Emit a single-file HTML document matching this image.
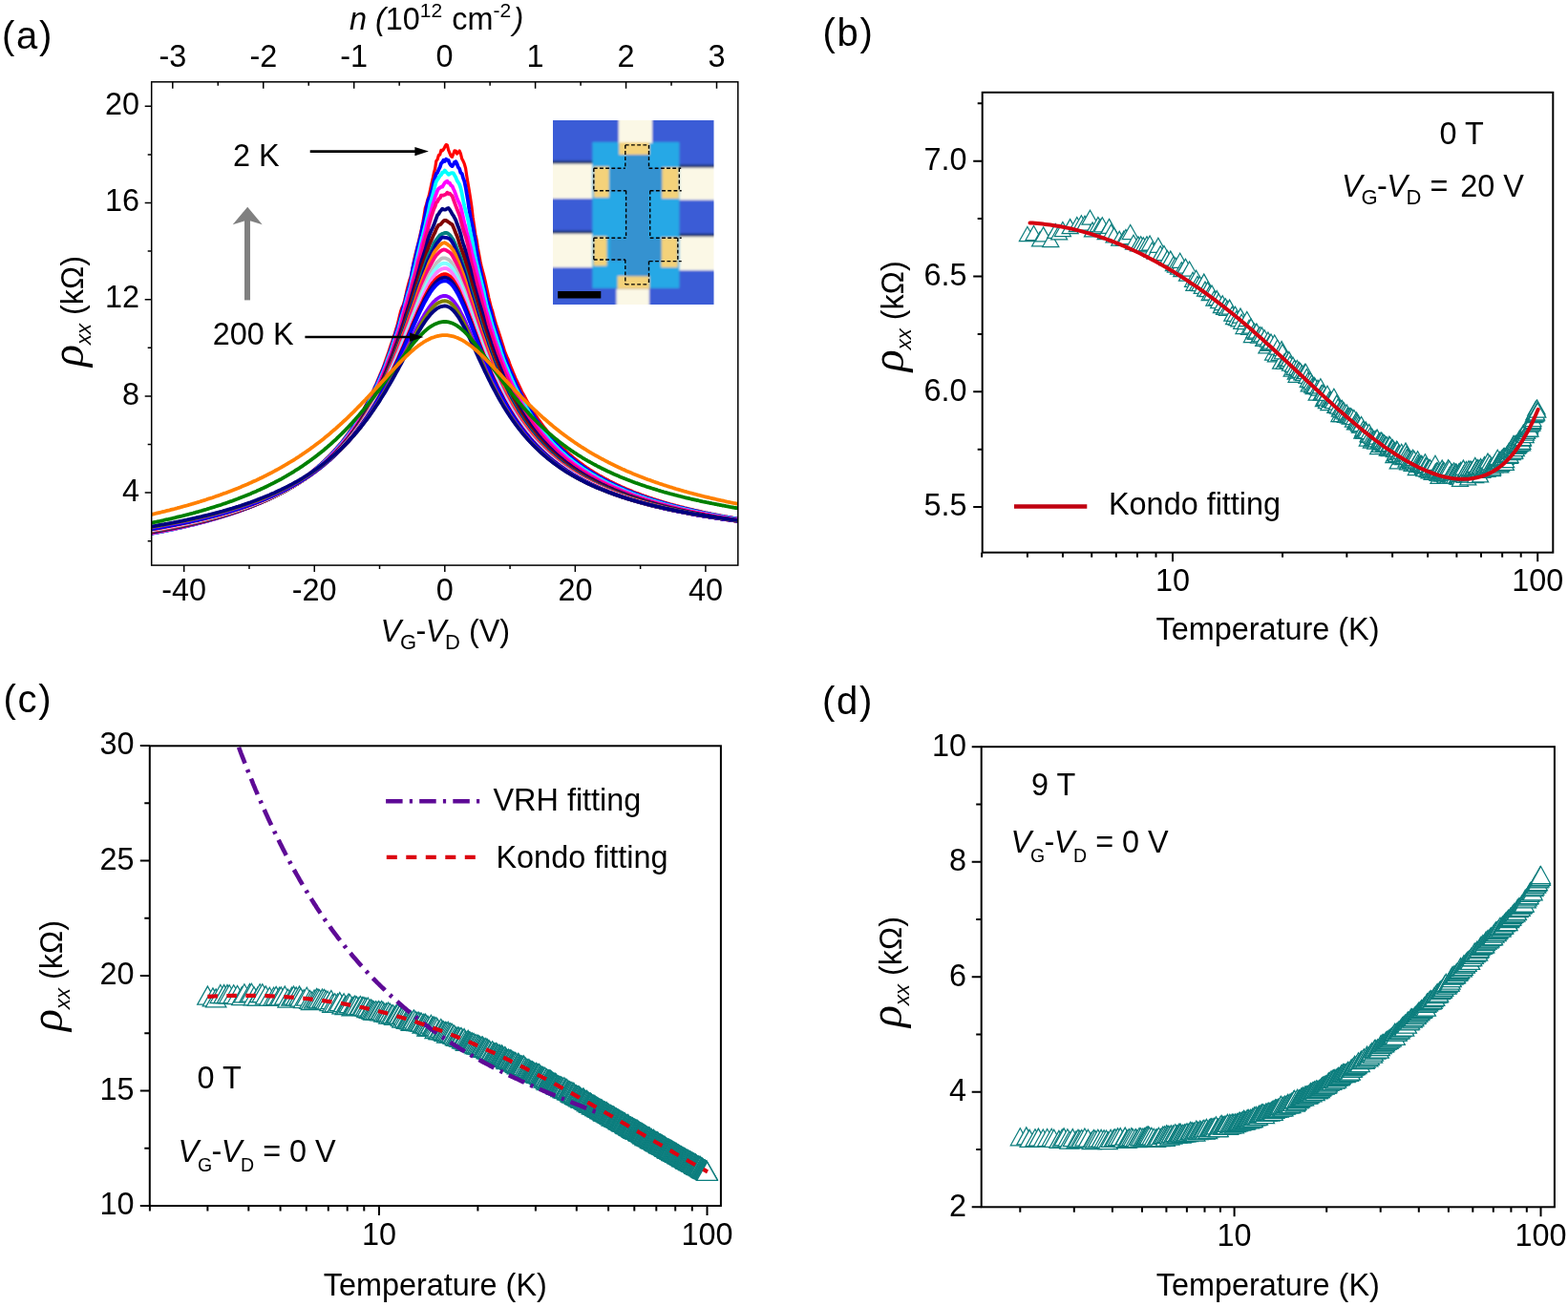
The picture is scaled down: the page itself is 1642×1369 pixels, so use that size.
<!DOCTYPE html>
<html><head><meta charset="utf-8"><title>Figure</title>
<style>html,body{margin:0;padding:0;background:#fff;} svg{display:block;}</style></head>
<body>
<svg width="1642" height="1369" viewBox="0 0 1642 1369" font-family='"Liberation Sans", Arial, sans-serif' fill="#000">
<rect width="1642" height="1369" fill="#fff"/>
<g id="pa">
<clipPath id="ca"><rect x="158.7" y="85.8" width="614.0999999999999" height="506.3"/></clipPath>
<g clip-path="url(#ca)" fill="none" stroke-linejoin="round">
<path d="M158.6,559.0 L159.8,558.8 L161.1,558.5 L162.4,558.3 L163.7,558.1 L165.0,557.8 L166.2,557.6 L167.5,557.3 L168.8,557.1 L170.1,556.8 L171.4,556.6 L172.6,556.3 L173.9,556.0 L175.2,555.8 L176.5,555.5 L177.8,555.2 L179.0,555.0 L180.3,554.7 L181.6,554.4 L182.9,554.2 L184.2,553.9 L185.4,553.6 L186.7,553.3 L188.0,553.0 L189.3,552.7 L190.6,552.4 L191.8,552.1 L193.1,551.9 L194.4,551.6 L195.7,551.3 L197.0,550.9 L198.2,550.6 L199.5,550.3 L200.8,550.0 L202.1,549.7 L203.4,549.4 L204.6,549.1 L205.9,548.7 L207.2,548.4 L208.5,548.1 L209.8,547.7 L211.0,547.4 L212.3,547.1 L213.6,546.7 L214.9,546.4 L216.2,546.0 L217.4,545.7 L218.7,545.3 L220.0,545.0 L221.3,544.6 L222.6,544.2 L223.9,543.9 L225.1,543.5 L226.4,543.1 L227.7,542.7 L229.0,542.3 L230.3,541.9 L231.5,541.5 L232.8,541.1 L234.1,540.7 L235.4,540.3 L236.7,539.9 L237.9,539.5 L239.2,539.1 L240.5,538.7 L241.8,538.2 L243.1,537.8 L244.3,537.3 L245.6,536.9 L246.9,536.5 L248.2,536.0 L249.5,535.5 L250.7,535.1 L252.0,534.6 L253.3,534.1 L254.6,533.7 L255.9,533.2 L257.1,532.7 L258.4,532.2 L259.7,531.7 L261.0,531.2 L262.3,530.7 L263.5,530.1 L264.8,529.6 L266.1,529.1 L267.4,528.5 L268.7,528.0 L269.9,527.4 L271.2,526.9 L272.5,526.3 L273.8,525.7 L275.1,525.2 L276.3,524.6 L277.6,524.0 L278.9,523.4 L280.2,522.8 L281.5,522.1 L282.7,521.5 L284.0,520.9 L285.3,520.2 L286.6,519.6 L287.9,518.9 L289.1,518.3 L290.4,517.6 L291.7,516.9 L293.0,516.2 L294.3,515.5 L295.5,514.8 L296.8,514.1 L298.1,513.3 L299.4,512.6 L300.7,511.8 L301.9,511.1 L303.2,510.3 L304.5,509.5 L305.8,508.7 L307.1,507.9 L308.3,507.1 L309.6,506.2 L310.9,505.4 L312.2,504.5 L313.5,503.7 L314.7,502.8 L316.0,501.9 L317.3,501.0 L318.6,500.0 L319.9,499.1 L321.1,498.1 L322.4,497.2 L323.7,496.2 L325.0,495.2 L326.3,494.2 L327.5,493.1 L328.8,492.1 L330.1,491.0 L331.4,489.9 L332.7,488.8 L333.9,487.7 L335.2,486.6 L336.5,485.4 L337.8,484.2 L339.1,483.0 L340.3,481.8 L341.6,480.5 L342.9,479.3 L344.2,478.0 L345.5,476.7 L346.7,475.3 L348.0,474.0 L349.3,472.6 L350.6,471.2 L351.9,469.8 L353.1,468.3 L354.4,466.8 L355.7,465.3 L357.0,463.8 L358.3,462.2 L359.5,460.6 L360.8,458.9 L362.1,457.2 L363.4,455.6 L364.7,453.8 L365.9,452.0 L367.2,450.2 L368.5,448.4 L369.8,446.5 L371.1,444.6 L372.3,442.6 L373.6,440.6 L374.9,438.6 L376.2,436.5 L377.5,434.3 L378.7,432.1 L380.0,430.0 L381.3,427.8 L382.6,425.3 L383.9,422.9 L385.2,420.4 L386.4,418.0 L387.7,415.4 L389.0,412.9 L390.3,410.2 L391.6,407.4 L392.8,404.6 L394.1,401.8 L395.4,398.7 L396.7,395.5 L398.0,392.4 L399.2,389.5 L400.5,386.8 L401.8,383.4 L403.1,379.6 L404.4,375.9 L405.6,372.4 L406.9,368.8 L408.2,364.8 L409.5,360.8 L410.8,357.3 L412.0,353.1 L413.3,349.9 L414.6,345.1 L415.9,341.3 L417.2,335.9 L418.4,330.9 L419.7,325.7 L421.0,322.1 L422.3,319.4 L423.6,314.9 L424.8,310.0 L426.1,303.8 L427.4,298.7 L428.7,293.9 L430.0,290.2 L431.2,285.3 L432.5,278.5 L433.8,271.3 L435.1,265.8 L436.4,260.9 L437.6,256.4 L438.9,250.8 L440.2,245.2 L441.5,239.5 L442.8,233.0 L444.0,226.2 L445.3,218.1 L446.6,214.0 L447.9,209.0 L449.2,205.1 L450.4,199.6 L451.7,193.3 L453.0,188.0 L454.3,181.5 L455.6,176.7 L456.8,168.7 L458.1,167.0 L459.4,162.5 L460.7,162.0 L462.0,157.3 L463.2,157.9 L464.5,156.4 L465.8,153.9 L467.1,151.6 L468.4,152.1 L469.6,157.1 L470.9,160.3 L472.2,163.4 L473.5,164.4 L474.8,161.2 L476.0,157.9 L477.3,158.0 L478.6,161.0 L479.9,159.9 L481.2,158.0 L482.4,160.9 L483.7,166.3 L485.0,168.6 L486.3,171.7 L487.6,176.3 L488.8,184.4 L490.1,192.3 L491.4,200.0 L492.7,208.2 L494.0,217.1 L495.2,227.7 L496.5,236.3 L497.8,245.3 L499.1,251.1 L500.4,259.8 L501.6,266.2 L502.9,273.4 L504.2,279.5 L505.5,284.1 L506.8,288.9 L508.0,293.9 L509.3,299.9 L510.6,305.8 L511.9,312.1 L513.2,317.3 L514.4,322.3 L515.7,325.8 L517.0,331.0 L518.3,335.6 L519.6,340.0 L520.8,343.5 L522.1,347.5 L523.4,351.5 L524.7,355.4 L526.0,359.6 L527.2,363.5 L528.5,367.9 L529.8,371.0 L531.1,374.2 L532.4,377.0 L533.6,380.6 L534.9,384.0 L536.2,387.2 L537.5,390.4 L538.8,393.4 L540.0,396.4 L541.3,399.0 L542.6,401.7 L543.9,404.4 L545.2,407.2 L546.4,409.9 L547.7,412.3 L549.0,414.6 L550.3,417.0 L551.6,419.4 L552.9,421.8 L554.1,424.0 L555.4,426.1 L556.7,428.2 L558.0,430.3 L559.3,432.3 L560.5,434.3 L561.8,436.3 L563.1,438.1 L564.4,440.0 L565.7,441.8 L566.9,443.5 L568.2,445.3 L569.5,446.9 L570.8,448.6 L572.1,450.2 L573.3,451.8 L574.6,453.4 L575.9,454.9 L577.2,456.4 L578.5,457.9 L579.7,459.3 L581.0,460.7 L582.3,462.1 L583.6,463.4 L584.9,464.8 L586.1,466.1 L587.4,467.4 L588.7,468.6 L590.0,469.8 L591.3,471.0 L592.5,472.2 L593.8,473.4 L595.1,474.5 L596.4,475.6 L597.7,476.7 L598.9,477.8 L600.2,478.9 L601.5,479.9 L602.8,481.0 L604.1,482.0 L605.3,483.0 L606.6,483.9 L607.9,484.9 L609.2,485.8 L610.5,486.8 L611.7,487.7 L613.0,488.6 L614.3,489.5 L615.6,490.3 L616.9,491.2 L618.1,492.0 L619.4,492.8 L620.7,493.7 L622.0,494.5 L623.3,495.3 L624.5,496.0 L625.8,496.8 L627.1,497.6 L628.4,498.3 L629.7,499.0 L630.9,499.7 L632.2,500.5 L633.5,501.2 L634.8,501.8 L636.1,502.5 L637.3,503.2 L638.6,503.9 L639.9,504.5 L641.2,505.2 L642.5,505.8 L643.7,506.4 L645.0,507.0 L646.3,507.6 L647.6,508.2 L648.9,508.8 L650.1,509.4 L651.4,510.0 L652.7,510.6 L654.0,511.1 L655.3,511.7 L656.5,512.2 L657.8,512.8 L659.1,513.3 L660.4,513.8 L661.7,514.3 L662.9,514.9 L664.2,515.4 L665.5,515.9 L666.8,516.4 L668.1,516.8 L669.3,517.3 L670.6,517.8 L671.9,518.3 L673.2,518.7 L674.5,519.2 L675.7,519.6 L677.0,520.1 L678.3,520.5 L679.6,521.0 L680.9,521.4 L682.1,521.8 L683.4,522.3 L684.7,522.7 L686.0,523.1 L687.3,523.5 L688.5,523.9 L689.8,524.3 L691.1,524.7 L692.4,525.1 L693.7,525.5 L694.9,525.9 L696.2,526.2 L697.5,526.6 L698.8,527.0 L700.1,527.3 L701.3,527.7 L702.6,528.1 L703.9,528.4 L705.2,528.8 L706.5,529.1 L707.7,529.5 L709.0,529.8 L710.3,530.1 L711.6,530.5 L712.9,530.8 L714.2,531.1 L715.4,531.4 L716.7,531.8 L718.0,532.1 L719.3,532.4 L720.6,532.7 L721.8,533.0 L723.1,533.3 L724.4,533.6 L725.7,533.9 L727.0,534.2 L728.2,534.5 L729.5,534.8 L730.8,535.1 L732.1,535.4 L733.4,535.7 L734.6,535.9 L735.9,536.2 L737.2,536.5 L738.5,536.8 L739.8,537.0 L741.0,537.3 L742.3,537.6 L743.6,537.8 L744.9,538.1 L746.2,538.3 L747.4,538.6 L748.7,538.8 L750.0,539.1 L751.3,539.3 L752.6,539.6 L753.8,539.8 L755.1,540.1 L756.4,540.3 L757.7,540.5 L759.0,540.8 L760.2,541.0 L761.5,541.2 L762.8,541.5 L764.1,541.7 L765.4,541.9 L766.6,542.1 L767.9,542.4 L769.2,542.6 L770.5,542.8 L771.8,543.0 L773.0,543.2" stroke="#ff0000" stroke-width="3.2"/>
<path d="M158.6,558.8 L159.8,558.6 L161.1,558.3 L162.4,558.1 L163.7,557.8 L165.0,557.6 L166.2,557.4 L167.5,557.1 L168.8,556.9 L170.1,556.6 L171.4,556.4 L172.6,556.1 L173.9,555.8 L175.2,555.6 L176.5,555.3 L177.8,555.1 L179.0,554.8 L180.3,554.5 L181.6,554.3 L182.9,554.0 L184.2,553.7 L185.4,553.4 L186.7,553.2 L188.0,552.9 L189.3,552.6 L190.6,552.3 L191.8,552.0 L193.1,551.7 L194.4,551.4 L195.7,551.1 L197.0,550.8 L198.2,550.5 L199.5,550.2 L200.8,549.9 L202.1,549.6 L203.4,549.3 L204.6,549.0 L205.9,548.6 L207.2,548.3 L208.5,548.0 L209.8,547.7 L211.0,547.3 L212.3,547.0 L213.6,546.7 L214.9,546.3 L216.2,546.0 L217.4,545.6 L218.7,545.3 L220.0,544.9 L221.3,544.5 L222.6,544.2 L223.9,543.8 L225.1,543.4 L226.4,543.1 L227.7,542.7 L229.0,542.3 L230.3,541.9 L231.5,541.5 L232.8,541.1 L234.1,540.7 L235.4,540.3 L236.7,539.9 L237.9,539.5 L239.2,539.1 L240.5,538.7 L241.8,538.3 L243.1,537.8 L244.3,537.4 L245.6,537.0 L246.9,536.5 L248.2,536.1 L249.5,535.6 L250.7,535.1 L252.0,534.7 L253.3,534.2 L254.6,533.7 L255.9,533.3 L257.1,532.8 L258.4,532.3 L259.7,531.8 L261.0,531.3 L262.3,530.8 L263.5,530.3 L264.8,529.7 L266.1,529.2 L267.4,528.7 L268.7,528.1 L269.9,527.6 L271.2,527.0 L272.5,526.5 L273.8,525.9 L275.1,525.3 L276.3,524.8 L277.6,524.2 L278.9,523.6 L280.2,523.0 L281.5,522.4 L282.7,521.8 L284.0,521.1 L285.3,520.5 L286.6,519.8 L287.9,519.2 L289.1,518.5 L290.4,517.9 L291.7,517.2 L293.0,516.5 L294.3,515.8 L295.5,515.1 L296.8,514.4 L298.1,513.7 L299.4,512.9 L300.7,512.2 L301.9,511.4 L303.2,510.7 L304.5,509.9 L305.8,509.1 L307.1,508.3 L308.3,507.5 L309.6,506.7 L310.9,505.8 L312.2,505.0 L313.5,504.1 L314.7,503.2 L316.0,502.3 L317.3,501.4 L318.6,500.5 L319.9,499.6 L321.1,498.7 L322.4,497.7 L323.7,496.7 L325.0,495.7 L326.3,494.7 L327.5,493.7 L328.8,492.7 L330.1,491.6 L331.4,490.5 L332.7,489.5 L333.9,488.3 L335.2,487.2 L336.5,486.1 L337.8,484.9 L339.1,483.7 L340.3,482.5 L341.6,481.3 L342.9,480.0 L344.2,478.8 L345.5,477.5 L346.7,476.2 L348.0,474.8 L349.3,473.4 L350.6,472.1 L351.9,470.6 L353.1,469.2 L354.4,467.7 L355.7,466.2 L357.0,464.7 L358.3,463.1 L359.5,461.6 L360.8,460.0 L362.1,458.3 L363.4,456.6 L364.7,454.9 L365.9,453.2 L367.2,451.4 L368.5,449.5 L369.8,447.7 L371.1,445.8 L372.3,443.9 L373.6,441.8 L374.9,439.9 L376.2,437.8 L377.5,435.8 L378.7,433.6 L380.0,431.3 L381.3,429.1 L382.6,426.8 L383.9,424.5 L385.2,422.1 L386.4,419.6 L387.7,417.1 L389.0,414.6 L390.3,411.9 L391.6,408.9 L392.8,405.9 L394.1,403.2 L395.4,400.5 L396.7,397.6 L398.0,394.6 L399.2,391.7 L400.5,388.8 L401.8,385.5 L403.1,382.2 L404.4,379.2 L405.6,376.2 L406.9,372.3 L408.2,368.5 L409.5,364.5 L410.8,360.8 L412.0,356.5 L413.3,352.6 L414.6,348.4 L415.9,344.8 L417.2,340.6 L418.4,336.9 L419.7,331.6 L421.0,326.9 L422.3,322.2 L423.6,318.2 L424.8,313.5 L426.1,307.8 L427.4,303.6 L428.7,299.0 L430.0,294.6 L431.2,286.6 L432.5,279.9 L433.8,274.2 L435.1,270.0 L436.4,263.6 L437.6,258.1 L438.9,253.4 L440.2,248.4 L441.5,242.2 L442.8,235.6 L444.0,231.6 L445.3,224.7 L446.6,218.1 L447.9,211.6 L449.2,207.6 L450.4,206.3 L451.7,201.2 L453.0,197.4 L454.3,190.3 L455.6,185.9 L456.8,182.1 L458.1,180.7 L459.4,177.7 L460.7,175.2 L462.0,171.1 L463.2,170.0 L464.5,167.8 L465.8,168.9 L467.1,166.7 L468.4,167.8 L469.6,167.8 L470.9,171.3 L472.2,173.2 L473.5,174.1 L474.8,172.3 L476.0,169.9 L477.3,169.3 L478.6,171.6 L479.9,175.3 L481.2,176.7 L482.4,181.0 L483.7,181.8 L485.0,186.3 L486.3,189.9 L487.6,196.0 L488.8,203.0 L490.1,210.6 L491.4,219.7 L492.7,227.3 L494.0,233.3 L495.2,238.4 L496.5,245.2 L497.8,253.5 L499.1,262.5 L500.4,269.1 L501.6,275.9 L502.9,281.5 L504.2,288.4 L505.5,293.9 L506.8,299.5 L508.0,304.6 L509.3,310.4 L510.6,315.3 L511.9,319.1 L513.2,323.5 L514.4,328.1 L515.7,333.4 L517.0,337.6 L518.3,342.2 L519.6,346.7 L520.8,350.7 L522.1,354.4 L523.4,358.2 L524.7,361.9 L526.0,365.9 L527.2,369.5 L528.5,373.5 L529.8,376.5 L531.1,380.2 L532.4,383.5 L533.6,387.0 L534.9,389.7 L536.2,392.5 L537.5,395.2 L538.8,398.4 L540.0,401.2 L541.3,404.1 L542.6,406.6 L543.9,409.3 L545.2,411.8 L546.4,414.4 L547.7,416.9 L549.0,419.2 L550.3,421.4 L551.6,423.6 L552.9,425.8 L554.1,427.8 L555.4,429.9 L556.7,432.0 L558.0,434.1 L559.3,436.1 L560.5,438.0 L561.8,439.8 L563.1,441.6 L564.4,443.4 L565.7,445.2 L566.9,446.9 L568.2,448.5 L569.5,450.2 L570.8,451.8 L572.1,453.3 L573.3,454.9 L574.6,456.4 L575.9,457.9 L577.2,459.3 L578.5,460.7 L579.7,462.1 L581.0,463.5 L582.3,464.8 L583.6,466.1 L584.9,467.4 L586.1,468.7 L587.4,469.9 L588.7,471.1 L590.0,472.3 L591.3,473.5 L592.5,474.6 L593.8,475.8 L595.1,476.9 L596.4,478.0 L597.7,479.0 L598.9,480.1 L600.2,481.1 L601.5,482.1 L602.8,483.1 L604.1,484.1 L605.3,485.1 L606.6,486.0 L607.9,486.9 L609.2,487.9 L610.5,488.8 L611.7,489.6 L613.0,490.5 L614.3,491.4 L615.6,492.2 L616.9,493.0 L618.1,493.9 L619.4,494.7 L620.7,495.5 L622.0,496.2 L623.3,497.0 L624.5,497.8 L625.8,498.5 L627.1,499.2 L628.4,500.0 L629.7,500.7 L630.9,501.4 L632.2,502.1 L633.5,502.7 L634.8,503.4 L636.1,504.1 L637.3,504.7 L638.6,505.4 L639.9,506.0 L641.2,506.6 L642.5,507.2 L643.7,507.8 L645.0,508.4 L646.3,509.0 L647.6,509.6 L648.9,510.2 L650.1,510.8 L651.4,511.3 L652.7,511.9 L654.0,512.4 L655.3,513.0 L656.5,513.5 L657.8,514.0 L659.1,514.5 L660.4,515.0 L661.7,515.6 L662.9,516.1 L664.2,516.5 L665.5,517.0 L666.8,517.5 L668.1,518.0 L669.3,518.5 L670.6,518.9 L671.9,519.4 L673.2,519.8 L674.5,520.3 L675.7,520.7 L677.0,521.2 L678.3,521.6 L679.6,522.0 L680.9,522.4 L682.1,522.8 L683.4,523.3 L684.7,523.7 L686.0,524.1 L687.3,524.5 L688.5,524.9 L689.8,525.2 L691.1,525.6 L692.4,526.0 L693.7,526.4 L694.9,526.8 L696.2,527.1 L697.5,527.5 L698.8,527.9 L700.1,528.2 L701.3,528.6 L702.6,528.9 L703.9,529.3 L705.2,529.6 L706.5,529.9 L707.7,530.3 L709.0,530.6 L710.3,530.9 L711.6,531.2 L712.9,531.6 L714.2,531.9 L715.4,532.2 L716.7,532.5 L718.0,532.8 L719.3,533.1 L720.6,533.4 L721.8,533.7 L723.1,534.0 L724.4,534.3 L725.7,534.6 L727.0,534.9 L728.2,535.2 L729.5,535.5 L730.8,535.7 L732.1,536.0 L733.4,536.3 L734.6,536.6 L735.9,536.8 L737.2,537.1 L738.5,537.4 L739.8,537.6 L741.0,537.9 L742.3,538.1 L743.6,538.4 L744.9,538.7 L746.2,538.9 L747.4,539.2 L748.7,539.4 L750.0,539.6 L751.3,539.9 L752.6,540.1 L753.8,540.4 L755.1,540.6 L756.4,540.8 L757.7,541.1 L759.0,541.3 L760.2,541.5 L761.5,541.7 L762.8,542.0 L764.1,542.2 L765.4,542.4 L766.6,542.6 L767.9,542.8 L769.2,543.0 L770.5,543.3 L771.8,543.5 L773.0,543.7" stroke="#0000ff" stroke-width="3.8"/>
<path d="M158.6,558.5 L159.8,558.3 L161.1,558.1 L162.4,557.8 L163.7,557.6 L165.0,557.4 L166.2,557.1 L167.5,556.9 L168.8,556.6 L170.1,556.4 L171.4,556.1 L172.6,555.9 L173.9,555.6 L175.2,555.4 L176.5,555.1 L177.8,554.9 L179.0,554.6 L180.3,554.3 L181.6,554.1 L182.9,553.8 L184.2,553.5 L185.4,553.2 L186.7,553.0 L188.0,552.7 L189.3,552.4 L190.6,552.1 L191.8,551.8 L193.1,551.5 L194.4,551.3 L195.7,551.0 L197.0,550.7 L198.2,550.4 L199.5,550.1 L200.8,549.8 L202.1,549.5 L203.4,549.1 L204.6,548.8 L205.9,548.5 L207.2,548.2 L208.5,547.9 L209.8,547.5 L211.0,547.2 L212.3,546.9 L213.6,546.5 L214.9,546.2 L216.2,545.9 L217.4,545.5 L218.7,545.2 L220.0,544.8 L221.3,544.5 L222.6,544.1 L223.9,543.7 L225.1,543.4 L226.4,543.0 L227.7,542.6 L229.0,542.2 L230.3,541.9 L231.5,541.5 L232.8,541.1 L234.1,540.7 L235.4,540.3 L236.7,539.9 L237.9,539.5 L239.2,539.1 L240.5,538.7 L241.8,538.2 L243.1,537.8 L244.3,537.4 L245.6,537.0 L246.9,536.5 L248.2,536.1 L249.5,535.6 L250.7,535.2 L252.0,534.7 L253.3,534.3 L254.6,533.8 L255.9,533.3 L257.1,532.8 L258.4,532.3 L259.7,531.9 L261.0,531.4 L262.3,530.9 L263.5,530.3 L264.8,529.8 L266.1,529.3 L267.4,528.8 L268.7,528.3 L269.9,527.7 L271.2,527.2 L272.5,526.6 L273.8,526.1 L275.1,525.5 L276.3,524.9 L277.6,524.3 L278.9,523.7 L280.2,523.2 L281.5,522.6 L282.7,521.9 L284.0,521.3 L285.3,520.7 L286.6,520.1 L287.9,519.4 L289.1,518.8 L290.4,518.1 L291.7,517.4 L293.0,516.8 L294.3,516.1 L295.5,515.4 L296.8,514.7 L298.1,513.9 L299.4,513.2 L300.7,512.5 L301.9,511.7 L303.2,511.0 L304.5,510.2 L305.8,509.4 L307.1,508.6 L308.3,507.8 L309.6,507.0 L310.9,506.2 L312.2,505.4 L313.5,504.5 L314.7,503.6 L316.0,502.8 L317.3,501.9 L318.6,501.0 L319.9,500.1 L321.1,499.1 L322.4,498.2 L323.7,497.2 L325.0,496.2 L326.3,495.3 L327.5,494.2 L328.8,493.2 L330.1,492.2 L331.4,491.1 L332.7,490.0 L333.9,488.9 L335.2,487.8 L336.5,486.7 L337.8,485.6 L339.1,484.4 L340.3,483.2 L341.6,482.0 L342.9,480.7 L344.2,479.5 L345.5,478.2 L346.7,476.9 L348.0,475.6 L349.3,474.3 L350.6,472.9 L351.9,471.5 L353.1,470.1 L354.4,468.6 L355.7,467.1 L357.0,465.6 L358.3,464.1 L359.5,462.5 L360.8,460.9 L362.1,459.3 L363.4,457.7 L364.7,455.9 L365.9,454.2 L367.2,452.5 L368.5,450.7 L369.8,448.9 L371.1,447.0 L372.3,445.1 L373.6,443.1 L374.9,441.2 L376.2,439.2 L377.5,437.2 L378.7,435.1 L380.0,432.9 L381.3,430.6 L382.6,428.2 L383.9,426.0 L385.2,423.7 L386.4,421.2 L387.7,418.7 L389.0,416.1 L390.3,413.5 L391.6,410.7 L392.8,407.9 L394.1,405.2 L395.4,402.6 L396.7,399.7 L398.0,396.9 L399.2,394.1 L400.5,391.1 L401.8,388.0 L403.1,384.6 L404.4,381.3 L405.6,377.3 L406.9,373.9 L408.2,370.4 L409.5,367.4 L410.8,363.4 L412.0,359.3 L413.3,355.5 L414.6,351.9 L415.9,348.7 L417.2,344.8 L418.4,340.1 L419.7,335.2 L421.0,330.8 L422.3,326.7 L423.6,322.2 L424.8,316.9 L426.1,312.2 L427.4,307.5 L428.7,303.8 L430.0,299.2 L431.2,293.2 L432.5,288.3 L433.8,282.7 L435.1,278.3 L436.4,271.9 L437.6,267.0 L438.9,261.8 L440.2,256.3 L441.5,250.4 L442.8,246.5 L444.0,241.4 L445.3,236.8 L446.6,230.6 L447.9,225.3 L449.2,219.1 L450.4,213.1 L451.7,209.1 L453.0,204.4 L454.3,199.9 L455.6,194.4 L456.8,190.3 L458.1,188.1 L459.4,186.3 L460.7,184.2 L462.0,183.0 L463.2,180.7 L464.5,180.5 L465.8,178.5 L467.1,180.2 L468.4,181.4 L469.6,182.9 L470.9,182.3 L472.2,181.4 L473.5,181.1 L474.8,181.3 L476.0,183.5 L477.3,185.7 L478.6,189.1 L479.9,191.1 L481.2,193.3 L482.4,196.8 L483.7,202.7 L485.0,209.5 L486.3,215.6 L487.6,220.8 L488.8,225.1 L490.1,230.1 L491.4,236.8 L492.7,243.8 L494.0,249.7 L495.2,255.5 L496.5,262.8 L497.8,270.0 L499.1,275.6 L500.4,280.7 L501.6,285.6 L502.9,290.6 L504.2,295.8 L505.5,301.1 L506.8,306.5 L508.0,312.8 L509.3,318.4 L510.6,323.3 L511.9,327.5 L513.2,331.7 L514.4,336.4 L515.7,341.0 L517.0,345.1 L518.3,349.0 L519.6,352.7 L520.8,356.9 L522.1,360.7 L523.4,364.4 L524.7,368.8 L526.0,372.7 L527.2,376.3 L528.5,379.4 L529.8,382.6 L531.1,385.5 L532.4,388.6 L533.6,391.9 L534.9,394.7 L536.2,397.7 L537.5,400.5 L538.8,403.5 L540.0,406.1 L541.3,408.7 L542.6,411.2 L543.9,413.8 L545.2,416.2 L546.4,418.6 L547.7,420.9 L549.0,423.2 L550.3,425.4 L551.6,427.6 L552.9,429.6 L554.1,431.7 L555.4,433.7 L556.7,435.7 L558.0,437.7 L559.3,439.6 L560.5,441.4 L561.8,443.2 L563.1,445.0 L564.4,446.7 L565.7,448.4 L566.9,450.1 L568.2,451.7 L569.5,453.3 L570.8,454.8 L572.1,456.3 L573.3,457.8 L574.6,459.3 L575.9,460.7 L577.2,462.1 L578.5,463.5 L579.7,464.9 L581.0,466.2 L582.3,467.5 L583.6,468.7 L584.9,470.0 L586.1,471.2 L587.4,472.4 L588.7,473.6 L590.0,474.7 L591.3,475.9 L592.5,477.0 L593.8,478.1 L595.1,479.2 L596.4,480.2 L597.7,481.2 L598.9,482.3 L600.2,483.3 L601.5,484.2 L602.8,485.2 L604.1,486.2 L605.3,487.1 L606.6,488.0 L607.9,488.9 L609.2,489.8 L610.5,490.7 L611.7,491.5 L613.0,492.4 L614.3,493.2 L615.6,494.0 L616.9,494.8 L618.1,495.6 L619.4,496.4 L620.7,497.2 L622.0,497.9 L623.3,498.7 L624.5,499.4 L625.8,500.1 L627.1,500.9 L628.4,501.6 L629.7,502.2 L630.9,502.9 L632.2,503.6 L633.5,504.3 L634.8,504.9 L636.1,505.6 L637.3,506.2 L638.6,506.8 L639.9,507.4 L641.2,508.0 L642.5,508.6 L643.7,509.2 L645.0,509.8 L646.3,510.4 L647.6,510.9 L648.9,511.5 L650.1,512.1 L651.4,512.6 L652.7,513.1 L654.0,513.7 L655.3,514.2 L656.5,514.7 L657.8,515.2 L659.1,515.7 L660.4,516.2 L661.7,516.7 L662.9,517.2 L664.2,517.7 L665.5,518.2 L666.8,518.6 L668.1,519.1 L669.3,519.5 L670.6,520.0 L671.9,520.4 L673.2,520.9 L674.5,521.3 L675.7,521.7 L677.0,522.2 L678.3,522.6 L679.6,523.0 L680.9,523.4 L682.1,523.8 L683.4,524.2 L684.7,524.6 L686.0,525.0 L687.3,525.4 L688.5,525.8 L689.8,526.1 L691.1,526.5 L692.4,526.9 L693.7,527.3 L694.9,527.6 L696.2,528.0 L697.5,528.3 L698.8,528.7 L700.1,529.0 L701.3,529.4 L702.6,529.7 L703.9,530.0 L705.2,530.4 L706.5,530.7 L707.7,531.0 L709.0,531.4 L710.3,531.7 L711.6,532.0 L712.9,532.3 L714.2,532.6 L715.4,532.9 L716.7,533.2 L718.0,533.5 L719.3,533.8 L720.6,534.1 L721.8,534.4 L723.1,534.7 L724.4,535.0 L725.7,535.3 L727.0,535.5 L728.2,535.8 L729.5,536.1 L730.8,536.4 L732.1,536.6 L733.4,536.9 L734.6,537.2 L735.9,537.4 L737.2,537.7 L738.5,537.9 L739.8,538.2 L741.0,538.5 L742.3,538.7 L743.6,539.0 L744.9,539.2 L746.2,539.4 L747.4,539.7 L748.7,539.9 L750.0,540.2 L751.3,540.4 L752.6,540.6 L753.8,540.9 L755.1,541.1 L756.4,541.3 L757.7,541.5 L759.0,541.8 L760.2,542.0 L761.5,542.2 L762.8,542.4 L764.1,542.6 L765.4,542.9 L766.6,543.1 L767.9,543.3 L769.2,543.5 L770.5,543.7 L771.8,543.9 L773.0,544.1" stroke="#00ffff" stroke-width="3.8"/>
<path d="M158.6,558.3 L159.8,558.0 L161.1,557.8 L162.4,557.6 L163.7,557.3 L165.0,557.1 L166.2,556.9 L167.5,556.6 L168.8,556.4 L170.1,556.1 L171.4,555.9 L172.6,555.6 L173.9,555.4 L175.2,555.1 L176.5,554.9 L177.8,554.6 L179.0,554.4 L180.3,554.1 L181.6,553.8 L182.9,553.6 L184.2,553.3 L185.4,553.0 L186.7,552.8 L188.0,552.5 L189.3,552.2 L190.6,551.9 L191.8,551.6 L193.1,551.4 L194.4,551.1 L195.7,550.8 L197.0,550.5 L198.2,550.2 L199.5,549.9 L200.8,549.6 L202.1,549.3 L203.4,549.0 L204.6,548.7 L205.9,548.3 L207.2,548.0 L208.5,547.7 L209.8,547.4 L211.0,547.1 L212.3,546.7 L213.6,546.4 L214.9,546.1 L216.2,545.7 L217.4,545.4 L218.7,545.0 L220.0,544.7 L221.3,544.3 L222.6,544.0 L223.9,543.6 L225.1,543.3 L226.4,542.9 L227.7,542.5 L229.0,542.2 L230.3,541.8 L231.5,541.4 L232.8,541.0 L234.1,540.6 L235.4,540.2 L236.7,539.8 L237.9,539.4 L239.2,539.0 L240.5,538.6 L241.8,538.2 L243.1,537.8 L244.3,537.4 L245.6,536.9 L246.9,536.5 L248.2,536.1 L249.5,535.6 L250.7,535.2 L252.0,534.7 L253.3,534.2 L254.6,533.8 L255.9,533.3 L257.1,532.8 L258.4,532.4 L259.7,531.9 L261.0,531.4 L262.3,530.9 L263.5,530.4 L264.8,529.9 L266.1,529.4 L267.4,528.8 L268.7,528.3 L269.9,527.8 L271.2,527.2 L272.5,526.7 L273.8,526.1 L275.1,525.6 L276.3,525.0 L277.6,524.4 L278.9,523.9 L280.2,523.3 L281.5,522.7 L282.7,522.1 L284.0,521.5 L285.3,520.8 L286.6,520.2 L287.9,519.6 L289.1,518.9 L290.4,518.3 L291.7,517.6 L293.0,516.9 L294.3,516.3 L295.5,515.6 L296.8,514.9 L298.1,514.2 L299.4,513.5 L300.7,512.7 L301.9,512.0 L303.2,511.2 L304.5,510.5 L305.8,509.7 L307.1,508.9 L308.3,508.1 L309.6,507.3 L310.9,506.5 L312.2,505.7 L313.5,504.8 L314.7,504.0 L316.0,503.1 L317.3,502.2 L318.6,501.3 L319.9,500.4 L321.1,499.5 L322.4,498.6 L323.7,497.6 L325.0,496.7 L326.3,495.7 L327.5,494.7 L328.8,493.7 L330.1,492.7 L331.4,491.6 L332.7,490.5 L333.9,489.5 L335.2,488.4 L336.5,487.2 L337.8,486.1 L339.1,485.0 L340.3,483.8 L341.6,482.6 L342.9,481.4 L344.2,480.1 L345.5,478.9 L346.7,477.6 L348.0,476.3 L349.3,474.9 L350.6,473.6 L351.9,472.2 L353.1,470.8 L354.4,469.4 L355.7,467.9 L357.0,466.4 L358.3,464.9 L359.5,463.4 L360.8,461.8 L362.1,460.2 L363.4,458.6 L364.7,456.9 L365.9,455.2 L367.2,453.5 L368.5,451.7 L369.8,449.9 L371.1,448.1 L372.3,446.2 L373.6,444.3 L374.9,442.3 L376.2,440.3 L377.5,438.2 L378.7,436.2 L380.0,434.1 L381.3,432.0 L382.6,429.8 L383.9,427.5 L385.2,425.2 L386.4,422.8 L387.7,420.4 L389.0,417.8 L390.3,415.3 L391.6,412.7 L392.8,410.0 L394.1,407.2 L395.4,404.4 L396.7,401.6 L398.0,398.9 L399.2,396.1 L400.5,392.9 L401.8,389.7 L403.1,386.6 L404.4,383.4 L405.6,380.0 L406.9,376.6 L408.2,373.1 L409.5,369.9 L410.8,366.4 L412.0,362.9 L413.3,358.4 L414.6,354.4 L415.9,350.5 L417.2,347.2 L418.4,343.0 L419.7,338.5 L421.0,334.0 L422.3,328.8 L423.6,324.5 L424.8,319.5 L426.1,315.5 L427.4,310.7 L428.7,307.2 L430.0,302.5 L431.2,298.0 L432.5,292.5 L433.8,288.6 L435.1,283.2 L436.4,278.2 L437.6,272.2 L438.9,267.8 L440.2,262.6 L441.5,257.1 L442.8,252.7 L444.0,248.2 L445.3,243.3 L446.6,237.6 L447.9,232.4 L449.2,228.4 L450.4,224.7 L451.7,220.2 L453.0,214.8 L454.3,211.1 L455.6,206.2 L456.8,203.1 L458.1,199.5 L459.4,197.4 L460.7,196.8 L462.0,195.7 L463.2,195.7 L464.5,193.5 L465.8,191.5 L467.1,190.3 L468.4,189.8 L469.6,191.6 L470.9,191.7 L472.2,194.2 L473.5,194.9 L474.8,197.8 L476.0,200.3 L477.3,203.9 L478.6,207.8 L479.9,210.7 L481.2,213.4 L482.4,216.6 L483.7,222.0 L485.0,227.7 L486.3,233.7 L487.6,237.9 L488.8,243.9 L490.1,247.9 L491.4,253.8 L492.7,258.5 L494.0,264.5 L495.2,269.1 L496.5,273.9 L497.8,279.0 L499.1,284.8 L500.4,289.7 L501.6,294.9 L502.9,300.2 L504.2,305.2 L505.5,310.7 L506.8,315.5 L508.0,321.2 L509.3,326.1 L510.6,330.4 L511.9,335.0 L513.2,339.1 L514.4,343.6 L515.7,347.3 L517.0,352.2 L518.3,356.3 L519.6,360.1 L520.8,363.5 L522.1,367.2 L523.4,371.4 L524.7,374.6 L526.0,378.2 L527.2,381.0 L528.5,384.6 L529.8,387.6 L531.1,390.9 L532.4,393.6 L533.6,396.7 L534.9,399.6 L536.2,402.3 L537.5,405.1 L538.8,407.7 L540.0,410.5 L541.3,413.1 L542.6,415.4 L543.9,417.7 L545.2,420.1 L546.4,422.6 L547.7,424.8 L549.0,427.0 L550.3,429.0 L551.6,431.1 L552.9,433.2 L554.1,435.3 L555.4,437.3 L556.7,439.2 L558.0,441.1 L559.3,442.9 L560.5,444.6 L561.8,446.4 L563.1,448.1 L564.4,449.8 L565.7,451.4 L566.9,453.0 L568.2,454.6 L569.5,456.1 L570.8,457.6 L572.1,459.1 L573.3,460.5 L574.6,462.0 L575.9,463.3 L577.2,464.7 L578.5,466.0 L579.7,467.4 L581.0,468.6 L582.3,469.9 L583.6,471.1 L584.9,472.3 L586.1,473.5 L587.4,474.7 L588.7,475.8 L590.0,476.9 L591.3,478.0 L592.5,479.1 L593.8,480.2 L595.1,481.2 L596.4,482.3 L597.7,483.3 L598.9,484.3 L600.2,485.2 L601.5,486.2 L602.8,487.1 L604.1,488.0 L605.3,488.9 L606.6,489.8 L607.9,490.7 L609.2,491.6 L610.5,492.4 L611.7,493.3 L613.0,494.1 L614.3,494.9 L615.6,495.7 L616.9,496.5 L618.1,497.2 L619.4,498.0 L620.7,498.8 L622.0,499.5 L623.3,500.2 L624.5,500.9 L625.8,501.6 L627.1,502.3 L628.4,503.0 L629.7,503.7 L630.9,504.3 L632.2,505.0 L633.5,505.6 L634.8,506.3 L636.1,506.9 L637.3,507.5 L638.6,508.1 L639.9,508.7 L641.2,509.3 L642.5,509.9 L643.7,510.5 L645.0,511.0 L646.3,511.6 L647.6,512.1 L648.9,512.7 L650.1,513.2 L651.4,513.8 L652.7,514.3 L654.0,514.8 L655.3,515.3 L656.5,515.8 L657.8,516.3 L659.1,516.8 L660.4,517.3 L661.7,517.8 L662.9,518.2 L664.2,518.7 L665.5,519.2 L666.8,519.6 L668.1,520.1 L669.3,520.5 L670.6,521.0 L671.9,521.4 L673.2,521.8 L674.5,522.2 L675.7,522.7 L677.0,523.1 L678.3,523.5 L679.6,523.9 L680.9,524.3 L682.1,524.7 L683.4,525.1 L684.7,525.5 L686.0,525.8 L687.3,526.2 L688.5,526.6 L689.8,527.0 L691.1,527.3 L692.4,527.7 L693.7,528.0 L694.9,528.4 L696.2,528.7 L697.5,529.1 L698.8,529.4 L700.1,529.8 L701.3,530.1 L702.6,530.4 L703.9,530.8 L705.2,531.1 L706.5,531.4 L707.7,531.7 L709.0,532.0 L710.3,532.3 L711.6,532.7 L712.9,533.0 L714.2,533.3 L715.4,533.6 L716.7,533.9 L718.0,534.1 L719.3,534.4 L720.6,534.7 L721.8,535.0 L723.1,535.3 L724.4,535.6 L725.7,535.8 L727.0,536.1 L728.2,536.4 L729.5,536.7 L730.8,536.9 L732.1,537.2 L733.4,537.4 L734.6,537.7 L735.9,538.0 L737.2,538.2 L738.5,538.5 L739.8,538.7 L741.0,539.0 L742.3,539.2 L743.6,539.4 L744.9,539.7 L746.2,539.9 L747.4,540.2 L748.7,540.4 L750.0,540.6 L751.3,540.9 L752.6,541.1 L753.8,541.3 L755.1,541.5 L756.4,541.8 L757.7,542.0 L759.0,542.2 L760.2,542.4 L761.5,542.6 L762.8,542.8 L764.1,543.0 L765.4,543.3 L766.6,543.5 L767.9,543.7 L769.2,543.9 L770.5,544.1 L771.8,544.3 L773.0,544.5" stroke="#ff00ff" stroke-width="3.8"/>
<path d="M158.6,558.0 L159.8,557.7 L161.1,557.5 L162.4,557.3 L163.7,557.1 L165.0,556.8 L166.2,556.6 L167.5,556.3 L168.8,556.1 L170.1,555.9 L171.4,555.6 L172.6,555.4 L173.9,555.1 L175.2,554.9 L176.5,554.6 L177.8,554.4 L179.0,554.1 L180.3,553.8 L181.6,553.6 L182.9,553.3 L184.2,553.1 L185.4,552.8 L186.7,552.5 L188.0,552.2 L189.3,552.0 L190.6,551.7 L191.8,551.4 L193.1,551.1 L194.4,550.8 L195.7,550.6 L197.0,550.3 L198.2,550.0 L199.5,549.7 L200.8,549.4 L202.1,549.1 L203.4,548.8 L204.6,548.5 L205.9,548.2 L207.2,547.8 L208.5,547.5 L209.8,547.2 L211.0,546.9 L212.3,546.6 L213.6,546.2 L214.9,545.9 L216.2,545.6 L217.4,545.2 L218.7,544.9 L220.0,544.5 L221.3,544.2 L222.6,543.8 L223.9,543.5 L225.1,543.1 L226.4,542.8 L227.7,542.4 L229.0,542.0 L230.3,541.7 L231.5,541.3 L232.8,540.9 L234.1,540.5 L235.4,540.1 L236.7,539.7 L237.9,539.3 L239.2,538.9 L240.5,538.5 L241.8,538.1 L243.1,537.7 L244.3,537.3 L245.6,536.8 L246.9,536.4 L248.2,536.0 L249.5,535.5 L250.7,535.1 L252.0,534.7 L253.3,534.2 L254.6,533.7 L255.9,533.3 L257.1,532.8 L258.4,532.3 L259.7,531.9 L261.0,531.4 L262.3,530.9 L263.5,530.4 L264.8,529.9 L266.1,529.4 L267.4,528.9 L268.7,528.3 L269.9,527.8 L271.2,527.3 L272.5,526.7 L273.8,526.2 L275.1,525.6 L276.3,525.1 L277.6,524.5 L278.9,523.9 L280.2,523.3 L281.5,522.7 L282.7,522.2 L284.0,521.5 L285.3,520.9 L286.6,520.3 L287.9,519.7 L289.1,519.0 L290.4,518.4 L291.7,517.7 L293.0,517.1 L294.3,516.4 L295.5,515.7 L296.8,515.0 L298.1,514.3 L299.4,513.6 L300.7,512.9 L301.9,512.2 L303.2,511.4 L304.5,510.7 L305.8,509.9 L307.1,509.1 L308.3,508.4 L309.6,507.6 L310.9,506.8 L312.2,505.9 L313.5,505.1 L314.7,504.3 L316.0,503.4 L317.3,502.5 L318.6,501.7 L319.9,500.8 L321.1,499.8 L322.4,498.9 L323.7,498.0 L325.0,497.0 L326.3,496.1 L327.5,495.1 L328.8,494.1 L330.1,493.1 L331.4,492.0 L332.7,491.0 L333.9,489.9 L335.2,488.8 L336.5,487.7 L337.8,486.6 L339.1,485.5 L340.3,484.3 L341.6,483.1 L342.9,481.9 L344.2,480.7 L345.5,479.4 L346.7,478.2 L348.0,476.9 L349.3,475.6 L350.6,474.2 L351.9,472.9 L353.1,471.5 L354.4,470.1 L355.7,468.6 L357.0,467.2 L358.3,465.7 L359.5,464.2 L360.8,462.6 L362.1,461.0 L363.4,459.4 L364.7,457.8 L365.9,456.1 L367.2,454.4 L368.5,452.6 L369.8,450.9 L371.1,449.0 L372.3,447.2 L373.6,445.3 L374.9,443.4 L376.2,441.5 L377.5,439.4 L378.7,437.3 L380.0,435.2 L381.3,433.1 L382.6,430.9 L383.9,428.6 L385.2,426.3 L386.4,424.0 L387.7,421.7 L389.0,419.3 L390.3,416.8 L391.6,414.3 L392.8,411.6 L394.1,409.1 L395.4,406.2 L396.7,403.5 L398.0,400.5 L399.2,397.8 L400.5,395.0 L401.8,391.9 L403.1,388.6 L404.4,385.4 L405.6,382.0 L406.9,378.9 L408.2,375.5 L409.5,372.5 L410.8,368.8 L412.0,365.2 L413.3,361.3 L414.6,357.4 L415.9,353.5 L417.2,350.1 L418.4,346.4 L419.7,343.0 L421.0,337.8 L422.3,332.9 L423.6,328.3 L424.8,324.2 L426.1,320.7 L427.4,315.9 L428.7,311.1 L430.0,305.9 L431.2,301.7 L432.5,296.6 L433.8,292.8 L435.1,287.4 L436.4,282.8 L437.6,277.2 L438.9,272.9 L440.2,269.0 L441.5,264.8 L442.8,259.6 L444.0,253.9 L445.3,249.8 L446.6,244.9 L447.9,240.8 L449.2,235.4 L450.4,231.2 L451.7,226.7 L453.0,222.9 L454.3,219.0 L455.6,216.3 L456.8,212.4 L458.1,211.3 L459.4,208.4 L460.7,207.5 L462.0,204.6 L463.2,204.6 L464.5,204.6 L465.8,203.9 L467.1,203.4 L468.4,201.8 L469.6,203.0 L470.9,202.6 L472.2,204.1 L473.5,205.2 L474.8,208.8 L476.0,212.2 L477.3,215.7 L478.6,219.0 L479.9,222.2 L481.2,225.6 L482.4,230.3 L483.7,234.9 L485.0,239.9 L486.3,243.8 L487.6,247.6 L488.8,251.9 L490.1,257.2 L491.4,264.2 L492.7,270.4 L494.0,276.2 L495.2,280.3 L496.5,285.1 L497.8,289.5 L499.1,295.2 L500.4,299.9 L501.6,304.4 L502.9,309.4 L504.2,314.4 L505.5,319.9 L506.8,324.1 L508.0,328.9 L509.3,333.4 L510.6,338.5 L511.9,342.8 L513.2,346.6 L514.4,349.8 L515.7,353.7 L517.0,357.6 L518.3,361.9 L519.6,365.7 L520.8,369.6 L522.1,373.2 L523.4,376.6 L524.7,379.7 L526.0,383.2 L527.2,386.3 L528.5,389.7 L529.8,392.6 L531.1,395.6 L532.4,398.5 L533.6,401.3 L534.9,404.0 L536.2,406.7 L537.5,409.6 L538.8,412.1 L540.0,414.5 L541.3,416.8 L542.6,419.2 L543.9,421.7 L545.2,424.1 L546.4,426.4 L547.7,428.5 L549.0,430.6 L550.3,432.7 L551.6,434.7 L552.9,436.8 L554.1,438.7 L555.4,440.6 L556.7,442.4 L558.0,444.2 L559.3,445.9 L560.5,447.7 L561.8,449.4 L563.1,451.1 L564.4,452.7 L565.7,454.2 L566.9,455.8 L568.2,457.3 L569.5,458.8 L570.8,460.3 L572.1,461.7 L573.3,463.1 L574.6,464.5 L575.9,465.8 L577.2,467.1 L578.5,468.4 L579.7,469.7 L581.0,471.0 L582.3,472.2 L583.6,473.4 L584.9,474.5 L586.1,475.7 L587.4,476.8 L588.7,477.9 L590.0,479.0 L591.3,480.1 L592.5,481.1 L593.8,482.2 L595.1,483.2 L596.4,484.2 L597.7,485.2 L598.9,486.1 L600.2,487.1 L601.5,488.0 L602.8,488.9 L604.1,489.8 L605.3,490.7 L606.6,491.6 L607.9,492.4 L609.2,493.3 L610.5,494.1 L611.7,494.9 L613.0,495.7 L614.3,496.5 L615.6,497.3 L616.9,498.0 L618.1,498.8 L619.4,499.5 L620.7,500.2 L622.0,500.9 L623.3,501.7 L624.5,502.3 L625.8,503.0 L627.1,503.7 L628.4,504.4 L629.7,505.0 L630.9,505.7 L632.2,506.3 L633.5,506.9 L634.8,507.5 L636.1,508.2 L637.3,508.8 L638.6,509.4 L639.9,509.9 L641.2,510.5 L642.5,511.1 L643.7,511.6 L645.0,512.2 L646.3,512.7 L647.6,513.3 L648.9,513.8 L650.1,514.3 L651.4,514.8 L652.7,515.4 L654.0,515.9 L655.3,516.4 L656.5,516.8 L657.8,517.3 L659.1,517.8 L660.4,518.3 L661.7,518.7 L662.9,519.2 L664.2,519.7 L665.5,520.1 L666.8,520.6 L668.1,521.0 L669.3,521.4 L670.6,521.9 L671.9,522.3 L673.2,522.7 L674.5,523.1 L675.7,523.5 L677.0,523.9 L678.3,524.3 L679.6,524.7 L680.9,525.1 L682.1,525.5 L683.4,525.9 L684.7,526.2 L686.0,526.6 L687.3,527.0 L688.5,527.3 L689.8,527.7 L691.1,528.1 L692.4,528.4 L693.7,528.8 L694.9,529.1 L696.2,529.4 L697.5,529.8 L698.8,530.1 L700.1,530.4 L701.3,530.8 L702.6,531.1 L703.9,531.4 L705.2,531.7 L706.5,532.0 L707.7,532.4 L709.0,532.7 L710.3,533.0 L711.6,533.3 L712.9,533.6 L714.2,533.9 L715.4,534.2 L716.7,534.4 L718.0,534.7 L719.3,535.0 L720.6,535.3 L721.8,535.6 L723.1,535.8 L724.4,536.1 L725.7,536.4 L727.0,536.6 L728.2,536.9 L729.5,537.2 L730.8,537.4 L732.1,537.7 L733.4,537.9 L734.6,538.2 L735.9,538.4 L737.2,538.7 L738.5,538.9 L739.8,539.2 L741.0,539.4 L742.3,539.7 L743.6,539.9 L744.9,540.1 L746.2,540.4 L747.4,540.6 L748.7,540.8 L750.0,541.0 L751.3,541.3 L752.6,541.5 L753.8,541.7 L755.1,541.9 L756.4,542.1 L757.7,542.4 L759.0,542.6 L760.2,542.8 L761.5,543.0 L762.8,543.2 L764.1,543.4 L765.4,543.6 L766.6,543.8 L767.9,544.0 L769.2,544.2 L770.5,544.4 L771.8,544.6 L773.0,544.8" stroke="#ff0080" stroke-width="3.8"/>
<path d="M158.6,557.5 L159.8,557.2 L161.1,557.0 L162.4,556.8 L163.7,556.6 L165.0,556.3 L166.2,556.1 L167.5,555.9 L168.8,555.6 L170.1,555.4 L171.4,555.1 L172.6,554.9 L173.9,554.7 L175.2,554.4 L176.5,554.2 L177.8,553.9 L179.0,553.7 L180.3,553.4 L181.6,553.1 L182.9,552.9 L184.2,552.6 L185.4,552.4 L186.7,552.1 L188.0,551.8 L189.3,551.6 L190.6,551.3 L191.8,551.0 L193.1,550.7 L194.4,550.4 L195.7,550.2 L197.0,549.9 L198.2,549.6 L199.5,549.3 L200.8,549.0 L202.1,548.7 L203.4,548.4 L204.6,548.1 L205.9,547.8 L207.2,547.5 L208.5,547.2 L209.8,546.9 L211.0,546.5 L212.3,546.2 L213.6,545.9 L214.9,545.6 L216.2,545.2 L217.4,544.9 L218.7,544.6 L220.0,544.2 L221.3,543.9 L222.6,543.5 L223.9,543.2 L225.1,542.8 L226.4,542.5 L227.7,542.1 L229.0,541.7 L230.3,541.4 L231.5,541.0 L232.8,540.6 L234.1,540.3 L235.4,539.9 L236.7,539.5 L237.9,539.1 L239.2,538.7 L240.5,538.3 L241.8,537.9 L243.1,537.5 L244.3,537.1 L245.6,536.6 L246.9,536.2 L248.2,535.8 L249.5,535.4 L250.7,534.9 L252.0,534.5 L253.3,534.0 L254.6,533.6 L255.9,533.1 L257.1,532.7 L258.4,532.2 L259.7,531.7 L261.0,531.2 L262.3,530.8 L263.5,530.3 L264.8,529.8 L266.1,529.3 L267.4,528.8 L268.7,528.2 L269.9,527.7 L271.2,527.2 L272.5,526.7 L273.8,526.1 L275.1,525.6 L276.3,525.0 L277.6,524.5 L278.9,523.9 L280.2,523.3 L281.5,522.8 L282.7,522.2 L284.0,521.6 L285.3,521.0 L286.6,520.4 L287.9,519.7 L289.1,519.1 L290.4,518.5 L291.7,517.8 L293.0,517.2 L294.3,516.5 L295.5,515.8 L296.8,515.2 L298.1,514.5 L299.4,513.8 L300.7,513.1 L301.9,512.3 L303.2,511.6 L304.5,510.9 L305.8,510.1 L307.1,509.4 L308.3,508.6 L309.6,507.8 L310.9,507.0 L312.2,506.2 L313.5,505.4 L314.7,504.6 L316.0,503.7 L317.3,502.9 L318.6,502.0 L319.9,501.1 L321.1,500.2 L322.4,499.3 L323.7,498.4 L325.0,497.4 L326.3,496.5 L327.5,495.5 L328.8,494.5 L330.1,493.5 L331.4,492.5 L332.7,491.5 L333.9,490.4 L335.2,489.4 L336.5,488.3 L337.8,487.2 L339.1,486.1 L340.3,484.9 L341.6,483.8 L342.9,482.6 L344.2,481.4 L345.5,480.2 L346.7,478.9 L348.0,477.6 L349.3,476.4 L350.6,475.0 L351.9,473.7 L353.1,472.4 L354.4,471.0 L355.7,469.6 L357.0,468.1 L358.3,466.7 L359.5,465.2 L360.8,463.6 L362.1,462.1 L363.4,460.5 L364.7,458.9 L365.9,457.3 L367.2,455.6 L368.5,453.9 L369.8,452.1 L371.1,450.4 L372.3,448.6 L373.6,446.7 L374.9,444.8 L376.2,442.9 L377.5,441.0 L378.7,439.0 L380.0,436.9 L381.3,434.8 L382.6,432.6 L383.9,430.4 L385.2,428.2 L386.4,426.0 L387.7,423.7 L389.0,421.4 L390.3,418.9 L391.6,416.4 L392.8,414.0 L394.1,411.4 L395.4,408.8 L396.7,406.1 L398.0,403.4 L399.2,400.6 L400.5,397.8 L401.8,395.0 L403.1,391.8 L404.4,388.8 L405.6,385.5 L406.9,382.5 L408.2,379.0 L409.5,375.8 L410.8,372.5 L412.0,369.2 L413.3,365.4 L414.6,361.8 L415.9,358.4 L417.2,354.6 L418.4,350.5 L419.7,346.3 L421.0,342.7 L422.3,338.8 L423.6,334.8 L424.8,330.4 L426.1,326.6 L427.4,322.3 L428.7,318.3 L430.0,313.9 L431.2,309.6 L432.5,305.1 L433.8,300.5 L435.1,295.9 L436.4,292.0 L437.6,287.4 L438.9,282.9 L440.2,277.9 L441.5,273.0 L442.8,269.3 L444.0,265.7 L445.3,261.9 L446.6,257.1 L447.9,251.6 L449.2,247.5 L450.4,244.3 L451.7,241.4 L453.0,238.7 L454.3,235.8 L455.6,232.1 L456.8,228.8 L458.1,225.4 L459.4,224.2 L460.7,221.7 L462.0,220.3 L463.2,218.8 L464.5,219.3 L465.8,219.6 L467.1,219.3 L468.4,218.3 L469.6,218.0 L470.9,219.6 L472.2,221.7 L473.5,224.1 L474.8,225.8 L476.0,228.1 L477.3,230.5 L478.6,234.3 L479.9,237.7 L481.2,241.4 L482.4,245.3 L483.7,250.5 L485.0,254.8 L486.3,258.7 L487.6,263.1 L488.8,268.1 L490.1,273.4 L491.4,277.7 L492.7,282.3 L494.0,288.1 L495.2,293.1 L496.5,298.5 L497.8,303.1 L499.1,307.9 L500.4,312.3 L501.6,316.6 L502.9,320.5 L504.2,324.8 L505.5,329.4 L506.8,334.7 L508.0,339.4 L509.3,344.0 L510.6,348.0 L511.9,352.1 L513.2,356.0 L514.4,359.8 L515.7,363.6 L517.0,367.4 L518.3,371.1 L519.6,374.4 L520.8,377.7 L522.1,380.8 L523.4,384.0 L524.7,387.3 L526.0,390.4 L527.2,393.7 L528.5,396.5 L529.8,399.4 L531.1,402.1 L532.4,405.1 L533.6,407.9 L534.9,410.6 L536.2,413.1 L537.5,415.6 L538.8,418.0 L540.0,420.4 L541.3,422.7 L542.6,425.0 L543.9,427.2 L545.2,429.4 L546.4,431.5 L547.7,433.6 L549.0,435.6 L550.3,437.5 L551.6,439.5 L552.9,441.3 L554.1,443.2 L555.4,445.0 L556.7,446.8 L558.0,448.6 L559.3,450.3 L560.5,451.9 L561.8,453.5 L563.1,455.1 L564.4,456.7 L565.7,458.2 L566.9,459.7 L568.2,461.1 L569.5,462.5 L570.8,463.9 L572.1,465.3 L573.3,466.6 L574.6,468.0 L575.9,469.2 L577.2,470.5 L578.5,471.7 L579.7,473.0 L581.0,474.1 L582.3,475.3 L583.6,476.5 L584.9,477.6 L586.1,478.7 L587.4,479.8 L588.7,480.8 L590.0,481.9 L591.3,482.9 L592.5,483.9 L593.8,484.9 L595.1,485.9 L596.4,486.8 L597.7,487.8 L598.9,488.7 L600.2,489.6 L601.5,490.5 L602.8,491.4 L604.1,492.2 L605.3,493.1 L606.6,493.9 L607.9,494.7 L609.2,495.5 L610.5,496.3 L611.7,497.1 L613.0,497.9 L614.3,498.6 L615.6,499.4 L616.9,500.1 L618.1,500.8 L619.4,501.5 L620.7,502.2 L622.0,502.9 L623.3,503.6 L624.5,504.3 L625.8,504.9 L627.1,505.6 L628.4,506.2 L629.7,506.9 L630.9,507.5 L632.2,508.1 L633.5,508.7 L634.8,509.3 L636.1,509.9 L637.3,510.4 L638.6,511.0 L639.9,511.6 L641.2,512.1 L642.5,512.7 L643.7,513.2 L645.0,513.8 L646.3,514.3 L647.6,514.8 L648.9,515.3 L650.1,515.8 L651.4,516.3 L652.7,516.8 L654.0,517.3 L655.3,517.8 L656.5,518.2 L657.8,518.7 L659.1,519.2 L660.4,519.6 L661.7,520.1 L662.9,520.5 L664.2,521.0 L665.5,521.4 L666.8,521.8 L668.1,522.2 L669.3,522.7 L670.6,523.1 L671.9,523.5 L673.2,523.9 L674.5,524.3 L675.7,524.7 L677.0,525.1 L678.3,525.4 L679.6,525.8 L680.9,526.2 L682.1,526.6 L683.4,526.9 L684.7,527.3 L686.0,527.7 L687.3,528.0 L688.5,528.4 L689.8,528.7 L691.1,529.1 L692.4,529.4 L693.7,529.7 L694.9,530.1 L696.2,530.4 L697.5,530.7 L698.8,531.0 L700.1,531.4 L701.3,531.7 L702.6,532.0 L703.9,532.3 L705.2,532.6 L706.5,532.9 L707.7,533.2 L709.0,533.5 L710.3,533.8 L711.6,534.1 L712.9,534.4 L714.2,534.6 L715.4,534.9 L716.7,535.2 L718.0,535.5 L719.3,535.8 L720.6,536.0 L721.8,536.3 L723.1,536.6 L724.4,536.8 L725.7,537.1 L727.0,537.3 L728.2,537.6 L729.5,537.8 L730.8,538.1 L732.1,538.3 L733.4,538.6 L734.6,538.8 L735.9,539.1 L737.2,539.3 L738.5,539.6 L739.8,539.8 L741.0,540.0 L742.3,540.2 L743.6,540.5 L744.9,540.7 L746.2,540.9 L747.4,541.2 L748.7,541.4 L750.0,541.6 L751.3,541.8 L752.6,542.0 L753.8,542.2 L755.1,542.4 L756.4,542.7 L757.7,542.9 L759.0,543.1 L760.2,543.3 L761.5,543.5 L762.8,543.7 L764.1,543.9 L765.4,544.1 L766.6,544.3 L767.9,544.5 L769.2,544.6 L770.5,544.8 L771.8,545.0 L773.0,545.2" stroke="#000080" stroke-width="3.8"/>
<path d="M158.6,557.1 L159.8,556.8 L161.1,556.6 L162.4,556.4 L163.7,556.2 L165.0,555.9 L166.2,555.7 L167.5,555.5 L168.8,555.2 L170.1,555.0 L171.4,554.8 L172.6,554.5 L173.9,554.3 L175.2,554.0 L176.5,553.8 L177.8,553.5 L179.0,553.3 L180.3,553.0 L181.6,552.8 L182.9,552.5 L184.2,552.3 L185.4,552.0 L186.7,551.7 L188.0,551.5 L189.3,551.2 L190.6,550.9 L191.8,550.6 L193.1,550.4 L194.4,550.1 L195.7,549.8 L197.0,549.5 L198.2,549.2 L199.5,549.0 L200.8,548.7 L202.1,548.4 L203.4,548.1 L204.6,547.8 L205.9,547.5 L207.2,547.2 L208.5,546.8 L209.8,546.5 L211.0,546.2 L212.3,545.9 L213.6,545.6 L214.9,545.3 L216.2,544.9 L217.4,544.6 L218.7,544.3 L220.0,543.9 L221.3,543.6 L222.6,543.2 L223.9,542.9 L225.1,542.6 L226.4,542.2 L227.7,541.8 L229.0,541.5 L230.3,541.1 L231.5,540.7 L232.8,540.4 L234.1,540.0 L235.4,539.6 L236.7,539.2 L237.9,538.8 L239.2,538.5 L240.5,538.1 L241.8,537.7 L243.1,537.2 L244.3,536.8 L245.6,536.4 L246.9,536.0 L248.2,535.6 L249.5,535.2 L250.7,534.7 L252.0,534.3 L253.3,533.8 L254.6,533.4 L255.9,532.9 L257.1,532.5 L258.4,532.0 L259.7,531.5 L261.0,531.1 L262.3,530.6 L263.5,530.1 L264.8,529.6 L266.1,529.1 L267.4,528.6 L268.7,528.1 L269.9,527.6 L271.2,527.1 L272.5,526.5 L273.8,526.0 L275.1,525.5 L276.3,524.9 L277.6,524.4 L278.9,523.8 L280.2,523.2 L281.5,522.7 L282.7,522.1 L284.0,521.5 L285.3,520.9 L286.6,520.3 L287.9,519.7 L289.1,519.1 L290.4,518.4 L291.7,517.8 L293.0,517.1 L294.3,516.5 L295.5,515.8 L296.8,515.2 L298.1,514.5 L299.4,513.8 L300.7,513.1 L301.9,512.4 L303.2,511.6 L304.5,510.9 L305.8,510.2 L307.1,509.4 L308.3,508.7 L309.6,507.9 L310.9,507.1 L312.2,506.3 L313.5,505.5 L314.7,504.7 L316.0,503.8 L317.3,503.0 L318.6,502.1 L319.9,501.3 L321.1,500.4 L322.4,499.5 L323.7,498.6 L325.0,497.6 L326.3,496.7 L327.5,495.7 L328.8,494.8 L330.1,493.8 L331.4,492.8 L332.7,491.8 L333.9,490.7 L335.2,489.7 L336.5,488.6 L337.8,487.5 L339.1,486.4 L340.3,485.3 L341.6,484.1 L342.9,483.0 L344.2,481.8 L345.5,480.6 L346.7,479.3 L348.0,478.1 L349.3,476.8 L350.6,475.5 L351.9,474.2 L353.1,472.9 L354.4,471.5 L355.7,470.1 L357.0,468.7 L358.3,467.3 L359.5,465.8 L360.8,464.3 L362.1,462.8 L363.4,461.2 L364.7,459.6 L365.9,458.0 L367.2,456.4 L368.5,454.7 L369.8,453.0 L371.1,451.2 L372.3,449.5 L373.6,447.6 L374.9,445.8 L376.2,443.9 L377.5,442.0 L378.7,440.0 L380.0,438.0 L381.3,436.0 L382.6,433.9 L383.9,431.7 L385.2,429.5 L386.4,427.3 L387.7,425.1 L389.0,422.7 L390.3,420.3 L391.6,417.9 L392.8,415.5 L394.1,413.0 L395.4,410.4 L396.7,407.7 L398.0,405.1 L399.2,402.4 L400.5,399.7 L401.8,396.8 L403.1,393.9 L404.4,391.0 L405.6,388.0 L406.9,384.8 L408.2,381.5 L409.5,378.3 L410.8,374.8 L412.0,371.6 L413.3,367.8 L414.6,364.4 L415.9,360.8 L417.2,357.6 L418.4,354.5 L419.7,350.9 L421.0,347.0 L422.3,342.4 L423.6,338.7 L424.8,334.5 L426.1,330.9 L427.4,326.4 L428.7,323.2 L430.0,319.0 L431.2,315.1 L432.5,310.2 L433.8,306.0 L435.1,302.0 L436.4,297.7 L437.6,293.3 L438.9,288.7 L440.2,284.5 L441.5,280.2 L442.8,276.3 L444.0,273.0 L445.3,269.9 L446.6,265.7 L447.9,261.3 L449.2,257.3 L450.4,254.5 L451.7,251.4 L453.0,248.4 L454.3,245.5 L455.6,243.2 L456.8,240.0 L458.1,237.6 L459.4,235.7 L460.7,235.4 L462.0,234.4 L463.2,232.9 L464.5,231.4 L465.8,230.8 L467.1,231.0 L468.4,231.7 L469.6,232.7 L470.9,233.4 L472.2,234.6 L473.5,235.1 L474.8,238.1 L476.0,240.8 L477.3,244.2 L478.6,247.1 L479.9,251.0 L481.2,255.2 L482.4,258.9 L483.7,262.3 L485.0,266.2 L486.3,270.2 L487.6,274.4 L488.8,278.8 L490.1,283.6 L491.4,288.6 L492.7,293.1 L494.0,297.6 L495.2,302.1 L496.5,306.8 L497.8,311.7 L499.1,316.6 L500.4,321.4 L501.6,325.6 L502.9,329.6 L504.2,333.4 L505.5,337.8 L506.8,342.0 L508.0,346.1 L509.3,350.0 L510.6,354.2 L511.9,358.3 L513.2,362.3 L514.4,366.0 L515.7,369.5 L517.0,373.0 L518.3,376.4 L519.6,379.6 L520.8,383.1 L522.1,386.3 L523.4,389.6 L524.7,392.8 L526.0,395.7 L527.2,398.6 L528.5,401.3 L529.8,404.1 L531.1,406.8 L532.4,409.6 L533.6,412.3 L534.9,414.8 L536.2,417.3 L537.5,419.7 L538.8,422.0 L540.0,424.2 L541.3,426.5 L542.6,428.7 L543.9,430.9 L545.2,433.0 L546.4,435.0 L547.7,437.0 L549.0,439.0 L550.3,440.9 L551.6,442.7 L552.9,444.6 L554.1,446.4 L555.4,448.1 L556.7,449.9 L558.0,451.5 L559.3,453.1 L560.5,454.7 L561.8,456.3 L563.1,457.8 L564.4,459.3 L565.7,460.8 L566.9,462.2 L568.2,463.6 L569.5,465.0 L570.8,466.4 L572.1,467.7 L573.3,469.0 L574.6,470.3 L575.9,471.5 L577.2,472.8 L578.5,474.0 L579.7,475.1 L581.0,476.3 L582.3,477.4 L583.6,478.5 L584.9,479.6 L586.1,480.7 L587.4,481.7 L588.7,482.8 L590.0,483.8 L591.3,484.8 L592.5,485.8 L593.8,486.7 L595.1,487.7 L596.4,488.6 L597.7,489.5 L598.9,490.4 L600.2,491.3 L601.5,492.2 L602.8,493.0 L604.1,493.8 L605.3,494.7 L606.6,495.5 L607.9,496.3 L609.2,497.1 L610.5,497.8 L611.7,498.6 L613.0,499.3 L614.3,500.1 L615.6,500.8 L616.9,501.5 L618.1,502.2 L619.4,502.9 L620.7,503.6 L622.0,504.2 L623.3,504.9 L624.5,505.6 L625.8,506.2 L627.1,506.8 L628.4,507.5 L629.7,508.1 L630.9,508.7 L632.2,509.3 L633.5,509.9 L634.8,510.4 L636.1,511.0 L637.3,511.6 L638.6,512.1 L639.9,512.7 L641.2,513.2 L642.5,513.7 L643.7,514.3 L645.0,514.8 L646.3,515.3 L647.6,515.8 L648.9,516.3 L650.1,516.8 L651.4,517.3 L652.7,517.8 L654.0,518.2 L655.3,518.7 L656.5,519.1 L657.8,519.6 L659.1,520.1 L660.4,520.5 L661.7,520.9 L662.9,521.4 L664.2,521.8 L665.5,522.2 L666.8,522.6 L668.1,523.0 L669.3,523.5 L670.6,523.9 L671.9,524.3 L673.2,524.6 L674.5,525.0 L675.7,525.4 L677.0,525.8 L678.3,526.2 L679.6,526.5 L680.9,526.9 L682.1,527.3 L683.4,527.6 L684.7,528.0 L686.0,528.3 L687.3,528.7 L688.5,529.0 L689.8,529.4 L691.1,529.7 L692.4,530.0 L693.7,530.4 L694.9,530.7 L696.2,531.0 L697.5,531.3 L698.8,531.6 L700.1,531.9 L701.3,532.2 L702.6,532.5 L703.9,532.8 L705.2,533.1 L706.5,533.4 L707.7,533.7 L709.0,534.0 L710.3,534.3 L711.6,534.6 L712.9,534.9 L714.2,535.1 L715.4,535.4 L716.7,535.7 L718.0,536.0 L719.3,536.2 L720.6,536.5 L721.8,536.8 L723.1,537.0 L724.4,537.3 L725.7,537.5 L727.0,537.8 L728.2,538.0 L729.5,538.3 L730.8,538.5 L732.1,538.8 L733.4,539.0 L734.6,539.2 L735.9,539.5 L737.2,539.7 L738.5,539.9 L739.8,540.2 L741.0,540.4 L742.3,540.6 L743.6,540.8 L744.9,541.1 L746.2,541.3 L747.4,541.5 L748.7,541.7 L750.0,541.9 L751.3,542.1 L752.6,542.3 L753.8,542.6 L755.1,542.8 L756.4,543.0 L757.7,543.2 L759.0,543.4 L760.2,543.6 L761.5,543.8 L762.8,544.0 L764.1,544.2 L765.4,544.3 L766.6,544.5 L767.9,544.7 L769.2,544.9 L770.5,545.1 L771.8,545.3 L773.0,545.5" stroke="#800000" stroke-width="3.8"/>
<path d="M158.6,556.6 L159.8,556.4 L161.1,556.2 L162.4,555.9 L163.7,555.7 L165.0,555.5 L166.2,555.2 L167.5,555.0 L168.8,554.8 L170.1,554.5 L171.4,554.3 L172.6,554.1 L173.9,553.8 L175.2,553.6 L176.5,553.3 L177.8,553.1 L179.0,552.9 L180.3,552.6 L181.6,552.3 L182.9,552.1 L184.2,551.8 L185.4,551.6 L186.7,551.3 L188.0,551.0 L189.3,550.8 L190.6,550.5 L191.8,550.2 L193.1,550.0 L194.4,549.7 L195.7,549.4 L197.0,549.1 L198.2,548.8 L199.5,548.6 L200.8,548.3 L202.1,548.0 L203.4,547.7 L204.6,547.4 L205.9,547.1 L207.2,546.8 L208.5,546.5 L209.8,546.2 L211.0,545.8 L212.3,545.5 L213.6,545.2 L214.9,544.9 L216.2,544.6 L217.4,544.2 L218.7,543.9 L220.0,543.6 L221.3,543.2 L222.6,542.9 L223.9,542.6 L225.1,542.2 L226.4,541.9 L227.7,541.5 L229.0,541.1 L230.3,540.8 L231.5,540.4 L232.8,540.0 L234.1,539.7 L235.4,539.3 L236.7,538.9 L237.9,538.5 L239.2,538.1 L240.5,537.7 L241.8,537.4 L243.1,537.0 L244.3,536.5 L245.6,536.1 L246.9,535.7 L248.2,535.3 L249.5,534.9 L250.7,534.4 L252.0,534.0 L253.3,533.6 L254.6,533.1 L255.9,532.7 L257.1,532.2 L258.4,531.8 L259.7,531.3 L261.0,530.8 L262.3,530.4 L263.5,529.9 L264.8,529.4 L266.1,528.9 L267.4,528.4 L268.7,527.9 L269.9,527.4 L271.2,526.9 L272.5,526.3 L273.8,525.8 L275.1,525.3 L276.3,524.7 L277.6,524.2 L278.9,523.6 L280.2,523.1 L281.5,522.5 L282.7,521.9 L284.0,521.3 L285.3,520.8 L286.6,520.2 L287.9,519.5 L289.1,518.9 L290.4,518.3 L291.7,517.7 L293.0,517.0 L294.3,516.4 L295.5,515.7 L296.8,515.1 L298.1,514.4 L299.4,513.7 L300.7,513.0 L301.9,512.3 L303.2,511.6 L304.5,510.9 L305.8,510.1 L307.1,509.4 L308.3,508.6 L309.6,507.9 L310.9,507.1 L312.2,506.3 L313.5,505.5 L314.7,504.7 L316.0,503.9 L317.3,503.0 L318.6,502.2 L319.9,501.3 L321.1,500.4 L322.4,499.5 L323.7,498.6 L325.0,497.7 L326.3,496.8 L327.5,495.9 L328.8,494.9 L330.1,493.9 L331.4,492.9 L332.7,491.9 L333.9,490.9 L335.2,489.9 L336.5,488.8 L337.8,487.7 L339.1,486.6 L340.3,485.5 L341.6,484.4 L342.9,483.2 L344.2,482.1 L345.5,480.9 L346.7,479.7 L348.0,478.4 L349.3,477.2 L350.6,475.9 L351.9,474.6 L353.1,473.3 L354.4,471.9 L355.7,470.6 L357.0,469.2 L358.3,467.8 L359.5,466.3 L360.8,464.8 L362.1,463.3 L363.4,461.8 L364.7,460.2 L365.9,458.7 L367.2,457.0 L368.5,455.4 L369.8,453.7 L371.1,452.0 L372.3,450.2 L373.6,448.5 L374.9,446.7 L376.2,444.8 L377.5,442.9 L378.7,441.0 L380.0,439.0 L381.3,437.0 L382.6,434.9 L383.9,432.9 L385.2,430.8 L386.4,428.6 L387.7,426.4 L389.0,424.1 L390.3,421.8 L391.6,419.4 L392.8,417.0 L394.1,414.6 L395.4,412.0 L396.7,409.5 L398.0,406.9 L399.2,404.3 L400.5,401.6 L401.8,398.8 L403.1,396.0 L404.4,393.0 L405.6,390.0 L406.9,386.9 L408.2,383.9 L409.5,380.9 L410.8,377.9 L412.0,374.7 L413.3,371.3 L414.6,367.8 L415.9,364.2 L417.2,360.8 L418.4,357.4 L419.7,353.9 L421.0,350.3 L422.3,346.6 L423.6,342.8 L424.8,338.9 L426.1,335.2 L427.4,331.5 L428.7,327.7 L430.0,324.0 L431.2,319.8 L432.5,316.2 L433.8,312.1 L435.1,307.9 L436.4,303.6 L437.6,299.8 L438.9,296.4 L440.2,292.2 L441.5,288.1 L442.8,284.2 L444.0,280.8 L445.3,277.2 L446.6,273.1 L447.9,269.7 L449.2,266.5 L450.4,264.2 L451.7,261.2 L453.0,258.2 L454.3,255.3 L455.6,253.0 L456.8,251.3 L458.1,249.5 L459.4,248.0 L460.7,246.3 L462.0,245.7 L463.2,244.9 L464.5,244.5 L465.8,243.8 L467.1,244.0 L468.4,244.2 L469.6,244.9 L470.9,245.9 L472.2,247.6 L473.5,249.7 L474.8,251.3 L476.0,254.2 L477.3,256.8 L478.6,260.5 L479.9,263.1 L481.2,266.3 L482.4,269.7 L483.7,273.3 L485.0,277.7 L486.3,281.1 L487.6,285.1 L488.8,289.0 L490.1,294.0 L491.4,298.8 L492.7,303.2 L494.0,307.3 L495.2,311.6 L496.5,316.1 L497.8,320.6 L499.1,324.8 L500.4,329.1 L501.6,333.0 L502.9,337.5 L504.2,341.5 L505.5,345.7 L506.8,349.5 L508.0,353.3 L509.3,357.0 L510.6,360.8 L511.9,364.6 L513.2,368.6 L514.4,372.1 L515.7,375.6 L517.0,378.8 L518.3,382.2 L519.6,385.5 L520.8,388.7 L522.1,391.7 L523.4,394.6 L524.7,397.5 L526.0,400.5 L527.2,403.3 L528.5,406.1 L529.8,408.6 L531.1,411.3 L532.4,413.9 L533.6,416.4 L534.9,418.8 L536.2,421.2 L537.5,423.5 L538.8,425.8 L540.0,428.0 L541.3,430.2 L542.6,432.3 L543.9,434.4 L545.2,436.4 L546.4,438.3 L547.7,440.2 L549.0,442.1 L550.3,444.0 L551.6,445.8 L552.9,447.6 L554.1,449.3 L555.4,451.0 L556.7,452.7 L558.0,454.3 L559.3,455.9 L560.5,457.4 L561.8,458.9 L563.1,460.4 L564.4,461.9 L565.7,463.3 L566.9,464.7 L568.2,466.0 L569.5,467.4 L570.8,468.7 L572.1,470.0 L573.3,471.2 L574.6,472.5 L575.9,473.7 L577.2,474.9 L578.5,476.0 L579.7,477.2 L581.0,478.3 L582.3,479.4 L583.6,480.5 L584.9,481.5 L586.1,482.6 L587.4,483.6 L588.7,484.6 L590.0,485.6 L591.3,486.5 L592.5,487.5 L593.8,488.4 L595.1,489.3 L596.4,490.2 L597.7,491.1 L598.9,492.0 L600.2,492.8 L601.5,493.7 L602.8,494.5 L604.1,495.3 L605.3,496.1 L606.6,496.9 L607.9,497.7 L609.2,498.5 L610.5,499.2 L611.7,499.9 L613.0,500.7 L614.3,501.4 L615.6,502.1 L616.9,502.8 L618.1,503.5 L619.4,504.1 L620.7,504.8 L622.0,505.5 L623.3,506.1 L624.5,506.7 L625.8,507.4 L627.1,508.0 L628.4,508.6 L629.7,509.2 L630.9,509.8 L632.2,510.3 L633.5,510.9 L634.8,511.5 L636.1,512.0 L637.3,512.6 L638.6,513.1 L639.9,513.7 L641.2,514.2 L642.5,514.7 L643.7,515.2 L645.0,515.7 L646.3,516.2 L647.6,516.7 L648.9,517.2 L650.1,517.7 L651.4,518.1 L652.7,518.6 L654.0,519.1 L655.3,519.5 L656.5,520.0 L657.8,520.4 L659.1,520.9 L660.4,521.3 L661.7,521.7 L662.9,522.1 L664.2,522.6 L665.5,523.0 L666.8,523.4 L668.1,523.8 L669.3,524.2 L670.6,524.6 L671.9,525.0 L673.2,525.3 L674.5,525.7 L675.7,526.1 L677.0,526.5 L678.3,526.8 L679.6,527.2 L680.9,527.5 L682.1,527.9 L683.4,528.2 L684.7,528.6 L686.0,528.9 L687.3,529.3 L688.5,529.6 L689.8,529.9 L691.1,530.3 L692.4,530.6 L693.7,530.9 L694.9,531.2 L696.2,531.5 L697.5,531.8 L698.8,532.1 L700.1,532.5 L701.3,532.8 L702.6,533.0 L703.9,533.3 L705.2,533.6 L706.5,533.9 L707.7,534.2 L709.0,534.5 L710.3,534.8 L711.6,535.0 L712.9,535.3 L714.2,535.6 L715.4,535.9 L716.7,536.1 L718.0,536.4 L719.3,536.6 L720.6,536.9 L721.8,537.2 L723.1,537.4 L724.4,537.7 L725.7,537.9 L727.0,538.2 L728.2,538.4 L729.5,538.6 L730.8,538.9 L732.1,539.1 L733.4,539.3 L734.6,539.6 L735.9,539.8 L737.2,540.0 L738.5,540.3 L739.8,540.5 L741.0,540.7 L742.3,540.9 L743.6,541.1 L744.9,541.4 L746.2,541.6 L747.4,541.8 L748.7,542.0 L750.0,542.2 L751.3,542.4 L752.6,542.6 L753.8,542.8 L755.1,543.0 L756.4,543.2 L757.7,543.4 L759.0,543.6 L760.2,543.8 L761.5,544.0 L762.8,544.2 L764.1,544.4 L765.4,544.6 L766.6,544.8 L767.9,544.9 L769.2,545.1 L770.5,545.3 L771.8,545.5 L773.0,545.7" stroke="#008080" stroke-width="3.8"/>
<path d="M158.6,556.4 L159.8,556.2 L161.1,555.9 L162.4,555.7 L163.7,555.5 L165.0,555.3 L166.2,555.0 L167.5,554.8 L168.8,554.6 L170.1,554.3 L171.4,554.1 L172.6,553.9 L173.9,553.6 L175.2,553.4 L176.5,553.1 L177.8,552.9 L179.0,552.6 L180.3,552.4 L181.6,552.1 L182.9,551.9 L184.2,551.6 L185.4,551.4 L186.7,551.1 L188.0,550.8 L189.3,550.6 L190.6,550.3 L191.8,550.0 L193.1,549.8 L194.4,549.5 L195.7,549.2 L197.0,548.9 L198.2,548.6 L199.5,548.4 L200.8,548.1 L202.1,547.8 L203.4,547.5 L204.6,547.2 L205.9,546.9 L207.2,546.6 L208.5,546.3 L209.8,546.0 L211.0,545.7 L212.3,545.3 L213.6,545.0 L214.9,544.7 L216.2,544.4 L217.4,544.1 L218.7,543.7 L220.0,543.4 L221.3,543.1 L222.6,542.7 L223.9,542.4 L225.1,542.0 L226.4,541.7 L227.7,541.3 L229.0,541.0 L230.3,540.6 L231.5,540.2 L232.8,539.9 L234.1,539.5 L235.4,539.1 L236.7,538.8 L237.9,538.4 L239.2,538.0 L240.5,537.6 L241.8,537.2 L243.1,536.8 L244.3,536.4 L245.6,536.0 L246.9,535.6 L248.2,535.1 L249.5,534.7 L250.7,534.3 L252.0,533.9 L253.3,533.4 L254.6,533.0 L255.9,532.5 L257.1,532.1 L258.4,531.6 L259.7,531.2 L261.0,530.7 L262.3,530.2 L263.5,529.7 L264.8,529.3 L266.1,528.8 L267.4,528.3 L268.7,527.8 L269.9,527.3 L271.2,526.8 L272.5,526.2 L273.8,525.7 L275.1,525.2 L276.3,524.6 L277.6,524.1 L278.9,523.5 L280.2,523.0 L281.5,522.4 L282.7,521.8 L284.0,521.2 L285.3,520.7 L286.6,520.1 L287.9,519.5 L289.1,518.8 L290.4,518.2 L291.7,517.6 L293.0,517.0 L294.3,516.3 L295.5,515.7 L296.8,515.0 L298.1,514.3 L299.4,513.6 L300.7,512.9 L301.9,512.2 L303.2,511.5 L304.5,510.8 L305.8,510.1 L307.1,509.3 L308.3,508.6 L309.6,507.8 L310.9,507.0 L312.2,506.3 L313.5,505.5 L314.7,504.7 L316.0,503.8 L317.3,503.0 L318.6,502.2 L319.9,501.3 L321.1,500.4 L322.4,499.5 L323.7,498.6 L325.0,497.7 L326.3,496.8 L327.5,495.9 L328.8,494.9 L330.1,493.9 L331.4,493.0 L332.7,492.0 L333.9,490.9 L335.2,489.9 L336.5,488.8 L337.8,487.8 L339.1,486.7 L340.3,485.6 L341.6,484.5 L342.9,483.3 L344.2,482.2 L345.5,481.0 L346.7,479.8 L348.0,478.5 L349.3,477.3 L350.6,476.0 L351.9,474.7 L353.1,473.4 L354.4,472.1 L355.7,470.7 L357.0,469.3 L358.3,467.9 L359.5,466.5 L360.8,465.0 L362.1,463.5 L363.4,462.0 L364.7,460.5 L365.9,458.9 L367.2,457.3 L368.5,455.7 L369.8,454.0 L371.1,452.3 L372.3,450.6 L373.6,448.8 L374.9,447.0 L376.2,445.2 L377.5,443.3 L378.7,441.4 L380.0,439.5 L381.3,437.4 L382.6,435.4 L383.9,433.3 L385.2,431.2 L386.4,429.0 L387.7,426.8 L389.0,424.6 L390.3,422.4 L391.6,420.1 L392.8,417.7 L394.1,415.2 L395.4,412.7 L396.7,410.2 L398.0,407.6 L399.2,405.0 L400.5,402.3 L401.8,399.6 L403.1,396.8 L404.4,394.0 L405.6,391.1 L406.9,388.1 L408.2,385.1 L409.5,382.0 L410.8,378.8 L412.0,375.7 L413.3,372.4 L414.6,369.3 L415.9,366.0 L417.2,362.5 L418.4,358.9 L419.7,355.2 L421.0,351.6 L422.3,348.1 L423.6,344.6 L424.8,340.8 L426.1,337.2 L427.4,333.5 L428.7,329.8 L430.0,325.9 L431.2,321.9 L432.5,318.0 L433.8,314.6 L435.1,310.6 L436.4,306.5 L437.6,302.1 L438.9,298.5 L440.2,295.3 L441.5,291.8 L442.8,288.3 L444.0,284.4 L445.3,281.1 L446.6,277.3 L447.9,273.9 L449.2,271.1 L450.4,268.3 L451.7,265.9 L453.0,263.1 L454.3,260.9 L455.6,258.5 L456.8,255.9 L458.1,254.3 L459.4,252.5 L460.7,250.9 L462.0,249.4 L463.2,248.7 L464.5,248.7 L465.8,248.9 L467.1,248.9 L468.4,249.2 L469.6,249.6 L470.9,250.2 L472.2,251.6 L473.5,253.5 L474.8,255.8 L476.0,258.7 L477.3,261.8 L478.6,265.1 L479.9,268.1 L481.2,271.1 L482.4,274.6 L483.7,277.8 L485.0,281.5 L486.3,285.3 L487.6,289.8 L488.8,294.1 L490.1,298.3 L491.4,302.7 L492.7,307.0 L494.0,311.4 L495.2,315.4 L496.5,319.5 L497.8,323.7 L499.1,328.1 L500.4,332.5 L501.6,336.9 L502.9,340.8 L504.2,344.9 L505.5,348.7 L506.8,352.6 L508.0,356.2 L509.3,360.1 L510.6,364.0 L511.9,367.5 L513.2,371.1 L514.4,374.3 L515.7,377.8 L517.0,381.1 L518.3,384.3 L519.6,387.5 L520.8,390.6 L522.1,393.8 L523.4,396.8 L524.7,399.8 L526.0,402.5 L527.2,405.3 L528.5,408.0 L529.8,410.6 L531.1,413.2 L532.4,415.7 L533.6,418.3 L534.9,420.6 L536.2,422.9 L537.5,425.2 L538.8,427.4 L540.0,429.6 L541.3,431.7 L542.6,433.8 L543.9,435.8 L545.2,437.9 L546.4,439.8 L547.7,441.7 L549.0,443.5 L550.3,445.3 L551.6,447.1 L552.9,448.9 L554.1,450.6 L555.4,452.3 L556.7,453.9 L558.0,455.5 L559.3,457.0 L560.5,458.5 L561.8,460.0 L563.1,461.5 L564.4,462.9 L565.7,464.3 L566.9,465.7 L568.2,467.0 L569.5,468.4 L570.8,469.6 L572.1,470.9 L573.3,472.2 L574.6,473.4 L575.9,474.6 L577.2,475.7 L578.5,476.9 L579.7,478.0 L581.0,479.1 L582.3,480.2 L583.6,481.3 L584.9,482.3 L586.1,483.3 L587.4,484.3 L588.7,485.3 L590.0,486.3 L591.3,487.3 L592.5,488.2 L593.8,489.1 L595.1,490.0 L596.4,490.9 L597.7,491.8 L598.9,492.7 L600.2,493.5 L601.5,494.3 L602.8,495.1 L604.1,496.0 L605.3,496.7 L606.6,497.5 L607.9,498.3 L609.2,499.0 L610.5,499.8 L611.7,500.5 L613.0,501.2 L614.3,501.9 L615.6,502.6 L616.9,503.3 L618.1,504.0 L619.4,504.7 L620.7,505.3 L622.0,506.0 L623.3,506.6 L624.5,507.2 L625.8,507.8 L627.1,508.4 L628.4,509.0 L629.7,509.6 L630.9,510.2 L632.2,510.8 L633.5,511.4 L634.8,511.9 L636.1,512.5 L637.3,513.0 L638.6,513.5 L639.9,514.1 L641.2,514.6 L642.5,515.1 L643.7,515.6 L645.0,516.1 L646.3,516.6 L647.6,517.1 L648.9,517.6 L650.1,518.0 L651.4,518.5 L652.7,519.0 L654.0,519.4 L655.3,519.9 L656.5,520.3 L657.8,520.8 L659.1,521.2 L660.4,521.6 L661.7,522.0 L662.9,522.5 L664.2,522.9 L665.5,523.3 L666.8,523.7 L668.1,524.1 L669.3,524.5 L670.6,524.9 L671.9,525.2 L673.2,525.6 L674.5,526.0 L675.7,526.4 L677.0,526.7 L678.3,527.1 L679.6,527.4 L680.9,527.8 L682.1,528.1 L683.4,528.5 L684.7,528.8 L686.0,529.2 L687.3,529.5 L688.5,529.8 L689.8,530.2 L691.1,530.5 L692.4,530.8 L693.7,531.1 L694.9,531.4 L696.2,531.7 L697.5,532.1 L698.8,532.4 L700.1,532.7 L701.3,533.0 L702.6,533.2 L703.9,533.5 L705.2,533.8 L706.5,534.1 L707.7,534.4 L709.0,534.7 L710.3,534.9 L711.6,535.2 L712.9,535.5 L714.2,535.8 L715.4,536.0 L716.7,536.3 L718.0,536.5 L719.3,536.8 L720.6,537.1 L721.8,537.3 L723.1,537.6 L724.4,537.8 L725.7,538.1 L727.0,538.3 L728.2,538.5 L729.5,538.8 L730.8,539.0 L732.1,539.3 L733.4,539.5 L734.6,539.7 L735.9,539.9 L737.2,540.2 L738.5,540.4 L739.8,540.6 L741.0,540.8 L742.3,541.0 L743.6,541.3 L744.9,541.5 L746.2,541.7 L747.4,541.9 L748.7,542.1 L750.0,542.3 L751.3,542.5 L752.6,542.7 L753.8,542.9 L755.1,543.1 L756.4,543.3 L757.7,543.5 L759.0,543.7 L760.2,543.9 L761.5,544.1 L762.8,544.3 L764.1,544.5 L765.4,544.7 L766.6,544.8 L767.9,545.0 L769.2,545.2 L770.5,545.4 L771.8,545.6 L773.0,545.7" stroke="#0000a0" stroke-width="3.8"/>
<path d="M158.6,556.1 L159.8,555.9 L161.1,555.7 L162.4,555.4 L163.7,555.2 L165.0,555.0 L166.2,554.8 L167.5,554.5 L168.8,554.3 L170.1,554.1 L171.4,553.8 L172.6,553.6 L173.9,553.4 L175.2,553.1 L176.5,552.9 L177.8,552.6 L179.0,552.4 L180.3,552.1 L181.6,551.9 L182.9,551.6 L184.2,551.4 L185.4,551.1 L186.7,550.9 L188.0,550.6 L189.3,550.3 L190.6,550.1 L191.8,549.8 L193.1,549.5 L194.4,549.2 L195.7,549.0 L197.0,548.7 L198.2,548.4 L199.5,548.1 L200.8,547.8 L202.1,547.5 L203.4,547.2 L204.6,546.9 L205.9,546.7 L207.2,546.3 L208.5,546.0 L209.8,545.7 L211.0,545.4 L212.3,545.1 L213.6,544.8 L214.9,544.5 L216.2,544.2 L217.4,543.8 L218.7,543.5 L220.0,543.2 L221.3,542.8 L222.6,542.5 L223.9,542.2 L225.1,541.8 L226.4,541.5 L227.7,541.1 L229.0,540.8 L230.3,540.4 L231.5,540.0 L232.8,539.7 L234.1,539.3 L235.4,538.9 L236.7,538.5 L237.9,538.2 L239.2,537.8 L240.5,537.4 L241.8,537.0 L243.1,536.6 L244.3,536.2 L245.6,535.8 L246.9,535.4 L248.2,535.0 L249.5,534.5 L250.7,534.1 L252.0,533.7 L253.3,533.2 L254.6,532.8 L255.9,532.4 L257.1,531.9 L258.4,531.4 L259.7,531.0 L261.0,530.5 L262.3,530.1 L263.5,529.6 L264.8,529.1 L266.1,528.6 L267.4,528.1 L268.7,527.6 L269.9,527.1 L271.2,526.6 L272.5,526.1 L273.8,525.5 L275.1,525.0 L276.3,524.5 L277.6,523.9 L278.9,523.4 L280.2,522.8 L281.5,522.3 L282.7,521.7 L284.0,521.1 L285.3,520.5 L286.6,519.9 L287.9,519.3 L289.1,518.7 L290.4,518.1 L291.7,517.5 L293.0,516.8 L294.3,516.2 L295.5,515.5 L296.8,514.9 L298.1,514.2 L299.4,513.5 L300.7,512.8 L301.9,512.1 L303.2,511.4 L304.5,510.7 L305.8,510.0 L307.1,509.3 L308.3,508.5 L309.6,507.8 L310.9,507.0 L312.2,506.2 L313.5,505.4 L314.7,504.6 L316.0,503.8 L317.3,503.0 L318.6,502.1 L319.9,501.3 L321.1,500.4 L322.4,499.5 L323.7,498.6 L325.0,497.7 L326.3,496.8 L327.5,495.9 L328.8,494.9 L330.1,493.9 L331.4,493.0 L332.7,492.0 L333.9,491.0 L335.2,489.9 L336.5,488.9 L337.8,487.8 L339.1,486.7 L340.3,485.6 L341.6,484.5 L342.9,483.4 L344.2,482.2 L345.5,481.1 L346.7,479.9 L348.0,478.6 L349.3,477.4 L350.6,476.2 L351.9,474.9 L353.1,473.6 L354.4,472.2 L355.7,470.9 L357.0,469.5 L358.3,468.1 L359.5,466.7 L360.8,465.2 L362.1,463.8 L363.4,462.3 L364.7,460.7 L365.9,459.2 L367.2,457.6 L368.5,455.9 L369.8,454.3 L371.1,452.6 L372.3,450.9 L373.6,449.1 L374.9,447.3 L376.2,445.5 L377.5,443.7 L378.7,441.8 L380.0,439.9 L381.3,437.9 L382.6,435.9 L383.9,433.8 L385.2,431.8 L386.4,429.7 L387.7,427.5 L389.0,425.3 L390.3,422.9 L391.6,420.6 L392.8,418.3 L394.1,415.9 L395.4,413.5 L396.7,411.1 L398.0,408.5 L399.2,405.9 L400.5,403.2 L401.8,400.5 L403.1,397.7 L404.4,395.1 L405.6,392.2 L406.9,389.3 L408.2,386.3 L409.5,383.4 L410.8,380.3 L412.0,377.1 L413.3,373.9 L414.6,370.7 L415.9,367.5 L417.2,364.0 L418.4,360.7 L419.7,357.1 L421.0,353.7 L422.3,350.3 L423.6,346.9 L424.8,343.6 L426.1,340.0 L427.4,336.2 L428.7,332.2 L430.0,328.5 L431.2,324.9 L432.5,321.4 L433.8,317.6 L435.1,313.9 L436.4,309.8 L437.6,306.2 L438.9,302.5 L440.2,298.7 L441.5,295.1 L442.8,291.6 L444.0,288.7 L445.3,285.6 L446.6,282.5 L447.9,279.1 L449.2,275.7 L450.4,273.1 L451.7,270.5 L453.0,267.8 L454.3,265.1 L455.6,262.9 L456.8,261.5 L458.1,259.9 L459.4,258.3 L460.7,256.6 L462.0,255.8 L463.2,254.8 L464.5,254.5 L465.8,254.2 L467.1,255.1 L468.4,255.7 L469.6,256.8 L470.9,257.5 L472.2,258.8 L473.5,260.6 L474.8,262.3 L476.0,265.0 L477.3,267.5 L478.6,270.7 L479.9,273.8 L481.2,276.9 L482.4,280.3 L483.7,283.7 L485.0,287.2 L486.3,291.2 L487.6,295.0 L488.8,299.5 L490.1,303.9 L491.4,308.2 L492.7,312.2 L494.0,316.2 L495.2,320.1 L496.5,324.6 L497.8,328.8 L499.1,333.2 L500.4,336.8 L501.6,340.7 L502.9,344.6 L504.2,348.7 L505.5,352.4 L506.8,356.2 L508.0,359.8 L509.3,363.8 L510.6,367.2 L511.9,370.7 L513.2,374.0 L514.4,377.4 L515.7,380.7 L517.0,384.0 L518.3,387.2 L519.6,390.3 L520.8,393.3 L522.1,396.3 L523.4,399.3 L524.7,402.1 L526.0,404.8 L527.2,407.5 L528.5,410.1 L529.8,412.8 L531.1,415.3 L532.4,417.8 L533.6,420.1 L534.9,422.5 L536.2,424.8 L537.5,427.0 L538.8,429.2 L540.0,431.4 L541.3,433.5 L542.6,435.5 L543.9,437.5 L545.2,439.5 L546.4,441.4 L547.7,443.2 L549.0,445.1 L550.3,446.8 L551.6,448.6 L552.9,450.3 L554.1,452.0 L555.4,453.6 L556.7,455.2 L558.0,456.8 L559.3,458.3 L560.5,459.8 L561.8,461.2 L563.1,462.7 L564.4,464.1 L565.7,465.5 L566.9,466.8 L568.2,468.1 L569.5,469.4 L570.8,470.7 L572.1,472.0 L573.3,473.2 L574.6,474.4 L575.9,475.6 L577.2,476.7 L578.5,477.8 L579.7,479.0 L581.0,480.0 L582.3,481.1 L583.6,482.2 L584.9,483.2 L586.1,484.2 L587.4,485.2 L588.7,486.2 L590.0,487.1 L591.3,488.1 L592.5,489.0 L593.8,489.9 L595.1,490.8 L596.4,491.7 L597.7,492.5 L598.9,493.4 L600.2,494.2 L601.5,495.0 L602.8,495.8 L604.1,496.6 L605.3,497.4 L606.6,498.2 L607.9,498.9 L609.2,499.7 L610.5,500.4 L611.7,501.1 L613.0,501.8 L614.3,502.5 L615.6,503.2 L616.9,503.9 L618.1,504.6 L619.4,505.2 L620.7,505.9 L622.0,506.5 L623.3,507.1 L624.5,507.7 L625.8,508.4 L627.1,509.0 L628.4,509.5 L629.7,510.1 L630.9,510.7 L632.2,511.3 L633.5,511.8 L634.8,512.4 L636.1,512.9 L637.3,513.5 L638.6,514.0 L639.9,514.5 L641.2,515.0 L642.5,515.5 L643.7,516.0 L645.0,516.5 L646.3,517.0 L647.6,517.5 L648.9,518.0 L650.1,518.4 L651.4,518.9 L652.7,519.3 L654.0,519.8 L655.3,520.2 L656.5,520.7 L657.8,521.1 L659.1,521.5 L660.4,522.0 L661.7,522.4 L662.9,522.8 L664.2,523.2 L665.5,523.6 L666.8,524.0 L668.1,524.4 L669.3,524.8 L670.6,525.2 L671.9,525.5 L673.2,525.9 L674.5,526.3 L675.7,526.7 L677.0,527.0 L678.3,527.4 L679.6,527.7 L680.9,528.1 L682.1,528.4 L683.4,528.8 L684.7,529.1 L686.0,529.4 L687.3,529.8 L688.5,530.1 L689.8,530.4 L691.1,530.7 L692.4,531.0 L693.7,531.4 L694.9,531.7 L696.2,532.0 L697.5,532.3 L698.8,532.6 L700.1,532.9 L701.3,533.2 L702.6,533.5 L703.9,533.7 L705.2,534.0 L706.5,534.3 L707.7,534.6 L709.0,534.9 L710.3,535.1 L711.6,535.4 L712.9,535.7 L714.2,535.9 L715.4,536.2 L716.7,536.5 L718.0,536.7 L719.3,537.0 L720.6,537.2 L721.8,537.5 L723.1,537.7 L724.4,538.0 L725.7,538.2 L727.0,538.5 L728.2,538.7 L729.5,538.9 L730.8,539.2 L732.1,539.4 L733.4,539.6 L734.6,539.8 L735.9,540.1 L737.2,540.3 L738.5,540.5 L739.8,540.7 L741.0,541.0 L742.3,541.2 L743.6,541.4 L744.9,541.6 L746.2,541.8 L747.4,542.0 L748.7,542.2 L750.0,542.4 L751.3,542.6 L752.6,542.8 L753.8,543.0 L755.1,543.2 L756.4,543.4 L757.7,543.6 L759.0,543.8 L760.2,544.0 L761.5,544.2 L762.8,544.4 L764.1,544.6 L765.4,544.7 L766.6,544.9 L767.9,545.1 L769.2,545.3 L770.5,545.5 L771.8,545.6 L773.0,545.8" stroke="#ff8000" stroke-width="3.8"/>
<path d="M158.6,555.8 L159.8,555.5 L161.1,555.3 L162.4,555.1 L163.7,554.9 L165.0,554.7 L166.2,554.4 L167.5,554.2 L168.8,554.0 L170.1,553.7 L171.4,553.5 L172.6,553.3 L173.9,553.0 L175.2,552.8 L176.5,552.5 L177.8,552.3 L179.0,552.1 L180.3,551.8 L181.6,551.6 L182.9,551.3 L184.2,551.0 L185.4,550.8 L186.7,550.5 L188.0,550.3 L189.3,550.0 L190.6,549.7 L191.8,549.5 L193.1,549.2 L194.4,548.9 L195.7,548.6 L197.0,548.4 L198.2,548.1 L199.5,547.8 L200.8,547.5 L202.1,547.2 L203.4,546.9 L204.6,546.6 L205.9,546.3 L207.2,546.0 L208.5,545.7 L209.8,545.4 L211.0,545.1 L212.3,544.8 L213.6,544.5 L214.9,544.2 L216.2,543.9 L217.4,543.5 L218.7,543.2 L220.0,542.9 L221.3,542.5 L222.6,542.2 L223.9,541.9 L225.1,541.5 L226.4,541.2 L227.7,540.8 L229.0,540.5 L230.3,540.1 L231.5,539.8 L232.8,539.4 L234.1,539.0 L235.4,538.6 L236.7,538.3 L237.9,537.9 L239.2,537.5 L240.5,537.1 L241.8,536.7 L243.1,536.3 L244.3,535.9 L245.6,535.5 L246.9,535.1 L248.2,534.7 L249.5,534.3 L250.7,533.9 L252.0,533.4 L253.3,533.0 L254.6,532.6 L255.9,532.1 L257.1,531.7 L258.4,531.2 L259.7,530.7 L261.0,530.3 L262.3,529.8 L263.5,529.3 L264.8,528.9 L266.1,528.4 L267.4,527.9 L268.7,527.4 L269.9,526.9 L271.2,526.4 L272.5,525.9 L273.8,525.3 L275.1,524.8 L276.3,524.3 L277.6,523.7 L278.9,523.2 L280.2,522.6 L281.5,522.1 L282.7,521.5 L284.0,520.9 L285.3,520.3 L286.6,519.7 L287.9,519.1 L289.1,518.5 L290.4,517.9 L291.7,517.3 L293.0,516.7 L294.3,516.0 L295.5,515.4 L296.8,514.7 L298.1,514.1 L299.4,513.4 L300.7,512.7 L301.9,512.0 L303.2,511.3 L304.5,510.6 L305.8,509.9 L307.1,509.1 L308.3,508.4 L309.6,507.6 L310.9,506.9 L312.2,506.1 L313.5,505.3 L314.7,504.5 L316.0,503.7 L317.3,502.9 L318.6,502.0 L319.9,501.2 L321.1,500.3 L322.4,499.4 L323.7,498.6 L325.0,497.7 L326.3,496.7 L327.5,495.8 L328.8,494.9 L330.1,493.9 L331.4,492.9 L332.7,491.9 L333.9,490.9 L335.2,489.9 L336.5,488.9 L337.8,487.8 L339.1,486.8 L340.3,485.7 L341.6,484.6 L342.9,483.4 L344.2,482.3 L345.5,481.1 L346.7,479.9 L348.0,478.7 L349.3,477.5 L350.6,476.3 L351.9,475.0 L353.1,473.7 L354.4,472.4 L355.7,471.0 L357.0,469.7 L358.3,468.3 L359.5,466.9 L360.8,465.4 L362.1,464.0 L363.4,462.5 L364.7,461.0 L365.9,459.4 L367.2,457.8 L368.5,456.2 L369.8,454.6 L371.1,452.9 L372.3,451.2 L373.6,449.5 L374.9,447.7 L376.2,445.9 L377.5,444.1 L378.7,442.2 L380.0,440.3 L381.3,438.4 L382.6,436.4 L383.9,434.4 L385.2,432.4 L386.4,430.3 L387.7,428.1 L389.0,425.9 L390.3,423.7 L391.6,421.4 L392.8,419.1 L394.1,416.7 L395.4,414.4 L396.7,412.0 L398.0,409.5 L399.2,406.9 L400.5,404.3 L401.8,401.6 L403.1,398.9 L404.4,396.2 L405.6,393.5 L406.9,390.6 L408.2,387.7 L409.5,384.8 L410.8,381.7 L412.0,378.7 L413.3,375.6 L414.6,372.5 L415.9,369.4 L417.2,366.2 L418.4,363.0 L419.7,359.6 L421.0,356.2 L422.3,352.8 L423.6,349.4 L424.8,345.8 L426.1,342.3 L427.4,338.8 L428.7,335.3 L430.0,331.9 L431.2,328.0 L432.5,324.4 L433.8,320.8 L435.1,317.4 L436.4,313.8 L437.6,310.2 L438.9,306.6 L440.2,303.1 L441.5,299.5 L442.8,296.3 L444.0,293.2 L445.3,289.9 L446.6,286.9 L447.9,283.7 L449.2,281.2 L450.4,278.5 L451.7,276.1 L453.0,273.7 L454.3,271.3 L455.6,269.3 L456.8,267.5 L458.1,266.2 L459.4,264.8 L460.7,263.5 L462.0,262.6 L463.2,261.9 L464.5,261.4 L465.8,261.6 L467.1,262.0 L468.4,262.9 L469.6,263.5 L470.9,264.3 L472.2,265.5 L473.5,267.4 L474.8,269.7 L476.0,272.0 L477.3,274.4 L478.6,277.2 L479.9,280.3 L481.2,283.7 L482.4,286.9 L483.7,290.3 L485.0,293.6 L486.3,297.6 L487.6,301.6 L488.8,305.6 L490.1,309.4 L491.4,313.3 L492.7,317.2 L494.0,321.0 L495.2,324.9 L496.5,329.0 L497.8,333.3 L499.1,337.2 L500.4,341.1 L501.6,344.8 L502.9,348.7 L504.2,352.5 L505.5,356.4 L506.8,360.2 L508.0,363.8 L509.3,367.4 L510.6,371.0 L511.9,374.3 L513.2,377.6 L514.4,380.9 L515.7,384.2 L517.0,387.4 L518.3,390.4 L519.6,393.5 L520.8,396.4 L522.1,399.3 L523.4,402.1 L524.7,404.8 L526.0,407.5 L527.2,410.1 L528.5,412.7 L529.8,415.3 L531.1,417.7 L532.4,420.1 L533.6,422.4 L534.9,424.7 L536.2,426.9 L537.5,429.1 L538.8,431.2 L540.0,433.4 L541.3,435.4 L542.6,437.4 L543.9,439.4 L545.2,441.3 L546.4,443.1 L547.7,445.0 L549.0,446.8 L550.3,448.5 L551.6,450.2 L552.9,451.9 L554.1,453.5 L555.4,455.1 L556.7,456.7 L558.0,458.2 L559.3,459.7 L560.5,461.2 L561.8,462.6 L563.1,464.0 L564.4,465.4 L565.7,466.8 L566.9,468.1 L568.2,469.4 L569.5,470.7 L570.8,471.9 L572.1,473.1 L573.3,474.3 L574.6,475.5 L575.9,476.7 L577.2,477.8 L578.5,478.9 L579.7,480.0 L581.0,481.1 L582.3,482.1 L583.6,483.2 L584.9,484.2 L586.1,485.2 L587.4,486.1 L588.7,487.1 L590.0,488.0 L591.3,489.0 L592.5,489.9 L593.8,490.8 L595.1,491.7 L596.4,492.5 L597.7,493.4 L598.9,494.2 L600.2,495.0 L601.5,495.8 L602.8,496.6 L604.1,497.4 L605.3,498.2 L606.6,498.9 L607.9,499.7 L609.2,500.4 L610.5,501.1 L611.7,501.8 L613.0,502.5 L614.3,503.2 L615.6,503.9 L616.9,504.5 L618.1,505.2 L619.4,505.8 L620.7,506.5 L622.0,507.1 L623.3,507.7 L624.5,508.3 L625.8,508.9 L627.1,509.5 L628.4,510.1 L629.7,510.7 L630.9,511.2 L632.2,511.8 L633.5,512.4 L634.8,512.9 L636.1,513.4 L637.3,514.0 L638.6,514.5 L639.9,515.0 L641.2,515.5 L642.5,516.0 L643.7,516.5 L645.0,517.0 L646.3,517.5 L647.6,517.9 L648.9,518.4 L650.1,518.9 L651.4,519.3 L652.7,519.8 L654.0,520.2 L655.3,520.6 L656.5,521.1 L657.8,521.5 L659.1,521.9 L660.4,522.3 L661.7,522.8 L662.9,523.2 L664.2,523.6 L665.5,524.0 L666.8,524.3 L668.1,524.7 L669.3,525.1 L670.6,525.5 L671.9,525.9 L673.2,526.2 L674.5,526.6 L675.7,527.0 L677.0,527.3 L678.3,527.7 L679.6,528.0 L680.9,528.4 L682.1,528.7 L683.4,529.0 L684.7,529.4 L686.0,529.7 L687.3,530.0 L688.5,530.4 L689.8,530.7 L691.1,531.0 L692.4,531.3 L693.7,531.6 L694.9,531.9 L696.2,532.2 L697.5,532.5 L698.8,532.8 L700.1,533.1 L701.3,533.4 L702.6,533.7 L703.9,534.0 L705.2,534.2 L706.5,534.5 L707.7,534.8 L709.0,535.1 L710.3,535.3 L711.6,535.6 L712.9,535.9 L714.2,536.1 L715.4,536.4 L716.7,536.6 L718.0,536.9 L719.3,537.2 L720.6,537.4 L721.8,537.6 L723.1,537.9 L724.4,538.1 L725.7,538.4 L727.0,538.6 L728.2,538.8 L729.5,539.1 L730.8,539.3 L732.1,539.5 L733.4,539.8 L734.6,540.0 L735.9,540.2 L737.2,540.4 L738.5,540.7 L739.8,540.9 L741.0,541.1 L742.3,541.3 L743.6,541.5 L744.9,541.7 L746.2,541.9 L747.4,542.1 L748.7,542.3 L750.0,542.5 L751.3,542.7 L752.6,542.9 L753.8,543.1 L755.1,543.3 L756.4,543.5 L757.7,543.7 L759.0,543.9 L760.2,544.1 L761.5,544.3 L762.8,544.4 L764.1,544.6 L765.4,544.8 L766.6,545.0 L767.9,545.2 L769.2,545.4 L770.5,545.5 L771.8,545.7 L773.0,545.9" stroke="#ff0080" stroke-width="3.8"/>
<path d="M158.6,555.3 L159.8,555.1 L161.1,554.9 L162.4,554.7 L163.7,554.5 L165.0,554.2 L166.2,554.0 L167.5,553.8 L168.8,553.6 L170.1,553.3 L171.4,553.1 L172.6,552.9 L173.9,552.6 L175.2,552.4 L176.5,552.1 L177.8,551.9 L179.0,551.6 L180.3,551.4 L181.6,551.1 L182.9,550.9 L184.2,550.6 L185.4,550.4 L186.7,550.1 L188.0,549.9 L189.3,549.6 L190.6,549.3 L191.8,549.1 L193.1,548.8 L194.4,548.5 L195.7,548.3 L197.0,548.0 L198.2,547.7 L199.5,547.4 L200.8,547.1 L202.1,546.8 L203.4,546.6 L204.6,546.3 L205.9,546.0 L207.2,545.7 L208.5,545.4 L209.8,545.1 L211.0,544.8 L212.3,544.4 L213.6,544.1 L214.9,543.8 L216.2,543.5 L217.4,543.2 L218.7,542.9 L220.0,542.5 L221.3,542.2 L222.6,541.9 L223.9,541.5 L225.1,541.2 L226.4,540.8 L227.7,540.5 L229.0,540.1 L230.3,539.8 L231.5,539.4 L232.8,539.1 L234.1,538.7 L235.4,538.3 L236.7,537.9 L237.9,537.6 L239.2,537.2 L240.5,536.8 L241.8,536.4 L243.1,536.0 L244.3,535.6 L245.6,535.2 L246.9,534.8 L248.2,534.4 L249.5,534.0 L250.7,533.6 L252.0,533.1 L253.3,532.7 L254.6,532.3 L255.9,531.8 L257.1,531.4 L258.4,530.9 L259.7,530.5 L261.0,530.0 L262.3,529.5 L263.5,529.1 L264.8,528.6 L266.1,528.1 L267.4,527.6 L268.7,527.1 L269.9,526.6 L271.2,526.1 L272.5,525.6 L273.8,525.1 L275.1,524.6 L276.3,524.0 L277.6,523.5 L278.9,523.0 L280.2,522.4 L281.5,521.8 L282.7,521.3 L284.0,520.7 L285.3,520.1 L286.6,519.5 L287.9,518.9 L289.1,518.3 L290.4,517.7 L291.7,517.1 L293.0,516.5 L294.3,515.9 L295.5,515.2 L296.8,514.6 L298.1,513.9 L299.4,513.2 L300.7,512.6 L301.9,511.9 L303.2,511.2 L304.5,510.5 L305.8,509.7 L307.1,509.0 L308.3,508.3 L309.6,507.5 L310.9,506.8 L312.2,506.0 L313.5,505.2 L314.7,504.4 L316.0,503.6 L317.3,502.8 L318.6,502.0 L319.9,501.1 L321.1,500.3 L322.4,499.4 L323.7,498.5 L325.0,497.7 L326.3,496.8 L327.5,495.8 L328.8,494.9 L330.1,494.0 L331.4,493.0 L332.7,492.0 L333.9,491.0 L335.2,490.0 L336.5,489.0 L337.8,487.9 L339.1,486.9 L340.3,485.8 L341.6,484.7 L342.9,483.6 L344.2,482.5 L345.5,481.3 L346.7,480.1 L348.0,478.9 L349.3,477.7 L350.6,476.5 L351.9,475.3 L353.1,474.0 L354.4,472.7 L355.7,471.4 L357.0,470.0 L358.3,468.6 L359.5,467.3 L360.8,465.8 L362.1,464.4 L363.4,462.9 L364.7,461.4 L365.9,459.9 L367.2,458.4 L368.5,456.8 L369.8,455.2 L371.1,453.5 L372.3,451.9 L373.6,450.2 L374.9,448.4 L376.2,446.7 L377.5,444.9 L378.7,443.0 L380.0,441.2 L381.3,439.3 L382.6,437.3 L383.9,435.4 L385.2,433.4 L386.4,431.3 L387.7,429.2 L389.0,427.1 L390.3,424.9 L391.6,422.7 L392.8,420.4 L394.1,418.1 L395.4,415.8 L396.7,413.4 L398.0,410.9 L399.2,408.5 L400.5,406.0 L401.8,403.4 L403.1,400.7 L404.4,398.0 L405.6,395.4 L406.9,392.6 L408.2,389.8 L409.5,386.9 L410.8,384.1 L412.0,381.3 L413.3,378.3 L414.6,375.2 L415.9,372.1 L417.2,369.0 L418.4,365.9 L419.7,362.6 L421.0,359.3 L422.3,356.1 L423.6,352.8 L424.8,349.5 L426.1,346.1 L427.4,342.8 L428.7,339.3 L430.0,335.7 L431.2,332.3 L432.5,329.2 L433.8,325.9 L435.1,322.5 L436.4,319.0 L437.6,315.6 L438.9,312.1 L440.2,308.8 L441.5,305.7 L442.8,302.8 L444.0,299.8 L445.3,296.8 L446.6,294.0 L447.9,291.1 L449.2,288.4 L450.4,286.0 L451.7,283.8 L453.0,281.6 L454.3,279.5 L455.6,277.5 L456.8,275.8 L458.1,274.4 L459.4,273.3 L460.7,272.1 L462.0,271.0 L463.2,270.5 L464.5,270.3 L465.8,270.4 L467.1,270.7 L468.4,271.2 L469.6,271.9 L470.9,272.8 L472.2,274.2 L473.5,275.9 L474.8,277.9 L476.0,280.0 L477.3,282.4 L478.6,285.0 L479.9,287.8 L481.2,291.1 L482.4,294.3 L483.7,297.6 L485.0,300.7 L486.3,304.1 L487.6,307.9 L488.8,311.9 L490.1,315.6 L491.4,319.4 L492.7,323.2 L494.0,327.0 L495.2,330.9 L496.5,334.6 L497.8,338.6 L499.1,342.4 L500.4,346.3 L501.6,349.8 L502.9,353.5 L504.2,357.2 L505.5,360.8 L506.8,364.3 L508.0,367.7 L509.3,371.1 L510.6,374.6 L511.9,377.9 L513.2,381.2 L514.4,384.4 L515.7,387.5 L517.0,390.6 L518.3,393.5 L519.6,396.5 L520.8,399.4 L522.1,402.2 L523.4,404.9 L524.7,407.6 L526.0,410.2 L527.2,412.8 L528.5,415.3 L529.8,417.7 L531.1,420.1 L532.4,422.5 L533.6,424.7 L534.9,426.9 L536.2,429.1 L537.5,431.3 L538.8,433.4 L540.0,435.4 L541.3,437.4 L542.6,439.3 L543.9,441.3 L545.2,443.1 L546.4,444.9 L547.7,446.7 L549.0,448.5 L550.3,450.2 L551.6,451.9 L552.9,453.5 L554.1,455.1 L555.4,456.7 L556.7,458.2 L558.0,459.7 L559.3,461.2 L560.5,462.6 L561.8,464.0 L563.1,465.4 L564.4,466.8 L565.7,468.1 L566.9,469.4 L568.2,470.7 L569.5,471.9 L570.8,473.1 L572.1,474.3 L573.3,475.5 L574.6,476.7 L575.9,477.8 L577.2,478.9 L578.5,480.0 L579.7,481.1 L581.0,482.1 L582.3,483.1 L583.6,484.2 L584.9,485.2 L586.1,486.1 L587.4,487.1 L588.7,488.0 L590.0,489.0 L591.3,489.9 L592.5,490.8 L593.8,491.6 L595.1,492.5 L596.4,493.3 L597.7,494.2 L598.9,495.0 L600.2,495.8 L601.5,496.6 L602.8,497.4 L604.1,498.1 L605.3,498.9 L606.6,499.6 L607.9,500.4 L609.2,501.1 L610.5,501.8 L611.7,502.5 L613.0,503.2 L614.3,503.9 L615.6,504.5 L616.9,505.2 L618.1,505.8 L619.4,506.5 L620.7,507.1 L622.0,507.7 L623.3,508.3 L624.5,508.9 L625.8,509.5 L627.1,510.1 L628.4,510.6 L629.7,511.2 L630.9,511.8 L632.2,512.3 L633.5,512.9 L634.8,513.4 L636.1,513.9 L637.3,514.4 L638.6,515.0 L639.9,515.5 L641.2,516.0 L642.5,516.4 L643.7,516.9 L645.0,517.4 L646.3,517.9 L647.6,518.3 L648.9,518.8 L650.1,519.3 L651.4,519.7 L652.7,520.2 L654.0,520.6 L655.3,521.0 L656.5,521.4 L657.8,521.9 L659.1,522.3 L660.4,522.7 L661.7,523.1 L662.9,523.5 L664.2,523.9 L665.5,524.3 L666.8,524.7 L668.1,525.1 L669.3,525.4 L670.6,525.8 L671.9,526.2 L673.2,526.5 L674.5,526.9 L675.7,527.3 L677.0,527.6 L678.3,528.0 L679.6,528.3 L680.9,528.6 L682.1,529.0 L683.4,529.3 L684.7,529.6 L686.0,530.0 L687.3,530.3 L688.5,530.6 L689.8,530.9 L691.1,531.2 L692.4,531.5 L693.7,531.8 L694.9,532.1 L696.2,532.4 L697.5,532.7 L698.8,533.0 L700.1,533.3 L701.3,533.6 L702.6,533.9 L703.9,534.2 L705.2,534.4 L706.5,534.7 L707.7,535.0 L709.0,535.2 L710.3,535.5 L711.6,535.8 L712.9,536.0 L714.2,536.3 L715.4,536.5 L716.7,536.8 L718.0,537.0 L719.3,537.3 L720.6,537.5 L721.8,537.8 L723.1,538.0 L724.4,538.3 L725.7,538.5 L727.0,538.7 L728.2,539.0 L729.5,539.2 L730.8,539.4 L732.1,539.6 L733.4,539.9 L734.6,540.1 L735.9,540.3 L737.2,540.5 L738.5,540.7 L739.8,541.0 L741.0,541.2 L742.3,541.4 L743.6,541.6 L744.9,541.8 L746.2,542.0 L747.4,542.2 L748.7,542.4 L750.0,542.6 L751.3,542.8 L752.6,543.0 L753.8,543.2 L755.1,543.4 L756.4,543.6 L757.7,543.8 L759.0,543.9 L760.2,544.1 L761.5,544.3 L762.8,544.5 L764.1,544.7 L765.4,544.9 L766.6,545.0 L767.9,545.2 L769.2,545.4 L770.5,545.6 L771.8,545.7 L773.0,545.9" stroke="#c0c0c0" stroke-width="3.8"/>
<path d="M158.6,555.1 L159.8,554.8 L161.1,554.6 L162.4,554.4 L163.7,554.2 L165.0,554.0 L166.2,553.7 L167.5,553.5 L168.8,553.3 L170.1,553.0 L171.4,552.8 L172.6,552.6 L173.9,552.3 L175.2,552.1 L176.5,551.9 L177.8,551.6 L179.0,551.4 L180.3,551.1 L181.6,550.9 L182.9,550.6 L184.2,550.4 L185.4,550.1 L186.7,549.9 L188.0,549.6 L189.3,549.3 L190.6,549.1 L191.8,548.8 L193.1,548.5 L194.4,548.3 L195.7,548.0 L197.0,547.7 L198.2,547.4 L199.5,547.2 L200.8,546.9 L202.1,546.6 L203.4,546.3 L204.6,546.0 L205.9,545.7 L207.2,545.4 L208.5,545.1 L209.8,544.8 L211.0,544.5 L212.3,544.2 L213.6,543.9 L214.9,543.6 L216.2,543.3 L217.4,542.9 L218.7,542.6 L220.0,542.3 L221.3,542.0 L222.6,541.6 L223.9,541.3 L225.1,540.9 L226.4,540.6 L227.7,540.3 L229.0,539.9 L230.3,539.5 L231.5,539.2 L232.8,538.8 L234.1,538.5 L235.4,538.1 L236.7,537.7 L237.9,537.3 L239.2,537.0 L240.5,536.6 L241.8,536.2 L243.1,535.8 L244.3,535.4 L245.6,535.0 L246.9,534.6 L248.2,534.2 L249.5,533.8 L250.7,533.3 L252.0,532.9 L253.3,532.5 L254.6,532.1 L255.9,531.6 L257.1,531.2 L258.4,530.7 L259.7,530.3 L261.0,529.8 L262.3,529.4 L263.5,528.9 L264.8,528.4 L266.1,527.9 L267.4,527.4 L268.7,526.9 L269.9,526.4 L271.2,525.9 L272.5,525.4 L273.8,524.9 L275.1,524.4 L276.3,523.9 L277.6,523.3 L278.9,522.8 L280.2,522.2 L281.5,521.7 L282.7,521.1 L284.0,520.6 L285.3,520.0 L286.6,519.4 L287.9,518.8 L289.1,518.2 L290.4,517.6 L291.7,517.0 L293.0,516.4 L294.3,515.7 L295.5,515.1 L296.8,514.4 L298.1,513.8 L299.4,513.1 L300.7,512.4 L301.9,511.8 L303.2,511.1 L304.5,510.4 L305.8,509.7 L307.1,508.9 L308.3,508.2 L309.6,507.5 L310.9,506.7 L312.2,505.9 L313.5,505.2 L314.7,504.4 L316.0,503.6 L317.3,502.8 L318.6,501.9 L319.9,501.1 L321.1,500.3 L322.4,499.4 L323.7,498.5 L325.0,497.6 L326.3,496.7 L327.5,495.8 L328.8,494.9 L330.1,494.0 L331.4,493.0 L332.7,492.0 L333.9,491.0 L335.2,490.0 L336.5,489.0 L337.8,488.0 L339.1,486.9 L340.3,485.9 L341.6,484.8 L342.9,483.7 L344.2,482.6 L345.5,481.4 L346.7,480.3 L348.0,479.1 L349.3,477.9 L350.6,476.7 L351.9,475.4 L353.1,474.1 L354.4,472.9 L355.7,471.6 L357.0,470.2 L358.3,468.9 L359.5,467.5 L360.8,466.1 L362.1,464.7 L363.4,463.2 L364.7,461.7 L365.9,460.2 L367.2,458.7 L368.5,457.1 L369.8,455.5 L371.1,453.9 L372.3,452.3 L373.6,450.6 L374.9,448.9 L376.2,447.1 L377.5,445.4 L378.7,443.5 L380.0,441.7 L381.3,439.8 L382.6,437.9 L383.9,436.0 L385.2,434.0 L386.4,432.0 L387.7,429.9 L389.0,427.8 L390.3,425.6 L391.6,423.5 L392.8,421.3 L394.1,419.0 L395.4,416.7 L396.7,414.3 L398.0,412.0 L399.2,409.6 L400.5,407.1 L401.8,404.6 L403.1,402.0 L404.4,399.4 L405.6,396.7 L406.9,394.0 L408.2,391.3 L409.5,388.5 L410.8,385.7 L412.0,382.8 L413.3,379.8 L414.6,376.8 L415.9,373.8 L417.2,370.9 L418.4,367.9 L419.7,364.8 L421.0,361.5 L422.3,358.4 L423.6,355.1 L424.8,351.8 L426.1,348.5 L427.4,345.3 L428.7,342.1 L430.0,338.8 L431.2,335.5 L432.5,332.2 L433.8,328.9 L435.1,325.7 L436.4,322.4 L437.6,319.2 L438.9,315.9 L440.2,312.8 L441.5,309.6 L442.8,306.6 L444.0,303.6 L445.3,300.9 L446.6,298.1 L447.9,295.4 L449.2,293.0 L450.4,290.7 L451.7,288.3 L453.0,286.2 L454.3,284.3 L455.6,282.7 L456.8,281.0 L458.1,279.7 L459.4,278.5 L460.7,277.5 L462.0,276.6 L463.2,276.1 L464.5,275.7 L465.8,275.8 L467.1,275.8 L468.4,276.4 L469.6,276.9 L470.9,278.0 L472.2,279.2 L473.5,280.9 L474.8,282.7 L476.0,284.9 L477.3,287.0 L478.6,289.7 L479.9,292.4 L481.2,295.4 L482.4,298.4 L483.7,301.8 L485.0,305.1 L486.3,308.7 L487.6,312.2 L488.8,315.8 L490.1,319.5 L491.4,322.9 L492.7,326.7 L494.0,330.3 L495.2,334.2 L496.5,337.9 L497.8,341.6 L499.1,345.4 L500.4,349.1 L501.6,352.6 L502.9,356.2 L504.2,359.7 L505.5,363.2 L506.8,366.7 L508.0,370.3 L509.3,373.6 L510.6,376.9 L511.9,380.1 L513.2,383.3 L514.4,386.4 L515.7,389.4 L517.0,392.4 L518.3,395.4 L519.6,398.3 L520.8,401.1 L522.1,403.9 L523.4,406.5 L524.7,409.2 L526.0,411.8 L527.2,414.3 L528.5,416.7 L529.8,419.1 L531.1,421.5 L532.4,423.8 L533.6,426.0 L534.9,428.2 L536.2,430.4 L537.5,432.5 L538.8,434.5 L540.0,436.6 L541.3,438.5 L542.6,440.5 L543.9,442.3 L545.2,444.2 L546.4,446.0 L547.7,447.7 L549.0,449.5 L550.3,451.1 L551.6,452.8 L552.9,454.4 L554.1,456.0 L555.4,457.5 L556.7,459.0 L558.0,460.5 L559.3,462.0 L560.5,463.4 L561.8,464.8 L563.1,466.2 L564.4,467.5 L565.7,468.8 L566.9,470.1 L568.2,471.4 L569.5,472.6 L570.8,473.8 L572.1,475.0 L573.3,476.1 L574.6,477.3 L575.9,478.4 L577.2,479.5 L578.5,480.6 L579.7,481.6 L581.0,482.7 L582.3,483.7 L583.6,484.7 L584.9,485.7 L586.1,486.7 L587.4,487.6 L588.7,488.5 L590.0,489.5 L591.3,490.4 L592.5,491.2 L593.8,492.1 L595.1,493.0 L596.4,493.8 L597.7,494.6 L598.9,495.4 L600.2,496.2 L601.5,497.0 L602.8,497.8 L604.1,498.5 L605.3,499.3 L606.6,500.0 L607.9,500.8 L609.2,501.5 L610.5,502.2 L611.7,502.9 L613.0,503.5 L614.3,504.2 L615.6,504.9 L616.9,505.5 L618.1,506.2 L619.4,506.8 L620.7,507.4 L622.0,508.0 L623.3,508.6 L624.5,509.2 L625.8,509.8 L627.1,510.4 L628.4,510.9 L629.7,511.5 L630.9,512.0 L632.2,512.6 L633.5,513.1 L634.8,513.7 L636.1,514.2 L637.3,514.7 L638.6,515.2 L639.9,515.7 L641.2,516.2 L642.5,516.7 L643.7,517.2 L645.0,517.6 L646.3,518.1 L647.6,518.6 L648.9,519.0 L650.1,519.5 L651.4,519.9 L652.7,520.4 L654.0,520.8 L655.3,521.2 L656.5,521.6 L657.8,522.1 L659.1,522.5 L660.4,522.9 L661.7,523.3 L662.9,523.7 L664.2,524.1 L665.5,524.5 L666.8,524.8 L668.1,525.2 L669.3,525.6 L670.6,526.0 L671.9,526.3 L673.2,526.7 L674.5,527.0 L675.7,527.4 L677.0,527.7 L678.3,528.1 L679.6,528.4 L680.9,528.8 L682.1,529.1 L683.4,529.4 L684.7,529.8 L686.0,530.1 L687.3,530.4 L688.5,530.7 L689.8,531.0 L691.1,531.3 L692.4,531.6 L693.7,531.9 L694.9,532.2 L696.2,532.5 L697.5,532.8 L698.8,533.1 L700.1,533.4 L701.3,533.7 L702.6,534.0 L703.9,534.2 L705.2,534.5 L706.5,534.8 L707.7,535.1 L709.0,535.3 L710.3,535.6 L711.6,535.8 L712.9,536.1 L714.2,536.4 L715.4,536.6 L716.7,536.9 L718.0,537.1 L719.3,537.4 L720.6,537.6 L721.8,537.8 L723.1,538.1 L724.4,538.3 L725.7,538.5 L727.0,538.8 L728.2,539.0 L729.5,539.2 L730.8,539.5 L732.1,539.7 L733.4,539.9 L734.6,540.1 L735.9,540.3 L737.2,540.6 L738.5,540.8 L739.8,541.0 L741.0,541.2 L742.3,541.4 L743.6,541.6 L744.9,541.8 L746.2,542.0 L747.4,542.2 L748.7,542.4 L750.0,542.6 L751.3,542.8 L752.6,543.0 L753.8,543.2 L755.1,543.4 L756.4,543.6 L757.7,543.8 L759.0,543.9 L760.2,544.1 L761.5,544.3 L762.8,544.5 L764.1,544.7 L765.4,544.9 L766.6,545.0 L767.9,545.2 L769.2,545.4 L770.5,545.5 L771.8,545.7 L773.0,545.9" stroke="#80ffff" stroke-width="3.8"/>
<path d="M158.6,554.7 L159.8,554.5 L161.1,554.3 L162.4,554.1 L163.7,553.9 L165.0,553.7 L166.2,553.4 L167.5,553.2 L168.8,553.0 L170.1,552.7 L171.4,552.5 L172.6,552.3 L173.9,552.0 L175.2,551.8 L176.5,551.6 L177.8,551.3 L179.0,551.1 L180.3,550.8 L181.6,550.6 L182.9,550.3 L184.2,550.1 L185.4,549.8 L186.7,549.6 L188.0,549.3 L189.3,549.1 L190.6,548.8 L191.8,548.5 L193.1,548.3 L194.4,548.0 L195.7,547.7 L197.0,547.4 L198.2,547.2 L199.5,546.9 L200.8,546.6 L202.1,546.3 L203.4,546.0 L204.6,545.7 L205.9,545.4 L207.2,545.1 L208.5,544.8 L209.8,544.5 L211.0,544.2 L212.3,543.9 L213.6,543.6 L214.9,543.3 L216.2,543.0 L217.4,542.7 L218.7,542.3 L220.0,542.0 L221.3,541.7 L222.6,541.4 L223.9,541.0 L225.1,540.7 L226.4,540.3 L227.7,540.0 L229.0,539.6 L230.3,539.3 L231.5,538.9 L232.8,538.6 L234.1,538.2 L235.4,537.8 L236.7,537.5 L237.9,537.1 L239.2,536.7 L240.5,536.3 L241.8,535.9 L243.1,535.6 L244.3,535.2 L245.6,534.8 L246.9,534.3 L248.2,533.9 L249.5,533.5 L250.7,533.1 L252.0,532.7 L253.3,532.3 L254.6,531.8 L255.9,531.4 L257.1,530.9 L258.4,530.5 L259.7,530.1 L261.0,529.6 L262.3,529.1 L263.5,528.7 L264.8,528.2 L266.1,527.7 L267.4,527.2 L268.7,526.7 L269.9,526.2 L271.2,525.7 L272.5,525.2 L273.8,524.7 L275.1,524.2 L276.3,523.7 L277.6,523.1 L278.9,522.6 L280.2,522.1 L281.5,521.5 L282.7,520.9 L284.0,520.4 L285.3,519.8 L286.6,519.2 L287.9,518.6 L289.1,518.0 L290.4,517.4 L291.7,516.8 L293.0,516.2 L294.3,515.6 L295.5,514.9 L296.8,514.3 L298.1,513.6 L299.4,513.0 L300.7,512.3 L301.9,511.6 L303.2,510.9 L304.5,510.2 L305.8,509.5 L307.1,508.8 L308.3,508.1 L309.6,507.3 L310.9,506.6 L312.2,505.8 L313.5,505.1 L314.7,504.3 L316.0,503.5 L317.3,502.7 L318.6,501.9 L319.9,501.0 L321.1,500.2 L322.4,499.3 L323.7,498.5 L325.0,497.6 L326.3,496.7 L327.5,495.8 L328.8,494.9 L330.1,493.9 L331.4,493.0 L332.7,492.0 L333.9,491.0 L335.2,490.0 L336.5,489.0 L337.8,488.0 L339.1,487.0 L340.3,485.9 L341.6,484.8 L342.9,483.7 L344.2,482.6 L345.5,481.5 L346.7,480.3 L348.0,479.2 L349.3,478.0 L350.6,476.8 L351.9,475.5 L353.1,474.3 L354.4,473.0 L355.7,471.7 L357.0,470.4 L358.3,469.1 L359.5,467.7 L360.8,466.3 L362.1,464.9 L363.4,463.4 L364.7,462.0 L365.9,460.5 L367.2,459.0 L368.5,457.4 L369.8,455.9 L371.1,454.3 L372.3,452.6 L373.6,451.0 L374.9,449.3 L376.2,447.6 L377.5,445.8 L378.7,444.0 L380.0,442.2 L381.3,440.4 L382.6,438.5 L383.9,436.5 L385.2,434.6 L386.4,432.6 L387.7,430.5 L389.0,428.5 L390.3,426.4 L391.6,424.2 L392.8,422.1 L394.1,419.8 L395.4,417.6 L396.7,415.3 L398.0,412.9 L399.2,410.5 L400.5,408.1 L401.8,405.6 L403.1,403.1 L404.4,400.5 L405.6,397.9 L406.9,395.3 L408.2,392.6 L409.5,389.9 L410.8,387.2 L412.0,384.3 L413.3,381.5 L414.6,378.6 L415.9,375.7 L417.2,372.7 L418.4,369.7 L419.7,366.6 L421.0,363.6 L422.3,360.5 L423.6,357.4 L424.8,354.3 L426.1,351.1 L427.4,347.9 L428.7,344.8 L430.0,341.6 L431.2,338.4 L432.5,335.2 L433.8,332.0 L435.1,328.8 L436.4,325.7 L437.6,322.6 L438.9,319.6 L440.2,316.4 L441.5,313.4 L442.8,310.6 L444.0,307.7 L445.3,305.1 L446.6,302.4 L447.9,299.9 L449.2,297.5 L450.4,295.1 L451.7,293.0 L453.0,291.0 L454.3,289.3 L455.6,287.6 L456.8,286.1 L458.1,284.7 L459.4,283.6 L460.7,282.8 L462.0,282.1 L463.2,281.6 L464.5,281.2 L465.8,281.1 L467.1,281.1 L468.4,281.6 L469.6,282.2 L470.9,283.2 L472.2,284.5 L473.5,286.1 L474.8,287.9 L476.0,289.9 L477.3,292.4 L478.6,294.7 L479.9,297.3 L481.2,300.0 L482.4,303.0 L483.7,306.1 L485.0,309.4 L486.3,312.8 L487.6,316.1 L488.8,319.6 L490.1,323.0 L491.4,326.6 L492.7,330.2 L494.0,334.0 L495.2,337.5 L496.5,341.2 L497.8,344.7 L499.1,348.3 L500.4,351.8 L501.6,355.4 L502.9,359.1 L504.2,362.5 L505.5,366.0 L506.8,369.3 L508.0,372.7 L509.3,375.9 L510.6,379.1 L511.9,382.3 L513.2,385.4 L514.4,388.5 L515.7,391.5 L517.0,394.4 L518.3,397.2 L519.6,400.0 L520.8,402.8 L522.1,405.5 L523.4,408.1 L524.7,410.7 L526.0,413.3 L527.2,415.8 L528.5,418.2 L529.8,420.5 L531.1,422.8 L532.4,425.1 L533.6,427.3 L534.9,429.5 L536.2,431.6 L537.5,433.7 L538.8,435.7 L540.0,437.7 L541.3,439.6 L542.6,441.5 L543.9,443.4 L545.2,445.2 L546.4,447.0 L547.7,448.7 L549.0,450.4 L550.3,452.1 L551.6,453.7 L552.9,455.3 L554.1,456.8 L555.4,458.4 L556.7,459.9 L558.0,461.3 L559.3,462.8 L560.5,464.2 L561.8,465.5 L563.1,466.9 L564.4,468.2 L565.7,469.5 L566.9,470.8 L568.2,472.0 L569.5,473.2 L570.8,474.4 L572.1,475.6 L573.3,476.8 L574.6,477.9 L575.9,479.0 L577.2,480.1 L578.5,481.1 L579.7,482.2 L581.0,483.2 L582.3,484.2 L583.6,485.2 L584.9,486.2 L586.1,487.2 L587.4,488.1 L588.7,489.0 L590.0,489.9 L591.3,490.8 L592.5,491.7 L593.8,492.5 L595.1,493.4 L596.4,494.2 L597.7,495.0 L598.9,495.8 L600.2,496.6 L601.5,497.4 L602.8,498.2 L604.1,498.9 L605.3,499.7 L606.6,500.4 L607.9,501.1 L609.2,501.8 L610.5,502.5 L611.7,503.2 L613.0,503.9 L614.3,504.5 L615.6,505.2 L616.9,505.8 L618.1,506.5 L619.4,507.1 L620.7,507.7 L622.0,508.3 L623.3,508.9 L624.5,509.5 L625.8,510.1 L627.1,510.6 L628.4,511.2 L629.7,511.8 L630.9,512.3 L632.2,512.8 L633.5,513.4 L634.8,513.9 L636.1,514.4 L637.3,514.9 L638.6,515.4 L639.9,515.9 L641.2,516.4 L642.5,516.9 L643.7,517.4 L645.0,517.8 L646.3,518.3 L647.6,518.8 L648.9,519.2 L650.1,519.7 L651.4,520.1 L652.7,520.5 L654.0,521.0 L655.3,521.4 L656.5,521.8 L657.8,522.2 L659.1,522.6 L660.4,523.0 L661.7,523.4 L662.9,523.8 L664.2,524.2 L665.5,524.6 L666.8,525.0 L668.1,525.4 L669.3,525.7 L670.6,526.1 L671.9,526.5 L673.2,526.8 L674.5,527.2 L675.7,527.5 L677.0,527.9 L678.3,528.2 L679.6,528.5 L680.9,528.9 L682.1,529.2 L683.4,529.5 L684.7,529.9 L686.0,530.2 L687.3,530.5 L688.5,530.8 L689.8,531.1 L691.1,531.4 L692.4,531.7 L693.7,532.0 L694.9,532.3 L696.2,532.6 L697.5,532.9 L698.8,533.2 L700.1,533.5 L701.3,533.8 L702.6,534.0 L703.9,534.3 L705.2,534.6 L706.5,534.8 L707.7,535.1 L709.0,535.4 L710.3,535.6 L711.6,535.9 L712.9,536.2 L714.2,536.4 L715.4,536.7 L716.7,536.9 L718.0,537.2 L719.3,537.4 L720.6,537.6 L721.8,537.9 L723.1,538.1 L724.4,538.4 L725.7,538.6 L727.0,538.8 L728.2,539.0 L729.5,539.3 L730.8,539.5 L732.1,539.7 L733.4,539.9 L734.6,540.2 L735.9,540.4 L737.2,540.6 L738.5,540.8 L739.8,541.0 L741.0,541.2 L742.3,541.4 L743.6,541.6 L744.9,541.8 L746.2,542.0 L747.4,542.2 L748.7,542.4 L750.0,542.6 L751.3,542.8 L752.6,543.0 L753.8,543.2 L755.1,543.4 L756.4,543.6 L757.7,543.8 L759.0,543.9 L760.2,544.1 L761.5,544.3 L762.8,544.5 L764.1,544.7 L765.4,544.8 L766.6,545.0 L767.9,545.2 L769.2,545.4 L770.5,545.5 L771.8,545.7 L773.0,545.9" stroke="#ff80ff" stroke-width="3.8"/>
<path d="M158.6,554.4 L159.8,554.2 L161.1,553.9 L162.4,553.7 L163.7,553.5 L165.0,553.3 L166.2,553.1 L167.5,552.8 L168.8,552.6 L170.1,552.4 L171.4,552.1 L172.6,551.9 L173.9,551.7 L175.2,551.4 L176.5,551.2 L177.8,551.0 L179.0,550.7 L180.3,550.5 L181.6,550.2 L182.9,550.0 L184.2,549.7 L185.4,549.5 L186.7,549.2 L188.0,549.0 L189.3,548.7 L190.6,548.4 L191.8,548.2 L193.1,547.9 L194.4,547.6 L195.7,547.4 L197.0,547.1 L198.2,546.8 L199.5,546.5 L200.8,546.2 L202.1,546.0 L203.4,545.7 L204.6,545.4 L205.9,545.1 L207.2,544.8 L208.5,544.5 L209.8,544.2 L211.0,543.9 L212.3,543.6 L213.6,543.3 L214.9,543.0 L216.2,542.6 L217.4,542.3 L218.7,542.0 L220.0,541.7 L221.3,541.3 L222.6,541.0 L223.9,540.7 L225.1,540.3 L226.4,540.0 L227.7,539.7 L229.0,539.3 L230.3,539.0 L231.5,538.6 L232.8,538.2 L234.1,537.9 L235.4,537.5 L236.7,537.1 L237.9,536.8 L239.2,536.4 L240.5,536.0 L241.8,535.6 L243.1,535.2 L244.3,534.8 L245.6,534.4 L246.9,534.0 L248.2,533.6 L249.5,533.2 L250.7,532.8 L252.0,532.4 L253.3,532.0 L254.6,531.5 L255.9,531.1 L257.1,530.6 L258.4,530.2 L259.7,529.8 L261.0,529.3 L262.3,528.8 L263.5,528.4 L264.8,527.9 L266.1,527.4 L267.4,526.9 L268.7,526.5 L269.9,526.0 L271.2,525.5 L272.5,525.0 L273.8,524.4 L275.1,523.9 L276.3,523.4 L277.6,522.9 L278.9,522.3 L280.2,521.8 L281.5,521.2 L282.7,520.7 L284.0,520.1 L285.3,519.6 L286.6,519.0 L287.9,518.4 L289.1,517.8 L290.4,517.2 L291.7,516.6 L293.0,516.0 L294.3,515.3 L295.5,514.7 L296.8,514.1 L298.1,513.4 L299.4,512.8 L300.7,512.1 L301.9,511.4 L303.2,510.7 L304.5,510.0 L305.8,509.3 L307.1,508.6 L308.3,507.9 L309.6,507.2 L310.9,506.4 L312.2,505.7 L313.5,504.9 L314.7,504.1 L316.0,503.3 L317.3,502.5 L318.6,501.7 L319.9,500.9 L321.1,500.1 L322.4,499.2 L323.7,498.4 L325.0,497.5 L326.3,496.6 L327.5,495.7 L328.8,494.8 L330.1,493.9 L331.4,492.9 L332.7,492.0 L333.9,491.0 L335.2,490.0 L336.5,489.0 L337.8,488.0 L339.1,486.9 L340.3,485.9 L341.6,484.8 L342.9,483.7 L344.2,482.6 L345.5,481.5 L346.7,480.4 L348.0,479.2 L349.3,478.0 L350.6,476.8 L351.9,475.6 L353.1,474.4 L354.4,473.1 L355.7,471.8 L357.0,470.5 L358.3,469.2 L359.5,467.9 L360.8,466.5 L362.1,465.1 L363.4,463.7 L364.7,462.2 L365.9,460.8 L367.2,459.3 L368.5,457.7 L369.8,456.2 L371.1,454.6 L372.3,453.0 L373.6,451.4 L374.9,449.7 L376.2,448.0 L377.5,446.3 L378.7,444.5 L380.0,442.7 L381.3,440.9 L382.6,439.1 L383.9,437.2 L385.2,435.2 L386.4,433.3 L387.7,431.3 L389.0,429.3 L390.3,427.2 L391.6,425.1 L392.8,422.9 L394.1,420.8 L395.4,418.5 L396.7,416.3 L398.0,414.0 L399.2,411.6 L400.5,409.3 L401.8,406.9 L403.1,404.4 L404.4,401.9 L405.6,399.4 L406.9,396.8 L408.2,394.2 L409.5,391.5 L410.8,388.8 L412.0,386.1 L413.3,383.3 L414.6,380.5 L415.9,377.7 L417.2,374.8 L418.4,371.9 L419.7,369.0 L421.0,366.0 L422.3,363.1 L423.6,360.0 L424.8,356.9 L426.1,353.9 L427.4,350.9 L428.7,347.8 L430.0,344.7 L431.2,341.6 L432.5,338.6 L433.8,335.6 L435.1,332.6 L436.4,329.5 L437.6,326.5 L438.9,323.6 L440.2,320.8 L441.5,318.0 L442.8,315.2 L444.0,312.4 L445.3,309.9 L446.6,307.4 L447.9,305.0 L449.2,302.7 L450.4,300.3 L451.7,298.4 L453.0,296.4 L454.3,294.9 L455.6,293.3 L456.8,292.0 L458.1,290.7 L459.4,289.7 L460.7,288.8 L462.0,288.1 L463.2,287.6 L464.5,287.2 L465.8,287.1 L467.1,287.2 L468.4,287.6 L469.6,288.3 L470.9,289.2 L472.2,290.5 L473.5,292.0 L474.8,293.7 L476.0,295.6 L477.3,297.7 L478.6,300.0 L479.9,302.4 L481.2,305.2 L482.4,308.2 L483.7,311.2 L485.0,314.3 L486.3,317.3 L487.6,320.6 L488.8,323.9 L490.1,327.3 L491.4,330.8 L492.7,334.2 L494.0,337.7 L495.2,341.2 L496.5,344.8 L497.8,348.3 L499.1,351.8 L500.4,355.3 L501.6,358.8 L502.9,362.1 L504.2,365.5 L505.5,368.8 L506.8,372.1 L508.0,375.3 L509.3,378.5 L510.6,381.7 L511.9,384.8 L513.2,387.8 L514.4,390.7 L515.7,393.6 L517.0,396.5 L518.3,399.3 L519.6,402.0 L520.8,404.7 L522.1,407.4 L523.4,409.9 L524.7,412.5 L526.0,414.9 L527.2,417.4 L528.5,419.8 L529.8,422.1 L531.1,424.4 L532.4,426.6 L533.6,428.8 L534.9,430.9 L536.2,432.9 L537.5,435.0 L538.8,437.0 L540.0,438.9 L541.3,440.8 L542.6,442.7 L543.9,444.5 L545.2,446.3 L546.4,448.0 L547.7,449.8 L549.0,451.4 L550.3,453.1 L551.6,454.7 L552.9,456.2 L554.1,457.8 L555.4,459.3 L556.7,460.7 L558.0,462.2 L559.3,463.6 L560.5,465.0 L561.8,466.3 L563.1,467.7 L564.4,469.0 L565.7,470.3 L566.9,471.5 L568.2,472.7 L569.5,473.9 L570.8,475.1 L572.1,476.3 L573.3,477.4 L574.6,478.5 L575.9,479.6 L577.2,480.7 L578.5,481.7 L579.7,482.8 L581.0,483.8 L582.3,484.8 L583.6,485.8 L584.9,486.7 L586.1,487.7 L587.4,488.6 L588.7,489.5 L590.0,490.4 L591.3,491.3 L592.5,492.2 L593.8,493.0 L595.1,493.8 L596.4,494.7 L597.7,495.5 L598.9,496.3 L600.2,497.1 L601.5,497.8 L602.8,498.6 L604.1,499.3 L605.3,500.1 L606.6,500.8 L607.9,501.5 L609.2,502.2 L610.5,502.9 L611.7,503.5 L613.0,504.2 L614.3,504.9 L615.6,505.5 L616.9,506.1 L618.1,506.8 L619.4,507.4 L620.7,508.0 L622.0,508.6 L623.3,509.2 L624.5,509.8 L625.8,510.3 L627.1,510.9 L628.4,511.5 L629.7,512.0 L630.9,512.6 L632.2,513.1 L633.5,513.6 L634.8,514.1 L636.1,514.6 L637.3,515.2 L638.6,515.6 L639.9,516.1 L641.2,516.6 L642.5,517.1 L643.7,517.6 L645.0,518.0 L646.3,518.5 L647.6,519.0 L648.9,519.4 L650.1,519.8 L651.4,520.3 L652.7,520.7 L654.0,521.1 L655.3,521.6 L656.5,522.0 L657.8,522.4 L659.1,522.8 L660.4,523.2 L661.7,523.6 L662.9,524.0 L664.2,524.4 L665.5,524.7 L666.8,525.1 L668.1,525.5 L669.3,525.9 L670.6,526.2 L671.9,526.6 L673.2,526.9 L674.5,527.3 L675.7,527.6 L677.0,528.0 L678.3,528.3 L679.6,528.6 L680.9,529.0 L682.1,529.3 L683.4,529.6 L684.7,529.9 L686.0,530.3 L687.3,530.6 L688.5,530.9 L689.8,531.2 L691.1,531.5 L692.4,531.8 L693.7,532.1 L694.9,532.4 L696.2,532.7 L697.5,533.0 L698.8,533.2 L700.1,533.5 L701.3,533.8 L702.6,534.1 L703.9,534.4 L705.2,534.6 L706.5,534.9 L707.7,535.2 L709.0,535.4 L710.3,535.7 L711.6,535.9 L712.9,536.2 L714.2,536.4 L715.4,536.7 L716.7,536.9 L718.0,537.2 L719.3,537.4 L720.6,537.7 L721.8,537.9 L723.1,538.1 L724.4,538.4 L725.7,538.6 L727.0,538.8 L728.2,539.1 L729.5,539.3 L730.8,539.5 L732.1,539.7 L733.4,539.9 L734.6,540.2 L735.9,540.4 L737.2,540.6 L738.5,540.8 L739.8,541.0 L741.0,541.2 L742.3,541.4 L743.6,541.6 L744.9,541.8 L746.2,542.0 L747.4,542.2 L748.7,542.4 L750.0,542.6 L751.3,542.8 L752.6,543.0 L753.8,543.2 L755.1,543.4 L756.4,543.5 L757.7,543.7 L759.0,543.9 L760.2,544.1 L761.5,544.3 L762.8,544.4 L764.1,544.6 L765.4,544.8 L766.6,545.0 L767.9,545.1 L769.2,545.3 L770.5,545.5 L771.8,545.7 L773.0,545.8" stroke="#ff0000" stroke-width="3.8"/>
<path d="M158.6,554.1 L159.8,553.9 L161.1,553.7 L162.4,553.5 L163.7,553.3 L165.0,553.0 L166.2,552.8 L167.5,552.6 L168.8,552.4 L170.1,552.1 L171.4,551.9 L172.6,551.7 L173.9,551.4 L175.2,551.2 L176.5,551.0 L177.8,550.7 L179.0,550.5 L180.3,550.2 L181.6,550.0 L182.9,549.7 L184.2,549.5 L185.4,549.2 L186.7,549.0 L188.0,548.7 L189.3,548.5 L190.6,548.2 L191.8,547.9 L193.1,547.7 L194.4,547.4 L195.7,547.1 L197.0,546.9 L198.2,546.6 L199.5,546.3 L200.8,546.0 L202.1,545.7 L203.4,545.4 L204.6,545.2 L205.9,544.9 L207.2,544.6 L208.5,544.3 L209.8,544.0 L211.0,543.7 L212.3,543.4 L213.6,543.1 L214.9,542.7 L216.2,542.4 L217.4,542.1 L218.7,541.8 L220.0,541.5 L221.3,541.1 L222.6,540.8 L223.9,540.5 L225.1,540.1 L226.4,539.8 L227.7,539.4 L229.0,539.1 L230.3,538.7 L231.5,538.4 L232.8,538.0 L234.1,537.7 L235.4,537.3 L236.7,536.9 L237.9,536.6 L239.2,536.2 L240.5,535.8 L241.8,535.4 L243.1,535.0 L244.3,534.6 L245.6,534.2 L246.9,533.8 L248.2,533.4 L249.5,533.0 L250.7,532.6 L252.0,532.2 L253.3,531.8 L254.6,531.3 L255.9,530.9 L257.1,530.5 L258.4,530.0 L259.7,529.6 L261.0,529.1 L262.3,528.6 L263.5,528.2 L264.8,527.7 L266.1,527.2 L267.4,526.8 L268.7,526.3 L269.9,525.8 L271.2,525.3 L272.5,524.8 L273.8,524.3 L275.1,523.7 L276.3,523.2 L277.6,522.7 L278.9,522.2 L280.2,521.6 L281.5,521.1 L282.7,520.5 L284.0,520.0 L285.3,519.4 L286.6,518.8 L287.9,518.2 L289.1,517.6 L290.4,517.0 L291.7,516.4 L293.0,515.8 L294.3,515.2 L295.5,514.6 L296.8,513.9 L298.1,513.3 L299.4,512.6 L300.7,512.0 L301.9,511.3 L303.2,510.6 L304.5,509.9 L305.8,509.2 L307.1,508.5 L308.3,507.8 L309.6,507.0 L310.9,506.3 L312.2,505.5 L313.5,504.8 L314.7,504.0 L316.0,503.2 L317.3,502.4 L318.6,501.6 L319.9,500.8 L321.1,500.0 L322.4,499.1 L323.7,498.3 L325.0,497.4 L326.3,496.5 L327.5,495.6 L328.8,494.7 L330.1,493.8 L331.4,492.8 L332.7,491.9 L333.9,490.9 L335.2,489.9 L336.5,488.9 L337.8,487.9 L339.1,486.9 L340.3,485.9 L341.6,484.8 L342.9,483.7 L344.2,482.6 L345.5,481.5 L346.7,480.4 L348.0,479.2 L349.3,478.0 L350.6,476.9 L351.9,475.6 L353.1,474.4 L354.4,473.2 L355.7,471.9 L357.0,470.6 L358.3,469.3 L359.5,467.9 L360.8,466.6 L362.1,465.2 L363.4,463.8 L364.7,462.3 L365.9,460.9 L367.2,459.4 L368.5,457.9 L369.8,456.4 L371.1,454.8 L372.3,453.2 L373.6,451.6 L374.9,449.9 L376.2,448.2 L377.5,446.5 L378.7,444.8 L380.0,443.0 L381.3,441.2 L382.6,439.4 L383.9,437.5 L385.2,435.6 L386.4,433.7 L387.7,431.7 L389.0,429.7 L390.3,427.6 L391.6,425.6 L392.8,423.4 L394.1,421.3 L395.4,419.1 L396.7,416.9 L398.0,414.6 L399.2,412.3 L400.5,409.9 L401.8,407.6 L403.1,405.1 L404.4,402.7 L405.6,400.2 L406.9,397.6 L408.2,395.1 L409.5,392.5 L410.8,389.8 L412.0,387.1 L413.3,384.4 L414.6,381.6 L415.9,378.8 L417.2,376.0 L418.4,373.2 L419.7,370.3 L421.0,367.4 L422.3,364.5 L423.6,361.5 L424.8,358.5 L426.1,355.6 L427.4,352.6 L428.7,349.6 L430.0,346.6 L431.2,343.6 L432.5,340.6 L433.8,337.6 L435.1,334.7 L436.4,331.8 L437.6,328.9 L438.9,326.0 L440.2,323.2 L441.5,320.5 L442.8,317.8 L444.0,315.2 L445.3,312.7 L446.6,310.3 L447.9,308.0 L449.2,305.7 L450.4,303.6 L451.7,301.7 L453.0,299.9 L454.3,298.2 L455.6,296.6 L456.8,295.3 L458.1,294.1 L459.4,293.0 L460.7,292.2 L462.0,291.5 L463.2,291.1 L464.5,290.8 L465.8,290.7 L467.1,290.8 L468.4,291.2 L469.6,291.9 L470.9,292.8 L472.2,294.0 L473.5,295.4 L474.8,297.1 L476.0,298.9 L477.3,301.0 L478.6,303.3 L479.9,305.7 L481.2,308.3 L482.4,311.1 L483.7,314.0 L485.0,317.0 L486.3,320.1 L487.6,323.3 L488.8,326.5 L490.1,329.8 L491.4,333.2 L492.7,336.6 L494.0,340.0 L495.2,343.4 L496.5,346.9 L497.8,350.3 L499.1,353.7 L500.4,357.1 L501.6,360.5 L502.9,363.8 L504.2,367.1 L505.5,370.4 L506.8,373.6 L508.0,376.8 L509.3,380.0 L510.6,383.1 L511.9,386.1 L513.2,389.1 L514.4,392.0 L515.7,394.9 L517.0,397.7 L518.3,400.5 L519.6,403.2 L520.8,405.8 L522.1,408.4 L523.4,411.0 L524.7,413.5 L526.0,415.9 L527.2,418.3 L528.5,420.7 L529.8,423.0 L531.1,425.2 L532.4,427.4 L533.6,429.6 L534.9,431.7 L536.2,433.7 L537.5,435.7 L538.8,437.7 L540.0,439.6 L541.3,441.5 L542.6,443.4 L543.9,445.2 L545.2,446.9 L546.4,448.7 L547.7,450.3 L549.0,452.0 L550.3,453.6 L551.6,455.2 L552.9,456.8 L554.1,458.3 L555.4,459.8 L556.7,461.2 L558.0,462.7 L559.3,464.1 L560.5,465.4 L561.8,466.8 L563.1,468.1 L564.4,469.4 L565.7,470.7 L566.9,471.9 L568.2,473.1 L569.5,474.3 L570.8,475.5 L572.1,476.6 L573.3,477.8 L574.6,478.9 L575.9,480.0 L577.2,481.0 L578.5,482.1 L579.7,483.1 L581.0,484.1 L582.3,485.1 L583.6,486.1 L584.9,487.0 L586.1,488.0 L587.4,488.9 L588.7,489.8 L590.0,490.7 L591.3,491.6 L592.5,492.4 L593.8,493.3 L595.1,494.1 L596.4,494.9 L597.7,495.7 L598.9,496.5 L600.2,497.3 L601.5,498.0 L602.8,498.8 L604.1,499.5 L605.3,500.3 L606.6,501.0 L607.9,501.7 L609.2,502.4 L610.5,503.1 L611.7,503.7 L613.0,504.4 L614.3,505.0 L615.6,505.7 L616.9,506.3 L618.1,506.9 L619.4,507.6 L620.7,508.2 L622.0,508.8 L623.3,509.3 L624.5,509.9 L625.8,510.5 L627.1,511.0 L628.4,511.6 L629.7,512.1 L630.9,512.7 L632.2,513.2 L633.5,513.7 L634.8,514.3 L636.1,514.8 L637.3,515.3 L638.6,515.8 L639.9,516.3 L641.2,516.7 L642.5,517.2 L643.7,517.7 L645.0,518.1 L646.3,518.6 L647.6,519.1 L648.9,519.5 L650.1,519.9 L651.4,520.4 L652.7,520.8 L654.0,521.2 L655.3,521.6 L656.5,522.1 L657.8,522.5 L659.1,522.9 L660.4,523.3 L661.7,523.7 L662.9,524.0 L664.2,524.4 L665.5,524.8 L666.8,525.2 L668.1,525.5 L669.3,525.9 L670.6,526.3 L671.9,526.6 L673.2,527.0 L674.5,527.3 L675.7,527.7 L677.0,528.0 L678.3,528.4 L679.6,528.7 L680.9,529.0 L682.1,529.3 L683.4,529.7 L684.7,530.0 L686.0,530.3 L687.3,530.6 L688.5,530.9 L689.8,531.2 L691.1,531.5 L692.4,531.8 L693.7,532.1 L694.9,532.4 L696.2,532.7 L697.5,533.0 L698.8,533.3 L700.1,533.5 L701.3,533.8 L702.6,534.1 L703.9,534.4 L705.2,534.6 L706.5,534.9 L707.7,535.2 L709.0,535.4 L710.3,535.7 L711.6,535.9 L712.9,536.2 L714.2,536.4 L715.4,536.7 L716.7,536.9 L718.0,537.2 L719.3,537.4 L720.6,537.7 L721.8,537.9 L723.1,538.1 L724.4,538.4 L725.7,538.6 L727.0,538.8 L728.2,539.0 L729.5,539.3 L730.8,539.5 L732.1,539.7 L733.4,539.9 L734.6,540.1 L735.9,540.4 L737.2,540.6 L738.5,540.8 L739.8,541.0 L741.0,541.2 L742.3,541.4 L743.6,541.6 L744.9,541.8 L746.2,542.0 L747.4,542.2 L748.7,542.4 L750.0,542.6 L751.3,542.8 L752.6,543.0 L753.8,543.1 L755.1,543.3 L756.4,543.5 L757.7,543.7 L759.0,543.9 L760.2,544.1 L761.5,544.2 L762.8,544.4 L764.1,544.6 L765.4,544.8 L766.6,544.9 L767.9,545.1 L769.2,545.3 L770.5,545.4 L771.8,545.6 L773.0,545.8" stroke="#000080" stroke-width="3.8"/>
<path d="M158.6,553.9 L159.8,553.7 L161.1,553.5 L162.4,553.2 L163.7,553.0 L165.0,552.8 L166.2,552.6 L167.5,552.3 L168.8,552.1 L170.1,551.9 L171.4,551.7 L172.6,551.4 L173.9,551.2 L175.2,551.0 L176.5,550.7 L177.8,550.5 L179.0,550.2 L180.3,550.0 L181.6,549.7 L182.9,549.5 L184.2,549.2 L185.4,549.0 L186.7,548.7 L188.0,548.5 L189.3,548.2 L190.6,548.0 L191.8,547.7 L193.1,547.4 L194.4,547.2 L195.7,546.9 L197.0,546.6 L198.2,546.3 L199.5,546.1 L200.8,545.8 L202.1,545.5 L203.4,545.2 L204.6,544.9 L205.9,544.6 L207.2,544.3 L208.5,544.0 L209.8,543.7 L211.0,543.4 L212.3,543.1 L213.6,542.8 L214.9,542.5 L216.2,542.2 L217.4,541.9 L218.7,541.5 L220.0,541.2 L221.3,540.9 L222.6,540.6 L223.9,540.2 L225.1,539.9 L226.4,539.6 L227.7,539.2 L229.0,538.9 L230.3,538.5 L231.5,538.2 L232.8,537.8 L234.1,537.4 L235.4,537.1 L236.7,536.7 L237.9,536.3 L239.2,536.0 L240.5,535.6 L241.8,535.2 L243.1,534.8 L244.3,534.4 L245.6,534.0 L246.9,533.6 L248.2,533.2 L249.5,532.8 L250.7,532.4 L252.0,532.0 L253.3,531.5 L254.6,531.1 L255.9,530.7 L257.1,530.2 L258.4,529.8 L259.7,529.3 L261.0,528.9 L262.3,528.4 L263.5,528.0 L264.8,527.5 L266.1,527.0 L267.4,526.5 L268.7,526.1 L269.9,525.6 L271.2,525.1 L272.5,524.6 L273.8,524.1 L275.1,523.5 L276.3,523.0 L277.6,522.5 L278.9,522.0 L280.2,521.4 L281.5,520.9 L282.7,520.3 L284.0,519.8 L285.3,519.2 L286.6,518.6 L287.9,518.0 L289.1,517.4 L290.4,516.9 L291.7,516.2 L293.0,515.6 L294.3,515.0 L295.5,514.4 L296.8,513.7 L298.1,513.1 L299.4,512.4 L300.7,511.8 L301.9,511.1 L303.2,510.4 L304.5,509.7 L305.8,509.0 L307.1,508.3 L308.3,507.6 L309.6,506.9 L310.9,506.1 L312.2,505.4 L313.5,504.6 L314.7,503.9 L316.0,503.1 L317.3,502.3 L318.6,501.5 L319.9,500.7 L321.1,499.8 L322.4,499.0 L323.7,498.1 L325.0,497.3 L326.3,496.4 L327.5,495.5 L328.8,494.6 L330.1,493.7 L331.4,492.8 L332.7,491.8 L333.9,490.8 L335.2,489.9 L336.5,488.9 L337.8,487.9 L339.1,486.8 L340.3,485.8 L341.6,484.7 L342.9,483.7 L344.2,482.6 L345.5,481.5 L346.7,480.3 L348.0,479.2 L349.3,478.0 L350.6,476.9 L351.9,475.6 L353.1,474.4 L354.4,473.2 L355.7,471.9 L357.0,470.6 L358.3,469.3 L359.5,468.0 L360.8,466.6 L362.1,465.3 L363.4,463.9 L364.7,462.4 L365.9,461.0 L367.2,459.5 L368.5,458.0 L369.8,456.5 L371.1,454.9 L372.3,453.4 L373.6,451.8 L374.9,450.1 L376.2,448.5 L377.5,446.8 L378.7,445.0 L380.0,443.3 L381.3,441.5 L382.6,439.7 L383.9,437.8 L385.2,435.9 L386.4,434.0 L387.7,432.1 L389.0,430.1 L390.3,428.1 L391.6,426.0 L392.8,423.9 L394.1,421.8 L395.4,419.6 L396.7,417.4 L398.0,415.2 L399.2,412.9 L400.5,410.6 L401.8,408.3 L403.1,405.9 L404.4,403.4 L405.6,401.0 L406.9,398.5 L408.2,395.9 L409.5,393.4 L410.8,390.8 L412.0,388.1 L413.3,385.5 L414.6,382.8 L415.9,380.0 L417.2,377.2 L418.4,374.4 L419.7,371.6 L421.0,368.8 L422.3,365.9 L423.6,363.0 L424.8,360.1 L426.1,357.2 L427.4,354.3 L428.7,351.4 L430.0,348.4 L431.2,345.5 L432.5,342.6 L433.8,339.7 L435.1,336.9 L436.4,334.0 L437.6,331.2 L438.9,328.4 L440.2,325.7 L441.5,323.1 L442.8,320.5 L444.0,317.9 L445.3,315.5 L446.6,313.2 L447.9,310.9 L449.2,308.8 L450.4,306.7 L451.7,304.8 L453.0,303.1 L454.3,301.5 L455.6,300.0 L456.8,298.7 L458.1,297.5 L459.4,296.5 L460.7,295.7 L462.0,295.0 L463.2,294.6 L464.5,294.3 L465.8,294.2 L467.1,294.3 L468.4,294.7 L469.6,295.4 L470.9,296.3 L472.2,297.4 L473.5,298.8 L474.8,300.4 L476.0,302.2 L477.3,304.3 L478.6,306.5 L479.9,308.8 L481.2,311.4 L482.4,314.1 L483.7,316.9 L485.0,319.8 L486.3,322.8 L487.6,325.9 L488.8,329.1 L490.1,332.3 L491.4,335.6 L492.7,338.9 L494.0,342.3 L495.2,345.6 L496.5,349.0 L497.8,352.3 L499.1,355.7 L500.4,359.0 L501.6,362.3 L502.9,365.6 L504.2,368.9 L505.5,372.1 L506.8,375.2 L508.0,378.4 L509.3,381.4 L510.6,384.5 L511.9,387.5 L513.2,390.4 L514.4,393.3 L515.7,396.1 L517.0,398.9 L518.3,401.6 L519.6,404.3 L520.8,406.9 L522.1,409.5 L523.4,412.0 L524.7,414.5 L526.0,416.9 L527.2,419.3 L528.5,421.6 L529.8,423.8 L531.1,426.1 L532.4,428.2 L533.6,430.4 L534.9,432.4 L536.2,434.5 L537.5,436.5 L538.8,438.4 L540.0,440.3 L541.3,442.2 L542.6,444.0 L543.9,445.8 L545.2,447.5 L546.4,449.2 L547.7,450.9 L549.0,452.6 L550.3,454.2 L551.6,455.7 L552.9,457.3 L554.1,458.8 L555.4,460.3 L556.7,461.7 L558.0,463.1 L559.3,464.5 L560.5,465.9 L561.8,467.2 L563.1,468.5 L564.4,469.8 L565.7,471.1 L566.9,472.3 L568.2,473.5 L569.5,474.7 L570.8,475.9 L572.1,477.0 L573.3,478.1 L574.6,479.2 L575.9,480.3 L577.2,481.3 L578.5,482.4 L579.7,483.4 L581.0,484.4 L582.3,485.4 L583.6,486.4 L584.9,487.3 L586.1,488.2 L587.4,489.2 L588.7,490.0 L590.0,490.9 L591.3,491.8 L592.5,492.7 L593.8,493.5 L595.1,494.3 L596.4,495.1 L597.7,495.9 L598.9,496.7 L600.2,497.5 L601.5,498.2 L602.8,499.0 L604.1,499.7 L605.3,500.4 L606.6,501.2 L607.9,501.9 L609.2,502.5 L610.5,503.2 L611.7,503.9 L613.0,504.6 L614.3,505.2 L615.6,505.8 L616.9,506.5 L618.1,507.1 L619.4,507.7 L620.7,508.3 L622.0,508.9 L623.3,509.5 L624.5,510.0 L625.8,510.6 L627.1,511.2 L628.4,511.7 L629.7,512.3 L630.9,512.8 L632.2,513.3 L633.5,513.9 L634.8,514.4 L636.1,514.9 L637.3,515.4 L638.6,515.9 L639.9,516.3 L641.2,516.8 L642.5,517.3 L643.7,517.8 L645.0,518.2 L646.3,518.7 L647.6,519.1 L648.9,519.6 L650.1,520.0 L651.4,520.4 L652.7,520.9 L654.0,521.3 L655.3,521.7 L656.5,522.1 L657.8,522.5 L659.1,522.9 L660.4,523.3 L661.7,523.7 L662.9,524.1 L664.2,524.5 L665.5,524.9 L666.8,525.2 L668.1,525.6 L669.3,526.0 L670.6,526.3 L671.9,526.7 L673.2,527.0 L674.5,527.4 L675.7,527.7 L677.0,528.1 L678.3,528.4 L679.6,528.7 L680.9,529.0 L682.1,529.4 L683.4,529.7 L684.7,530.0 L686.0,530.3 L687.3,530.6 L688.5,530.9 L689.8,531.2 L691.1,531.5 L692.4,531.8 L693.7,532.1 L694.9,532.4 L696.2,532.7 L697.5,533.0 L698.8,533.3 L700.1,533.6 L701.3,533.8 L702.6,534.1 L703.9,534.4 L705.2,534.6 L706.5,534.9 L707.7,535.2 L709.0,535.4 L710.3,535.7 L711.6,535.9 L712.9,536.2 L714.2,536.4 L715.4,536.7 L716.7,536.9 L718.0,537.2 L719.3,537.4 L720.6,537.7 L721.8,537.9 L723.1,538.1 L724.4,538.4 L725.7,538.6 L727.0,538.8 L728.2,539.0 L729.5,539.3 L730.8,539.5 L732.1,539.7 L733.4,539.9 L734.6,540.1 L735.9,540.3 L737.2,540.5 L738.5,540.7 L739.8,541.0 L741.0,541.2 L742.3,541.4 L743.6,541.6 L744.9,541.8 L746.2,542.0 L747.4,542.2 L748.7,542.3 L750.0,542.5 L751.3,542.7 L752.6,542.9 L753.8,543.1 L755.1,543.3 L756.4,543.5 L757.7,543.7 L759.0,543.8 L760.2,544.0 L761.5,544.2 L762.8,544.4 L764.1,544.6 L765.4,544.7 L766.6,544.9 L767.9,545.1 L769.2,545.2 L770.5,545.4 L771.8,545.6 L773.0,545.7" stroke="#0000ff" stroke-width="3.8"/>
<path d="M158.6,552.6 L159.8,552.4 L161.1,552.2 L162.4,551.9 L163.7,551.7 L165.0,551.5 L166.2,551.3 L167.5,551.1 L168.8,550.8 L170.1,550.6 L171.4,550.4 L172.6,550.1 L173.9,549.9 L175.2,549.7 L176.5,549.4 L177.8,549.2 L179.0,549.0 L180.3,548.7 L181.6,548.5 L182.9,548.2 L184.2,548.0 L185.4,547.7 L186.7,547.5 L188.0,547.2 L189.3,546.9 L190.6,546.7 L191.8,546.4 L193.1,546.1 L194.4,545.9 L195.7,545.6 L197.0,545.3 L198.2,545.1 L199.5,544.8 L200.8,544.5 L202.1,544.2 L203.4,543.9 L204.6,543.6 L205.9,543.4 L207.2,543.1 L208.5,542.8 L209.8,542.5 L211.0,542.2 L212.3,541.9 L213.6,541.6 L214.9,541.2 L216.2,540.9 L217.4,540.6 L218.7,540.3 L220.0,540.0 L221.3,539.6 L222.6,539.3 L223.9,539.0 L225.1,538.6 L226.4,538.3 L227.7,538.0 L229.0,537.6 L230.3,537.3 L231.5,536.9 L232.8,536.6 L234.1,536.2 L235.4,535.8 L236.7,535.5 L237.9,535.1 L239.2,534.7 L240.5,534.3 L241.8,534.0 L243.1,533.6 L244.3,533.2 L245.6,532.8 L246.9,532.4 L248.2,532.0 L249.5,531.6 L250.7,531.2 L252.0,530.8 L253.3,530.3 L254.6,529.9 L255.9,529.5 L257.1,529.0 L258.4,528.6 L259.7,528.2 L261.0,527.7 L262.3,527.3 L263.5,526.8 L264.8,526.3 L266.1,525.9 L267.4,525.4 L268.7,524.9 L269.9,524.4 L271.2,523.9 L272.5,523.4 L273.8,522.9 L275.1,522.4 L276.3,521.9 L277.6,521.4 L278.9,520.8 L280.2,520.3 L281.5,519.8 L282.7,519.2 L284.0,518.7 L285.3,518.1 L286.6,517.5 L287.9,517.0 L289.1,516.4 L290.4,515.8 L291.7,515.2 L293.0,514.6 L294.3,514.0 L295.5,513.3 L296.8,512.7 L298.1,512.1 L299.4,511.4 L300.7,510.8 L301.9,510.1 L303.2,509.4 L304.5,508.8 L305.8,508.1 L307.1,507.4 L308.3,506.7 L309.6,505.9 L310.9,505.2 L312.2,504.5 L313.5,503.7 L314.7,503.0 L316.0,502.2 L317.3,501.4 L318.6,500.6 L319.9,499.8 L321.1,499.0 L322.4,498.2 L323.7,497.4 L325.0,496.5 L326.3,495.6 L327.5,494.8 L328.8,493.9 L330.1,493.0 L331.4,492.1 L332.7,491.1 L333.9,490.2 L335.2,489.2 L336.5,488.3 L337.8,487.3 L339.1,486.3 L340.3,485.3 L341.6,484.2 L342.9,483.2 L344.2,482.1 L345.5,481.0 L346.7,479.9 L348.0,478.8 L349.3,477.7 L350.6,476.5 L351.9,475.4 L353.1,474.2 L354.4,473.0 L355.7,471.8 L357.0,470.5 L358.3,469.2 L359.5,468.0 L360.8,466.6 L362.1,465.3 L363.4,464.0 L364.7,462.6 L365.9,461.2 L367.2,459.8 L368.5,458.3 L369.8,456.9 L371.1,455.4 L372.3,453.9 L373.6,452.3 L374.9,450.7 L376.2,449.1 L377.5,447.5 L378.7,445.9 L380.0,444.2 L381.3,442.5 L382.6,440.8 L383.9,439.0 L385.2,437.2 L386.4,435.4 L387.7,433.5 L389.0,431.7 L390.3,429.7 L391.6,427.8 L392.8,425.8 L394.1,423.8 L395.4,421.8 L396.7,419.7 L398.0,417.6 L399.2,415.5 L400.5,413.3 L401.8,411.2 L403.1,408.9 L404.4,406.7 L405.6,404.4 L406.9,402.1 L408.2,399.7 L409.5,397.4 L410.8,395.0 L412.0,392.6 L413.3,390.1 L414.6,387.6 L415.9,385.1 L417.2,382.6 L418.4,380.1 L419.7,377.5 L421.0,374.9 L422.3,372.3 L423.6,369.8 L424.8,367.2 L426.1,364.5 L427.4,361.9 L428.7,359.3 L430.0,356.7 L431.2,354.2 L432.5,351.6 L433.8,349.0 L435.1,346.5 L436.4,344.0 L437.6,341.6 L438.9,339.2 L440.2,336.8 L441.5,334.5 L442.8,332.3 L444.0,330.1 L445.3,328.0 L446.6,326.0 L447.9,324.0 L449.2,322.2 L450.4,320.5 L451.7,318.9 L453.0,317.4 L454.3,316.0 L455.6,314.8 L456.8,313.6 L458.1,312.7 L459.4,311.8 L460.7,311.1 L462.0,310.6 L463.2,310.2 L464.5,310.0 L465.8,309.9 L467.1,310.0 L468.4,310.4 L469.6,310.9 L470.9,311.7 L472.2,312.7 L473.5,313.9 L474.8,315.3 L476.0,316.8 L477.3,318.6 L478.6,320.5 L479.9,322.6 L481.2,324.8 L482.4,327.2 L483.7,329.6 L485.0,332.2 L486.3,334.9 L487.6,337.6 L488.8,340.5 L490.1,343.3 L491.4,346.3 L492.7,349.2 L494.0,352.2 L495.2,355.2 L496.5,358.3 L497.8,361.3 L499.1,364.3 L500.4,367.3 L501.6,370.3 L502.9,373.3 L504.2,376.3 L505.5,379.2 L506.8,382.1 L508.0,385.0 L509.3,387.9 L510.6,390.7 L511.9,393.4 L513.2,396.1 L514.4,398.8 L515.7,401.5 L517.0,404.0 L518.3,406.6 L519.6,409.1 L520.8,411.5 L522.1,413.9 L523.4,416.3 L524.7,418.6 L526.0,420.9 L527.2,423.1 L528.5,425.3 L529.8,427.5 L531.1,429.5 L532.4,431.6 L533.6,433.6 L534.9,435.6 L536.2,437.5 L537.5,439.4 L538.8,441.3 L540.0,443.1 L541.3,444.9 L542.6,446.6 L543.9,448.3 L545.2,450.0 L546.4,451.6 L547.7,453.2 L549.0,454.8 L550.3,456.3 L551.6,457.8 L552.9,459.3 L554.1,460.8 L555.4,462.2 L556.7,463.6 L558.0,464.9 L559.3,466.3 L560.5,467.6 L561.8,468.9 L563.1,470.1 L564.4,471.4 L565.7,472.6 L566.9,473.8 L568.2,474.9 L569.5,476.1 L570.8,477.2 L572.1,478.3 L573.3,479.4 L574.6,480.4 L575.9,481.5 L577.2,482.5 L578.5,483.5 L579.7,484.5 L581.0,485.5 L582.3,486.4 L583.6,487.4 L584.9,488.3 L586.1,489.2 L587.4,490.1 L588.7,490.9 L590.0,491.8 L591.3,492.6 L592.5,493.5 L593.8,494.3 L595.1,495.1 L596.4,495.9 L597.7,496.7 L598.9,497.4 L600.2,498.2 L601.5,498.9 L602.8,499.6 L604.1,500.4 L605.3,501.1 L606.6,501.8 L607.9,502.4 L609.2,503.1 L610.5,503.8 L611.7,504.4 L613.0,505.1 L614.3,505.7 L615.6,506.3 L616.9,506.9 L618.1,507.5 L619.4,508.1 L620.7,508.7 L622.0,509.3 L623.3,509.9 L624.5,510.4 L625.8,511.0 L627.1,511.5 L628.4,512.1 L629.7,512.6 L630.9,513.1 L632.2,513.6 L633.5,514.1 L634.8,514.6 L636.1,515.1 L637.3,515.6 L638.6,516.1 L639.9,516.6 L641.2,517.1 L642.5,517.5 L643.7,518.0 L645.0,518.4 L646.3,518.9 L647.6,519.3 L648.9,519.7 L650.1,520.2 L651.4,520.6 L652.7,521.0 L654.0,521.4 L655.3,521.8 L656.5,522.2 L657.8,522.6 L659.1,523.0 L660.4,523.4 L661.7,523.8 L662.9,524.2 L664.2,524.5 L665.5,524.9 L666.8,525.3 L668.1,525.6 L669.3,526.0 L670.6,526.3 L671.9,526.7 L673.2,527.0 L674.5,527.4 L675.7,527.7 L677.0,528.0 L678.3,528.4 L679.6,528.7 L680.9,529.0 L682.1,529.3 L683.4,529.7 L684.7,530.0 L686.0,530.3 L687.3,530.6 L688.5,530.9 L689.8,531.2 L691.1,531.5 L692.4,531.8 L693.7,532.0 L694.9,532.3 L696.2,532.6 L697.5,532.9 L698.8,533.2 L700.1,533.4 L701.3,533.7 L702.6,534.0 L703.9,534.2 L705.2,534.5 L706.5,534.8 L707.7,535.0 L709.0,535.3 L710.3,535.5 L711.6,535.8 L712.9,536.0 L714.2,536.3 L715.4,536.5 L716.7,536.8 L718.0,537.0 L719.3,537.2 L720.6,537.5 L721.8,537.7 L723.1,537.9 L724.4,538.2 L725.7,538.4 L727.0,538.6 L728.2,538.8 L729.5,539.0 L730.8,539.3 L732.1,539.5 L733.4,539.7 L734.6,539.9 L735.9,540.1 L737.2,540.3 L738.5,540.5 L739.8,540.7 L741.0,540.9 L742.3,541.1 L743.6,541.3 L744.9,541.5 L746.2,541.7 L747.4,541.9 L748.7,542.1 L750.0,542.3 L751.3,542.5 L752.6,542.6 L753.8,542.8 L755.1,543.0 L756.4,543.2 L757.7,543.4 L759.0,543.5 L760.2,543.7 L761.5,543.9 L762.8,544.1 L764.1,544.2 L765.4,544.4 L766.6,544.6 L767.9,544.7 L769.2,544.9 L770.5,545.1 L771.8,545.2 L773.0,545.4" stroke="#8000ff" stroke-width="3.8"/>
<path d="M158.6,552.1 L159.8,551.9 L161.1,551.6 L162.4,551.4 L163.7,551.2 L165.0,551.0 L166.2,550.8 L167.5,550.5 L168.8,550.3 L170.1,550.1 L171.4,549.9 L172.6,549.6 L173.9,549.4 L175.2,549.1 L176.5,548.9 L177.8,548.7 L179.0,548.4 L180.3,548.2 L181.6,547.9 L182.9,547.7 L184.2,547.4 L185.4,547.2 L186.7,546.9 L188.0,546.7 L189.3,546.4 L190.6,546.2 L191.8,545.9 L193.1,545.6 L194.4,545.4 L195.7,545.1 L197.0,544.8 L198.2,544.5 L199.5,544.3 L200.8,544.0 L202.1,543.7 L203.4,543.4 L204.6,543.1 L205.9,542.8 L207.2,542.5 L208.5,542.2 L209.8,541.9 L211.0,541.6 L212.3,541.3 L213.6,541.0 L214.9,540.7 L216.2,540.4 L217.4,540.1 L218.7,539.8 L220.0,539.4 L221.3,539.1 L222.6,538.8 L223.9,538.5 L225.1,538.1 L226.4,537.8 L227.7,537.4 L229.0,537.1 L230.3,536.7 L231.5,536.4 L232.8,536.0 L234.1,535.7 L235.4,535.3 L236.7,534.9 L237.9,534.6 L239.2,534.2 L240.5,533.8 L241.8,533.4 L243.1,533.1 L244.3,532.7 L245.6,532.3 L246.9,531.9 L248.2,531.5 L249.5,531.1 L250.7,530.7 L252.0,530.2 L253.3,529.8 L254.6,529.4 L255.9,529.0 L257.1,528.5 L258.4,528.1 L259.7,527.6 L261.0,527.2 L262.3,526.7 L263.5,526.3 L264.8,525.8 L266.1,525.3 L267.4,524.9 L268.7,524.4 L269.9,523.9 L271.2,523.4 L272.5,522.9 L273.8,522.4 L275.1,521.9 L276.3,521.4 L277.6,520.9 L278.9,520.3 L280.2,519.8 L281.5,519.3 L282.7,518.7 L284.0,518.2 L285.3,517.6 L286.6,517.0 L287.9,516.5 L289.1,515.9 L290.4,515.3 L291.7,514.7 L293.0,514.1 L294.3,513.5 L295.5,512.9 L296.8,512.2 L298.1,511.6 L299.4,511.0 L300.7,510.3 L301.9,509.6 L303.2,509.0 L304.5,508.3 L305.8,507.6 L307.1,506.9 L308.3,506.2 L309.6,505.5 L310.9,504.8 L312.2,504.0 L313.5,503.3 L314.7,502.5 L316.0,501.8 L317.3,501.0 L318.6,500.2 L319.9,499.4 L321.1,498.6 L322.4,497.8 L323.7,497.0 L325.0,496.1 L326.3,495.3 L327.5,494.4 L328.8,493.5 L330.1,492.6 L331.4,491.7 L332.7,490.8 L333.9,489.8 L335.2,488.9 L336.5,487.9 L337.8,487.0 L339.1,486.0 L340.3,485.0 L341.6,483.9 L342.9,482.9 L344.2,481.8 L345.5,480.8 L346.7,479.7 L348.0,478.6 L349.3,477.5 L350.6,476.3 L351.9,475.2 L353.1,474.0 L354.4,472.8 L355.7,471.6 L357.0,470.3 L358.3,469.1 L359.5,467.8 L360.8,466.5 L362.1,465.2 L363.4,463.9 L364.7,462.5 L365.9,461.1 L367.2,459.7 L368.5,458.3 L369.8,456.9 L371.1,455.4 L372.3,453.9 L373.6,452.4 L374.9,450.8 L376.2,449.3 L377.5,447.7 L378.7,446.1 L380.0,444.4 L381.3,442.7 L382.6,441.0 L383.9,439.3 L385.2,437.5 L386.4,435.8 L387.7,433.9 L389.0,432.1 L390.3,430.2 L391.6,428.3 L392.8,426.4 L394.1,424.4 L395.4,422.5 L396.7,420.4 L398.0,418.4 L399.2,416.3 L400.5,414.2 L401.8,412.1 L403.1,409.9 L404.4,407.7 L405.6,405.5 L406.9,403.3 L408.2,401.0 L409.5,398.7 L410.8,396.4 L412.0,394.0 L413.3,391.6 L414.6,389.2 L415.9,386.8 L417.2,384.4 L418.4,382.0 L419.7,379.5 L421.0,377.0 L422.3,374.5 L423.6,372.0 L424.8,369.5 L426.1,367.0 L427.4,364.5 L428.7,362.0 L430.0,359.6 L431.2,357.1 L432.5,354.6 L433.8,352.2 L435.1,349.8 L436.4,347.4 L437.6,345.1 L438.9,342.8 L440.2,340.6 L441.5,338.4 L442.8,336.3 L444.0,334.2 L445.3,332.2 L446.6,330.3 L447.9,328.5 L449.2,326.8 L450.4,325.2 L451.7,323.6 L453.0,322.2 L454.3,320.9 L455.6,319.8 L456.8,318.7 L458.1,317.8 L459.4,317.0 L460.7,316.4 L462.0,315.9 L463.2,315.5 L464.5,315.3 L465.8,315.2 L467.1,315.3 L468.4,315.6 L469.6,316.2 L470.9,316.9 L472.2,317.8 L473.5,319.0 L474.8,320.3 L476.0,321.8 L477.3,323.5 L478.6,325.3 L479.9,327.3 L481.2,329.4 L482.4,331.6 L483.7,334.0 L485.0,336.4 L486.3,339.0 L487.6,341.6 L488.8,344.3 L490.1,347.0 L491.4,349.8 L492.7,352.7 L494.0,355.6 L495.2,358.5 L496.5,361.4 L497.8,364.3 L499.1,367.2 L500.4,370.1 L501.6,373.0 L502.9,375.9 L504.2,378.8 L505.5,381.6 L506.8,384.4 L508.0,387.2 L509.3,390.0 L510.6,392.7 L511.9,395.4 L513.2,398.0 L514.4,400.6 L515.7,403.2 L517.0,405.7 L518.3,408.2 L519.6,410.6 L520.8,413.0 L522.1,415.4 L523.4,417.7 L524.7,419.9 L526.0,422.2 L527.2,424.3 L528.5,426.5 L529.8,428.6 L531.1,430.6 L532.4,432.6 L533.6,434.6 L534.9,436.5 L536.2,438.4 L537.5,440.3 L538.8,442.1 L540.0,443.9 L541.3,445.6 L542.6,447.4 L543.9,449.0 L545.2,450.7 L546.4,452.3 L547.7,453.9 L549.0,455.4 L550.3,456.9 L551.6,458.4 L552.9,459.9 L554.1,461.3 L555.4,462.7 L556.7,464.1 L558.0,465.4 L559.3,466.7 L560.5,468.0 L561.8,469.3 L563.1,470.5 L564.4,471.8 L565.7,473.0 L566.9,474.1 L568.2,475.3 L569.5,476.4 L570.8,477.5 L572.1,478.6 L573.3,479.7 L574.6,480.8 L575.9,481.8 L577.2,482.8 L578.5,483.8 L579.7,484.8 L581.0,485.7 L582.3,486.7 L583.6,487.6 L584.9,488.5 L586.1,489.4 L587.4,490.3 L588.7,491.1 L590.0,492.0 L591.3,492.8 L592.5,493.7 L593.8,494.5 L595.1,495.3 L596.4,496.0 L597.7,496.8 L598.9,497.6 L600.2,498.3 L601.5,499.0 L602.8,499.8 L604.1,500.5 L605.3,501.2 L606.6,501.9 L607.9,502.5 L609.2,503.2 L610.5,503.9 L611.7,504.5 L613.0,505.1 L614.3,505.8 L615.6,506.4 L616.9,507.0 L618.1,507.6 L619.4,508.2 L620.7,508.8 L622.0,509.3 L623.3,509.9 L624.5,510.5 L625.8,511.0 L627.1,511.6 L628.4,512.1 L629.7,512.6 L630.9,513.1 L632.2,513.6 L633.5,514.2 L634.8,514.7 L636.1,515.1 L637.3,515.6 L638.6,516.1 L639.9,516.6 L641.2,517.0 L642.5,517.5 L643.7,518.0 L645.0,518.4 L646.3,518.8 L647.6,519.3 L648.9,519.7 L650.1,520.1 L651.4,520.6 L652.7,521.0 L654.0,521.4 L655.3,521.8 L656.5,522.2 L657.8,522.6 L659.1,523.0 L660.4,523.4 L661.7,523.7 L662.9,524.1 L664.2,524.5 L665.5,524.9 L666.8,525.2 L668.1,525.6 L669.3,525.9 L670.6,526.3 L671.9,526.6 L673.2,527.0 L674.5,527.3 L675.7,527.6 L677.0,528.0 L678.3,528.3 L679.6,528.6 L680.9,528.9 L682.1,529.3 L683.4,529.6 L684.7,529.9 L686.0,530.2 L687.3,530.5 L688.5,530.8 L689.8,531.1 L691.1,531.4 L692.4,531.7 L693.7,532.0 L694.9,532.2 L696.2,532.5 L697.5,532.8 L698.8,533.1 L700.1,533.3 L701.3,533.6 L702.6,533.9 L703.9,534.1 L705.2,534.4 L706.5,534.7 L707.7,534.9 L709.0,535.2 L710.3,535.4 L711.6,535.7 L712.9,535.9 L714.2,536.2 L715.4,536.4 L716.7,536.6 L718.0,536.9 L719.3,537.1 L720.6,537.3 L721.8,537.6 L723.1,537.8 L724.4,538.0 L725.7,538.2 L727.0,538.5 L728.2,538.7 L729.5,538.9 L730.8,539.1 L732.1,539.3 L733.4,539.5 L734.6,539.7 L735.9,540.0 L737.2,540.2 L738.5,540.4 L739.8,540.6 L741.0,540.8 L742.3,541.0 L743.6,541.2 L744.9,541.4 L746.2,541.5 L747.4,541.7 L748.7,541.9 L750.0,542.1 L751.3,542.3 L752.6,542.5 L753.8,542.7 L755.1,542.9 L756.4,543.0 L757.7,543.2 L759.0,543.4 L760.2,543.6 L761.5,543.7 L762.8,543.9 L764.1,544.1 L765.4,544.3 L766.6,544.4 L767.9,544.6 L769.2,544.8 L770.5,544.9 L771.8,545.1 L773.0,545.2" stroke="#808000" stroke-width="3.8"/>
<path d="M158.6,551.5 L159.8,551.3 L161.1,551.1 L162.4,550.9 L163.7,550.6 L165.0,550.4 L166.2,550.2 L167.5,550.0 L168.8,549.7 L170.1,549.5 L171.4,549.3 L172.6,549.0 L173.9,548.8 L175.2,548.6 L176.5,548.3 L177.8,548.1 L179.0,547.9 L180.3,547.6 L181.6,547.4 L182.9,547.1 L184.2,546.9 L185.4,546.6 L186.7,546.4 L188.0,546.1 L189.3,545.8 L190.6,545.6 L191.8,545.3 L193.1,545.0 L194.4,544.8 L195.7,544.5 L197.0,544.2 L198.2,544.0 L199.5,543.7 L200.8,543.4 L202.1,543.1 L203.4,542.8 L204.6,542.5 L205.9,542.2 L207.2,542.0 L208.5,541.7 L209.8,541.4 L211.0,541.1 L212.3,540.7 L213.6,540.4 L214.9,540.1 L216.2,539.8 L217.4,539.5 L218.7,539.2 L220.0,538.9 L221.3,538.5 L222.6,538.2 L223.9,537.9 L225.1,537.5 L226.4,537.2 L227.7,536.9 L229.0,536.5 L230.3,536.2 L231.5,535.8 L232.8,535.5 L234.1,535.1 L235.4,534.7 L236.7,534.4 L237.9,534.0 L239.2,533.6 L240.5,533.2 L241.8,532.9 L243.1,532.5 L244.3,532.1 L245.6,531.7 L246.9,531.3 L248.2,530.9 L249.5,530.5 L250.7,530.1 L252.0,529.7 L253.3,529.2 L254.6,528.8 L255.9,528.4 L257.1,527.9 L258.4,527.5 L259.7,527.1 L261.0,526.6 L262.3,526.2 L263.5,525.7 L264.8,525.2 L266.1,524.8 L267.4,524.3 L268.7,523.8 L269.9,523.3 L271.2,522.8 L272.5,522.3 L273.8,521.8 L275.1,521.3 L276.3,520.8 L277.6,520.3 L278.9,519.8 L280.2,519.2 L281.5,518.7 L282.7,518.2 L284.0,517.6 L285.3,517.0 L286.6,516.5 L287.9,515.9 L289.1,515.3 L290.4,514.7 L291.7,514.1 L293.0,513.5 L294.3,512.9 L295.5,512.3 L296.8,511.7 L298.1,511.1 L299.4,510.4 L300.7,509.8 L301.9,509.1 L303.2,508.4 L304.5,507.8 L305.8,507.1 L307.1,506.4 L308.3,505.7 L309.6,505.0 L310.9,504.3 L312.2,503.5 L313.5,502.8 L314.7,502.0 L316.0,501.3 L317.3,500.5 L318.6,499.7 L319.9,498.9 L321.1,498.1 L322.4,497.3 L323.7,496.5 L325.0,495.6 L326.3,494.8 L327.5,493.9 L328.8,493.0 L330.1,492.2 L331.4,491.3 L332.7,490.3 L333.9,489.4 L335.2,488.5 L336.5,487.5 L337.8,486.5 L339.1,485.6 L340.3,484.6 L341.6,483.6 L342.9,482.5 L344.2,481.5 L345.5,480.4 L346.7,479.3 L348.0,478.2 L349.3,477.1 L350.6,476.0 L351.9,474.9 L353.1,473.7 L354.4,472.5 L355.7,471.3 L357.0,470.1 L358.3,468.9 L359.5,467.6 L360.8,466.3 L362.1,465.0 L363.4,463.7 L364.7,462.4 L365.9,461.0 L367.2,459.6 L368.5,458.2 L369.8,456.8 L371.1,455.4 L372.3,453.9 L373.6,452.4 L374.9,450.9 L376.2,449.3 L377.5,447.8 L378.7,446.2 L380.0,444.5 L381.3,442.9 L382.6,441.2 L383.9,439.5 L385.2,437.8 L386.4,436.1 L387.7,434.3 L389.0,432.5 L390.3,430.7 L391.6,428.8 L392.8,426.9 L394.1,425.0 L395.4,423.1 L396.7,421.1 L398.0,419.1 L399.2,417.1 L400.5,415.0 L401.8,413.0 L403.1,410.9 L404.4,408.7 L405.6,406.6 L406.9,404.4 L408.2,402.2 L409.5,400.0 L410.8,397.7 L412.0,395.5 L413.3,393.2 L414.6,390.9 L415.9,388.5 L417.2,386.2 L418.4,383.8 L419.7,381.5 L421.0,379.1 L422.3,376.7 L423.6,374.3 L424.8,371.9 L426.1,369.5 L427.4,367.1 L428.7,364.8 L430.0,362.4 L431.2,360.0 L432.5,357.7 L433.8,355.4 L435.1,353.1 L436.4,350.9 L437.6,348.6 L438.9,346.5 L440.2,344.4 L441.5,342.3 L442.8,340.3 L444.0,338.4 L445.3,336.5 L446.6,334.7 L447.9,333.0 L449.2,331.4 L450.4,329.8 L451.7,328.4 L453.0,327.1 L454.3,325.9 L455.6,324.8 L456.8,323.8 L458.1,322.9 L459.4,322.2 L460.7,321.6 L462.0,321.1 L463.2,320.8 L464.5,320.6 L465.8,320.5 L467.1,320.6 L468.4,320.9 L469.6,321.4 L470.9,322.1 L472.2,323.0 L473.5,324.1 L474.8,325.3 L476.0,326.7 L477.3,328.3 L478.6,330.1 L479.9,331.9 L481.2,333.9 L482.4,336.1 L483.7,338.3 L485.0,340.6 L486.3,343.0 L487.6,345.5 L488.8,348.1 L490.1,350.7 L491.4,353.4 L492.7,356.1 L494.0,358.9 L495.2,361.7 L496.5,364.5 L497.8,367.3 L499.1,370.1 L500.4,372.9 L501.6,375.7 L502.9,378.4 L504.2,381.2 L505.5,384.0 L506.8,386.7 L508.0,389.4 L509.3,392.0 L510.6,394.7 L511.9,397.3 L513.2,399.8 L514.4,402.4 L515.7,404.9 L517.0,407.3 L518.3,409.7 L519.6,412.1 L520.8,414.4 L522.1,416.7 L523.4,419.0 L524.7,421.2 L526.0,423.4 L527.2,425.5 L528.5,427.6 L529.8,429.6 L531.1,431.6 L532.4,433.6 L533.6,435.6 L534.9,437.4 L536.2,439.3 L537.5,441.1 L538.8,442.9 L540.0,444.7 L541.3,446.4 L542.6,448.1 L543.9,449.7 L545.2,451.3 L546.4,452.9 L547.7,454.5 L549.0,456.0 L550.3,457.5 L551.6,458.9 L552.9,460.4 L554.1,461.8 L555.4,463.2 L556.7,464.5 L558.0,465.9 L559.3,467.2 L560.5,468.4 L561.8,469.7 L563.1,470.9 L564.4,472.1 L565.7,473.3 L566.9,474.5 L568.2,475.6 L569.5,476.7 L570.8,477.8 L572.1,478.9 L573.3,480.0 L574.6,481.0 L575.9,482.0 L577.2,483.0 L578.5,484.0 L579.7,485.0 L581.0,485.9 L582.3,486.8 L583.6,487.8 L584.9,488.7 L586.1,489.6 L587.4,490.4 L588.7,491.3 L590.0,492.1 L591.3,493.0 L592.5,493.8 L593.8,494.6 L595.1,495.4 L596.4,496.1 L597.7,496.9 L598.9,497.6 L600.2,498.4 L601.5,499.1 L602.8,499.8 L604.1,500.5 L605.3,501.2 L606.6,501.9 L607.9,502.6 L609.2,503.2 L610.5,503.9 L611.7,504.5 L613.0,505.2 L614.3,505.8 L615.6,506.4 L616.9,507.0 L618.1,507.6 L619.4,508.2 L620.7,508.8 L622.0,509.3 L623.3,509.9 L624.5,510.4 L625.8,511.0 L627.1,511.5 L628.4,512.1 L629.7,512.6 L630.9,513.1 L632.2,513.6 L633.5,514.1 L634.8,514.6 L636.1,515.1 L637.3,515.6 L638.6,516.0 L639.9,516.5 L641.2,517.0 L642.5,517.4 L643.7,517.9 L645.0,518.3 L646.3,518.8 L647.6,519.2 L648.9,519.6 L650.1,520.1 L651.4,520.5 L652.7,520.9 L654.0,521.3 L655.3,521.7 L656.5,522.1 L657.8,522.5 L659.1,522.9 L660.4,523.3 L661.7,523.6 L662.9,524.0 L664.2,524.4 L665.5,524.7 L666.8,525.1 L668.1,525.5 L669.3,525.8 L670.6,526.2 L671.9,526.5 L673.2,526.8 L674.5,527.2 L675.7,527.5 L677.0,527.8 L678.3,528.2 L679.6,528.5 L680.9,528.8 L682.1,529.1 L683.4,529.4 L684.7,529.7 L686.0,530.0 L687.3,530.4 L688.5,530.6 L689.8,530.9 L691.1,531.2 L692.4,531.5 L693.7,531.8 L694.9,532.1 L696.2,532.4 L697.5,532.6 L698.8,532.9 L700.1,533.2 L701.3,533.5 L702.6,533.7 L703.9,534.0 L705.2,534.2 L706.5,534.5 L707.7,534.8 L709.0,535.0 L710.3,535.3 L711.6,535.5 L712.9,535.8 L714.2,536.0 L715.4,536.2 L716.7,536.5 L718.0,536.7 L719.3,536.9 L720.6,537.2 L721.8,537.4 L723.1,537.6 L724.4,537.9 L725.7,538.1 L727.0,538.3 L728.2,538.5 L729.5,538.7 L730.8,538.9 L732.1,539.2 L733.4,539.4 L734.6,539.6 L735.9,539.8 L737.2,540.0 L738.5,540.2 L739.8,540.4 L741.0,540.6 L742.3,540.8 L743.6,541.0 L744.9,541.2 L746.2,541.4 L747.4,541.6 L748.7,541.7 L750.0,541.9 L751.3,542.1 L752.6,542.3 L753.8,542.5 L755.1,542.7 L756.4,542.8 L757.7,543.0 L759.0,543.2 L760.2,543.4 L761.5,543.5 L762.8,543.7 L764.1,543.9 L765.4,544.1 L766.6,544.2 L767.9,544.4 L769.2,544.6 L770.5,544.7 L771.8,544.9 L773.0,545.0" stroke="#000080" stroke-width="3.8"/>
<path d="M158.6,547.7 L159.8,547.5 L161.1,547.2 L162.4,546.9 L163.7,546.7 L165.0,546.4 L166.2,546.1 L167.5,545.9 L168.8,545.6 L170.1,545.3 L171.4,545.0 L172.6,544.7 L173.9,544.4 L175.2,544.1 L176.5,543.9 L177.8,543.6 L179.0,543.3 L180.3,543.0 L181.6,542.7 L182.9,542.4 L184.2,542.0 L185.4,541.7 L186.7,541.4 L188.0,541.1 L189.3,540.8 L190.6,540.5 L191.8,540.2 L193.1,539.8 L194.4,539.5 L195.7,539.2 L197.0,538.8 L198.2,538.5 L199.5,538.2 L200.8,537.8 L202.1,537.5 L203.4,537.1 L204.6,536.8 L205.9,536.4 L207.2,536.1 L208.5,535.7 L209.8,535.3 L211.0,535.0 L212.3,534.6 L213.6,534.2 L214.9,533.9 L216.2,533.5 L217.4,533.1 L218.7,532.7 L220.0,532.3 L221.3,531.9 L222.6,531.5 L223.9,531.1 L225.1,530.7 L226.4,530.3 L227.7,529.9 L229.0,529.5 L230.3,529.1 L231.5,528.7 L232.8,528.2 L234.1,527.8 L235.4,527.4 L236.7,526.9 L237.9,526.5 L239.2,526.0 L240.5,525.6 L241.8,525.1 L243.1,524.7 L244.3,524.2 L245.6,523.7 L246.9,523.2 L248.2,522.8 L249.5,522.3 L250.7,521.8 L252.0,521.3 L253.3,520.8 L254.6,520.3 L255.9,519.8 L257.1,519.3 L258.4,518.8 L259.7,518.2 L261.0,517.7 L262.3,517.2 L263.5,516.6 L264.8,516.1 L266.1,515.5 L267.4,515.0 L268.7,514.4 L269.9,513.8 L271.2,513.3 L272.5,512.7 L273.8,512.1 L275.1,511.5 L276.3,510.9 L277.6,510.3 L278.9,509.7 L280.2,509.1 L281.5,508.4 L282.7,507.8 L284.0,507.1 L285.3,506.5 L286.6,505.8 L287.9,505.2 L289.1,504.5 L290.4,503.8 L291.7,503.2 L293.0,502.5 L294.3,501.8 L295.5,501.1 L296.8,500.3 L298.1,499.6 L299.4,498.9 L300.7,498.1 L301.9,497.4 L303.2,496.6 L304.5,495.9 L305.8,495.1 L307.1,494.3 L308.3,493.5 L309.6,492.7 L310.9,491.9 L312.2,491.1 L313.5,490.2 L314.7,489.4 L316.0,488.6 L317.3,487.7 L318.6,486.8 L319.9,485.9 L321.1,485.1 L322.4,484.1 L323.7,483.2 L325.0,482.3 L326.3,481.4 L327.5,480.4 L328.8,479.5 L330.1,478.5 L331.4,477.5 L332.7,476.5 L333.9,475.5 L335.2,474.5 L336.5,473.5 L337.8,472.4 L339.1,471.4 L340.3,470.3 L341.6,469.2 L342.9,468.1 L344.2,467.0 L345.5,465.9 L346.7,464.8 L348.0,463.6 L349.3,462.4 L350.6,461.3 L351.9,460.1 L353.1,458.9 L354.4,457.6 L355.7,456.4 L357.0,455.2 L358.3,453.9 L359.5,452.6 L360.8,451.3 L362.1,450.0 L363.4,448.7 L364.7,447.3 L365.9,446.0 L367.2,444.6 L368.5,443.2 L369.8,441.8 L371.1,440.4 L372.3,439.0 L373.6,437.5 L374.9,436.0 L376.2,434.6 L377.5,433.1 L378.7,431.5 L380.0,430.0 L381.3,428.5 L382.6,426.9 L383.9,425.3 L385.2,423.7 L386.4,422.1 L387.7,420.5 L389.0,418.9 L390.3,417.2 L391.6,415.6 L392.8,413.9 L394.1,412.2 L395.4,410.5 L396.7,408.8 L398.0,407.1 L399.2,405.3 L400.5,403.6 L401.8,401.8 L403.1,400.1 L404.4,398.3 L405.6,396.5 L406.9,394.8 L408.2,393.0 L409.5,391.2 L410.8,389.4 L412.0,387.6 L413.3,385.8 L414.6,384.0 L415.9,382.2 L417.2,380.5 L418.4,378.7 L419.7,376.9 L421.0,375.2 L422.3,373.4 L423.6,371.7 L424.8,370.0 L426.1,368.3 L427.4,366.6 L428.7,364.9 L430.0,363.3 L431.2,361.7 L432.5,360.1 L433.8,358.6 L435.1,357.0 L436.4,355.6 L437.6,354.1 L438.9,352.7 L440.2,351.4 L441.5,350.1 L442.8,348.8 L444.0,347.6 L445.3,346.5 L446.6,345.4 L447.9,344.3 L449.2,343.3 L450.4,342.4 L451.7,341.6 L453.0,340.8 L454.3,340.1 L455.6,339.4 L456.8,338.9 L458.1,338.4 L459.4,337.9 L460.7,337.6 L462.0,337.3 L463.2,337.1 L464.5,337.0 L465.8,337.0 L467.1,337.0 L468.4,337.1 L469.6,337.4 L470.9,337.7 L472.2,338.1 L473.5,338.5 L474.8,339.1 L476.0,339.7 L477.3,340.4 L478.6,341.2 L479.9,342.1 L481.2,343.0 L482.4,344.0 L483.7,345.1 L485.0,346.2 L486.3,347.4 L487.6,348.7 L488.8,350.0 L490.1,351.3 L491.4,352.7 L492.7,354.2 L494.0,355.7 L495.2,357.2 L496.5,358.8 L497.8,360.4 L499.1,362.0 L500.4,363.7 L501.6,365.4 L502.9,367.1 L504.2,368.8 L505.5,370.5 L506.8,372.3 L508.0,374.0 L509.3,375.8 L510.6,377.6 L511.9,379.4 L513.2,381.2 L514.4,383.0 L515.7,384.8 L517.0,386.6 L518.3,388.4 L519.6,390.1 L520.8,391.9 L522.1,393.7 L523.4,395.4 L524.7,397.2 L526.0,398.9 L527.2,400.7 L528.5,402.4 L529.8,404.1 L531.1,405.8 L532.4,407.5 L533.6,409.1 L534.9,410.8 L536.2,412.4 L537.5,414.0 L538.8,415.6 L540.0,417.2 L541.3,418.8 L542.6,420.4 L543.9,421.9 L545.2,423.4 L546.4,424.9 L547.7,426.4 L549.0,427.9 L550.3,429.3 L551.6,430.7 L552.9,432.1 L554.1,433.5 L555.4,434.9 L556.7,436.3 L558.0,437.6 L559.3,438.9 L560.5,440.2 L561.8,441.5 L563.1,442.8 L564.4,444.1 L565.7,445.3 L566.9,446.5 L568.2,447.7 L569.5,448.9 L570.8,450.1 L572.1,451.3 L573.3,452.4 L574.6,453.6 L575.9,454.7 L577.2,455.8 L578.5,456.9 L579.7,457.9 L581.0,459.0 L582.3,460.0 L583.6,461.0 L584.9,462.1 L586.1,463.1 L587.4,464.1 L588.7,465.0 L590.0,466.0 L591.3,466.9 L592.5,467.9 L593.8,468.8 L595.1,469.7 L596.4,470.6 L597.7,471.5 L598.9,472.4 L600.2,473.2 L601.5,474.1 L602.8,474.9 L604.1,475.8 L605.3,476.6 L606.6,477.4 L607.9,478.2 L609.2,479.0 L610.5,479.8 L611.7,480.5 L613.0,481.3 L614.3,482.0 L615.6,482.8 L616.9,483.5 L618.1,484.2 L619.4,484.9 L620.7,485.6 L622.0,486.3 L623.3,487.0 L624.5,487.7 L625.8,488.4 L627.1,489.0 L628.4,489.7 L629.7,490.3 L630.9,491.0 L632.2,491.6 L633.5,492.2 L634.8,492.8 L636.1,493.5 L637.3,494.1 L638.6,494.6 L639.9,495.2 L641.2,495.8 L642.5,496.4 L643.7,497.0 L645.0,497.5 L646.3,498.1 L647.6,498.6 L648.9,499.2 L650.1,499.7 L651.4,500.2 L652.7,500.7 L654.0,501.3 L655.3,501.8 L656.5,502.3 L657.8,502.8 L659.1,503.3 L660.4,503.8 L661.7,504.2 L662.9,504.7 L664.2,505.2 L665.5,505.7 L666.8,506.1 L668.1,506.6 L669.3,507.0 L670.6,507.5 L671.9,507.9 L673.2,508.4 L674.5,508.8 L675.7,509.2 L677.0,509.7 L678.3,510.1 L679.6,510.5 L680.9,510.9 L682.1,511.3 L683.4,511.7 L684.7,512.1 L686.0,512.5 L687.3,512.9 L688.5,513.3 L689.8,513.7 L691.1,514.1 L692.4,514.5 L693.7,514.8 L694.9,515.2 L696.2,515.6 L697.5,515.9 L698.8,516.3 L700.1,516.6 L701.3,517.0 L702.6,517.3 L703.9,517.7 L705.2,518.0 L706.5,518.4 L707.7,518.7 L709.0,519.0 L710.3,519.4 L711.6,519.7 L712.9,520.0 L714.2,520.3 L715.4,520.7 L716.7,521.0 L718.0,521.3 L719.3,521.6 L720.6,521.9 L721.8,522.2 L723.1,522.5 L724.4,522.8 L725.7,523.1 L727.0,523.4 L728.2,523.7 L729.5,524.0 L730.8,524.2 L732.1,524.5 L733.4,524.8 L734.6,525.1 L735.9,525.4 L737.2,525.6 L738.5,525.9 L739.8,526.2 L741.0,526.4 L742.3,526.7 L743.6,527.0 L744.9,527.2 L746.2,527.5 L747.4,527.7 L748.7,528.0 L750.0,528.2 L751.3,528.5 L752.6,528.7 L753.8,529.0 L755.1,529.2 L756.4,529.5 L757.7,529.7 L759.0,529.9 L760.2,530.2 L761.5,530.4 L762.8,530.6 L764.1,530.9 L765.4,531.1 L766.6,531.3 L767.9,531.5 L769.2,531.8 L770.5,532.0 L771.8,532.2 L773.0,532.4" stroke="#008000" stroke-width="3.8"/>
<path d="M158.6,538.9 L159.8,538.6 L161.1,538.3 L162.4,538.0 L163.7,537.7 L165.0,537.4 L166.2,537.1 L167.5,536.8 L168.8,536.5 L170.1,536.2 L171.4,535.9 L172.6,535.6 L173.9,535.2 L175.2,534.9 L176.5,534.6 L177.8,534.3 L179.0,533.9 L180.3,533.6 L181.6,533.3 L182.9,533.0 L184.2,532.6 L185.4,532.3 L186.7,531.9 L188.0,531.6 L189.3,531.2 L190.6,530.9 L191.8,530.5 L193.1,530.2 L194.4,529.8 L195.7,529.5 L197.0,529.1 L198.2,528.7 L199.5,528.4 L200.8,528.0 L202.1,527.6 L203.4,527.2 L204.6,526.9 L205.9,526.5 L207.2,526.1 L208.5,525.7 L209.8,525.3 L211.0,524.9 L212.3,524.5 L213.6,524.1 L214.9,523.7 L216.2,523.3 L217.4,522.8 L218.7,522.4 L220.0,522.0 L221.3,521.6 L222.6,521.2 L223.9,520.7 L225.1,520.3 L226.4,519.8 L227.7,519.4 L229.0,518.9 L230.3,518.5 L231.5,518.0 L232.8,517.6 L234.1,517.1 L235.4,516.6 L236.7,516.2 L237.9,515.7 L239.2,515.2 L240.5,514.7 L241.8,514.2 L243.1,513.7 L244.3,513.2 L245.6,512.7 L246.9,512.2 L248.2,511.7 L249.5,511.2 L250.7,510.7 L252.0,510.2 L253.3,509.6 L254.6,509.1 L255.9,508.6 L257.1,508.0 L258.4,507.5 L259.7,506.9 L261.0,506.3 L262.3,505.8 L263.5,505.2 L264.8,504.6 L266.1,504.0 L267.4,503.4 L268.7,502.9 L269.9,502.3 L271.2,501.7 L272.5,501.0 L273.8,500.4 L275.1,499.8 L276.3,499.2 L277.6,498.5 L278.9,497.9 L280.2,497.2 L281.5,496.6 L282.7,495.9 L284.0,495.3 L285.3,494.6 L286.6,493.9 L287.9,493.2 L289.1,492.5 L290.4,491.8 L291.7,491.1 L293.0,490.4 L294.3,489.7 L295.5,489.0 L296.8,488.2 L298.1,487.5 L299.4,486.7 L300.7,486.0 L301.9,485.2 L303.2,484.4 L304.5,483.7 L305.8,482.9 L307.1,482.1 L308.3,481.3 L309.6,480.5 L310.9,479.6 L312.2,478.8 L313.5,478.0 L314.7,477.1 L316.0,476.3 L317.3,475.4 L318.6,474.5 L319.9,473.7 L321.1,472.8 L322.4,471.9 L323.7,471.0 L325.0,470.1 L326.3,469.1 L327.5,468.2 L328.8,467.3 L330.1,466.3 L331.4,465.3 L332.7,464.4 L333.9,463.4 L335.2,462.4 L336.5,461.4 L337.8,460.4 L339.1,459.4 L340.3,458.3 L341.6,457.3 L342.9,456.2 L344.2,455.2 L345.5,454.1 L346.7,453.0 L348.0,451.9 L349.3,450.8 L350.6,449.7 L351.9,448.6 L353.1,447.5 L354.4,446.3 L355.7,445.2 L357.0,444.0 L358.3,442.9 L359.5,441.7 L360.8,440.5 L362.1,439.3 L363.4,438.1 L364.7,436.8 L365.9,435.6 L367.2,434.4 L368.5,433.1 L369.8,431.9 L371.1,430.6 L372.3,429.3 L373.6,428.0 L374.9,426.7 L376.2,425.4 L377.5,424.1 L378.7,422.8 L380.0,421.4 L381.3,420.1 L382.6,418.8 L383.9,417.4 L385.2,416.1 L386.4,414.7 L387.7,413.3 L389.0,411.9 L390.3,410.6 L391.6,409.2 L392.8,407.8 L394.1,406.4 L395.4,405.0 L396.7,403.6 L398.0,402.2 L399.2,400.8 L400.5,399.4 L401.8,398.0 L403.1,396.6 L404.4,395.2 L405.6,393.8 L406.9,392.4 L408.2,391.0 L409.5,389.6 L410.8,388.2 L412.0,386.8 L413.3,385.5 L414.6,384.1 L415.9,382.8 L417.2,381.4 L418.4,380.1 L419.7,378.8 L421.0,377.5 L422.3,376.2 L423.6,375.0 L424.8,373.7 L426.1,372.5 L427.4,371.3 L428.7,370.1 L430.0,368.9 L431.2,367.8 L432.5,366.7 L433.8,365.6 L435.1,364.6 L436.4,363.6 L437.6,362.6 L438.9,361.6 L440.2,360.7 L441.5,359.8 L442.8,359.0 L444.0,358.1 L445.3,357.4 L446.6,356.6 L447.9,356.0 L449.2,355.3 L450.4,354.7 L451.7,354.1 L453.0,353.6 L454.3,353.2 L455.6,352.7 L456.8,352.4 L458.1,352.0 L459.4,351.8 L460.7,351.5 L462.0,351.4 L463.2,351.2 L464.5,351.2 L465.8,351.1 L467.1,351.2 L468.4,351.2 L469.6,351.4 L470.9,351.6 L472.2,351.8 L473.5,352.1 L474.8,352.4 L476.0,352.8 L477.3,353.3 L478.6,353.7 L479.9,354.3 L481.2,354.9 L482.4,355.5 L483.7,356.2 L485.0,356.9 L486.3,357.7 L487.6,358.5 L488.8,359.3 L490.1,360.2 L491.4,361.1 L492.7,362.0 L494.0,363.0 L495.2,364.0 L496.5,365.1 L497.8,366.2 L499.1,367.3 L500.4,368.4 L501.6,369.6 L502.9,370.8 L504.2,372.0 L505.5,373.2 L506.8,374.4 L508.0,375.7 L509.3,377.0 L510.6,378.3 L511.9,379.6 L513.2,380.9 L514.4,382.2 L515.7,383.5 L517.0,384.9 L518.3,386.3 L519.6,387.6 L520.8,389.0 L522.1,390.4 L523.4,391.7 L524.7,393.1 L526.0,394.5 L527.2,395.9 L528.5,397.2 L529.8,398.6 L531.1,400.0 L532.4,401.4 L533.6,402.7 L534.9,404.1 L536.2,405.5 L537.5,406.8 L538.8,408.2 L540.0,409.5 L541.3,410.9 L542.6,412.2 L543.9,413.5 L545.2,414.9 L546.4,416.2 L547.7,417.5 L549.0,418.8 L550.3,420.1 L551.6,421.3 L552.9,422.6 L554.1,423.9 L555.4,425.1 L556.7,426.4 L558.0,427.6 L559.3,428.8 L560.5,430.0 L561.8,431.2 L563.1,432.4 L564.4,433.6 L565.7,434.8 L566.9,435.9 L568.2,437.1 L569.5,438.2 L570.8,439.3 L572.1,440.4 L573.3,441.5 L574.6,442.6 L575.9,443.7 L577.2,444.8 L578.5,445.9 L579.7,446.9 L581.0,447.9 L582.3,449.0 L583.6,450.0 L584.9,451.0 L586.1,452.0 L587.4,453.0 L588.7,454.0 L590.0,454.9 L591.3,455.9 L592.5,456.8 L593.8,457.8 L595.1,458.7 L596.4,459.6 L597.7,460.5 L598.9,461.4 L600.2,462.3 L601.5,463.2 L602.8,464.1 L604.1,464.9 L605.3,465.8 L606.6,466.6 L607.9,467.5 L609.2,468.3 L610.5,469.1 L611.7,469.9 L613.0,470.7 L614.3,471.5 L615.6,472.3 L616.9,473.1 L618.1,473.8 L619.4,474.6 L620.7,475.3 L622.0,476.1 L623.3,476.8 L624.5,477.5 L625.8,478.2 L627.1,479.0 L628.4,479.7 L629.7,480.4 L630.9,481.0 L632.2,481.7 L633.5,482.4 L634.8,483.1 L636.1,483.7 L637.3,484.4 L638.6,485.0 L639.9,485.7 L641.2,486.3 L642.5,486.9 L643.7,487.6 L645.0,488.2 L646.3,488.8 L647.6,489.4 L648.9,490.0 L650.1,490.6 L651.4,491.2 L652.7,491.7 L654.0,492.3 L655.3,492.9 L656.5,493.4 L657.8,494.0 L659.1,494.5 L660.4,495.1 L661.7,495.6 L662.9,496.2 L664.2,496.7 L665.5,497.2 L666.8,497.7 L668.1,498.2 L669.3,498.7 L670.6,499.2 L671.9,499.7 L673.2,500.2 L674.5,500.7 L675.7,501.2 L677.0,501.7 L678.3,502.2 L679.6,502.6 L680.9,503.1 L682.1,503.6 L683.4,504.0 L684.7,504.5 L686.0,504.9 L687.3,505.4 L688.5,505.8 L689.8,506.3 L691.1,506.7 L692.4,507.1 L693.7,507.5 L694.9,508.0 L696.2,508.4 L697.5,508.8 L698.8,509.2 L700.1,509.6 L701.3,510.0 L702.6,510.4 L703.9,510.8 L705.2,511.2 L706.5,511.6 L707.7,512.0 L709.0,512.4 L710.3,512.7 L711.6,513.1 L712.9,513.5 L714.2,513.9 L715.4,514.2 L716.7,514.6 L718.0,514.9 L719.3,515.3 L720.6,515.6 L721.8,516.0 L723.1,516.3 L724.4,516.7 L725.7,517.0 L727.0,517.4 L728.2,517.7 L729.5,518.0 L730.8,518.4 L732.1,518.7 L733.4,519.0 L734.6,519.3 L735.9,519.7 L737.2,520.0 L738.5,520.3 L739.8,520.6 L741.0,520.9 L742.3,521.2 L743.6,521.5 L744.9,521.8 L746.2,522.1 L747.4,522.4 L748.7,522.7 L750.0,523.0 L751.3,523.3 L752.6,523.6 L753.8,523.9 L755.1,524.2 L756.4,524.4 L757.7,524.7 L759.0,525.0 L760.2,525.3 L761.5,525.6 L762.8,525.8 L764.1,526.1 L765.4,526.4 L766.6,526.6 L767.9,526.9 L769.2,527.1 L770.5,527.4 L771.8,527.7 L773.0,527.9" stroke="#ff8000" stroke-width="3.8"/>
</g>
<rect x="158.70" y="85.80" width="614.10" height="506.30" fill="none" stroke="#000" stroke-width="1.5"/>
<path d="M154.70,566.70L158.70,566.70 M151.70,516.10L158.70,516.10 M154.70,465.50L158.70,465.50 M151.70,414.90L158.70,414.90 M154.70,364.30L158.70,364.30 M151.70,313.70L158.70,313.70 M154.70,263.10L158.70,263.10 M151.70,212.50L158.70,212.50 M154.70,161.90L158.70,161.90 M151.70,111.30L158.70,111.30 M192.70,592.10L192.70,599.10 M260.98,592.10L260.98,596.10 M329.25,592.10L329.25,599.10 M397.53,592.10L397.53,596.10 M465.80,592.10L465.80,599.10 M534.08,592.10L534.08,596.10 M602.35,592.10L602.35,599.10 M670.62,592.10L670.62,596.10 M738.90,592.10L738.90,599.10 M180.80,85.80L180.80,92.80 M228.27,85.80L228.27,89.80 M275.75,85.80L275.75,92.80 M323.22,85.80L323.22,89.80 M370.70,85.80L370.70,92.80 M418.17,85.80L418.17,89.80 M465.65,85.80L465.65,92.80 M513.12,85.80L513.12,89.80 M560.60,85.80L560.60,92.80 M608.08,85.80L608.08,89.80 M655.55,85.80L655.55,92.80 M703.02,85.80L703.02,89.80 M750.50,85.80L750.50,92.80" stroke="#000" stroke-width="1.5" fill="none"/>
<text x="146.0" y="524.7" font-size="32.4" text-anchor="end" >4</text>
<text x="146.0" y="423.5" font-size="32.4" text-anchor="end" >8</text>
<text x="146.0" y="322.3" font-size="32.4" text-anchor="end" >12</text>
<text x="146.0" y="221.1" font-size="32.4" text-anchor="end" >16</text>
<text x="146.0" y="119.9" font-size="32.4" text-anchor="end" >20</text>
<text x="192.7" y="629.3" font-size="32.4" text-anchor="middle" >-40</text>
<text x="329.2" y="629.3" font-size="32.4" text-anchor="middle" >-20</text>
<text x="465.8" y="629.3" font-size="32.4" text-anchor="middle" >0</text>
<text x="602.4" y="629.3" font-size="32.4" text-anchor="middle" >20</text>
<text x="738.9" y="629.3" font-size="32.4" text-anchor="middle" >40</text>
<text x="180.8" y="69.6" font-size="32.4" text-anchor="middle" >-3</text>
<text x="275.8" y="69.6" font-size="32.4" text-anchor="middle" >-2</text>
<text x="370.7" y="69.6" font-size="32.4" text-anchor="middle" >-1</text>
<text x="465.6" y="69.6" font-size="32.4" text-anchor="middle" >0</text>
<text x="560.6" y="69.6" font-size="32.4" text-anchor="middle" >1</text>
<text x="655.5" y="69.6" font-size="32.4" text-anchor="middle" >2</text>
<text x="750.5" y="69.6" font-size="32.4" text-anchor="middle" >3</text>
<text x="398.5" y="671.7" font-size="32.4" text-anchor="start" ><tspan font-style="italic">V</tspan><tspan font-size="22" dy="8" dx="-1.2">G</tspan><tspan dy="-8" dx="-0.6">-</tspan><tspan font-style="italic" dx="-0.6">V</tspan><tspan font-size="22" dy="8" dx="-1.2">D</tspan><tspan dy="-8"> (V)</tspan></text>
<text x="366.0" y="30.7" font-size="32.4" text-anchor="start" ><tspan font-style="italic">n (</tspan>10<tspan font-size="21" dy="-13">12</tspan><tspan dy="13" dx="1"> cm</tspan><tspan font-size="21" dy="-13">-2</tspan><tspan dy="13" dx="2.5" font-style="italic">)</tspan></text>
<text transform="translate(86.8,326.0) rotate(-90)" font-size="32.4" text-anchor="middle"><tspan font-style="italic" font-family="Liberation Serif, serif" font-size="48">ρ</tspan><tspan font-style="italic" font-size="22" dy="8">xx</tspan><tspan dy="-8"> (kΩ)</tspan></text>
<text x="244.0" y="174.2" font-size="32.4" text-anchor="start" >2 K</text>
<text x="307.5" y="360.5" font-size="32.4" text-anchor="end" >200 K</text>
<path d="M324.7,158.6H436" stroke="#000" stroke-width="2.6"/>
<path d="M448.9,158.6L434.4,154L434.4,163.3Z" fill="#000"/>
<path d="M319.4,353H431" stroke="#000" stroke-width="2.6"/>
<path d="M443.5,353L429,348.4L429,357.7Z" fill="#000"/>
<path d="M259,314.4V228" stroke="#808080" stroke-width="6"/>
<path d="M259.2,216.8L274.7,235.3L259.2,230.5L243.7,235.3Z" fill="#808080"/>
</g>
<g id="inset">
<clipPath id="ci"><rect x="579" y="126" width="168.5" height="193"/></clipPath>
<filter id="bl" x="-5%" y="-5%" width="110%" height="110%"><feGaussianBlur stdDeviation="0.8"/></filter>
<g clip-path="url(#ci)"><g filter="url(#bl)">
<rect x="570.0" y="115.0" width="188.4" height="219.8" fill="#3b5bd6" />
<rect x="570.0" y="170.3" width="70.7" height="37.7" fill="#fbf8e6" />
<rect x="690.9" y="174.4" width="67.5" height="35.2" fill="#fbf8e6" />
<rect x="570.0" y="243.5" width="69.1" height="36.7" fill="#fbf8e6" />
<rect x="690.9" y="246.6" width="67.5" height="36.7" fill="#fbf8e6" />
<rect x="570.0" y="168.4" width="70.7" height="3.1" fill="#1d3470" />
<rect x="690.9" y="172.5" width="67.5" height="3.1" fill="#1d3470" />
<rect x="570.0" y="241.6" width="69.1" height="3.1" fill="#1d3470" />
<rect x="690.9" y="244.7" width="67.5" height="3.1" fill="#1d3470" />
<rect x="620.3" y="148.8" width="91.1" height="153.1" fill="#27a8e6" />
<rect x="647.7" y="115.0" width="35.3" height="34.9" fill="#fbf8e6" />
<rect x="645.4" y="302.7" width="34.5" height="32.2" fill="#fbf8e6" />
<rect x="621.8" y="174.4" width="16.0" height="32.5" fill="#f4d27a" />
<rect x="693.0" y="175.3" width="17.9" height="32.7" fill="#f4d27a" />
<rect x="621.5" y="247.5" width="14.1" height="31.1" fill="#f4d27a" />
<rect x="692.2" y="248.5" width="17.6" height="31.7" fill="#f4d27a" />
<rect x="648.2" y="149.2" width="32.0" height="12.9" fill="#f4d27a" />
<rect x="646.6" y="289.0" width="33.6" height="13.7" fill="#f4d27a" />
<rect x="639.1" y="176.2" width="54.2" height="24.3" fill="#3592d0" />
<rect x="639.1" y="250.1" width="53.4" height="23.6" fill="#3592d0" />
<rect x="655.6" y="162.1" width="24.3" height="127.2" fill="#3592d0" />
</g>
<path d="M654.8,151.9L679.5,151.9 M654.8,151.9L654.8,176.2 M679.5,151.9L679.5,176.2 M621.8,176.2L654.8,176.2 M679.5,176.2L713.2,176.2 M621.8,176.2L621.8,199.8 M711.3,176.2L711.3,199.8 M621.8,199.8L655.6,199.8 M680.7,199.8L713.7,199.8 M655.6,199.8L655.6,249.3 M680.7,199.8L680.7,249.3 M621.8,249.3L655.6,249.3 M680.7,249.3L713.7,249.3 M621.8,249.3L621.8,272.0 M709.8,249.3L709.8,273.6 M621.8,272.0L654.8,272.0 M679.9,273.6L713.7,273.6 M654.8,272.0L654.8,297.9 M679.5,273.6L679.5,297.9 M654.8,297.9L679.5,297.9" stroke="#000" stroke-width="1.4" stroke-dasharray="3.8,2.4" fill="none"/>
<rect x="584.1" y="305.0" width="45.2" height="7.5" fill="#000" />
</g></g>
<g id="pb">
<g fill="#fff" stroke="#0b7d7d" stroke-width="1.25" stroke-linejoin="miter"><path d="M1075.9,237.5l8.5,15.0h-17.0z"/><path d="M1082.5,236.5l8.5,15.0h-17.0z"/><path d="M1089.1,242.8l8.5,15.0h-17.0z"/><path d="M1092.6,237.9l8.5,15.0h-17.0z"/><path d="M1100.3,243.5l8.5,15.0h-17.0z"/><path d="M1105.2,234.4l8.5,15.0h-17.0z"/><path d="M1109.1,235.8l8.5,15.0h-17.0z"/><path d="M1112.9,232.5l8.5,15.0h-17.0z"/><path d="M1120.6,229.6l8.5,15.0h-17.0z"/><path d="M1127.8,227.5l8.5,15.0h-17.0z"/><path d="M1132.4,225.8l8.5,15.0h-17.0z"/><path d="M1136.0,226.2l8.5,15.0h-17.0z"/><path d="M1141.5,220.2l8.5,15.0h-17.0z"/><path d="M1144.0,232.9l8.5,15.0h-17.0z"/><path d="M1149.9,227.5l8.5,15.0h-17.0z"/><path d="M1152.0,229.5l8.5,15.0h-17.0z"/><path d="M1154.3,227.8l8.5,15.0h-17.0z"/><path d="M1157.7,235.7l8.5,15.0h-17.0z"/><path d="M1161.5,229.4l8.5,15.0h-17.0z"/><path d="M1163.5,235.3l8.5,15.0h-17.0z"/><path d="M1166.6,238.8l8.5,15.0h-17.0z"/><path d="M1172.2,242.2l8.5,15.0h-17.0z"/><path d="M1176.9,242.0l8.5,15.0h-17.0z"/><path d="M1178.9,240.5l8.5,15.0h-17.0z"/><path d="M1183.7,235.5l8.5,15.0h-17.0z"/><path d="M1187.0,246.2l8.5,15.0h-17.0z"/><path d="M1192.0,247.9l8.5,15.0h-17.0z"/><path d="M1194.7,247.7l8.5,15.0h-17.0z"/><path d="M1197.3,248.8l8.5,15.0h-17.0z"/><path d="M1201.0,247.7l8.5,15.0h-17.0z"/><path d="M1204.1,247.0l8.5,15.0h-17.0z"/><path d="M1206.5,254.0l8.5,15.0h-17.0z"/><path d="M1209.5,256.2l8.5,15.0h-17.0z"/><path d="M1212.9,249.3l8.5,15.0h-17.0z"/><path d="M1215.2,257.7l8.5,15.0h-17.0z"/><path d="M1219.0,257.5l8.5,15.0h-17.0z"/><path d="M1222.4,262.6l8.5,15.0h-17.0z"/><path d="M1225.8,263.1l8.5,15.0h-17.0z"/><path d="M1228.9,268.7l8.5,15.0h-17.0z"/><path d="M1230.9,270.0l8.5,15.0h-17.0z"/><path d="M1234.0,272.1l8.5,15.0h-17.0z"/><path d="M1235.7,265.3l8.5,15.0h-17.0z"/><path d="M1237.3,274.7l8.5,15.0h-17.0z"/><path d="M1239.8,274.0l8.5,15.0h-17.0z"/><path d="M1241.5,271.2l8.5,15.0h-17.0z"/><path d="M1243.0,279.2l8.5,15.0h-17.0z"/><path d="M1245.6,274.0l8.5,15.0h-17.0z"/><path d="M1249.1,285.3l8.5,15.0h-17.0z"/><path d="M1250.4,289.3l8.5,15.0h-17.0z"/><path d="M1252.6,283.2l8.5,15.0h-17.0z"/><path d="M1253.9,289.4l8.5,15.0h-17.0z"/><path d="M1256.3,289.7l8.5,15.0h-17.0z"/><path d="M1258.7,292.4l8.5,15.0h-17.0z"/><path d="M1260.8,287.1l8.5,15.0h-17.0z"/><path d="M1262.0,295.1l8.5,15.0h-17.0z"/><path d="M1264.6,295.6l8.5,15.0h-17.0z"/><path d="M1266.7,299.6l8.5,15.0h-17.0z"/><path d="M1269.0,299.0l8.5,15.0h-17.0z"/><path d="M1271.4,305.0l8.5,15.0h-17.0z"/><path d="M1274.2,304.6l8.5,15.0h-17.0z"/><path d="M1276.1,307.7l8.5,15.0h-17.0z"/><path d="M1278.9,312.7l8.5,15.0h-17.0z"/><path d="M1280.2,309.7l8.5,15.0h-17.0z"/><path d="M1282.0,314.3l8.5,15.0h-17.0z"/><path d="M1283.3,312.8l8.5,15.0h-17.0z"/><path d="M1285.0,315.3l8.5,15.0h-17.0z"/><path d="M1287.6,314.1l8.5,15.0h-17.0z"/><path d="M1290.3,321.2l8.5,15.0h-17.0z"/><path d="M1292.1,324.5l8.5,15.0h-17.0z"/><path d="M1293.5,321.3l8.5,15.0h-17.0z"/><path d="M1294.9,325.7l8.5,15.0h-17.0z"/><path d="M1297.4,326.8l8.5,15.0h-17.0z"/><path d="M1299.0,323.1l8.5,15.0h-17.0z"/><path d="M1300.2,329.3l8.5,15.0h-17.0z"/><path d="M1302.5,334.5l8.5,15.0h-17.0z"/><path d="M1304.2,329.7l8.5,15.0h-17.0z"/><path d="M1305.8,326.5l8.5,15.0h-17.0z"/><path d="M1308.1,335.3l8.5,15.0h-17.0z"/><path d="M1310.1,334.1l8.5,15.0h-17.0z"/><path d="M1310.9,343.5l8.5,15.0h-17.0z"/><path d="M1313.3,338.9l8.5,15.0h-17.0z"/><path d="M1314.8,340.3l8.5,15.0h-17.0z"/><path d="M1315.9,339.1l8.5,15.0h-17.0z"/><path d="M1318.1,344.0l8.5,15.0h-17.0z"/><path d="M1319.5,342.5l8.5,15.0h-17.0z"/><path d="M1321.3,342.9l8.5,15.0h-17.0z"/><path d="M1323.2,347.4l8.5,15.0h-17.0z"/><path d="M1324.2,345.8l8.5,15.0h-17.0z"/><path d="M1326.4,354.9l8.5,15.0h-17.0z"/><path d="M1327.9,348.0l8.5,15.0h-17.0z"/><path d="M1328.8,352.4l8.5,15.0h-17.0z"/><path d="M1330.2,351.6l8.5,15.0h-17.0z"/><path d="M1331.0,350.0l8.5,15.0h-17.0z"/><path d="M1333.1,362.0l8.5,15.0h-17.0z"/><path d="M1334.7,351.0l8.5,15.0h-17.0z"/><path d="M1335.9,363.9l8.5,15.0h-17.0z"/><path d="M1337.7,356.0l8.5,15.0h-17.0z"/><path d="M1339.5,362.6l8.5,15.0h-17.0z"/><path d="M1341.1,371.2l8.5,15.0h-17.0z"/><path d="M1342.1,357.6l8.5,15.0h-17.0z"/><path d="M1342.9,360.8l8.5,15.0h-17.0z"/><path d="M1344.7,371.3l8.5,15.0h-17.0z"/><path d="M1346.5,369.2l8.5,15.0h-17.0z"/><path d="M1347.6,367.9l8.5,15.0h-17.0z"/><path d="M1348.7,370.6l8.5,15.0h-17.0z"/><path d="M1349.9,368.6l8.5,15.0h-17.0z"/><path d="M1350.9,373.1l8.5,15.0h-17.0z"/><path d="M1352.7,379.2l8.5,15.0h-17.0z"/><path d="M1354.0,374.3l8.5,15.0h-17.0z"/><path d="M1355.5,377.4l8.5,15.0h-17.0z"/><path d="M1356.8,382.1l8.5,15.0h-17.0z"/><path d="M1357.6,385.3l8.5,15.0h-17.0z"/><path d="M1358.3,377.5l8.5,15.0h-17.0z"/><path d="M1359.0,381.1l8.5,15.0h-17.0z"/><path d="M1360.2,379.4l8.5,15.0h-17.0z"/><path d="M1361.6,380.4l8.5,15.0h-17.0z"/><path d="M1363.3,382.8l8.5,15.0h-17.0z"/><path d="M1365.0,383.6l8.5,15.0h-17.0z"/><path d="M1366.4,381.4l8.5,15.0h-17.0z"/><path d="M1367.4,381.5l8.5,15.0h-17.0z"/><path d="M1368.4,386.4l8.5,15.0h-17.0z"/><path d="M1369.8,390.4l8.5,15.0h-17.0z"/><path d="M1370.7,394.8l8.5,15.0h-17.0z"/><path d="M1372.1,390.5l8.5,15.0h-17.0z"/><path d="M1373.5,392.9l8.5,15.0h-17.0z"/><path d="M1374.2,396.2l8.5,15.0h-17.0z"/><path d="M1375.6,397.7l8.5,15.0h-17.0z"/><path d="M1376.3,395.6l8.5,15.0h-17.0z"/><path d="M1377.1,396.6l8.5,15.0h-17.0z"/><path d="M1378.7,404.2l8.5,15.0h-17.0z"/><path d="M1380.0,398.2l8.5,15.0h-17.0z"/><path d="M1381.4,399.1l8.5,15.0h-17.0z"/><path d="M1382.9,396.8l8.5,15.0h-17.0z"/><path d="M1383.7,404.1l8.5,15.0h-17.0z"/><path d="M1385.0,403.1l8.5,15.0h-17.0z"/><path d="M1385.9,410.7l8.5,15.0h-17.0z"/><path d="M1386.5,404.2l8.5,15.0h-17.0z"/><path d="M1387.1,408.3l8.5,15.0h-17.0z"/><path d="M1387.8,409.3l8.5,15.0h-17.0z"/><path d="M1388.9,412.6l8.5,15.0h-17.0z"/><path d="M1390.0,404.3l8.5,15.0h-17.0z"/><path d="M1391.4,414.5l8.5,15.0h-17.0z"/><path d="M1392.2,410.3l8.5,15.0h-17.0z"/><path d="M1393.4,411.1l8.5,15.0h-17.0z"/><path d="M1394.2,411.1l8.5,15.0h-17.0z"/><path d="M1395.0,411.5l8.5,15.0h-17.0z"/><path d="M1396.1,412.7l8.5,15.0h-17.0z"/><path d="M1396.9,407.2l8.5,15.0h-17.0z"/><path d="M1398.4,417.3l8.5,15.0h-17.0z"/><path d="M1399.1,416.6l8.5,15.0h-17.0z"/><path d="M1399.8,414.1l8.5,15.0h-17.0z"/><path d="M1401.1,418.0l8.5,15.0h-17.0z"/><path d="M1402.4,426.5l8.5,15.0h-17.0z"/><path d="M1403.0,421.1l8.5,15.0h-17.0z"/><path d="M1403.8,419.4l8.5,15.0h-17.0z"/><path d="M1404.7,426.7l8.5,15.0h-17.0z"/><path d="M1405.3,419.4l8.5,15.0h-17.0z"/><path d="M1406.0,422.1l8.5,15.0h-17.0z"/><path d="M1407.2,421.8l8.5,15.0h-17.0z"/><path d="M1408.3,423.8l8.5,15.0h-17.0z"/><path d="M1408.9,427.3l8.5,15.0h-17.0z"/><path d="M1409.6,427.4l8.5,15.0h-17.0z"/><path d="M1410.3,424.0l8.5,15.0h-17.0z"/><path d="M1411.4,426.8l8.5,15.0h-17.0z"/><path d="M1411.9,427.9l8.5,15.0h-17.0z"/><path d="M1413.2,427.5l8.5,15.0h-17.0z"/><path d="M1413.7,429.1l8.5,15.0h-17.0z"/><path d="M1414.6,427.8l8.5,15.0h-17.0z"/><path d="M1415.7,428.6l8.5,15.0h-17.0z"/><path d="M1416.9,432.0l8.5,15.0h-17.0z"/><path d="M1417.9,429.5l8.5,15.0h-17.0z"/><path d="M1419.0,434.9l8.5,15.0h-17.0z"/><path d="M1419.9,433.8l8.5,15.0h-17.0z"/><path d="M1420.5,432.1l8.5,15.0h-17.0z"/><path d="M1421.2,433.6l8.5,15.0h-17.0z"/><path d="M1422.1,434.8l8.5,15.0h-17.0z"/><path d="M1423.0,436.5l8.5,15.0h-17.0z"/><path d="M1424.0,438.2l8.5,15.0h-17.0z"/><path d="M1424.9,437.9l8.5,15.0h-17.0z"/><path d="M1425.6,436.5l8.5,15.0h-17.0z"/><path d="M1426.4,444.1l8.5,15.0h-17.0z"/><path d="M1427.2,443.1l8.5,15.0h-17.0z"/><path d="M1427.6,441.1l8.5,15.0h-17.0z"/><path d="M1428.3,444.1l8.5,15.0h-17.0z"/><path d="M1429.2,442.9l8.5,15.0h-17.0z"/><path d="M1430.1,441.9l8.5,15.0h-17.0z"/><path d="M1430.8,443.6l8.5,15.0h-17.0z"/><path d="M1431.8,452.0l8.5,15.0h-17.0z"/><path d="M1432.6,447.6l8.5,15.0h-17.0z"/><path d="M1433.3,448.3l8.5,15.0h-17.0z"/><path d="M1433.8,444.5l8.5,15.0h-17.0z"/><path d="M1434.8,448.2l8.5,15.0h-17.0z"/><path d="M1435.9,454.0l8.5,15.0h-17.0z"/><path d="M1436.8,449.3l8.5,15.0h-17.0z"/><path d="M1437.4,451.6l8.5,15.0h-17.0z"/><path d="M1438.3,452.8l8.5,15.0h-17.0z"/><path d="M1439.0,451.6l8.5,15.0h-17.0z"/><path d="M1440.1,455.1l8.5,15.0h-17.0z"/><path d="M1440.5,451.4l8.5,15.0h-17.0z"/><path d="M1441.4,452.9l8.5,15.0h-17.0z"/><path d="M1442.1,450.1l8.5,15.0h-17.0z"/><path d="M1443.1,460.5l8.5,15.0h-17.0z"/><path d="M1443.9,454.2l8.5,15.0h-17.0z"/><path d="M1444.3,453.9l8.5,15.0h-17.0z"/><path d="M1445.1,458.3l8.5,15.0h-17.0z"/><path d="M1445.9,453.3l8.5,15.0h-17.0z"/><path d="M1446.4,455.1l8.5,15.0h-17.0z"/><path d="M1446.8,453.1l8.5,15.0h-17.0z"/><path d="M1447.5,456.0l8.5,15.0h-17.0z"/><path d="M1448.2,455.3l8.5,15.0h-17.0z"/><path d="M1448.9,458.5l8.5,15.0h-17.0z"/><path d="M1449.3,456.8l8.5,15.0h-17.0z"/><path d="M1449.7,455.7l8.5,15.0h-17.0z"/><path d="M1450.6,457.2l8.5,15.0h-17.0z"/><path d="M1451.3,458.2l8.5,15.0h-17.0z"/><path d="M1452.1,457.6l8.5,15.0h-17.0z"/><path d="M1452.8,462.2l8.5,15.0h-17.0z"/><path d="M1453.3,461.8l8.5,15.0h-17.0z"/><path d="M1454.2,460.9l8.5,15.0h-17.0z"/><path d="M1454.7,457.3l8.5,15.0h-17.0z"/><path d="M1455.0,462.5l8.5,15.0h-17.0z"/><path d="M1455.6,457.7l8.5,15.0h-17.0z"/><path d="M1456.3,462.3l8.5,15.0h-17.0z"/><path d="M1456.7,462.2l8.5,15.0h-17.0z"/><path d="M1457.7,461.0l8.5,15.0h-17.0z"/><path d="M1458.2,460.6l8.5,15.0h-17.0z"/><path d="M1458.6,461.2l8.5,15.0h-17.0z"/><path d="M1459.4,469.7l8.5,15.0h-17.0z"/><path d="M1459.8,463.2l8.5,15.0h-17.0z"/><path d="M1460.3,463.7l8.5,15.0h-17.0z"/><path d="M1460.9,467.4l8.5,15.0h-17.0z"/><path d="M1461.4,466.2l8.5,15.0h-17.0z"/><path d="M1462.2,468.5l8.5,15.0h-17.0z"/><path d="M1462.6,462.2l8.5,15.0h-17.0z"/><path d="M1463.3,463.0l8.5,15.0h-17.0z"/><path d="M1463.7,475.9l8.5,15.0h-17.0z"/><path d="M1464.4,466.7l8.5,15.0h-17.0z"/><path d="M1465.3,466.5l8.5,15.0h-17.0z"/><path d="M1466.2,468.3l8.5,15.0h-17.0z"/><path d="M1467.1,471.2l8.5,15.0h-17.0z"/><path d="M1467.7,465.3l8.5,15.0h-17.0z"/><path d="M1468.1,469.8l8.5,15.0h-17.0z"/><path d="M1468.7,469.2l8.5,15.0h-17.0z"/><path d="M1469.5,471.6l8.5,15.0h-17.0z"/><path d="M1469.9,470.4l8.5,15.0h-17.0z"/><path d="M1470.6,468.8l8.5,15.0h-17.0z"/><path d="M1471.1,468.1l8.5,15.0h-17.0z"/><path d="M1472.0,464.1l8.5,15.0h-17.0z"/><path d="M1472.5,474.1l8.5,15.0h-17.0z"/><path d="M1473.0,467.4l8.5,15.0h-17.0z"/><path d="M1473.4,470.7l8.5,15.0h-17.0z"/><path d="M1474.1,476.9l8.5,15.0h-17.0z"/><path d="M1474.9,471.5l8.5,15.0h-17.0z"/><path d="M1475.6,474.7l8.5,15.0h-17.0z"/><path d="M1476.3,472.8l8.5,15.0h-17.0z"/><path d="M1476.9,475.7l8.5,15.0h-17.0z"/><path d="M1477.3,473.9l8.5,15.0h-17.0z"/><path d="M1477.9,472.8l8.5,15.0h-17.0z"/><path d="M1478.6,478.3l8.5,15.0h-17.0z"/><path d="M1479.0,474.0l8.5,15.0h-17.0z"/><path d="M1479.5,471.2l8.5,15.0h-17.0z"/><path d="M1480.0,474.3l8.5,15.0h-17.0z"/><path d="M1480.3,476.9l8.5,15.0h-17.0z"/><path d="M1480.7,472.4l8.5,15.0h-17.0z"/><path d="M1481.3,478.1l8.5,15.0h-17.0z"/><path d="M1482.1,478.4l8.5,15.0h-17.0z"/><path d="M1482.8,482.5l8.5,15.0h-17.0z"/><path d="M1483.4,475.0l8.5,15.0h-17.0z"/><path d="M1484.1,479.0l8.5,15.0h-17.0z"/><path d="M1484.6,472.7l8.5,15.0h-17.0z"/><path d="M1485.0,476.4l8.5,15.0h-17.0z"/><path d="M1485.7,478.2l8.5,15.0h-17.0z"/><path d="M1486.3,479.3l8.5,15.0h-17.0z"/><path d="M1487.1,478.4l8.5,15.0h-17.0z"/><path d="M1487.8,478.6l8.5,15.0h-17.0z"/><path d="M1488.5,477.4l8.5,15.0h-17.0z"/><path d="M1489.0,478.1l8.5,15.0h-17.0z"/><path d="M1489.6,480.4l8.5,15.0h-17.0z"/><path d="M1490.2,481.4l8.5,15.0h-17.0z"/><path d="M1490.8,481.9l8.5,15.0h-17.0z"/><path d="M1491.2,483.0l8.5,15.0h-17.0z"/><path d="M1491.6,483.7l8.5,15.0h-17.0z"/><path d="M1492.4,475.8l8.5,15.0h-17.0z"/><path d="M1493.0,479.5l8.5,15.0h-17.0z"/><path d="M1493.8,480.8l8.5,15.0h-17.0z"/><path d="M1494.1,479.7l8.5,15.0h-17.0z"/><path d="M1494.7,484.5l8.5,15.0h-17.0z"/><path d="M1495.3,483.9l8.5,15.0h-17.0z"/><path d="M1495.7,481.7l8.5,15.0h-17.0z"/><path d="M1496.2,482.5l8.5,15.0h-17.0z"/><path d="M1496.6,485.8l8.5,15.0h-17.0z"/><path d="M1497.0,481.5l8.5,15.0h-17.0z"/><path d="M1497.6,481.8l8.5,15.0h-17.0z"/><path d="M1498.2,485.4l8.5,15.0h-17.0z"/><path d="M1498.9,484.5l8.5,15.0h-17.0z"/><path d="M1499.6,487.3l8.5,15.0h-17.0z"/><path d="M1500.4,484.7l8.5,15.0h-17.0z"/><path d="M1501.1,486.0l8.5,15.0h-17.0z"/><path d="M1501.7,482.6l8.5,15.0h-17.0z"/><path d="M1502.1,481.7l8.5,15.0h-17.0z"/><path d="M1502.7,484.4l8.5,15.0h-17.0z"/><path d="M1503.0,477.3l8.5,15.0h-17.0z"/><path d="M1503.4,485.7l8.5,15.0h-17.0z"/><path d="M1504.0,487.4l8.5,15.0h-17.0z"/><path d="M1504.6,485.2l8.5,15.0h-17.0z"/><path d="M1505.0,484.5l8.5,15.0h-17.0z"/><path d="M1505.4,488.1l8.5,15.0h-17.0z"/><path d="M1505.7,485.2l8.5,15.0h-17.0z"/><path d="M1506.1,488.0l8.5,15.0h-17.0z"/><path d="M1506.5,491.4l8.5,15.0h-17.0z"/><path d="M1506.9,487.6l8.5,15.0h-17.0z"/><path d="M1507.2,488.2l8.5,15.0h-17.0z"/><path d="M1507.9,487.2l8.5,15.0h-17.0z"/><path d="M1508.5,486.7l8.5,15.0h-17.0z"/><path d="M1508.9,486.9l8.5,15.0h-17.0z"/><path d="M1509.3,486.4l8.5,15.0h-17.0z"/><path d="M1509.7,489.2l8.5,15.0h-17.0z"/><path d="M1510.2,482.1l8.5,15.0h-17.0z"/><path d="M1510.7,485.8l8.5,15.0h-17.0z"/><path d="M1511.0,488.4l8.5,15.0h-17.0z"/><path d="M1511.4,484.4l8.5,15.0h-17.0z"/><path d="M1512.0,486.5l8.5,15.0h-17.0z"/><path d="M1512.4,485.0l8.5,15.0h-17.0z"/><path d="M1512.8,488.1l8.5,15.0h-17.0z"/><path d="M1513.1,489.3l8.5,15.0h-17.0z"/><path d="M1513.4,490.9l8.5,15.0h-17.0z"/><path d="M1514.1,488.5l8.5,15.0h-17.0z"/><path d="M1514.7,485.3l8.5,15.0h-17.0z"/><path d="M1515.2,488.0l8.5,15.0h-17.0z"/><path d="M1515.8,488.9l8.5,15.0h-17.0z"/><path d="M1516.2,491.2l8.5,15.0h-17.0z"/><path d="M1516.6,481.8l8.5,15.0h-17.0z"/><path d="M1517.0,488.6l8.5,15.0h-17.0z"/><path d="M1517.7,482.8l8.5,15.0h-17.0z"/><path d="M1518.1,489.6l8.5,15.0h-17.0z"/><path d="M1518.7,489.0l8.5,15.0h-17.0z"/><path d="M1519.1,489.1l8.5,15.0h-17.0z"/><path d="M1519.4,490.2l8.5,15.0h-17.0z"/><path d="M1519.8,488.9l8.5,15.0h-17.0z"/><path d="M1520.2,486.2l8.5,15.0h-17.0z"/><path d="M1520.5,488.9l8.5,15.0h-17.0z"/><path d="M1520.9,491.2l8.5,15.0h-17.0z"/><path d="M1521.4,487.7l8.5,15.0h-17.0z"/><path d="M1521.9,488.1l8.5,15.0h-17.0z"/><path d="M1522.5,484.9l8.5,15.0h-17.0z"/><path d="M1523.0,491.2l8.5,15.0h-17.0z"/><path d="M1523.6,486.8l8.5,15.0h-17.0z"/><path d="M1524.1,486.2l8.5,15.0h-17.0z"/><path d="M1524.5,487.0l8.5,15.0h-17.0z"/><path d="M1524.9,485.9l8.5,15.0h-17.0z"/><path d="M1525.3,487.5l8.5,15.0h-17.0z"/><path d="M1525.7,491.6l8.5,15.0h-17.0z"/><path d="M1526.3,490.3l8.5,15.0h-17.0z"/><path d="M1526.8,492.0l8.5,15.0h-17.0z"/><path d="M1527.2,492.2l8.5,15.0h-17.0z"/><path d="M1527.7,485.9l8.5,15.0h-17.0z"/><path d="M1528.1,489.5l8.5,15.0h-17.0z"/><path d="M1528.4,492.2l8.5,15.0h-17.0z"/><path d="M1529.0,494.3l8.5,15.0h-17.0z"/><path d="M1529.4,484.5l8.5,15.0h-17.0z"/><path d="M1529.8,484.4l8.5,15.0h-17.0z"/><path d="M1530.1,489.4l8.5,15.0h-17.0z"/><path d="M1530.4,487.3l8.5,15.0h-17.0z"/><path d="M1531.0,485.5l8.5,15.0h-17.0z"/><path d="M1531.4,489.1l8.5,15.0h-17.0z"/><path d="M1531.8,486.0l8.5,15.0h-17.0z"/><path d="M1532.4,482.1l8.5,15.0h-17.0z"/><path d="M1532.8,488.0l8.5,15.0h-17.0z"/><path d="M1533.2,488.3l8.5,15.0h-17.0z"/><path d="M1533.4,489.7l8.5,15.0h-17.0z"/><path d="M1533.8,490.4l8.5,15.0h-17.0z"/><path d="M1534.2,488.4l8.5,15.0h-17.0z"/><path d="M1534.7,487.3l8.5,15.0h-17.0z"/><path d="M1535.1,486.1l8.5,15.0h-17.0z"/><path d="M1535.5,483.5l8.5,15.0h-17.0z"/><path d="M1535.9,486.6l8.5,15.0h-17.0z"/><path d="M1536.4,490.3l8.5,15.0h-17.0z"/><path d="M1536.8,489.3l8.5,15.0h-17.0z"/><path d="M1537.3,492.9l8.5,15.0h-17.0z"/><path d="M1537.6,487.1l8.5,15.0h-17.0z"/><path d="M1538.0,482.8l8.5,15.0h-17.0z"/><path d="M1538.5,489.5l8.5,15.0h-17.0z"/><path d="M1538.9,490.0l8.5,15.0h-17.0z"/><path d="M1539.5,484.2l8.5,15.0h-17.0z"/><path d="M1540.0,482.9l8.5,15.0h-17.0z"/><path d="M1540.5,487.4l8.5,15.0h-17.0z"/><path d="M1540.9,488.8l8.5,15.0h-17.0z"/><path d="M1541.3,484.0l8.5,15.0h-17.0z"/><path d="M1541.7,485.9l8.5,15.0h-17.0z"/><path d="M1542.1,484.7l8.5,15.0h-17.0z"/><path d="M1542.5,483.6l8.5,15.0h-17.0z"/><path d="M1543.0,483.1l8.5,15.0h-17.0z"/><path d="M1543.3,486.8l8.5,15.0h-17.0z"/><path d="M1543.6,485.4l8.5,15.0h-17.0z"/><path d="M1544.2,484.5l8.5,15.0h-17.0z"/><path d="M1544.7,479.4l8.5,15.0h-17.0z"/><path d="M1545.2,490.5l8.5,15.0h-17.0z"/><path d="M1545.6,483.5l8.5,15.0h-17.0z"/><path d="M1545.9,485.5l8.5,15.0h-17.0z"/><path d="M1546.4,482.7l8.5,15.0h-17.0z"/><path d="M1546.9,486.5l8.5,15.0h-17.0z"/><path d="M1547.2,481.6l8.5,15.0h-17.0z"/><path d="M1547.6,485.6l8.5,15.0h-17.0z"/><path d="M1548.0,484.7l8.5,15.0h-17.0z"/><path d="M1548.5,487.4l8.5,15.0h-17.0z"/><path d="M1548.8,482.2l8.5,15.0h-17.0z"/><path d="M1549.1,483.2l8.5,15.0h-17.0z"/><path d="M1549.5,484.1l8.5,15.0h-17.0z"/><path d="M1550.1,489.9l8.5,15.0h-17.0z"/><path d="M1550.5,480.6l8.5,15.0h-17.0z"/><path d="M1551.0,485.0l8.5,15.0h-17.0z"/><path d="M1551.5,482.3l8.5,15.0h-17.0z"/><path d="M1552.1,484.6l8.5,15.0h-17.0z"/><path d="M1552.4,485.4l8.5,15.0h-17.0z"/><path d="M1552.8,483.9l8.5,15.0h-17.0z"/><path d="M1553.0,484.1l8.5,15.0h-17.0z"/><path d="M1553.5,484.0l8.5,15.0h-17.0z"/><path d="M1553.8,481.6l8.5,15.0h-17.0z"/><path d="M1554.1,482.5l8.5,15.0h-17.0z"/><path d="M1554.5,478.6l8.5,15.0h-17.0z"/><path d="M1554.9,481.8l8.5,15.0h-17.0z"/><path d="M1555.3,480.5l8.5,15.0h-17.0z"/><path d="M1555.7,481.6l8.5,15.0h-17.0z"/><path d="M1556.1,484.0l8.5,15.0h-17.0z"/><path d="M1556.5,482.9l8.5,15.0h-17.0z"/><path d="M1557.0,482.9l8.5,15.0h-17.0z"/><path d="M1557.5,484.3l8.5,15.0h-17.0z"/><path d="M1558.0,475.1l8.5,15.0h-17.0z"/><path d="M1558.5,482.1l8.5,15.0h-17.0z"/><path d="M1559.0,480.7l8.5,15.0h-17.0z"/><path d="M1559.4,480.2l8.5,15.0h-17.0z"/><path d="M1559.9,476.9l8.5,15.0h-17.0z"/><path d="M1560.4,481.4l8.5,15.0h-17.0z"/><path d="M1560.8,482.8l8.5,15.0h-17.0z"/><path d="M1561.3,482.3l8.5,15.0h-17.0z"/><path d="M1561.8,479.3l8.5,15.0h-17.0z"/><path d="M1562.2,481.0l8.5,15.0h-17.0z"/><path d="M1562.5,481.6l8.5,15.0h-17.0z"/><path d="M1562.9,483.7l8.5,15.0h-17.0z"/><path d="M1563.2,482.0l8.5,15.0h-17.0z"/><path d="M1563.7,479.1l8.5,15.0h-17.0z"/><path d="M1564.2,478.7l8.5,15.0h-17.0z"/><path d="M1564.6,478.8l8.5,15.0h-17.0z"/><path d="M1565.1,478.7l8.5,15.0h-17.0z"/><path d="M1565.3,476.8l8.5,15.0h-17.0z"/><path d="M1565.6,479.8l8.5,15.0h-17.0z"/><path d="M1566.0,475.9l8.5,15.0h-17.0z"/><path d="M1566.4,475.5l8.5,15.0h-17.0z"/><path d="M1566.9,478.1l8.5,15.0h-17.0z"/><path d="M1567.2,475.6l8.5,15.0h-17.0z"/><path d="M1567.7,476.2l8.5,15.0h-17.0z"/><path d="M1568.2,471.3l8.5,15.0h-17.0z"/><path d="M1568.6,478.3l8.5,15.0h-17.0z"/><path d="M1568.9,476.1l8.5,15.0h-17.0z"/><path d="M1569.3,475.6l8.5,15.0h-17.0z"/><path d="M1569.7,476.8l8.5,15.0h-17.0z"/><path d="M1570.2,475.9l8.5,15.0h-17.0z"/><path d="M1570.6,473.4l8.5,15.0h-17.0z"/><path d="M1571.1,479.9l8.5,15.0h-17.0z"/><path d="M1571.4,473.5l8.5,15.0h-17.0z"/><path d="M1571.9,476.8l8.5,15.0h-17.0z"/><path d="M1572.2,478.7l8.5,15.0h-17.0z"/><path d="M1572.6,472.3l8.5,15.0h-17.0z"/><path d="M1572.9,473.9l8.5,15.0h-17.0z"/><path d="M1573.2,471.3l8.5,15.0h-17.0z"/><path d="M1573.6,475.7l8.5,15.0h-17.0z"/><path d="M1574.1,472.0l8.5,15.0h-17.0z"/><path d="M1574.5,469.7l8.5,15.0h-17.0z"/><path d="M1574.9,475.4l8.5,15.0h-17.0z"/><path d="M1575.3,474.2l8.5,15.0h-17.0z"/><path d="M1575.7,469.4l8.5,15.0h-17.0z"/><path d="M1576.1,474.2l8.5,15.0h-17.0z"/><path d="M1576.5,471.4l8.5,15.0h-17.0z"/><path d="M1576.9,477.4l8.5,15.0h-17.0z"/><path d="M1577.2,474.6l8.5,15.0h-17.0z"/><path d="M1577.5,468.7l8.5,15.0h-17.0z"/><path d="M1578.0,469.1l8.5,15.0h-17.0z"/><path d="M1578.4,467.2l8.5,15.0h-17.0z"/><path d="M1578.8,469.3l8.5,15.0h-17.0z"/><path d="M1579.1,468.8l8.5,15.0h-17.0z"/><path d="M1579.5,470.2l8.5,15.0h-17.0z"/><path d="M1579.8,468.3l8.5,15.0h-17.0z"/><path d="M1580.3,464.0l8.5,15.0h-17.0z"/><path d="M1580.7,465.3l8.5,15.0h-17.0z"/><path d="M1581.1,470.4l8.5,15.0h-17.0z"/><path d="M1581.5,469.3l8.5,15.0h-17.0z"/><path d="M1581.9,465.7l8.5,15.0h-17.0z"/><path d="M1582.3,465.4l8.5,15.0h-17.0z"/><path d="M1582.6,465.0l8.5,15.0h-17.0z"/><path d="M1583.0,465.1l8.5,15.0h-17.0z"/><path d="M1583.4,460.5l8.5,15.0h-17.0z"/><path d="M1583.7,466.5l8.5,15.0h-17.0z"/><path d="M1584.0,462.3l8.5,15.0h-17.0z"/><path d="M1584.5,463.8l8.5,15.0h-17.0z"/><path d="M1584.8,456.8l8.5,15.0h-17.0z"/><path d="M1585.2,463.2l8.5,15.0h-17.0z"/><path d="M1585.6,465.6l8.5,15.0h-17.0z"/><path d="M1585.9,456.4l8.5,15.0h-17.0z"/><path d="M1586.3,465.2l8.5,15.0h-17.0z"/><path d="M1586.7,462.1l8.5,15.0h-17.0z"/><path d="M1587.0,458.8l8.5,15.0h-17.0z"/><path d="M1587.4,456.2l8.5,15.0h-17.0z"/><path d="M1587.8,462.5l8.5,15.0h-17.0z"/><path d="M1588.2,459.9l8.5,15.0h-17.0z"/><path d="M1588.6,460.2l8.5,15.0h-17.0z"/><path d="M1589.1,457.5l8.5,15.0h-17.0z"/><path d="M1589.3,455.8l8.5,15.0h-17.0z"/><path d="M1589.7,459.5l8.5,15.0h-17.0z"/><path d="M1590.1,454.5l8.5,15.0h-17.0z"/><path d="M1590.5,458.5l8.5,15.0h-17.0z"/><path d="M1590.9,451.7l8.5,15.0h-17.0z"/><path d="M1591.3,453.0l8.5,15.0h-17.0z"/><path d="M1591.7,451.1l8.5,15.0h-17.0z"/><path d="M1592.0,457.5l8.5,15.0h-17.0z"/><path d="M1592.4,449.5l8.5,15.0h-17.0z"/><path d="M1592.8,450.4l8.5,15.0h-17.0z"/><path d="M1593.2,454.2l8.5,15.0h-17.0z"/><path d="M1593.6,452.6l8.5,15.0h-17.0z"/><path d="M1594.0,456.8l8.5,15.0h-17.0z"/><path d="M1594.4,455.4l8.5,15.0h-17.0z"/><path d="M1594.7,452.0l8.5,15.0h-17.0z"/><path d="M1595.0,451.7l8.5,15.0h-17.0z"/><path d="M1595.3,445.0l8.5,15.0h-17.0z"/><path d="M1595.6,446.9l8.5,15.0h-17.0z"/><path d="M1595.9,447.7l8.5,15.0h-17.0z"/><path d="M1596.3,447.5l8.5,15.0h-17.0z"/><path d="M1596.6,444.2l8.5,15.0h-17.0z"/><path d="M1597.0,444.6l8.5,15.0h-17.0z"/><path d="M1597.3,444.4l8.5,15.0h-17.0z"/><path d="M1597.7,448.5l8.5,15.0h-17.0z"/><path d="M1598.1,446.2l8.5,15.0h-17.0z"/><path d="M1598.4,443.9l8.5,15.0h-17.0z"/><path d="M1598.6,443.6l8.5,15.0h-17.0z"/><path d="M1599.1,444.3l8.5,15.0h-17.0z"/><path d="M1599.5,441.1l8.5,15.0h-17.0z"/><path d="M1599.9,441.5l8.5,15.0h-17.0z"/><path d="M1600.3,437.2l8.5,15.0h-17.0z"/><path d="M1600.7,442.3l8.5,15.0h-17.0z"/><path d="M1601.0,442.5l8.5,15.0h-17.0z"/><path d="M1601.3,440.3l8.5,15.0h-17.0z"/><path d="M1601.7,439.8l8.5,15.0h-17.0z"/><path d="M1602.1,438.8l8.5,15.0h-17.0z"/><path d="M1602.5,442.1l8.5,15.0h-17.0z"/><path d="M1602.9,437.0l8.5,15.0h-17.0z"/><path d="M1603.3,432.5l8.5,15.0h-17.0z"/><path d="M1603.6,432.4l8.5,15.0h-17.0z"/><path d="M1604.1,435.8l8.5,15.0h-17.0z"/><path d="M1604.4,435.8l8.5,15.0h-17.0z"/><path d="M1604.8,434.4l8.5,15.0h-17.0z"/><path d="M1605.2,433.7l8.5,15.0h-17.0z"/><path d="M1605.5,431.5l8.5,15.0h-17.0z"/><path d="M1605.9,426.7l8.5,15.0h-17.0z"/><path d="M1606.2,427.7l8.5,15.0h-17.0z"/><path d="M1606.6,424.3l8.5,15.0h-17.0z"/><path d="M1607.0,426.9l8.5,15.0h-17.0z"/><path d="M1607.4,423.7l8.5,15.0h-17.0z"/><path d="M1607.7,426.5l8.5,15.0h-17.0z"/><path d="M1608.0,425.2l8.5,15.0h-17.0z"/><path d="M1608.3,420.2l8.5,15.0h-17.0z"/><path d="M1608.7,425.8l8.5,15.0h-17.0z"/><path d="M1609.1,424.9l8.5,15.0h-17.0z"/><path d="M1609.5,418.9l8.5,15.0h-17.0z"/><path d="M1609.9,421.6l8.5,15.0h-17.0z"/><path d="M1610.2,422.2l8.5,15.0h-17.0z"/></g>
<path d="M1078.5,233.5 L1081.2,233.6 L1083.8,233.8 L1086.5,234.0 L1089.2,234.3 L1091.9,234.6 L1094.5,234.9 L1097.2,235.2 L1099.9,235.6 L1102.6,236.0 L1105.2,236.4 L1107.9,236.8 L1110.6,237.3 L1113.3,237.8 L1115.9,238.4 L1118.6,238.9 L1121.3,239.5 L1124.0,240.1 L1126.6,240.7 L1129.3,241.4 L1132.0,242.1 L1134.7,242.8 L1137.3,243.6 L1140.0,244.3 L1142.7,245.1 L1145.4,246.0 L1148.0,246.8 L1150.7,247.7 L1153.4,248.6 L1156.1,249.5 L1158.7,250.5 L1161.4,251.5 L1164.1,252.5 L1166.8,253.5 L1169.4,254.6 L1172.1,255.7 L1174.8,256.8 L1177.5,257.9 L1180.1,259.1 L1182.8,260.3 L1185.5,261.5 L1188.1,262.7 L1190.8,264.0 L1193.5,265.3 L1196.2,266.6 L1198.8,267.9 L1201.5,269.3 L1204.2,270.7 L1206.9,272.1 L1209.5,273.5 L1212.2,275.0 L1214.9,276.5 L1217.6,278.0 L1220.2,279.6 L1222.9,281.1 L1225.6,282.7 L1228.3,284.3 L1230.9,285.9 L1233.6,287.6 L1236.3,289.3 L1239.0,291.0 L1241.6,292.7 L1244.3,294.5 L1247.0,296.3 L1249.7,298.1 L1252.3,299.9 L1255.0,301.7 L1257.7,303.6 L1260.4,305.5 L1263.0,307.4 L1265.7,309.4 L1268.4,311.3 L1271.1,313.3 L1273.7,315.3 L1276.4,317.4 L1279.1,319.4 L1281.8,321.5 L1284.4,323.6 L1287.1,325.7 L1289.8,327.9 L1292.4,330.0 L1295.1,332.2 L1297.8,334.4 L1300.5,336.7 L1303.1,338.9 L1305.8,341.2 L1308.5,343.5 L1311.2,345.8 L1313.8,348.2 L1316.5,350.5 L1319.2,352.9 L1321.9,355.3 L1324.5,357.7 L1327.2,360.2 L1329.9,362.6 L1332.6,365.0 L1335.2,367.5 L1337.9,370.0 L1340.6,372.5 L1343.3,375.0 L1345.9,377.4 L1348.6,379.9 L1351.3,382.5 L1354.0,385.0 L1356.6,387.5 L1359.3,390.0 L1362.0,392.5 L1364.7,395.0 L1367.3,397.5 L1370.0,400.0 L1372.7,402.5 L1375.4,405.0 L1378.0,407.5 L1380.7,410.0 L1383.4,412.5 L1386.1,414.9 L1388.7,417.4 L1391.4,419.8 L1394.1,422.2 L1396.8,424.7 L1399.4,427.1 L1402.1,429.4 L1404.8,431.8 L1407.4,434.1 L1410.1,436.5 L1412.8,438.8 L1415.5,441.1 L1418.1,443.3 L1420.8,445.6 L1423.5,447.8 L1426.2,450.0 L1428.8,452.1 L1431.5,454.2 L1434.2,456.3 L1436.9,458.4 L1439.5,460.5 L1442.2,462.5 L1444.9,464.4 L1447.6,466.4 L1450.2,468.3 L1452.9,470.1 L1455.6,471.9 L1458.3,473.7 L1460.9,475.5 L1463.6,477.2 L1466.3,478.8 L1469.0,480.5 L1471.6,482.0 L1474.3,483.6 L1477.0,485.0 L1479.7,486.5 L1482.3,487.8 L1485.0,489.2 L1487.7,490.5 L1490.4,491.7 L1493.0,492.9 L1495.7,494.0 L1498.4,495.0 L1501.1,496.0 L1503.7,496.9 L1506.4,497.8 L1509.1,498.6 L1511.7,499.3 L1514.4,499.9 L1517.1,500.4 L1519.8,500.9 L1522.4,501.3 L1525.1,501.5 L1527.8,501.7 L1530.5,501.8 L1533.1,501.8 L1535.8,501.7 L1538.5,501.5 L1541.2,501.2 L1543.8,500.8 L1546.5,500.3 L1549.2,499.6 L1551.9,498.9 L1554.5,498.0 L1557.2,496.9 L1559.9,495.7 L1562.6,494.3 L1565.2,492.7 L1567.9,491.0 L1570.6,489.0 L1573.3,486.9 L1575.9,484.5 L1578.6,481.9 L1581.3,479.0 L1584.0,475.9 L1586.6,472.6 L1589.3,468.9 L1592.0,465.0 L1594.7,460.8 L1597.3,456.3 L1600.0,451.5 L1602.7,446.3 L1605.4,440.8 L1608.0,435.0 L1610.7,428.8" fill="none" stroke="#d40010" stroke-width="4" stroke-linecap="round"/>
<rect x="1028.70" y="96.80" width="597.60" height="481.90" fill="none" stroke="#000" stroke-width="2"/>
<path d="M1019.20,531.10L1028.70,531.10 M1023.70,470.70L1028.70,470.70 M1019.20,410.30L1028.70,410.30 M1023.70,349.90L1028.70,349.90 M1019.20,289.50L1028.70,289.50 M1023.70,229.10L1028.70,229.10 M1019.20,168.70L1028.70,168.70 M1023.70,108.30L1028.70,108.30 M1028.16,578.70L1028.16,583.70 M1075.91,578.70L1075.91,583.70 M1112.95,578.70L1112.95,583.70 M1143.21,578.70L1143.21,583.70 M1168.80,578.70L1168.80,583.70 M1190.96,578.70L1190.96,583.70 M1210.51,578.70L1210.51,583.70 M1228.00,578.70L1228.00,588.20 M1343.05,578.70L1343.05,583.70 M1410.36,578.70L1410.36,583.70 M1458.11,578.70L1458.11,583.70 M1495.15,578.70L1495.15,583.70 M1525.41,578.70L1525.41,583.70 M1551.00,578.70L1551.00,583.70 M1573.16,578.70L1573.16,583.70 M1592.71,578.70L1592.71,583.70 M1610.20,578.70L1610.20,588.20" stroke="#000" stroke-width="2" fill="none"/>
<text x="1012.5" y="540.4" font-size="32.4" text-anchor="end" >5.5</text>
<text x="1012.5" y="419.6" font-size="32.4" text-anchor="end" >6.0</text>
<text x="1012.5" y="298.8" font-size="32.4" text-anchor="end" >6.5</text>
<text x="1012.5" y="178.0" font-size="32.4" text-anchor="end" >7.0</text>
<text x="1228.0" y="618.5" font-size="32.4" text-anchor="middle" >10</text>
<text x="1610.2" y="618.5" font-size="32.4" text-anchor="middle" >100</text>
<text x="1327.5" y="670.0" font-size="32.4" text-anchor="middle" >Temperature (K)</text>
<text transform="translate(945.8,331.3) rotate(-90)" font-size="32.4" text-anchor="middle"><tspan font-style="italic" font-family="Liberation Serif, serif" font-size="48">ρ</tspan><tspan font-style="italic" font-size="22" dy="8">xx</tspan><tspan dy="-8"> (kΩ)</tspan></text>
<text x="1507.5" y="150.5" font-size="32.4" text-anchor="start" >0 T</text>
<text x="1405.0" y="206.1" font-size="32.4" text-anchor="start" ><tspan font-style="italic">V</tspan><tspan font-size="22" dy="8" dx="-1.2">G</tspan><tspan dy="-8" dx="-0.6">-</tspan><tspan font-style="italic" dx="-0.6">V</tspan><tspan font-size="22" dy="8" dx="-1.2">D</tspan><tspan dy="-8"> = <tspan dx="4">20 V</tspan></tspan></text>
<path d="M1062,530.6H1138.3" stroke="#c00010" stroke-width="4.5"/>
<text x="1161.0" y="538.5" font-size="32.4" text-anchor="start" >Kondo fitting</text>
</g>
<g id="pc">
<g fill="#fff" stroke="#0b7d7d" stroke-width="1.25" stroke-linejoin="miter"><path d="M217.4,1033.1l10.8,19.0h-21.5z"/><path d="M222.9,1034.9l10.8,19.0h-21.5z"/><path d="M226.1,1035.9l10.8,19.0h-21.5z"/><path d="M230.8,1031.5l10.8,19.0h-21.5z"/><path d="M234.6,1031.6l10.8,19.0h-21.5z"/><path d="M238.0,1031.6l10.8,19.0h-21.5z"/><path d="M240.2,1031.8l10.8,19.0h-21.5z"/><path d="M244.7,1031.7l10.8,19.0h-21.5z"/><path d="M248.6,1032.5l10.8,19.0h-21.5z"/><path d="M253.3,1033.7l10.8,19.0h-21.5z"/><path d="M255.9,1030.8l10.8,19.0h-21.5z"/><path d="M261.5,1030.6l10.8,19.0h-21.5z"/><path d="M263.4,1030.2l10.8,19.0h-21.5z"/><path d="M266.0,1033.8l10.8,19.0h-21.5z"/><path d="M270.0,1034.1l10.8,19.0h-21.5z"/><path d="M272.2,1030.7l10.8,19.0h-21.5z"/><path d="M274.8,1030.7l10.8,19.0h-21.5z"/><path d="M278.2,1032.9l10.8,19.0h-21.5z"/><path d="M282.3,1034.2l10.8,19.0h-21.5z"/><path d="M286.6,1034.3l10.8,19.0h-21.5z"/><path d="M289.1,1033.4l10.8,19.0h-21.5z"/><path d="M292.6,1034.2l10.8,19.0h-21.5z"/><path d="M294.2,1033.9l10.8,19.0h-21.5z"/><path d="M298.3,1033.1l10.8,19.0h-21.5z"/><path d="M301.6,1036.2l10.8,19.0h-21.5z"/><path d="M305.5,1034.2l10.8,19.0h-21.5z"/><path d="M307.5,1033.1l10.8,19.0h-21.5z"/><path d="M310.2,1034.1l10.8,19.0h-21.5z"/><path d="M313.5,1033.1l10.8,19.0h-21.5z"/><path d="M314.8,1035.1l10.8,19.0h-21.5z"/><path d="M318.2,1036.7l10.8,19.0h-21.5z"/><path d="M321.3,1034.2l10.8,19.0h-21.5z"/><path d="M324.4,1037.4l10.8,19.0h-21.5z"/><path d="M326.0,1038.7l10.8,19.0h-21.5z"/><path d="M329.1,1037.0l10.8,19.0h-21.5z"/><path d="M331.6,1035.5l10.8,19.0h-21.5z"/><path d="M333.0,1036.0l10.8,19.0h-21.5z"/><path d="M334.5,1036.8l10.8,19.0h-21.5z"/><path d="M337.5,1036.1l10.8,19.0h-21.5z"/><path d="M339.5,1036.4l10.8,19.0h-21.5z"/><path d="M341.2,1037.8l10.8,19.0h-21.5z"/><path d="M343.1,1038.2l10.8,19.0h-21.5z"/><path d="M345.6,1039.5l10.8,19.0h-21.5z"/><path d="M346.9,1037.5l10.8,19.0h-21.5z"/><path d="M348.3,1041.4l10.8,19.0h-21.5z"/><path d="M350.7,1040.8l10.8,19.0h-21.5z"/><path d="M353.5,1041.0l10.8,19.0h-21.5z"/><path d="M355.8,1039.6l10.8,19.0h-21.5z"/><path d="M358.6,1042.9l10.8,19.0h-21.5z"/><path d="M360.1,1040.7l10.8,19.0h-21.5z"/><path d="M361.7,1043.6l10.8,19.0h-21.5z"/><path d="M363.4,1043.0l10.8,19.0h-21.5z"/><path d="M365.0,1040.9l10.8,19.0h-21.5z"/><path d="M366.4,1041.7l10.8,19.0h-21.5z"/><path d="M368.7,1044.9l10.8,19.0h-21.5z"/><path d="M370.1,1044.1l10.8,19.0h-21.5z"/><path d="M371.8,1043.1l10.8,19.0h-21.5z"/><path d="M373.5,1043.9l10.8,19.0h-21.5z"/><path d="M376.1,1044.4l10.8,19.0h-21.5z"/><path d="M377.5,1043.5l10.8,19.0h-21.5z"/><path d="M379.5,1044.6l10.8,19.0h-21.5z"/><path d="M380.9,1044.4l10.8,19.0h-21.5z"/><path d="M383.0,1045.1l10.8,19.0h-21.5z"/><path d="M384.5,1046.5l10.8,19.0h-21.5z"/><path d="M385.3,1045.0l10.8,19.0h-21.5z"/><path d="M387.0,1047.4l10.8,19.0h-21.5z"/><path d="M388.3,1046.9l10.8,19.0h-21.5z"/><path d="M389.5,1048.0l10.8,19.0h-21.5z"/><path d="M390.7,1048.5l10.8,19.0h-21.5z"/><path d="M391.5,1049.1l10.8,19.0h-21.5z"/><path d="M393.4,1048.8l10.8,19.0h-21.5z"/><path d="M395.0,1049.3l10.8,19.0h-21.5z"/><path d="M396.7,1048.6l10.8,19.0h-21.5z"/><path d="M398.3,1049.9l10.8,19.0h-21.5z"/><path d="M399.6,1048.5l10.8,19.0h-21.5z"/><path d="M401.0,1049.6l10.8,19.0h-21.5z"/><path d="M402.4,1051.2l10.8,19.0h-21.5z"/><path d="M404.4,1050.7l10.8,19.0h-21.5z"/><path d="M405.6,1051.7l10.8,19.0h-21.5z"/><path d="M406.5,1050.1l10.8,19.0h-21.5z"/><path d="M407.4,1053.2l10.8,19.0h-21.5z"/><path d="M408.5,1051.2l10.8,19.0h-21.5z"/><path d="M410.0,1052.8l10.8,19.0h-21.5z"/><path d="M411.5,1052.7l10.8,19.0h-21.5z"/><path d="M413.1,1054.3l10.8,19.0h-21.5z"/><path d="M414.7,1053.2l10.8,19.0h-21.5z"/><path d="M415.4,1052.7l10.8,19.0h-21.5z"/><path d="M416.6,1052.0l10.8,19.0h-21.5z"/><path d="M417.7,1054.2l10.8,19.0h-21.5z"/><path d="M418.5,1053.4l10.8,19.0h-21.5z"/><path d="M419.9,1055.7l10.8,19.0h-21.5z"/><path d="M421.5,1057.2l10.8,19.0h-21.5z"/><path d="M422.2,1053.4l10.8,19.0h-21.5z"/><path d="M423.5,1054.8l10.8,19.0h-21.5z"/><path d="M424.3,1056.8l10.8,19.0h-21.5z"/><path d="M425.9,1058.3l10.8,19.0h-21.5z"/><path d="M427.2,1057.7l10.8,19.0h-21.5z"/><path d="M427.9,1057.9l10.8,19.0h-21.5z"/><path d="M429.1,1058.5l10.8,19.0h-21.5z"/><path d="M430.0,1058.8l10.8,19.0h-21.5z"/><path d="M430.8,1060.3l10.8,19.0h-21.5z"/><path d="M432.2,1059.6l10.8,19.0h-21.5z"/><path d="M433.3,1057.9l10.8,19.0h-21.5z"/><path d="M434.9,1059.3l10.8,19.0h-21.5z"/><path d="M436.6,1060.5l10.8,19.0h-21.5z"/><path d="M438.1,1060.0l10.8,19.0h-21.5z"/><path d="M439.1,1060.9l10.8,19.0h-21.5z"/><path d="M440.7,1061.2l10.8,19.0h-21.5z"/><path d="M441.3,1061.2l10.8,19.0h-21.5z"/><path d="M442.7,1063.1l10.8,19.0h-21.5z"/><path d="M443.7,1062.3l10.8,19.0h-21.5z"/><path d="M445.2,1062.1l10.8,19.0h-21.5z"/><path d="M445.7,1062.7l10.8,19.0h-21.5z"/><path d="M446.9,1063.8l10.8,19.0h-21.5z"/><path d="M447.5,1066.2l10.8,19.0h-21.5z"/><path d="M448.3,1064.6l10.8,19.0h-21.5z"/><path d="M449.5,1066.2l10.8,19.0h-21.5z"/><path d="M450.1,1065.4l10.8,19.0h-21.5z"/><path d="M451.4,1063.2l10.8,19.0h-21.5z"/><path d="M452.4,1066.1l10.8,19.0h-21.5z"/><path d="M453.2,1065.2l10.8,19.0h-21.5z"/><path d="M454.2,1065.1l10.8,19.0h-21.5z"/><path d="M455.2,1065.7l10.8,19.0h-21.5z"/><path d="M455.7,1068.7l10.8,19.0h-21.5z"/><path d="M456.9,1065.8l10.8,19.0h-21.5z"/><path d="M458.1,1067.2l10.8,19.0h-21.5z"/><path d="M459.5,1069.5l10.8,19.0h-21.5z"/><path d="M460.9,1069.5l10.8,19.0h-21.5z"/><path d="M461.8,1067.5l10.8,19.0h-21.5z"/><path d="M462.9,1069.5l10.8,19.0h-21.5z"/><path d="M463.9,1069.5l10.8,19.0h-21.5z"/><path d="M464.5,1070.0l10.8,19.0h-21.5z"/><path d="M465.6,1071.3l10.8,19.0h-21.5z"/><path d="M466.3,1070.4l10.8,19.0h-21.5z"/><path d="M467.2,1070.9l10.8,19.0h-21.5z"/><path d="M468.2,1073.0l10.8,19.0h-21.5z"/><path d="M469.2,1070.3l10.8,19.0h-21.5z"/><path d="M469.9,1071.9l10.8,19.0h-21.5z"/><path d="M471.1,1073.2l10.8,19.0h-21.5z"/><path d="M471.7,1071.8l10.8,19.0h-21.5z"/><path d="M472.7,1072.8l10.8,19.0h-21.5z"/><path d="M473.3,1072.4l10.8,19.0h-21.5z"/><path d="M474.6,1074.2l10.8,19.0h-21.5z"/><path d="M475.8,1074.0l10.8,19.0h-21.5z"/><path d="M476.9,1075.7l10.8,19.0h-21.5z"/><path d="M478.1,1076.4l10.8,19.0h-21.5z"/><path d="M479.2,1076.0l10.8,19.0h-21.5z"/><path d="M480.2,1076.0l10.8,19.0h-21.5z"/><path d="M481.2,1077.0l10.8,19.0h-21.5z"/><path d="M482.4,1077.3l10.8,19.0h-21.5z"/><path d="M483.0,1076.5l10.8,19.0h-21.5z"/><path d="M484.1,1078.9l10.8,19.0h-21.5z"/><path d="M484.6,1078.4l10.8,19.0h-21.5z"/><path d="M485.4,1079.2l10.8,19.0h-21.5z"/><path d="M486.1,1077.6l10.8,19.0h-21.5z"/><path d="M487.0,1079.9l10.8,19.0h-21.5z"/><path d="M488.0,1081.4l10.8,19.0h-21.5z"/><path d="M489.1,1080.6l10.8,19.0h-21.5z"/><path d="M490.2,1079.3l10.8,19.0h-21.5z"/><path d="M490.6,1080.7l10.8,19.0h-21.5z"/><path d="M491.1,1080.9l10.8,19.0h-21.5z"/><path d="M491.6,1081.3l10.8,19.0h-21.5z"/><path d="M492.5,1081.3l10.8,19.0h-21.5z"/><path d="M493.2,1082.2l10.8,19.0h-21.5z"/><path d="M494.3,1081.9l10.8,19.0h-21.5z"/><path d="M494.9,1082.7l10.8,19.0h-21.5z"/><path d="M496.0,1082.4l10.8,19.0h-21.5z"/><path d="M497.0,1083.5l10.8,19.0h-21.5z"/><path d="M497.9,1084.6l10.8,19.0h-21.5z"/><path d="M498.8,1083.8l10.8,19.0h-21.5z"/><path d="M499.8,1085.2l10.8,19.0h-21.5z"/><path d="M500.4,1084.2l10.8,19.0h-21.5z"/><path d="M501.4,1085.0l10.8,19.0h-21.5z"/><path d="M502.4,1085.6l10.8,19.0h-21.5z"/><path d="M503.2,1087.1l10.8,19.0h-21.5z"/><path d="M504.1,1085.9l10.8,19.0h-21.5z"/><path d="M504.6,1087.7l10.8,19.0h-21.5z"/><path d="M505.3,1085.9l10.8,19.0h-21.5z"/><path d="M506.1,1087.3l10.8,19.0h-21.5z"/><path d="M506.7,1088.4l10.8,19.0h-21.5z"/><path d="M507.1,1088.4l10.8,19.0h-21.5z"/><path d="M508.1,1087.5l10.8,19.0h-21.5z"/><path d="M509.0,1087.8l10.8,19.0h-21.5z"/><path d="M509.6,1089.7l10.8,19.0h-21.5z"/><path d="M510.4,1088.4l10.8,19.0h-21.5z"/><path d="M511.1,1090.1l10.8,19.0h-21.5z"/><path d="M512.1,1089.7l10.8,19.0h-21.5z"/><path d="M512.9,1090.5l10.8,19.0h-21.5z"/><path d="M513.7,1092.6l10.8,19.0h-21.5z"/><path d="M514.6,1092.4l10.8,19.0h-21.5z"/><path d="M515.0,1092.1l10.8,19.0h-21.5z"/><path d="M515.7,1090.8l10.8,19.0h-21.5z"/><path d="M516.7,1092.5l10.8,19.0h-21.5z"/><path d="M517.6,1092.7l10.8,19.0h-21.5z"/><path d="M518.5,1093.0l10.8,19.0h-21.5z"/><path d="M518.9,1094.3l10.8,19.0h-21.5z"/><path d="M519.8,1092.4l10.8,19.0h-21.5z"/><path d="M520.3,1094.1l10.8,19.0h-21.5z"/><path d="M521.2,1094.4l10.8,19.0h-21.5z"/><path d="M522.0,1094.2l10.8,19.0h-21.5z"/><path d="M522.6,1096.2l10.8,19.0h-21.5z"/><path d="M523.3,1094.4l10.8,19.0h-21.5z"/><path d="M523.9,1095.6l10.8,19.0h-21.5z"/><path d="M524.8,1096.1l10.8,19.0h-21.5z"/><path d="M525.5,1094.8l10.8,19.0h-21.5z"/><path d="M525.8,1095.5l10.8,19.0h-21.5z"/><path d="M526.5,1096.2l10.8,19.0h-21.5z"/><path d="M526.8,1097.5l10.8,19.0h-21.5z"/><path d="M527.2,1097.8l10.8,19.0h-21.5z"/><path d="M527.8,1097.9l10.8,19.0h-21.5z"/><path d="M528.4,1097.9l10.8,19.0h-21.5z"/><path d="M528.8,1096.4l10.8,19.0h-21.5z"/><path d="M529.3,1098.3l10.8,19.0h-21.5z"/><path d="M529.8,1098.1l10.8,19.0h-21.5z"/><path d="M530.2,1099.5l10.8,19.0h-21.5z"/><path d="M530.8,1099.8l10.8,19.0h-21.5z"/><path d="M531.1,1100.6l10.8,19.0h-21.5z"/><path d="M531.5,1099.7l10.8,19.0h-21.5z"/><path d="M531.9,1100.0l10.8,19.0h-21.5z"/><path d="M532.6,1099.1l10.8,19.0h-21.5z"/><path d="M533.5,1100.3l10.8,19.0h-21.5z"/><path d="M534.3,1099.8l10.8,19.0h-21.5z"/><path d="M534.6,1101.4l10.8,19.0h-21.5z"/><path d="M535.4,1100.3l10.8,19.0h-21.5z"/><path d="M536.2,1101.4l10.8,19.0h-21.5z"/><path d="M536.9,1101.4l10.8,19.0h-21.5z"/><path d="M537.7,1102.0l10.8,19.0h-21.5z"/><path d="M538.1,1102.8l10.8,19.0h-21.5z"/><path d="M538.7,1102.4l10.8,19.0h-21.5z"/><path d="M539.2,1103.2l10.8,19.0h-21.5z"/><path d="M539.5,1102.5l10.8,19.0h-21.5z"/><path d="M540.1,1104.4l10.8,19.0h-21.5z"/><path d="M540.6,1103.3l10.8,19.0h-21.5z"/><path d="M541.4,1104.8l10.8,19.0h-21.5z"/><path d="M542.0,1105.8l10.8,19.0h-21.5z"/><path d="M542.8,1103.3l10.8,19.0h-21.5z"/><path d="M543.1,1104.3l10.8,19.0h-21.5z"/><path d="M543.8,1105.2l10.8,19.0h-21.5z"/><path d="M544.4,1106.4l10.8,19.0h-21.5z"/><path d="M544.8,1105.5l10.8,19.0h-21.5z"/><path d="M545.3,1106.3l10.8,19.0h-21.5z"/><path d="M545.9,1105.9l10.8,19.0h-21.5z"/><path d="M546.4,1107.0l10.8,19.0h-21.5z"/><path d="M546.9,1106.1l10.8,19.0h-21.5z"/><path d="M547.5,1107.7l10.8,19.0h-21.5z"/><path d="M548.3,1105.7l10.8,19.0h-21.5z"/><path d="M548.7,1106.6l10.8,19.0h-21.5z"/><path d="M549.4,1109.3l10.8,19.0h-21.5z"/><path d="M549.8,1108.4l10.8,19.0h-21.5z"/><path d="M550.2,1108.0l10.8,19.0h-21.5z"/><path d="M550.8,1110.2l10.8,19.0h-21.5z"/><path d="M551.2,1109.7l10.8,19.0h-21.5z"/><path d="M551.5,1109.9l10.8,19.0h-21.5z"/><path d="M551.9,1109.2l10.8,19.0h-21.5z"/><path d="M552.7,1110.2l10.8,19.0h-21.5z"/><path d="M553.1,1110.4l10.8,19.0h-21.5z"/><path d="M553.9,1109.5l10.8,19.0h-21.5z"/><path d="M554.4,1111.1l10.8,19.0h-21.5z"/><path d="M555.2,1111.0l10.8,19.0h-21.5z"/><path d="M555.6,1112.1l10.8,19.0h-21.5z"/><path d="M556.4,1112.5l10.8,19.0h-21.5z"/><path d="M556.9,1111.6l10.8,19.0h-21.5z"/><path d="M557.3,1111.9l10.8,19.0h-21.5z"/><path d="M557.6,1112.5l10.8,19.0h-21.5z"/><path d="M557.9,1112.9l10.8,19.0h-21.5z"/><path d="M558.5,1112.6l10.8,19.0h-21.5z"/><path d="M558.9,1113.0l10.8,19.0h-21.5z"/><path d="M559.6,1113.8l10.8,19.0h-21.5z"/><path d="M559.9,1113.9l10.8,19.0h-21.5z"/><path d="M560.7,1114.7l10.8,19.0h-21.5z"/><path d="M561.0,1114.3l10.8,19.0h-21.5z"/><path d="M561.4,1113.8l10.8,19.0h-21.5z"/><path d="M561.8,1113.5l10.8,19.0h-21.5z"/><path d="M562.2,1115.3l10.8,19.0h-21.5z"/><path d="M562.6,1114.8l10.8,19.0h-21.5z"/><path d="M563.3,1115.1l10.8,19.0h-21.5z"/><path d="M563.5,1115.3l10.8,19.0h-21.5z"/><path d="M563.9,1114.7l10.8,19.0h-21.5z"/><path d="M564.2,1115.6l10.8,19.0h-21.5z"/><path d="M564.7,1114.5l10.8,19.0h-21.5z"/><path d="M565.3,1116.2l10.8,19.0h-21.5z"/><path d="M565.7,1116.1l10.8,19.0h-21.5z"/><path d="M566.0,1117.9l10.8,19.0h-21.5z"/><path d="M566.7,1117.4l10.8,19.0h-21.5z"/><path d="M567.0,1117.2l10.8,19.0h-21.5z"/><path d="M567.3,1117.6l10.8,19.0h-21.5z"/><path d="M567.9,1118.2l10.8,19.0h-21.5z"/><path d="M568.4,1117.6l10.8,19.0h-21.5z"/><path d="M568.8,1118.1l10.8,19.0h-21.5z"/><path d="M569.4,1118.4l10.8,19.0h-21.5z"/><path d="M569.7,1120.2l10.8,19.0h-21.5z"/><path d="M570.3,1119.1l10.8,19.0h-21.5z"/><path d="M570.8,1118.2l10.8,19.0h-21.5z"/><path d="M571.5,1120.2l10.8,19.0h-21.5z"/><path d="M572.0,1121.5l10.8,19.0h-21.5z"/><path d="M572.5,1119.7l10.8,19.0h-21.5z"/><path d="M573.1,1122.6l10.8,19.0h-21.5z"/><path d="M573.6,1120.8l10.8,19.0h-21.5z"/><path d="M573.9,1121.6l10.8,19.0h-21.5z"/><path d="M574.3,1120.9l10.8,19.0h-21.5z"/><path d="M574.8,1121.3l10.8,19.0h-21.5z"/><path d="M575.5,1121.1l10.8,19.0h-21.5z"/><path d="M576.0,1121.5l10.8,19.0h-21.5z"/><path d="M576.6,1121.2l10.8,19.0h-21.5z"/><path d="M577.0,1123.3l10.8,19.0h-21.5z"/><path d="M577.2,1122.1l10.8,19.0h-21.5z"/><path d="M577.4,1123.1l10.8,19.0h-21.5z"/><path d="M577.8,1123.3l10.8,19.0h-21.5z"/><path d="M578.1,1122.9l10.8,19.0h-21.5z"/><path d="M578.7,1123.6l10.8,19.0h-21.5z"/><path d="M579.2,1123.8l10.8,19.0h-21.5z"/><path d="M579.8,1123.9l10.8,19.0h-21.5z"/><path d="M580.3,1124.5l10.8,19.0h-21.5z"/><path d="M580.9,1124.8l10.8,19.0h-21.5z"/><path d="M581.4,1124.5l10.8,19.0h-21.5z"/><path d="M581.8,1124.6l10.8,19.0h-21.5z"/><path d="M582.2,1125.0l10.8,19.0h-21.5z"/><path d="M582.4,1125.7l10.8,19.0h-21.5z"/><path d="M583.0,1126.8l10.8,19.0h-21.5z"/><path d="M583.4,1127.0l10.8,19.0h-21.5z"/><path d="M583.8,1126.6l10.8,19.0h-21.5z"/><path d="M584.1,1127.1l10.8,19.0h-21.5z"/><path d="M584.7,1126.9l10.8,19.0h-21.5z"/><path d="M585.3,1127.9l10.8,19.0h-21.5z"/><path d="M585.7,1127.5l10.8,19.0h-21.5z"/><path d="M586.3,1128.0l10.8,19.0h-21.5z"/><path d="M586.8,1127.8l10.8,19.0h-21.5z"/><path d="M587.1,1128.2l10.8,19.0h-21.5z"/><path d="M587.4,1129.5l10.8,19.0h-21.5z"/><path d="M587.9,1128.0l10.8,19.0h-21.5z"/><path d="M588.5,1129.0l10.8,19.0h-21.5z"/><path d="M589.0,1128.9l10.8,19.0h-21.5z"/><path d="M589.6,1130.2l10.8,19.0h-21.5z"/><path d="M590.1,1130.9l10.8,19.0h-21.5z"/><path d="M590.5,1129.9l10.8,19.0h-21.5z"/><path d="M590.9,1128.7l10.8,19.0h-21.5z"/><path d="M591.5,1131.0l10.8,19.0h-21.5z"/><path d="M591.8,1131.2l10.8,19.0h-21.5z"/><path d="M592.1,1130.0l10.8,19.0h-21.5z"/><path d="M592.5,1131.1l10.8,19.0h-21.5z"/><path d="M593.1,1131.5l10.8,19.0h-21.5z"/><path d="M593.7,1130.5l10.8,19.0h-21.5z"/><path d="M594.1,1132.5l10.8,19.0h-21.5z"/><path d="M594.7,1132.6l10.8,19.0h-21.5z"/><path d="M595.2,1132.8l10.8,19.0h-21.5z"/><path d="M595.7,1132.4l10.8,19.0h-21.5z"/><path d="M596.1,1132.8l10.8,19.0h-21.5z"/><path d="M596.7,1133.2l10.8,19.0h-21.5z"/><path d="M597.2,1134.1l10.8,19.0h-21.5z"/><path d="M597.5,1133.4l10.8,19.0h-21.5z"/><path d="M598.0,1135.1l10.8,19.0h-21.5z"/><path d="M598.5,1134.8l10.8,19.0h-21.5z"/><path d="M598.9,1133.5l10.8,19.0h-21.5z"/><path d="M599.2,1135.9l10.8,19.0h-21.5z"/><path d="M599.5,1135.2l10.8,19.0h-21.5z"/><path d="M599.8,1135.0l10.8,19.0h-21.5z"/><path d="M600.0,1135.5l10.8,19.0h-21.5z"/><path d="M600.4,1134.6l10.8,19.0h-21.5z"/><path d="M600.7,1135.9l10.8,19.0h-21.5z"/><path d="M601.0,1134.6l10.8,19.0h-21.5z"/><path d="M601.5,1135.7l10.8,19.0h-21.5z"/><path d="M602.0,1137.3l10.8,19.0h-21.5z"/><path d="M602.6,1137.5l10.8,19.0h-21.5z"/><path d="M603.0,1136.9l10.8,19.0h-21.5z"/><path d="M603.5,1136.8l10.8,19.0h-21.5z"/><path d="M603.9,1138.1l10.8,19.0h-21.5z"/><path d="M604.3,1137.8l10.8,19.0h-21.5z"/><path d="M604.7,1138.1l10.8,19.0h-21.5z"/><path d="M605.1,1138.6l10.8,19.0h-21.5z"/><path d="M605.4,1137.8l10.8,19.0h-21.5z"/><path d="M605.8,1139.1l10.8,19.0h-21.5z"/><path d="M606.1,1137.7l10.8,19.0h-21.5z"/><path d="M606.5,1139.9l10.8,19.0h-21.5z"/><path d="M606.9,1138.4l10.8,19.0h-21.5z"/><path d="M607.4,1139.2l10.8,19.0h-21.5z"/><path d="M607.9,1139.5l10.8,19.0h-21.5z"/><path d="M608.3,1140.5l10.8,19.0h-21.5z"/><path d="M608.6,1140.7l10.8,19.0h-21.5z"/><path d="M608.9,1140.6l10.8,19.0h-21.5z"/><path d="M609.3,1140.9l10.8,19.0h-21.5z"/><path d="M609.5,1141.0l10.8,19.0h-21.5z"/><path d="M610.0,1141.0l10.8,19.0h-21.5z"/><path d="M610.5,1140.3l10.8,19.0h-21.5z"/><path d="M611.0,1140.3l10.8,19.0h-21.5z"/><path d="M611.4,1140.6l10.8,19.0h-21.5z"/><path d="M611.8,1142.0l10.8,19.0h-21.5z"/><path d="M612.2,1142.2l10.8,19.0h-21.5z"/><path d="M612.7,1142.5l10.8,19.0h-21.5z"/><path d="M613.2,1143.0l10.8,19.0h-21.5z"/><path d="M613.6,1143.0l10.8,19.0h-21.5z"/><path d="M614.0,1142.8l10.8,19.0h-21.5z"/><path d="M614.2,1142.6l10.8,19.0h-21.5z"/><path d="M614.6,1142.6l10.8,19.0h-21.5z"/><path d="M614.9,1144.5l10.8,19.0h-21.5z"/><path d="M615.2,1144.5l10.8,19.0h-21.5z"/><path d="M615.7,1143.5l10.8,19.0h-21.5z"/><path d="M616.2,1144.4l10.8,19.0h-21.5z"/><path d="M616.7,1145.1l10.8,19.0h-21.5z"/><path d="M617.1,1146.0l10.8,19.0h-21.5z"/><path d="M617.5,1145.0l10.8,19.0h-21.5z"/><path d="M617.8,1145.6l10.8,19.0h-21.5z"/><path d="M618.3,1146.4l10.8,19.0h-21.5z"/><path d="M618.5,1145.0l10.8,19.0h-21.5z"/><path d="M618.8,1145.7l10.8,19.0h-21.5z"/><path d="M619.2,1146.3l10.8,19.0h-21.5z"/><path d="M619.5,1146.1l10.8,19.0h-21.5z"/><path d="M619.9,1147.8l10.8,19.0h-21.5z"/><path d="M620.3,1147.4l10.8,19.0h-21.5z"/><path d="M620.7,1147.3l10.8,19.0h-21.5z"/><path d="M621.1,1146.9l10.8,19.0h-21.5z"/><path d="M621.4,1148.1l10.8,19.0h-21.5z"/><path d="M621.8,1148.1l10.8,19.0h-21.5z"/><path d="M622.1,1147.7l10.8,19.0h-21.5z"/><path d="M622.4,1147.9l10.8,19.0h-21.5z"/><path d="M622.9,1147.6l10.8,19.0h-21.5z"/><path d="M623.1,1148.5l10.8,19.0h-21.5z"/><path d="M623.4,1149.2l10.8,19.0h-21.5z"/><path d="M623.7,1149.5l10.8,19.0h-21.5z"/><path d="M624.1,1149.4l10.8,19.0h-21.5z"/><path d="M624.4,1149.7l10.8,19.0h-21.5z"/><path d="M624.7,1149.1l10.8,19.0h-21.5z"/><path d="M625.0,1149.4l10.8,19.0h-21.5z"/><path d="M625.4,1150.5l10.8,19.0h-21.5z"/><path d="M625.7,1150.3l10.8,19.0h-21.5z"/><path d="M626.1,1149.9l10.8,19.0h-21.5z"/><path d="M626.4,1150.7l10.8,19.0h-21.5z"/><path d="M626.9,1151.2l10.8,19.0h-21.5z"/><path d="M627.3,1151.4l10.8,19.0h-21.5z"/><path d="M627.6,1151.2l10.8,19.0h-21.5z"/><path d="M628.0,1151.1l10.8,19.0h-21.5z"/><path d="M628.2,1151.7l10.8,19.0h-21.5z"/><path d="M628.6,1152.6l10.8,19.0h-21.5z"/><path d="M628.9,1152.0l10.8,19.0h-21.5z"/><path d="M629.3,1151.8l10.8,19.0h-21.5z"/><path d="M629.6,1152.5l10.8,19.0h-21.5z"/><path d="M630.1,1151.9l10.8,19.0h-21.5z"/><path d="M630.3,1152.9l10.8,19.0h-21.5z"/><path d="M630.8,1152.8l10.8,19.0h-21.5z"/><path d="M631.1,1153.7l10.8,19.0h-21.5z"/><path d="M631.5,1153.5l10.8,19.0h-21.5z"/><path d="M631.9,1154.2l10.8,19.0h-21.5z"/><path d="M632.3,1155.1l10.8,19.0h-21.5z"/><path d="M632.6,1153.9l10.8,19.0h-21.5z"/><path d="M632.9,1153.8l10.8,19.0h-21.5z"/><path d="M633.2,1154.6l10.8,19.0h-21.5z"/><path d="M633.4,1154.5l10.8,19.0h-21.5z"/><path d="M633.7,1154.8l10.8,19.0h-21.5z"/><path d="M634.2,1154.7l10.8,19.0h-21.5z"/><path d="M634.6,1155.5l10.8,19.0h-21.5z"/><path d="M635.0,1155.5l10.8,19.0h-21.5z"/><path d="M635.3,1154.5l10.8,19.0h-21.5z"/><path d="M635.5,1155.6l10.8,19.0h-21.5z"/><path d="M635.9,1156.2l10.8,19.0h-21.5z"/><path d="M636.2,1156.8l10.8,19.0h-21.5z"/><path d="M636.5,1156.0l10.8,19.0h-21.5z"/><path d="M636.9,1156.1l10.8,19.0h-21.5z"/><path d="M637.3,1157.4l10.8,19.0h-21.5z"/><path d="M637.7,1156.7l10.8,19.0h-21.5z"/><path d="M638.0,1157.2l10.8,19.0h-21.5z"/><path d="M638.4,1157.7l10.8,19.0h-21.5z"/><path d="M638.8,1158.0l10.8,19.0h-21.5z"/><path d="M639.2,1157.9l10.8,19.0h-21.5z"/><path d="M639.5,1157.5l10.8,19.0h-21.5z"/><path d="M639.8,1158.8l10.8,19.0h-21.5z"/><path d="M640.1,1158.2l10.8,19.0h-21.5z"/><path d="M640.5,1158.4l10.8,19.0h-21.5z"/><path d="M640.9,1160.0l10.8,19.0h-21.5z"/><path d="M641.2,1159.5l10.8,19.0h-21.5z"/><path d="M641.5,1158.7l10.8,19.0h-21.5z"/><path d="M641.9,1159.2l10.8,19.0h-21.5z"/><path d="M642.2,1159.5l10.8,19.0h-21.5z"/><path d="M642.6,1159.5l10.8,19.0h-21.5z"/><path d="M642.9,1159.0l10.8,19.0h-21.5z"/><path d="M643.2,1160.6l10.8,19.0h-21.5z"/><path d="M643.5,1160.8l10.8,19.0h-21.5z"/><path d="M643.8,1160.7l10.8,19.0h-21.5z"/><path d="M644.2,1160.6l10.8,19.0h-21.5z"/><path d="M644.6,1161.2l10.8,19.0h-21.5z"/><path d="M645.0,1161.6l10.8,19.0h-21.5z"/><path d="M645.3,1160.9l10.8,19.0h-21.5z"/><path d="M645.6,1161.4l10.8,19.0h-21.5z"/><path d="M645.9,1161.5l10.8,19.0h-21.5z"/><path d="M646.2,1162.4l10.8,19.0h-21.5z"/><path d="M646.6,1162.3l10.8,19.0h-21.5z"/><path d="M646.9,1161.7l10.8,19.0h-21.5z"/><path d="M647.2,1162.3l10.8,19.0h-21.5z"/><path d="M647.6,1163.7l10.8,19.0h-21.5z"/><path d="M648.0,1162.6l10.8,19.0h-21.5z"/><path d="M648.3,1163.3l10.8,19.0h-21.5z"/><path d="M648.6,1163.1l10.8,19.0h-21.5z"/><path d="M648.9,1164.2l10.8,19.0h-21.5z"/><path d="M649.2,1163.7l10.8,19.0h-21.5z"/><path d="M649.6,1163.7l10.8,19.0h-21.5z"/><path d="M649.9,1163.5l10.8,19.0h-21.5z"/><path d="M650.1,1164.2l10.8,19.0h-21.5z"/><path d="M650.5,1164.9l10.8,19.0h-21.5z"/><path d="M650.9,1165.1l10.8,19.0h-21.5z"/><path d="M651.2,1164.2l10.8,19.0h-21.5z"/><path d="M651.6,1165.9l10.8,19.0h-21.5z"/><path d="M651.9,1165.2l10.8,19.0h-21.5z"/><path d="M652.2,1165.0l10.8,19.0h-21.5z"/><path d="M652.5,1165.7l10.8,19.0h-21.5z"/><path d="M652.8,1165.5l10.8,19.0h-21.5z"/><path d="M653.0,1165.7l10.8,19.0h-21.5z"/><path d="M653.3,1165.8l10.8,19.0h-21.5z"/><path d="M653.6,1166.3l10.8,19.0h-21.5z"/><path d="M653.9,1166.3l10.8,19.0h-21.5z"/><path d="M654.2,1165.8l10.8,19.0h-21.5z"/><path d="M654.6,1167.1l10.8,19.0h-21.5z"/><path d="M654.9,1166.8l10.8,19.0h-21.5z"/><path d="M655.2,1167.9l10.8,19.0h-21.5z"/><path d="M655.6,1167.7l10.8,19.0h-21.5z"/><path d="M655.8,1167.9l10.8,19.0h-21.5z"/><path d="M656.1,1167.9l10.8,19.0h-21.5z"/><path d="M656.4,1168.6l10.8,19.0h-21.5z"/><path d="M656.7,1168.0l10.8,19.0h-21.5z"/><path d="M657.0,1167.8l10.8,19.0h-21.5z"/><path d="M657.4,1168.7l10.8,19.0h-21.5z"/><path d="M657.7,1167.4l10.8,19.0h-21.5z"/><path d="M657.9,1168.7l10.8,19.0h-21.5z"/><path d="M658.3,1169.2l10.8,19.0h-21.5z"/><path d="M658.6,1169.0l10.8,19.0h-21.5z"/><path d="M658.9,1170.0l10.8,19.0h-21.5z"/><path d="M659.2,1170.0l10.8,19.0h-21.5z"/><path d="M659.6,1169.9l10.8,19.0h-21.5z"/><path d="M660.0,1169.9l10.8,19.0h-21.5z"/><path d="M660.3,1170.8l10.8,19.0h-21.5z"/><path d="M660.7,1170.1l10.8,19.0h-21.5z"/><path d="M661.0,1170.4l10.8,19.0h-21.5z"/><path d="M661.3,1171.2l10.8,19.0h-21.5z"/><path d="M661.7,1171.4l10.8,19.0h-21.5z"/><path d="M662.0,1172.3l10.8,19.0h-21.5z"/><path d="M662.4,1171.4l10.8,19.0h-21.5z"/><path d="M662.6,1170.7l10.8,19.0h-21.5z"/><path d="M663.0,1172.1l10.8,19.0h-21.5z"/><path d="M663.2,1172.6l10.8,19.0h-21.5z"/><path d="M663.5,1172.0l10.8,19.0h-21.5z"/><path d="M663.8,1173.1l10.8,19.0h-21.5z"/><path d="M664.1,1173.4l10.8,19.0h-21.5z"/><path d="M664.4,1172.3l10.8,19.0h-21.5z"/><path d="M664.7,1172.6l10.8,19.0h-21.5z"/><path d="M665.0,1172.4l10.8,19.0h-21.5z"/><path d="M665.4,1173.5l10.8,19.0h-21.5z"/><path d="M665.7,1173.8l10.8,19.0h-21.5z"/><path d="M666.1,1173.9l10.8,19.0h-21.5z"/><path d="M666.4,1173.2l10.8,19.0h-21.5z"/><path d="M666.7,1173.7l10.8,19.0h-21.5z"/><path d="M667.0,1173.5l10.8,19.0h-21.5z"/><path d="M667.4,1173.6l10.8,19.0h-21.5z"/><path d="M667.7,1173.9l10.8,19.0h-21.5z"/><path d="M668.0,1174.0l10.8,19.0h-21.5z"/><path d="M668.3,1174.9l10.8,19.0h-21.5z"/><path d="M668.6,1175.4l10.8,19.0h-21.5z"/><path d="M668.9,1175.6l10.8,19.0h-21.5z"/><path d="M669.2,1175.5l10.8,19.0h-21.5z"/><path d="M669.4,1175.3l10.8,19.0h-21.5z"/><path d="M669.7,1175.8l10.8,19.0h-21.5z"/><path d="M670.0,1176.2l10.8,19.0h-21.5z"/><path d="M670.3,1176.0l10.8,19.0h-21.5z"/><path d="M670.6,1176.3l10.8,19.0h-21.5z"/><path d="M670.9,1176.3l10.8,19.0h-21.5z"/><path d="M671.2,1176.4l10.8,19.0h-21.5z"/><path d="M671.5,1176.9l10.8,19.0h-21.5z"/><path d="M671.9,1176.5l10.8,19.0h-21.5z"/><path d="M672.2,1177.7l10.8,19.0h-21.5z"/><path d="M672.5,1176.7l10.8,19.0h-21.5z"/><path d="M672.9,1177.9l10.8,19.0h-21.5z"/><path d="M673.2,1177.2l10.8,19.0h-21.5z"/><path d="M673.6,1178.8l10.8,19.0h-21.5z"/><path d="M673.8,1178.6l10.8,19.0h-21.5z"/><path d="M674.1,1178.0l10.8,19.0h-21.5z"/><path d="M674.5,1178.4l10.8,19.0h-21.5z"/><path d="M674.8,1178.2l10.8,19.0h-21.5z"/><path d="M675.1,1178.9l10.8,19.0h-21.5z"/><path d="M675.4,1179.3l10.8,19.0h-21.5z"/><path d="M675.7,1180.5l10.8,19.0h-21.5z"/><path d="M675.9,1178.8l10.8,19.0h-21.5z"/><path d="M676.2,1180.2l10.8,19.0h-21.5z"/><path d="M676.5,1179.5l10.8,19.0h-21.5z"/><path d="M676.9,1180.1l10.8,19.0h-21.5z"/><path d="M677.2,1180.6l10.8,19.0h-21.5z"/><path d="M677.5,1180.6l10.8,19.0h-21.5z"/><path d="M677.8,1180.7l10.8,19.0h-21.5z"/><path d="M678.1,1180.6l10.8,19.0h-21.5z"/><path d="M678.4,1180.9l10.8,19.0h-21.5z"/><path d="M678.7,1181.1l10.8,19.0h-21.5z"/><path d="M679.1,1181.8l10.8,19.0h-21.5z"/><path d="M679.5,1180.8l10.8,19.0h-21.5z"/><path d="M679.8,1181.5l10.8,19.0h-21.5z"/><path d="M680.1,1181.3l10.8,19.0h-21.5z"/><path d="M680.3,1181.6l10.8,19.0h-21.5z"/><path d="M680.6,1181.8l10.8,19.0h-21.5z"/><path d="M680.9,1182.9l10.8,19.0h-21.5z"/><path d="M681.3,1183.6l10.8,19.0h-21.5z"/><path d="M681.6,1183.4l10.8,19.0h-21.5z"/><path d="M681.9,1182.3l10.8,19.0h-21.5z"/><path d="M682.1,1183.1l10.8,19.0h-21.5z"/><path d="M682.4,1182.7l10.8,19.0h-21.5z"/><path d="M682.7,1183.6l10.8,19.0h-21.5z"/><path d="M683.1,1184.2l10.8,19.0h-21.5z"/><path d="M683.4,1184.1l10.8,19.0h-21.5z"/><path d="M683.7,1184.4l10.8,19.0h-21.5z"/><path d="M684.0,1184.1l10.8,19.0h-21.5z"/><path d="M684.3,1183.4l10.8,19.0h-21.5z"/><path d="M684.6,1183.6l10.8,19.0h-21.5z"/><path d="M684.9,1184.7l10.8,19.0h-21.5z"/><path d="M685.1,1185.1l10.8,19.0h-21.5z"/><path d="M685.4,1185.6l10.8,19.0h-21.5z"/><path d="M685.7,1185.0l10.8,19.0h-21.5z"/><path d="M685.9,1185.3l10.8,19.0h-21.5z"/><path d="M686.3,1185.6l10.8,19.0h-21.5z"/><path d="M686.5,1186.1l10.8,19.0h-21.5z"/><path d="M686.9,1185.8l10.8,19.0h-21.5z"/><path d="M687.1,1185.5l10.8,19.0h-21.5z"/><path d="M687.4,1186.6l10.8,19.0h-21.5z"/><path d="M687.7,1186.5l10.8,19.0h-21.5z"/><path d="M687.9,1186.6l10.8,19.0h-21.5z"/><path d="M688.1,1186.0l10.8,19.0h-21.5z"/><path d="M688.4,1186.7l10.8,19.0h-21.5z"/><path d="M688.6,1186.0l10.8,19.0h-21.5z"/><path d="M688.9,1186.1l10.8,19.0h-21.5z"/><path d="M689.3,1187.1l10.8,19.0h-21.5z"/><path d="M689.6,1187.2l10.8,19.0h-21.5z"/><path d="M689.9,1187.9l10.8,19.0h-21.5z"/><path d="M690.1,1188.4l10.8,19.0h-21.5z"/><path d="M690.3,1187.8l10.8,19.0h-21.5z"/><path d="M690.6,1188.8l10.8,19.0h-21.5z"/><path d="M690.9,1187.9l10.8,19.0h-21.5z"/><path d="M691.1,1188.7l10.8,19.0h-21.5z"/><path d="M691.4,1187.9l10.8,19.0h-21.5z"/><path d="M691.7,1188.7l10.8,19.0h-21.5z"/><path d="M692.1,1188.7l10.8,19.0h-21.5z"/><path d="M692.4,1189.0l10.8,19.0h-21.5z"/><path d="M692.6,1189.5l10.8,19.0h-21.5z"/><path d="M692.9,1188.5l10.8,19.0h-21.5z"/><path d="M693.2,1189.6l10.8,19.0h-21.5z"/><path d="M693.5,1189.3l10.8,19.0h-21.5z"/><path d="M693.8,1190.0l10.8,19.0h-21.5z"/><path d="M694.2,1190.3l10.8,19.0h-21.5z"/><path d="M694.4,1190.1l10.8,19.0h-21.5z"/><path d="M694.7,1190.2l10.8,19.0h-21.5z"/><path d="M694.9,1190.0l10.8,19.0h-21.5z"/><path d="M695.2,1190.9l10.8,19.0h-21.5z"/><path d="M695.5,1190.6l10.8,19.0h-21.5z"/><path d="M695.7,1191.2l10.8,19.0h-21.5z"/><path d="M696.1,1190.5l10.8,19.0h-21.5z"/><path d="M696.4,1192.0l10.8,19.0h-21.5z"/><path d="M696.7,1191.1l10.8,19.0h-21.5z"/><path d="M697.1,1192.4l10.8,19.0h-21.5z"/><path d="M697.4,1191.8l10.8,19.0h-21.5z"/><path d="M697.7,1192.4l10.8,19.0h-21.5z"/><path d="M698.0,1192.3l10.8,19.0h-21.5z"/><path d="M698.4,1192.9l10.8,19.0h-21.5z"/><path d="M698.7,1192.7l10.8,19.0h-21.5z"/><path d="M698.9,1193.5l10.8,19.0h-21.5z"/><path d="M699.2,1193.3l10.8,19.0h-21.5z"/><path d="M699.4,1193.5l10.8,19.0h-21.5z"/><path d="M699.7,1194.1l10.8,19.0h-21.5z"/><path d="M699.9,1193.1l10.8,19.0h-21.5z"/><path d="M700.2,1194.2l10.8,19.0h-21.5z"/><path d="M700.4,1193.8l10.8,19.0h-21.5z"/><path d="M700.8,1193.3l10.8,19.0h-21.5z"/><path d="M701.0,1194.3l10.8,19.0h-21.5z"/><path d="M701.4,1194.2l10.8,19.0h-21.5z"/><path d="M701.7,1195.2l10.8,19.0h-21.5z"/><path d="M701.9,1194.4l10.8,19.0h-21.5z"/><path d="M702.2,1194.8l10.8,19.0h-21.5z"/><path d="M702.6,1195.1l10.8,19.0h-21.5z"/><path d="M702.8,1194.3l10.8,19.0h-21.5z"/><path d="M703.1,1195.5l10.8,19.0h-21.5z"/><path d="M703.4,1195.0l10.8,19.0h-21.5z"/><path d="M703.7,1196.3l10.8,19.0h-21.5z"/><path d="M703.9,1196.5l10.8,19.0h-21.5z"/><path d="M704.2,1195.9l10.8,19.0h-21.5z"/><path d="M704.5,1195.4l10.8,19.0h-21.5z"/><path d="M704.9,1196.4l10.8,19.0h-21.5z"/><path d="M705.2,1196.6l10.8,19.0h-21.5z"/><path d="M705.4,1197.0l10.8,19.0h-21.5z"/><path d="M705.7,1196.6l10.8,19.0h-21.5z"/><path d="M706.0,1196.4l10.8,19.0h-21.5z"/><path d="M706.3,1197.1l10.8,19.0h-21.5z"/><path d="M706.7,1197.0l10.8,19.0h-21.5z"/><path d="M707.1,1198.4l10.8,19.0h-21.5z"/><path d="M707.4,1197.5l10.8,19.0h-21.5z"/><path d="M707.6,1197.6l10.8,19.0h-21.5z"/><path d="M707.9,1198.0l10.8,19.0h-21.5z"/><path d="M708.1,1197.6l10.8,19.0h-21.5z"/><path d="M708.3,1198.1l10.8,19.0h-21.5z"/><path d="M708.7,1198.5l10.8,19.0h-21.5z"/><path d="M709.1,1198.5l10.8,19.0h-21.5z"/><path d="M709.4,1198.8l10.8,19.0h-21.5z"/><path d="M709.8,1199.7l10.8,19.0h-21.5z"/><path d="M710.1,1199.6l10.8,19.0h-21.5z"/><path d="M710.5,1199.0l10.8,19.0h-21.5z"/><path d="M710.8,1199.6l10.8,19.0h-21.5z"/><path d="M711.2,1200.3l10.8,19.0h-21.5z"/><path d="M711.4,1199.8l10.8,19.0h-21.5z"/><path d="M711.7,1200.3l10.8,19.0h-21.5z"/><path d="M712.1,1200.5l10.8,19.0h-21.5z"/><path d="M712.3,1200.8l10.8,19.0h-21.5z"/><path d="M712.7,1200.7l10.8,19.0h-21.5z"/><path d="M713.0,1201.0l10.8,19.0h-21.5z"/><path d="M713.4,1200.8l10.8,19.0h-21.5z"/><path d="M713.7,1201.5l10.8,19.0h-21.5z"/><path d="M713.9,1201.1l10.8,19.0h-21.5z"/><path d="M714.2,1202.5l10.8,19.0h-21.5z"/><path d="M714.4,1201.8l10.8,19.0h-21.5z"/><path d="M714.7,1201.9l10.8,19.0h-21.5z"/><path d="M714.9,1202.5l10.8,19.0h-21.5z"/><path d="M715.3,1202.3l10.8,19.0h-21.5z"/><path d="M715.6,1202.6l10.8,19.0h-21.5z"/><path d="M716.0,1202.7l10.8,19.0h-21.5z"/><path d="M716.3,1202.6l10.8,19.0h-21.5z"/><path d="M716.6,1202.7l10.8,19.0h-21.5z"/><path d="M717.0,1203.0l10.8,19.0h-21.5z"/><path d="M717.3,1203.9l10.8,19.0h-21.5z"/><path d="M717.5,1203.3l10.8,19.0h-21.5z"/><path d="M717.7,1203.6l10.8,19.0h-21.5z"/><path d="M718.0,1203.7l10.8,19.0h-21.5z"/><path d="M718.2,1204.3l10.8,19.0h-21.5z"/><path d="M718.5,1205.0l10.8,19.0h-21.5z"/><path d="M718.9,1204.0l10.8,19.0h-21.5z"/><path d="M719.2,1204.8l10.8,19.0h-21.5z"/><path d="M719.5,1204.8l10.8,19.0h-21.5z"/><path d="M719.7,1204.7l10.8,19.0h-21.5z"/><path d="M720.1,1205.3l10.8,19.0h-21.5z"/><path d="M720.3,1204.6l10.8,19.0h-21.5z"/><path d="M720.7,1205.8l10.8,19.0h-21.5z"/><path d="M720.9,1205.6l10.8,19.0h-21.5z"/><path d="M721.2,1205.3l10.8,19.0h-21.5z"/><path d="M721.6,1206.6l10.8,19.0h-21.5z"/><path d="M721.8,1206.4l10.8,19.0h-21.5z"/><path d="M722.1,1206.7l10.8,19.0h-21.5z"/><path d="M722.3,1205.7l10.8,19.0h-21.5z"/><path d="M722.6,1206.4l10.8,19.0h-21.5z"/><path d="M722.8,1206.4l10.8,19.0h-21.5z"/><path d="M723.2,1207.1l10.8,19.0h-21.5z"/><path d="M723.5,1207.6l10.8,19.0h-21.5z"/><path d="M723.7,1206.3l10.8,19.0h-21.5z"/><path d="M724.0,1207.3l10.8,19.0h-21.5z"/><path d="M724.2,1207.4l10.8,19.0h-21.5z"/><path d="M724.6,1208.0l10.8,19.0h-21.5z"/><path d="M724.8,1207.8l10.8,19.0h-21.5z"/><path d="M725.2,1207.4l10.8,19.0h-21.5z"/><path d="M725.4,1208.0l10.8,19.0h-21.5z"/><path d="M725.7,1207.8l10.8,19.0h-21.5z"/><path d="M726.0,1208.1l10.8,19.0h-21.5z"/><path d="M726.3,1208.6l10.8,19.0h-21.5z"/><path d="M726.6,1208.6l10.8,19.0h-21.5z"/><path d="M726.8,1209.0l10.8,19.0h-21.5z"/><path d="M727.2,1208.5l10.8,19.0h-21.5z"/><path d="M727.5,1210.3l10.8,19.0h-21.5z"/><path d="M727.7,1209.9l10.8,19.0h-21.5z"/><path d="M728.0,1209.8l10.8,19.0h-21.5z"/><path d="M728.3,1209.2l10.8,19.0h-21.5z"/><path d="M728.5,1208.9l10.8,19.0h-21.5z"/><path d="M728.7,1209.6l10.8,19.0h-21.5z"/><path d="M729.0,1210.0l10.8,19.0h-21.5z"/><path d="M729.3,1211.2l10.8,19.0h-21.5z"/><path d="M729.5,1211.0l10.8,19.0h-21.5z"/><path d="M729.8,1210.3l10.8,19.0h-21.5z"/><path d="M730.1,1211.2l10.8,19.0h-21.5z"/><path d="M730.4,1211.4l10.8,19.0h-21.5z"/><path d="M730.6,1211.0l10.8,19.0h-21.5z"/><path d="M730.9,1211.7l10.8,19.0h-21.5z"/><path d="M731.1,1211.5l10.8,19.0h-21.5z"/><path d="M731.4,1211.2l10.8,19.0h-21.5z"/><path d="M731.7,1211.2l10.8,19.0h-21.5z"/><path d="M732.0,1211.8l10.8,19.0h-21.5z"/><path d="M732.4,1212.5l10.8,19.0h-21.5z"/><path d="M732.7,1211.6l10.8,19.0h-21.5z"/><path d="M733.0,1211.7l10.8,19.0h-21.5z"/><path d="M733.4,1212.8l10.8,19.0h-21.5z"/><path d="M733.6,1211.6l10.8,19.0h-21.5z"/><path d="M734.0,1213.7l10.8,19.0h-21.5z"/><path d="M734.3,1212.9l10.8,19.0h-21.5z"/><path d="M734.6,1213.6l10.8,19.0h-21.5z"/><path d="M735.0,1214.3l10.8,19.0h-21.5z"/><path d="M735.4,1213.1l10.8,19.0h-21.5z"/><path d="M735.7,1213.5l10.8,19.0h-21.5z"/><path d="M736.0,1215.0l10.8,19.0h-21.5z"/><path d="M736.4,1214.2l10.8,19.0h-21.5z"/><path d="M736.6,1214.4l10.8,19.0h-21.5z"/><path d="M737.0,1214.7l10.8,19.0h-21.5z"/><path d="M737.2,1215.2l10.8,19.0h-21.5z"/><path d="M737.6,1215.5l10.8,19.0h-21.5z"/><path d="M737.9,1215.2l10.8,19.0h-21.5z"/><path d="M738.2,1215.1l10.8,19.0h-21.5z"/><path d="M738.5,1215.5l10.8,19.0h-21.5z"/><path d="M738.8,1215.7l10.8,19.0h-21.5z"/><path d="M739.2,1216.4l10.8,19.0h-21.5z"/><path d="M739.5,1216.1l10.8,19.0h-21.5z"/><path d="M739.8,1216.9l10.8,19.0h-21.5z"/><path d="M740.1,1216.0l10.8,19.0h-21.5z"/><path d="M740.3,1216.7l10.8,19.0h-21.5z"/><path d="M740.5,1217.3l10.8,19.0h-21.5z"/></g>
<clipPath id="cc"><rect x="156.8" y="781.3" width="598.0999999999999" height="481.70000000000005"/></clipPath>
<path clip-path="url(#cc)" d="M248.7,779.0 L249.9,782.4 L251.2,785.7 L252.4,789.0 L253.7,792.3 L255.0,795.6 L256.2,798.8 L257.5,802.1 L258.7,805.2 L260.0,808.4 L261.2,811.5 L262.5,814.6 L263.8,817.7 L265.0,820.8 L266.3,823.8 L267.5,826.8 L268.8,829.8 L270.0,832.8 L271.3,835.7 L272.6,838.6 L273.8,841.5 L275.1,844.3 L276.3,847.2 L277.6,850.0 L278.8,852.8 L280.1,855.5 L281.3,858.3 L282.6,861.0 L283.9,863.7 L285.1,866.4 L286.4,869.0 L287.6,871.6 L288.9,874.2 L290.1,876.8 L291.4,879.4 L292.7,881.9 L293.9,884.4 L295.2,886.9 L296.4,889.4 L297.7,891.8 L298.9,894.3 L300.2,896.7 L301.5,899.1 L302.7,901.4 L304.0,903.8 L305.2,906.1 L306.5,908.4 L307.7,910.7 L309.0,913.0 L310.2,915.2 L311.5,917.4 L312.8,919.6 L314.0,921.8 L315.3,924.0 L316.5,926.1 L317.8,928.3 L319.0,930.4 L320.3,932.5 L321.6,934.5 L322.8,936.6 L324.1,938.6 L325.3,940.6 L326.6,942.6 L327.8,944.6 L329.1,946.6 L330.4,948.5 L331.6,950.5 L332.9,952.4 L334.1,954.3 L335.4,956.2 L336.6,958.0 L337.9,959.9 L339.2,961.7 L340.4,963.5 L341.7,965.3 L342.9,967.1 L344.2,968.9 L345.4,970.6 L346.7,972.4 L347.9,974.1 L349.2,975.8 L350.5,977.5 L351.7,979.2 L353.0,980.8 L354.2,982.5 L355.5,984.1 L356.7,985.7 L358.0,987.3 L359.3,988.9 L360.5,990.5 L361.8,992.1 L363.0,993.6 L364.3,995.2 L365.5,996.7 L366.8,998.2 L368.1,999.7 L369.3,1001.2 L370.6,1002.7 L371.8,1004.1 L373.1,1005.6 L374.3,1007.0 L375.6,1008.5 L376.8,1009.9 L378.1,1011.3 L379.4,1012.7 L380.6,1014.1 L381.9,1015.4 L383.1,1016.8 L384.4,1018.2 L385.6,1019.5 L386.9,1020.8 L388.2,1022.1 L389.4,1023.5 L390.7,1024.8 L391.9,1026.0 L393.2,1027.3 L394.4,1028.6 L395.7,1029.9 L397.0,1031.1 L398.2,1032.4 L399.5,1033.6 L400.7,1034.8 L402.0,1036.0 L403.2,1037.3 L404.5,1038.5 L405.8,1039.7 L407.0,1040.8 L408.3,1042.0 L409.5,1043.2 L410.8,1044.3 L412.0,1045.5 L413.3,1046.6 L414.5,1047.8 L415.8,1048.9 L417.1,1050.0 L418.3,1051.1 L419.6,1052.3 L420.8,1053.4 L422.1,1054.4 L423.3,1055.5 L424.6,1056.6 L425.9,1057.7 L427.1,1058.7 L428.4,1059.8 L429.6,1060.8 L430.9,1061.9 L432.1,1062.9 L433.4,1063.9 L434.7,1064.9 L435.9,1065.9 L437.2,1066.9 L438.4,1067.9 L439.7,1068.9 L440.9,1069.9 L442.2,1070.9 L443.4,1071.8 L444.7,1072.8 L446.0,1073.8 L447.2,1074.7 L448.5,1075.6 L449.7,1076.6 L451.0,1077.5 L452.2,1078.4 L453.5,1079.3 L454.8,1080.2 L456.0,1081.1 L457.3,1082.0 L458.5,1082.9 L459.8,1083.8 L461.0,1084.7 L462.3,1085.6 L463.6,1086.4 L464.8,1087.3 L466.1,1088.1 L467.3,1089.0 L468.6,1089.8 L469.8,1090.7 L471.1,1091.5 L472.4,1092.3 L473.6,1093.1 L474.9,1093.9 L476.1,1094.7 L477.4,1095.5 L478.6,1096.3 L479.9,1097.1 L481.1,1097.9 L482.4,1098.7 L483.7,1099.5 L484.9,1100.2 L486.2,1101.0 L487.4,1101.8 L488.7,1102.5 L489.9,1103.3 L491.2,1104.0 L492.5,1104.7 L493.7,1105.5 L495.0,1106.2 L496.2,1106.9 L497.5,1107.6 L498.7,1108.4 L500.0,1109.1 L501.3,1109.8 L502.5,1110.5 L503.8,1111.2 L505.0,1111.9 L506.3,1112.6 L507.5,1113.2 L508.8,1113.9 L510.0,1114.6 L511.3,1115.3 L512.6,1115.9 L513.8,1116.6 L515.1,1117.2 L516.3,1117.9 L517.6,1118.6 L518.8,1119.2 L520.1,1119.8 L521.4,1120.5 L522.6,1121.1 L523.9,1121.8 L525.1,1122.4 L526.4,1123.0 L527.6,1123.6 L528.9,1124.2 L530.2,1124.9 L531.4,1125.5 L532.7,1126.1 L533.9,1126.7 L535.2,1127.3 L536.4,1127.9 L537.7,1128.5 L539.0,1129.1 L540.2,1129.7 L541.5,1130.2 L542.7,1130.8 L544.0,1131.4 L545.2,1132.0 L546.5,1132.6 L547.7,1133.1 L549.0,1133.7 L550.3,1134.3 L551.5,1134.8 L552.8,1135.4 L554.0,1136.0 L555.3,1136.5 L556.5,1137.1 L557.8,1137.6 L559.1,1138.2 L560.3,1138.7 L561.6,1139.3 L562.8,1139.8 L564.1,1140.3 L565.3,1140.9 L566.6,1141.4 L567.9,1142.0 L569.1,1142.5 L570.4,1143.0 L571.6,1143.6 L572.9,1144.1 L574.1,1144.6 L575.4,1145.1 L576.6,1145.7 L577.9,1146.2 L579.2,1146.7 L580.4,1147.2 L581.7,1147.7 L582.9,1148.3 L584.2,1148.8 L585.4,1149.3 L586.7,1149.8 L588.0,1150.3 L589.2,1150.8 L590.5,1151.3 L591.7,1151.8 L593.0,1152.3 L594.2,1152.8 L595.5,1153.4 L596.8,1153.9 L598.0,1154.4 L599.3,1154.9 L600.5,1155.4 L601.8,1155.9 L603.0,1156.4 L604.3,1156.9 L605.6,1157.4 L606.8,1157.9 L608.1,1158.4 L609.3,1158.9 L610.6,1159.4 L611.8,1159.9 L613.1,1160.4 L614.3,1160.9 L615.6,1161.4 L616.9,1161.9 L618.1,1162.4 L619.4,1162.9 L620.6,1163.4 L621.9,1163.9 L623.1,1164.4 L624.4,1164.9" fill="none" stroke="#5e0a96" stroke-width="4.6" stroke-dasharray="18,7,3.2,7" stroke-dashoffset="-4"/>
<path d="M217.4,1043.9 L219.2,1043.8 L220.9,1043.7 L222.7,1043.6 L224.4,1043.5 L226.2,1043.4 L227.9,1043.4 L229.7,1043.3 L231.4,1043.2 L233.2,1043.2 L234.9,1043.1 L236.7,1043.1 L238.4,1043.0 L240.2,1043.0 L241.9,1042.9 L243.7,1042.9 L245.4,1042.9 L247.2,1042.8 L248.9,1042.8 L250.7,1042.8 L252.4,1042.8 L254.2,1042.8 L255.9,1042.8 L257.7,1042.8 L259.4,1042.8 L261.2,1042.8 L262.9,1042.8 L264.7,1042.8 L266.4,1042.9 L268.2,1042.9 L269.9,1042.9 L271.7,1043.0 L273.4,1043.0 L275.2,1043.0 L276.9,1043.1 L278.7,1043.2 L280.4,1043.2 L282.2,1043.3 L283.9,1043.4 L285.7,1043.4 L287.4,1043.5 L289.2,1043.6 L290.9,1043.7 L292.7,1043.8 L294.5,1043.9 L296.2,1044.0 L298.0,1044.1 L299.7,1044.2 L301.5,1044.3 L303.2,1044.5 L305.0,1044.6 L306.7,1044.7 L308.5,1044.9 L310.2,1045.0 L312.0,1045.2 L313.7,1045.3 L315.5,1045.5 L317.2,1045.7 L319.0,1045.8 L320.7,1046.0 L322.5,1046.2 L324.2,1046.4 L326.0,1046.6 L327.7,1046.8 L329.5,1047.0 L331.2,1047.2 L333.0,1047.4 L334.7,1047.6 L336.5,1047.9 L338.2,1048.1 L340.0,1048.3 L341.7,1048.6 L343.5,1048.8 L345.2,1049.1 L347.0,1049.3 L348.7,1049.6 L350.5,1049.9 L352.2,1050.2 L354.0,1050.4 L355.7,1050.7 L357.5,1051.0 L359.2,1051.3 L361.0,1051.6 L362.7,1051.9 L364.5,1052.3 L366.2,1052.6 L368.0,1052.9 L369.8,1053.3 L371.5,1053.6 L373.3,1053.9 L375.0,1054.3 L376.8,1054.7 L378.5,1055.0 L380.3,1055.4 L382.0,1055.8 L383.8,1056.2 L385.5,1056.6 L387.3,1057.0 L389.0,1057.4 L390.8,1057.8 L392.5,1058.2 L394.3,1058.6 L396.0,1059.0 L397.8,1059.5 L399.5,1059.9 L401.3,1060.4 L403.0,1060.8 L404.8,1061.3 L406.5,1061.8 L408.3,1062.2 L410.0,1062.7 L411.8,1063.2 L413.5,1063.7 L415.3,1064.2 L417.0,1064.7 L418.8,1065.2 L420.5,1065.7 L422.3,1066.2 L424.0,1066.8 L425.8,1067.3 L427.5,1067.8 L429.3,1068.4 L431.0,1068.9 L432.8,1069.5 L434.5,1070.1 L436.3,1070.6 L438.0,1071.2 L439.8,1071.8 L441.5,1072.4 L443.3,1073.0 L445.1,1073.6 L446.8,1074.2 L448.6,1074.8 L450.3,1075.4 L452.1,1076.0 L453.8,1076.7 L455.6,1077.3 L457.3,1077.9 L459.1,1078.6 L460.8,1079.2 L462.6,1079.9 L464.3,1080.5 L466.1,1081.2 L467.8,1081.9 L469.6,1082.6 L471.3,1083.2 L473.1,1083.9 L474.8,1084.6 L476.6,1085.3 L478.3,1086.0 L480.1,1086.7 L481.8,1087.4 L483.6,1088.2 L485.3,1088.9 L487.1,1089.6 L488.8,1090.3 L490.6,1091.1 L492.3,1091.8 L494.1,1092.6 L495.8,1093.3 L497.6,1094.1 L499.3,1094.9 L501.1,1095.6 L502.8,1096.4 L504.6,1097.2 L506.3,1098.0 L508.1,1098.7 L509.8,1099.5 L511.6,1100.3 L513.3,1101.1 L515.1,1101.9 L516.9,1102.7 L518.6,1103.6 L520.4,1104.4 L522.1,1105.2 L523.9,1106.0 L525.6,1106.9 L527.4,1107.7 L529.1,1108.5 L530.9,1109.4 L532.6,1110.2 L534.4,1111.1 L536.1,1112.0 L537.9,1112.8 L539.6,1113.7 L541.4,1114.6 L543.1,1115.4 L544.9,1116.3 L546.6,1117.2 L548.4,1118.1 L550.1,1119.0 L551.9,1119.9 L553.6,1120.8 L555.4,1121.7 L557.1,1122.6 L558.9,1123.5 L560.6,1124.4 L562.4,1125.3 L564.1,1126.3 L565.9,1127.2 L567.6,1128.1 L569.4,1129.0 L571.1,1130.0 L572.9,1130.9 L574.6,1131.9 L576.4,1132.8 L578.1,1133.8 L579.9,1134.7 L581.6,1135.7 L583.4,1136.6 L585.1,1137.6 L586.9,1138.6 L588.6,1139.5 L590.4,1140.5 L592.2,1141.5 L593.9,1142.4 L595.7,1143.4 L597.4,1144.4 L599.2,1145.4 L600.9,1146.4 L602.7,1147.4 L604.4,1148.4 L606.2,1149.3 L607.9,1150.3 L609.7,1151.3 L611.4,1152.3 L613.2,1153.3 L614.9,1154.3 L616.7,1155.3 L618.4,1156.3 L620.2,1157.4 L621.9,1158.4 L623.7,1159.4 L625.4,1160.4 L627.2,1161.4 L628.9,1162.4 L630.7,1163.4 L632.4,1164.4 L634.2,1165.5 L635.9,1166.5 L637.7,1167.5 L639.4,1168.5 L641.2,1169.5 L642.9,1170.6 L644.7,1171.6 L646.4,1172.6 L648.2,1173.6 L649.9,1174.7 L651.7,1175.7 L653.4,1176.7 L655.2,1177.7 L656.9,1178.8 L658.7,1179.8 L660.4,1180.8 L662.2,1181.9 L663.9,1182.9 L665.7,1183.9 L667.5,1184.9 L669.2,1186.0 L671.0,1187.0 L672.7,1188.0 L674.5,1189.1 L676.2,1190.1 L678.0,1191.1 L679.7,1192.1 L681.5,1193.2 L683.2,1194.2 L685.0,1195.2 L686.7,1196.2 L688.5,1197.3 L690.2,1198.3 L692.0,1199.3 L693.7,1200.3 L695.5,1201.4 L697.2,1202.4 L699.0,1203.4 L700.7,1204.4 L702.5,1205.4 L704.2,1206.4 L706.0,1207.5 L707.7,1208.5 L709.5,1209.5 L711.2,1210.5 L713.0,1211.5 L714.7,1212.5 L716.5,1213.5 L718.2,1214.5 L720.0,1215.5 L721.7,1216.5 L723.5,1217.5 L725.2,1218.5 L727.0,1219.5 L728.7,1220.5 L730.5,1221.5 L732.2,1222.5 L734.0,1223.4 L735.7,1224.4 L737.5,1225.4 L739.2,1226.4 L741.0,1227.3" fill="none" stroke="#dc0010" stroke-width="4.2" stroke-dasharray="10.5,9.5"/>
<rect x="156.80" y="781.30" width="598.10" height="481.70" fill="none" stroke="#000" stroke-width="2"/>
<path d="M146.80,1263.00L156.80,1263.00 M151.30,1202.75L156.80,1202.75 M146.80,1142.50L156.80,1142.50 M151.30,1082.25L156.80,1082.25 M146.80,1022.00L156.80,1022.00 M151.30,961.75L156.80,961.75 M146.80,901.50L156.80,901.50 M151.30,841.25L156.80,841.25 M146.80,781.00L156.80,781.00 M156.90,1263.00L156.90,1268.50 M217.39,1263.00L217.39,1268.50 M260.31,1263.00L260.31,1268.50 M293.60,1263.00L293.60,1268.50 M320.79,1263.00L320.79,1268.50 M343.79,1263.00L343.79,1268.50 M363.71,1263.00L363.71,1268.50 M381.28,1263.00L381.28,1268.50 M397.00,1263.00L397.00,1273.00 M500.40,1263.00L500.40,1268.50 M560.89,1263.00L560.89,1268.50 M603.81,1263.00L603.81,1268.50 M637.10,1263.00L637.10,1268.50 M664.29,1263.00L664.29,1268.50 M687.29,1263.00L687.29,1268.50 M707.21,1263.00L707.21,1268.50 M724.78,1263.00L724.78,1268.50 M740.50,1263.00L740.50,1273.00" stroke="#000" stroke-width="2" fill="none"/>
<text x="140.5" y="1272.3" font-size="32.4" text-anchor="end" >10</text>
<text x="140.5" y="1151.8" font-size="32.4" text-anchor="end" >15</text>
<text x="140.5" y="1031.3" font-size="32.4" text-anchor="end" >20</text>
<text x="140.5" y="910.8" font-size="32.4" text-anchor="end" >25</text>
<text x="140.5" y="790.3" font-size="32.4" text-anchor="end" >30</text>
<text x="397.0" y="1303.5" font-size="32.4" text-anchor="middle" >10</text>
<text x="740.5" y="1303.5" font-size="32.4" text-anchor="middle" >100</text>
<text x="455.8" y="1357.4" font-size="32.4" text-anchor="middle" >Temperature (K)</text>
<text transform="translate(64.6,1022.0) rotate(-90)" font-size="32.4" text-anchor="middle"><tspan font-style="italic" font-family="Liberation Serif, serif" font-size="48">ρ</tspan><tspan font-style="italic" font-size="22" dy="8">xx</tspan><tspan dy="-8"> (kΩ)</tspan></text>
<text x="206.5" y="1140.4" font-size="32.4" text-anchor="start" >0 T</text>
<text x="186.5" y="1217.3" font-size="32.4" text-anchor="start" ><tspan font-style="italic">V</tspan><tspan font-size="19.5" dy="10" dx="-1.2">G</tspan><tspan dy="-10" dx="-0.6">-</tspan><tspan font-style="italic" dx="-0.6">V</tspan><tspan font-size="19.5" dy="10" dx="-1.2">D</tspan><tspan dy="-10"> = 0 V</tspan></text>
<path d="M404.1,839.3H503.6" stroke="#5e0a96" stroke-width="4.6" stroke-dasharray="17.5,7.2,3.2,7.2"/>
<text x="516.5" y="848.7" font-size="32.4" text-anchor="start" >VRH fitting</text>
<path d="M404.8,897.8H498" stroke="#dc0010" stroke-width="4.2" stroke-dasharray="11,9.5"/>
<text x="519.5" y="909.1" font-size="32.4" text-anchor="start" >Kondo fitting</text>
</g>
<g id="pd">
<g fill="#fff" stroke="#0b7d7d" stroke-width="1.25" stroke-linejoin="miter"><path d="M1068.3,1181.8l10.0,18.0h-20.0z"/><path d="M1074.8,1180.9l10.0,18.0h-20.0z"/><path d="M1078.1,1183.4l10.0,18.0h-20.0z"/><path d="M1084.0,1182.7l10.0,18.0h-20.0z"/><path d="M1087.4,1182.1l10.0,18.0h-20.0z"/><path d="M1092.3,1183.0l10.0,18.0h-20.0z"/><path d="M1096.6,1182.5l10.0,18.0h-20.0z"/><path d="M1101.2,1182.3l10.0,18.0h-20.0z"/><path d="M1103.7,1183.3l10.0,18.0h-20.0z"/><path d="M1108.9,1184.4l10.0,18.0h-20.0z"/><path d="M1112.2,1183.0l10.0,18.0h-20.0z"/><path d="M1114.1,1181.9l10.0,18.0h-20.0z"/><path d="M1117.9,1182.8l10.0,18.0h-20.0z"/><path d="M1119.8,1185.2l10.0,18.0h-20.0z"/><path d="M1123.3,1182.6l10.0,18.0h-20.0z"/><path d="M1127.0,1184.7l10.0,18.0h-20.0z"/><path d="M1129.0,1183.3l10.0,18.0h-20.0z"/><path d="M1130.8,1184.3l10.0,18.0h-20.0z"/><path d="M1132.7,1183.5l10.0,18.0h-20.0z"/><path d="M1135.9,1182.0l10.0,18.0h-20.0z"/><path d="M1139.4,1183.2l10.0,18.0h-20.0z"/><path d="M1143.2,1185.7l10.0,18.0h-20.0z"/><path d="M1145.3,1183.5l10.0,18.0h-20.0z"/><path d="M1146.9,1184.2l10.0,18.0h-20.0z"/><path d="M1149.8,1183.2l10.0,18.0h-20.0z"/><path d="M1153.1,1183.4l10.0,18.0h-20.0z"/><path d="M1156.1,1183.8l10.0,18.0h-20.0z"/><path d="M1158.5,1184.0l10.0,18.0h-20.0z"/><path d="M1160.3,1185.7l10.0,18.0h-20.0z"/><path d="M1163.1,1183.4l10.0,18.0h-20.0z"/><path d="M1166.2,1183.2l10.0,18.0h-20.0z"/><path d="M1167.8,1182.7l10.0,18.0h-20.0z"/><path d="M1170.5,1181.9l10.0,18.0h-20.0z"/><path d="M1173.2,1181.6l10.0,18.0h-20.0z"/><path d="M1176.4,1183.7l10.0,18.0h-20.0z"/><path d="M1178.2,1181.1l10.0,18.0h-20.0z"/><path d="M1180.0,1184.3l10.0,18.0h-20.0z"/><path d="M1181.1,1183.7l10.0,18.0h-20.0z"/><path d="M1182.4,1182.5l10.0,18.0h-20.0z"/><path d="M1184.9,1181.6l10.0,18.0h-20.0z"/><path d="M1186.4,1182.7l10.0,18.0h-20.0z"/><path d="M1189.1,1182.5l10.0,18.0h-20.0z"/><path d="M1190.7,1183.5l10.0,18.0h-20.0z"/><path d="M1193.1,1181.5l10.0,18.0h-20.0z"/><path d="M1194.7,1181.8l10.0,18.0h-20.0z"/><path d="M1196.9,1182.0l10.0,18.0h-20.0z"/><path d="M1198.6,1181.7l10.0,18.0h-20.0z"/><path d="M1199.9,1181.2l10.0,18.0h-20.0z"/><path d="M1201.1,1180.1l10.0,18.0h-20.0z"/><path d="M1202.5,1180.0l10.0,18.0h-20.0z"/><path d="M1203.5,1180.9l10.0,18.0h-20.0z"/><path d="M1205.9,1181.2l10.0,18.0h-20.0z"/><path d="M1208.3,1182.2l10.0,18.0h-20.0z"/><path d="M1210.4,1183.4l10.0,18.0h-20.0z"/><path d="M1211.2,1182.7l10.0,18.0h-20.0z"/><path d="M1213.4,1181.2l10.0,18.0h-20.0z"/><path d="M1215.5,1182.5l10.0,18.0h-20.0z"/><path d="M1217.6,1180.3l10.0,18.0h-20.0z"/><path d="M1219.3,1179.7l10.0,18.0h-20.0z"/><path d="M1220.4,1182.4l10.0,18.0h-20.0z"/><path d="M1221.6,1178.9l10.0,18.0h-20.0z"/><path d="M1223.0,1179.4l10.0,18.0h-20.0z"/><path d="M1224.0,1179.5l10.0,18.0h-20.0z"/><path d="M1225.0,1181.1l10.0,18.0h-20.0z"/><path d="M1226.3,1178.9l10.0,18.0h-20.0z"/><path d="M1227.9,1180.1l10.0,18.0h-20.0z"/><path d="M1228.8,1178.8l10.0,18.0h-20.0z"/><path d="M1230.7,1177.7l10.0,18.0h-20.0z"/><path d="M1232.5,1179.0l10.0,18.0h-20.0z"/><path d="M1233.1,1178.8l10.0,18.0h-20.0z"/><path d="M1234.8,1177.3l10.0,18.0h-20.0z"/><path d="M1235.4,1177.5l10.0,18.0h-20.0z"/><path d="M1236.2,1177.4l10.0,18.0h-20.0z"/><path d="M1237.1,1179.1l10.0,18.0h-20.0z"/><path d="M1238.8,1178.3l10.0,18.0h-20.0z"/><path d="M1240.5,1177.9l10.0,18.0h-20.0z"/><path d="M1241.9,1177.9l10.0,18.0h-20.0z"/><path d="M1243.0,1176.8l10.0,18.0h-20.0z"/><path d="M1244.6,1177.5l10.0,18.0h-20.0z"/><path d="M1246.1,1176.2l10.0,18.0h-20.0z"/><path d="M1246.7,1175.4l10.0,18.0h-20.0z"/><path d="M1248.2,1175.8l10.0,18.0h-20.0z"/><path d="M1249.5,1176.5l10.0,18.0h-20.0z"/><path d="M1250.6,1176.2l10.0,18.0h-20.0z"/><path d="M1251.9,1177.0l10.0,18.0h-20.0z"/><path d="M1252.8,1174.1l10.0,18.0h-20.0z"/><path d="M1254.1,1175.3l10.0,18.0h-20.0z"/><path d="M1255.1,1175.7l10.0,18.0h-20.0z"/><path d="M1256.7,1174.1l10.0,18.0h-20.0z"/><path d="M1257.8,1175.1l10.0,18.0h-20.0z"/><path d="M1259.6,1174.1l10.0,18.0h-20.0z"/><path d="M1260.9,1173.2l10.0,18.0h-20.0z"/><path d="M1262.1,1175.2l10.0,18.0h-20.0z"/><path d="M1263.4,1172.4l10.0,18.0h-20.0z"/><path d="M1264.7,1174.6l10.0,18.0h-20.0z"/><path d="M1266.4,1172.8l10.0,18.0h-20.0z"/><path d="M1267.8,1172.0l10.0,18.0h-20.0z"/><path d="M1268.4,1171.9l10.0,18.0h-20.0z"/><path d="M1269.9,1171.8l10.0,18.0h-20.0z"/><path d="M1271.2,1171.4l10.0,18.0h-20.0z"/><path d="M1272.3,1172.3l10.0,18.0h-20.0z"/><path d="M1273.4,1169.9l10.0,18.0h-20.0z"/><path d="M1274.9,1172.7l10.0,18.0h-20.0z"/><path d="M1275.5,1172.1l10.0,18.0h-20.0z"/><path d="M1276.3,1172.5l10.0,18.0h-20.0z"/><path d="M1277.9,1169.8l10.0,18.0h-20.0z"/><path d="M1279.1,1168.2l10.0,18.0h-20.0z"/><path d="M1280.2,1169.6l10.0,18.0h-20.0z"/><path d="M1281.0,1169.9l10.0,18.0h-20.0z"/><path d="M1281.6,1170.2l10.0,18.0h-20.0z"/><path d="M1282.2,1169.2l10.0,18.0h-20.0z"/><path d="M1283.2,1169.4l10.0,18.0h-20.0z"/><path d="M1284.0,1169.5l10.0,18.0h-20.0z"/><path d="M1285.4,1167.4l10.0,18.0h-20.0z"/><path d="M1286.8,1170.4l10.0,18.0h-20.0z"/><path d="M1287.8,1167.3l10.0,18.0h-20.0z"/><path d="M1288.5,1168.5l10.0,18.0h-20.0z"/><path d="M1289.4,1169.0l10.0,18.0h-20.0z"/><path d="M1290.2,1167.0l10.0,18.0h-20.0z"/><path d="M1291.5,1167.4l10.0,18.0h-20.0z"/><path d="M1292.5,1168.8l10.0,18.0h-20.0z"/><path d="M1293.3,1166.7l10.0,18.0h-20.0z"/><path d="M1294.3,1167.7l10.0,18.0h-20.0z"/><path d="M1295.3,1166.7l10.0,18.0h-20.0z"/><path d="M1295.9,1166.5l10.0,18.0h-20.0z"/><path d="M1296.6,1166.7l10.0,18.0h-20.0z"/><path d="M1297.7,1165.5l10.0,18.0h-20.0z"/><path d="M1298.6,1165.3l10.0,18.0h-20.0z"/><path d="M1299.7,1166.1l10.0,18.0h-20.0z"/><path d="M1300.6,1165.1l10.0,18.0h-20.0z"/><path d="M1301.5,1165.1l10.0,18.0h-20.0z"/><path d="M1302.4,1163.2l10.0,18.0h-20.0z"/><path d="M1303.2,1164.1l10.0,18.0h-20.0z"/><path d="M1303.8,1165.2l10.0,18.0h-20.0z"/><path d="M1304.5,1164.7l10.0,18.0h-20.0z"/><path d="M1305.4,1163.8l10.0,18.0h-20.0z"/><path d="M1306.1,1162.7l10.0,18.0h-20.0z"/><path d="M1307.1,1162.3l10.0,18.0h-20.0z"/><path d="M1307.8,1163.2l10.0,18.0h-20.0z"/><path d="M1308.5,1163.9l10.0,18.0h-20.0z"/><path d="M1309.5,1162.2l10.0,18.0h-20.0z"/><path d="M1310.7,1163.1l10.0,18.0h-20.0z"/><path d="M1311.6,1161.2l10.0,18.0h-20.0z"/><path d="M1312.4,1162.5l10.0,18.0h-20.0z"/><path d="M1313.5,1159.9l10.0,18.0h-20.0z"/><path d="M1314.5,1160.8l10.0,18.0h-20.0z"/><path d="M1315.3,1159.2l10.0,18.0h-20.0z"/><path d="M1316.4,1160.6l10.0,18.0h-20.0z"/><path d="M1317.5,1160.1l10.0,18.0h-20.0z"/><path d="M1318.3,1158.4l10.0,18.0h-20.0z"/><path d="M1319.2,1158.2l10.0,18.0h-20.0z"/><path d="M1320.2,1158.2l10.0,18.0h-20.0z"/><path d="M1321.2,1156.8l10.0,18.0h-20.0z"/><path d="M1322.1,1157.1l10.0,18.0h-20.0z"/><path d="M1322.9,1156.8l10.0,18.0h-20.0z"/><path d="M1323.7,1158.2l10.0,18.0h-20.0z"/><path d="M1324.5,1158.5l10.0,18.0h-20.0z"/><path d="M1325.5,1156.3l10.0,18.0h-20.0z"/><path d="M1326.1,1156.3l10.0,18.0h-20.0z"/><path d="M1327.1,1156.4l10.0,18.0h-20.0z"/><path d="M1328.1,1155.3l10.0,18.0h-20.0z"/><path d="M1329.0,1155.2l10.0,18.0h-20.0z"/><path d="M1329.9,1156.0l10.0,18.0h-20.0z"/><path d="M1330.9,1155.0l10.0,18.0h-20.0z"/><path d="M1331.8,1154.3l10.0,18.0h-20.0z"/><path d="M1332.7,1153.5l10.0,18.0h-20.0z"/><path d="M1333.3,1155.3l10.0,18.0h-20.0z"/><path d="M1334.0,1152.9l10.0,18.0h-20.0z"/><path d="M1335.0,1153.3l10.0,18.0h-20.0z"/><path d="M1335.7,1151.8l10.0,18.0h-20.0z"/><path d="M1336.5,1152.0l10.0,18.0h-20.0z"/><path d="M1337.3,1152.3l10.0,18.0h-20.0z"/><path d="M1338.3,1151.4l10.0,18.0h-20.0z"/><path d="M1339.3,1152.0l10.0,18.0h-20.0z"/><path d="M1340.0,1151.2l10.0,18.0h-20.0z"/><path d="M1340.8,1149.4l10.0,18.0h-20.0z"/><path d="M1341.5,1148.2l10.0,18.0h-20.0z"/><path d="M1342.5,1151.1l10.0,18.0h-20.0z"/><path d="M1343.1,1149.2l10.0,18.0h-20.0z"/><path d="M1344.0,1150.9l10.0,18.0h-20.0z"/><path d="M1344.7,1149.2l10.0,18.0h-20.0z"/><path d="M1345.6,1148.0l10.0,18.0h-20.0z"/><path d="M1346.4,1149.0l10.0,18.0h-20.0z"/><path d="M1347.4,1147.7l10.0,18.0h-20.0z"/><path d="M1348.2,1147.6l10.0,18.0h-20.0z"/><path d="M1348.8,1146.4l10.0,18.0h-20.0z"/><path d="M1349.5,1147.7l10.0,18.0h-20.0z"/><path d="M1350.3,1147.8l10.0,18.0h-20.0z"/><path d="M1351.1,1145.8l10.0,18.0h-20.0z"/><path d="M1352.0,1147.7l10.0,18.0h-20.0z"/><path d="M1352.8,1145.0l10.0,18.0h-20.0z"/><path d="M1353.8,1145.4l10.0,18.0h-20.0z"/><path d="M1354.7,1143.1l10.0,18.0h-20.0z"/><path d="M1355.5,1142.4l10.0,18.0h-20.0z"/><path d="M1356.4,1146.0l10.0,18.0h-20.0z"/><path d="M1357.1,1145.0l10.0,18.0h-20.0z"/><path d="M1357.9,1144.4l10.0,18.0h-20.0z"/><path d="M1358.6,1141.2l10.0,18.0h-20.0z"/><path d="M1359.5,1142.7l10.0,18.0h-20.0z"/><path d="M1360.1,1142.6l10.0,18.0h-20.0z"/><path d="M1360.7,1141.9l10.0,18.0h-20.0z"/><path d="M1361.7,1141.7l10.0,18.0h-20.0z"/><path d="M1362.7,1140.0l10.0,18.0h-20.0z"/><path d="M1363.4,1140.4l10.0,18.0h-20.0z"/><path d="M1364.2,1139.0l10.0,18.0h-20.0z"/><path d="M1364.8,1139.5l10.0,18.0h-20.0z"/><path d="M1365.7,1139.8l10.0,18.0h-20.0z"/><path d="M1366.7,1138.1l10.0,18.0h-20.0z"/><path d="M1367.5,1138.2l10.0,18.0h-20.0z"/><path d="M1368.3,1137.7l10.0,18.0h-20.0z"/><path d="M1369.2,1137.6l10.0,18.0h-20.0z"/><path d="M1369.8,1138.2l10.0,18.0h-20.0z"/><path d="M1370.7,1137.1l10.0,18.0h-20.0z"/><path d="M1371.6,1136.7l10.0,18.0h-20.0z"/><path d="M1372.4,1134.5l10.0,18.0h-20.0z"/><path d="M1373.2,1135.1l10.0,18.0h-20.0z"/><path d="M1374.0,1135.9l10.0,18.0h-20.0z"/><path d="M1374.7,1133.9l10.0,18.0h-20.0z"/><path d="M1375.6,1133.8l10.0,18.0h-20.0z"/><path d="M1376.6,1132.7l10.0,18.0h-20.0z"/><path d="M1377.2,1134.7l10.0,18.0h-20.0z"/><path d="M1378.2,1132.4l10.0,18.0h-20.0z"/><path d="M1378.9,1131.7l10.0,18.0h-20.0z"/><path d="M1379.5,1132.7l10.0,18.0h-20.0z"/><path d="M1380.4,1132.7l10.0,18.0h-20.0z"/><path d="M1381.3,1131.6l10.0,18.0h-20.0z"/><path d="M1382.3,1131.5l10.0,18.0h-20.0z"/><path d="M1383.2,1130.2l10.0,18.0h-20.0z"/><path d="M1383.9,1129.5l10.0,18.0h-20.0z"/><path d="M1384.6,1128.8l10.0,18.0h-20.0z"/><path d="M1385.4,1128.2l10.0,18.0h-20.0z"/><path d="M1386.3,1127.7l10.0,18.0h-20.0z"/><path d="M1387.1,1128.2l10.0,18.0h-20.0z"/><path d="M1387.8,1127.3l10.0,18.0h-20.0z"/><path d="M1388.7,1126.9l10.0,18.0h-20.0z"/><path d="M1389.5,1127.0l10.0,18.0h-20.0z"/><path d="M1390.4,1125.8l10.0,18.0h-20.0z"/><path d="M1391.3,1123.9l10.0,18.0h-20.0z"/><path d="M1392.1,1124.1l10.0,18.0h-20.0z"/><path d="M1393.1,1123.1l10.0,18.0h-20.0z"/><path d="M1394.1,1121.7l10.0,18.0h-20.0z"/><path d="M1394.8,1123.3l10.0,18.0h-20.0z"/><path d="M1395.8,1121.4l10.0,18.0h-20.0z"/><path d="M1396.7,1120.7l10.0,18.0h-20.0z"/><path d="M1397.3,1120.6l10.0,18.0h-20.0z"/><path d="M1398.1,1122.0l10.0,18.0h-20.0z"/><path d="M1399.2,1120.1l10.0,18.0h-20.0z"/><path d="M1399.7,1121.1l10.0,18.0h-20.0z"/><path d="M1400.7,1119.4l10.0,18.0h-20.0z"/><path d="M1401.7,1118.4l10.0,18.0h-20.0z"/><path d="M1402.7,1118.8l10.0,18.0h-20.0z"/><path d="M1403.4,1118.3l10.0,18.0h-20.0z"/><path d="M1404.1,1117.4l10.0,18.0h-20.0z"/><path d="M1404.7,1115.9l10.0,18.0h-20.0z"/><path d="M1405.6,1115.9l10.0,18.0h-20.0z"/><path d="M1406.6,1114.5l10.0,18.0h-20.0z"/><path d="M1407.5,1114.8l10.0,18.0h-20.0z"/><path d="M1408.2,1114.7l10.0,18.0h-20.0z"/><path d="M1408.9,1115.6l10.0,18.0h-20.0z"/><path d="M1409.6,1115.0l10.0,18.0h-20.0z"/><path d="M1410.4,1113.8l10.0,18.0h-20.0z"/><path d="M1411.2,1113.5l10.0,18.0h-20.0z"/><path d="M1411.8,1112.4l10.0,18.0h-20.0z"/><path d="M1412.6,1114.4l10.0,18.0h-20.0z"/><path d="M1413.5,1112.5l10.0,18.0h-20.0z"/><path d="M1414.3,1113.1l10.0,18.0h-20.0z"/><path d="M1414.9,1110.4l10.0,18.0h-20.0z"/><path d="M1415.8,1109.8l10.0,18.0h-20.0z"/><path d="M1416.4,1110.0l10.0,18.0h-20.0z"/><path d="M1417.0,1108.7l10.0,18.0h-20.0z"/><path d="M1417.9,1108.2l10.0,18.0h-20.0z"/><path d="M1418.6,1106.4l10.0,18.0h-20.0z"/><path d="M1419.5,1107.7l10.0,18.0h-20.0z"/><path d="M1420.4,1106.3l10.0,18.0h-20.0z"/><path d="M1420.9,1106.6l10.0,18.0h-20.0z"/><path d="M1421.6,1105.1l10.0,18.0h-20.0z"/><path d="M1422.5,1102.8l10.0,18.0h-20.0z"/><path d="M1423.5,1104.4l10.0,18.0h-20.0z"/><path d="M1424.3,1104.5l10.0,18.0h-20.0z"/><path d="M1425.1,1101.5l10.0,18.0h-20.0z"/><path d="M1425.7,1101.3l10.0,18.0h-20.0z"/><path d="M1426.5,1101.4l10.0,18.0h-20.0z"/><path d="M1427.3,1100.9l10.0,18.0h-20.0z"/><path d="M1428.3,1098.7l10.0,18.0h-20.0z"/><path d="M1429.2,1101.4l10.0,18.0h-20.0z"/><path d="M1430.1,1100.1l10.0,18.0h-20.0z"/><path d="M1430.9,1097.8l10.0,18.0h-20.0z"/><path d="M1431.6,1096.1l10.0,18.0h-20.0z"/><path d="M1432.2,1097.8l10.0,18.0h-20.0z"/><path d="M1432.9,1098.8l10.0,18.0h-20.0z"/><path d="M1433.7,1097.1l10.0,18.0h-20.0z"/><path d="M1434.3,1097.0l10.0,18.0h-20.0z"/><path d="M1435.3,1094.1l10.0,18.0h-20.0z"/><path d="M1436.0,1094.7l10.0,18.0h-20.0z"/><path d="M1436.6,1092.5l10.0,18.0h-20.0z"/><path d="M1437.6,1095.2l10.0,18.0h-20.0z"/><path d="M1438.4,1093.2l10.0,18.0h-20.0z"/><path d="M1439.4,1089.7l10.0,18.0h-20.0z"/><path d="M1440.1,1089.4l10.0,18.0h-20.0z"/><path d="M1440.9,1091.1l10.0,18.0h-20.0z"/><path d="M1441.7,1090.2l10.0,18.0h-20.0z"/><path d="M1442.7,1088.9l10.0,18.0h-20.0z"/><path d="M1443.5,1089.2l10.0,18.0h-20.0z"/><path d="M1444.2,1090.0l10.0,18.0h-20.0z"/><path d="M1445.3,1087.5l10.0,18.0h-20.0z"/><path d="M1446.1,1084.6l10.0,18.0h-20.0z"/><path d="M1447.1,1085.5l10.0,18.0h-20.0z"/><path d="M1447.8,1083.8l10.0,18.0h-20.0z"/><path d="M1448.6,1083.6l10.0,18.0h-20.0z"/><path d="M1449.6,1083.9l10.0,18.0h-20.0z"/><path d="M1450.5,1082.7l10.0,18.0h-20.0z"/><path d="M1451.4,1081.0l10.0,18.0h-20.0z"/><path d="M1452.4,1081.2l10.0,18.0h-20.0z"/><path d="M1453.1,1079.9l10.0,18.0h-20.0z"/><path d="M1454.1,1080.4l10.0,18.0h-20.0z"/><path d="M1454.9,1078.9l10.0,18.0h-20.0z"/><path d="M1455.7,1078.8l10.0,18.0h-20.0z"/><path d="M1456.4,1077.6l10.0,18.0h-20.0z"/><path d="M1457.3,1077.8l10.0,18.0h-20.0z"/><path d="M1458.0,1076.4l10.0,18.0h-20.0z"/><path d="M1458.7,1075.9l10.0,18.0h-20.0z"/><path d="M1459.4,1074.7l10.0,18.0h-20.0z"/><path d="M1460.0,1074.9l10.0,18.0h-20.0z"/><path d="M1460.7,1072.4l10.0,18.0h-20.0z"/><path d="M1461.3,1076.3l10.0,18.0h-20.0z"/><path d="M1462.3,1072.1l10.0,18.0h-20.0z"/><path d="M1463.3,1072.0l10.0,18.0h-20.0z"/><path d="M1464.2,1070.6l10.0,18.0h-20.0z"/><path d="M1465.2,1069.7l10.0,18.0h-20.0z"/><path d="M1466.1,1069.8l10.0,18.0h-20.0z"/><path d="M1467.0,1068.0l10.0,18.0h-20.0z"/><path d="M1467.9,1067.3l10.0,18.0h-20.0z"/><path d="M1468.6,1065.8l10.0,18.0h-20.0z"/><path d="M1469.3,1065.6l10.0,18.0h-20.0z"/><path d="M1470.0,1064.7l10.0,18.0h-20.0z"/><path d="M1470.7,1067.0l10.0,18.0h-20.0z"/><path d="M1471.3,1063.4l10.0,18.0h-20.0z"/><path d="M1472.1,1062.9l10.0,18.0h-20.0z"/><path d="M1472.7,1063.6l10.0,18.0h-20.0z"/><path d="M1473.4,1064.2l10.0,18.0h-20.0z"/><path d="M1474.1,1060.4l10.0,18.0h-20.0z"/><path d="M1475.0,1059.8l10.0,18.0h-20.0z"/><path d="M1475.7,1060.8l10.0,18.0h-20.0z"/><path d="M1476.6,1060.2l10.0,18.0h-20.0z"/><path d="M1477.2,1057.8l10.0,18.0h-20.0z"/><path d="M1477.9,1056.8l10.0,18.0h-20.0z"/><path d="M1478.6,1056.9l10.0,18.0h-20.0z"/><path d="M1479.2,1058.1l10.0,18.0h-20.0z"/><path d="M1480.1,1056.5l10.0,18.0h-20.0z"/><path d="M1480.9,1056.5l10.0,18.0h-20.0z"/><path d="M1481.9,1054.7l10.0,18.0h-20.0z"/><path d="M1482.5,1054.2l10.0,18.0h-20.0z"/><path d="M1483.3,1054.1l10.0,18.0h-20.0z"/><path d="M1484.0,1052.7l10.0,18.0h-20.0z"/><path d="M1484.9,1052.2l10.0,18.0h-20.0z"/><path d="M1485.4,1050.5l10.0,18.0h-20.0z"/><path d="M1486.1,1050.1l10.0,18.0h-20.0z"/><path d="M1486.8,1050.6l10.0,18.0h-20.0z"/><path d="M1487.7,1049.0l10.0,18.0h-20.0z"/><path d="M1488.6,1047.6l10.0,18.0h-20.0z"/><path d="M1489.2,1048.4l10.0,18.0h-20.0z"/><path d="M1490.1,1047.5l10.0,18.0h-20.0z"/><path d="M1490.8,1046.2l10.0,18.0h-20.0z"/><path d="M1491.6,1044.7l10.0,18.0h-20.0z"/><path d="M1492.4,1045.5l10.0,18.0h-20.0z"/><path d="M1493.4,1046.2l10.0,18.0h-20.0z"/><path d="M1493.9,1042.3l10.0,18.0h-20.0z"/><path d="M1494.6,1040.9l10.0,18.0h-20.0z"/><path d="M1495.5,1040.8l10.0,18.0h-20.0z"/><path d="M1496.5,1039.6l10.0,18.0h-20.0z"/><path d="M1497.2,1038.5l10.0,18.0h-20.0z"/><path d="M1498.2,1037.6l10.0,18.0h-20.0z"/><path d="M1498.9,1039.0l10.0,18.0h-20.0z"/><path d="M1499.6,1038.3l10.0,18.0h-20.0z"/><path d="M1500.2,1038.3l10.0,18.0h-20.0z"/><path d="M1501.1,1036.6l10.0,18.0h-20.0z"/><path d="M1502.0,1034.5l10.0,18.0h-20.0z"/><path d="M1502.8,1035.3l10.0,18.0h-20.0z"/><path d="M1503.6,1032.7l10.0,18.0h-20.0z"/><path d="M1504.6,1031.9l10.0,18.0h-20.0z"/><path d="M1505.2,1030.5l10.0,18.0h-20.0z"/><path d="M1506.0,1032.1l10.0,18.0h-20.0z"/><path d="M1506.7,1031.1l10.0,18.0h-20.0z"/><path d="M1507.6,1028.7l10.0,18.0h-20.0z"/><path d="M1508.2,1028.3l10.0,18.0h-20.0z"/><path d="M1508.8,1028.0l10.0,18.0h-20.0z"/><path d="M1509.6,1027.3l10.0,18.0h-20.0z"/><path d="M1510.4,1027.1l10.0,18.0h-20.0z"/><path d="M1511.2,1025.5l10.0,18.0h-20.0z"/><path d="M1511.9,1025.1l10.0,18.0h-20.0z"/><path d="M1512.8,1022.2l10.0,18.0h-20.0z"/><path d="M1513.4,1022.8l10.0,18.0h-20.0z"/><path d="M1514.3,1020.3l10.0,18.0h-20.0z"/><path d="M1515.1,1023.1l10.0,18.0h-20.0z"/><path d="M1516.1,1021.7l10.0,18.0h-20.0z"/><path d="M1516.8,1020.3l10.0,18.0h-20.0z"/><path d="M1517.6,1019.8l10.0,18.0h-20.0z"/><path d="M1518.2,1020.1l10.0,18.0h-20.0z"/><path d="M1519.1,1018.1l10.0,18.0h-20.0z"/><path d="M1519.7,1014.9l10.0,18.0h-20.0z"/><path d="M1520.3,1015.6l10.0,18.0h-20.0z"/><path d="M1521.1,1012.6l10.0,18.0h-20.0z"/><path d="M1522.0,1013.2l10.0,18.0h-20.0z"/><path d="M1522.9,1011.8l10.0,18.0h-20.0z"/><path d="M1523.7,1012.2l10.0,18.0h-20.0z"/><path d="M1524.6,1011.6l10.0,18.0h-20.0z"/><path d="M1525.3,1009.6l10.0,18.0h-20.0z"/><path d="M1526.1,1009.3l10.0,18.0h-20.0z"/><path d="M1527.1,1008.8l10.0,18.0h-20.0z"/><path d="M1527.8,1007.7l10.0,18.0h-20.0z"/><path d="M1528.8,1006.6l10.0,18.0h-20.0z"/><path d="M1529.5,1003.6l10.0,18.0h-20.0z"/><path d="M1530.5,1004.5l10.0,18.0h-20.0z"/><path d="M1531.3,1004.9l10.0,18.0h-20.0z"/><path d="M1532.3,1003.3l10.0,18.0h-20.0z"/><path d="M1532.9,1000.9l10.0,18.0h-20.0z"/><path d="M1533.9,1001.0l10.0,18.0h-20.0z"/><path d="M1534.5,1000.9l10.0,18.0h-20.0z"/><path d="M1535.5,998.6l10.0,18.0h-20.0z"/><path d="M1536.2,999.4l10.0,18.0h-20.0z"/><path d="M1537.0,997.1l10.0,18.0h-20.0z"/><path d="M1537.8,996.8l10.0,18.0h-20.0z"/><path d="M1538.6,996.1l10.0,18.0h-20.0z"/><path d="M1539.6,997.4l10.0,18.0h-20.0z"/><path d="M1540.4,993.9l10.0,18.0h-20.0z"/><path d="M1541.0,993.1l10.0,18.0h-20.0z"/><path d="M1541.8,993.6l10.0,18.0h-20.0z"/><path d="M1542.8,991.3l10.0,18.0h-20.0z"/><path d="M1543.4,991.3l10.0,18.0h-20.0z"/><path d="M1544.2,988.0l10.0,18.0h-20.0z"/><path d="M1545.1,989.5l10.0,18.0h-20.0z"/><path d="M1545.8,988.5l10.0,18.0h-20.0z"/><path d="M1546.6,986.4l10.0,18.0h-20.0z"/><path d="M1547.6,988.0l10.0,18.0h-20.0z"/><path d="M1548.4,985.5l10.0,18.0h-20.0z"/><path d="M1549.3,984.7l10.0,18.0h-20.0z"/><path d="M1550.1,982.6l10.0,18.0h-20.0z"/><path d="M1551.0,981.4l10.0,18.0h-20.0z"/><path d="M1552.0,981.4l10.0,18.0h-20.0z"/><path d="M1552.9,979.5l10.0,18.0h-20.0z"/><path d="M1553.7,980.6l10.0,18.0h-20.0z"/><path d="M1554.8,979.9l10.0,18.0h-20.0z"/><path d="M1555.5,977.7l10.0,18.0h-20.0z"/><path d="M1556.1,976.1l10.0,18.0h-20.0z"/><path d="M1557.1,976.2l10.0,18.0h-20.0z"/><path d="M1558.0,974.6l10.0,18.0h-20.0z"/><path d="M1559.0,974.8l10.0,18.0h-20.0z"/><path d="M1560.0,973.8l10.0,18.0h-20.0z"/><path d="M1560.9,972.2l10.0,18.0h-20.0z"/><path d="M1561.8,971.8l10.0,18.0h-20.0z"/><path d="M1562.7,971.9l10.0,18.0h-20.0z"/><path d="M1563.6,971.6l10.0,18.0h-20.0z"/><path d="M1564.4,968.5l10.0,18.0h-20.0z"/><path d="M1565.0,969.2l10.0,18.0h-20.0z"/><path d="M1565.7,967.4l10.0,18.0h-20.0z"/><path d="M1566.6,965.8l10.0,18.0h-20.0z"/><path d="M1567.2,967.5l10.0,18.0h-20.0z"/><path d="M1567.9,965.9l10.0,18.0h-20.0z"/><path d="M1568.5,965.0l10.0,18.0h-20.0z"/><path d="M1569.1,964.6l10.0,18.0h-20.0z"/><path d="M1570.1,963.1l10.0,18.0h-20.0z"/><path d="M1571.0,961.3l10.0,18.0h-20.0z"/><path d="M1572.0,963.1l10.0,18.0h-20.0z"/><path d="M1572.6,961.6l10.0,18.0h-20.0z"/><path d="M1573.5,960.1l10.0,18.0h-20.0z"/><path d="M1574.2,960.1l10.0,18.0h-20.0z"/><path d="M1574.8,959.9l10.0,18.0h-20.0z"/><path d="M1575.5,957.7l10.0,18.0h-20.0z"/><path d="M1576.2,957.7l10.0,18.0h-20.0z"/><path d="M1576.8,956.2l10.0,18.0h-20.0z"/><path d="M1577.5,956.5l10.0,18.0h-20.0z"/><path d="M1578.4,954.6l10.0,18.0h-20.0z"/><path d="M1579.1,956.6l10.0,18.0h-20.0z"/><path d="M1579.7,953.2l10.0,18.0h-20.0z"/><path d="M1580.3,953.5l10.0,18.0h-20.0z"/><path d="M1581.1,952.7l10.0,18.0h-20.0z"/><path d="M1581.9,951.0l10.0,18.0h-20.0z"/><path d="M1582.8,951.3l10.0,18.0h-20.0z"/><path d="M1583.5,949.6l10.0,18.0h-20.0z"/><path d="M1584.4,948.3l10.0,18.0h-20.0z"/><path d="M1585.3,947.8l10.0,18.0h-20.0z"/><path d="M1586.0,946.3l10.0,18.0h-20.0z"/><path d="M1586.9,947.2l10.0,18.0h-20.0z"/><path d="M1587.8,945.7l10.0,18.0h-20.0z"/><path d="M1588.4,945.4l10.0,18.0h-20.0z"/><path d="M1589.3,942.0l10.0,18.0h-20.0z"/><path d="M1590.2,942.7l10.0,18.0h-20.0z"/><path d="M1590.8,940.9l10.0,18.0h-20.0z"/><path d="M1591.4,941.1l10.0,18.0h-20.0z"/><path d="M1592.3,941.3l10.0,18.0h-20.0z"/><path d="M1593.1,939.2l10.0,18.0h-20.0z"/><path d="M1593.7,938.0l10.0,18.0h-20.0z"/><path d="M1594.3,938.6l10.0,18.0h-20.0z"/><path d="M1595.3,937.3l10.0,18.0h-20.0z"/><path d="M1596.3,937.0l10.0,18.0h-20.0z"/><path d="M1597.3,932.0l10.0,18.0h-20.0z"/><path d="M1598.3,932.8l10.0,18.0h-20.0z"/><path d="M1599.2,930.8l10.0,18.0h-20.0z"/><path d="M1600.2,929.0l10.0,18.0h-20.0z"/><path d="M1601.2,928.7l10.0,18.0h-20.0z"/><path d="M1601.9,926.4l10.0,18.0h-20.0z"/><path d="M1602.5,924.5l10.0,18.0h-20.0z"/><path d="M1603.4,924.5l10.0,18.0h-20.0z"/><path d="M1604.4,923.7l10.0,18.0h-20.0z"/><path d="M1605.1,924.8l10.0,18.0h-20.0z"/><path d="M1606.1,920.7l10.0,18.0h-20.0z"/><path d="M1606.9,919.0l10.0,18.0h-20.0z"/><path d="M1607.6,917.2l10.0,18.0h-20.0z"/><path d="M1608.6,917.1l10.0,18.0h-20.0z"/><path d="M1609.5,915.7l10.0,18.0h-20.0z"/><path d="M1610.4,914.6l10.0,18.0h-20.0z"/><path d="M1611.1,911.8l10.0,18.0h-20.0z"/><path d="M1612.1,910.9l10.0,18.0h-20.0z"/><path d="M1612.8,908.1l10.0,18.0h-20.0z"/><path d="M1613.4,909.3l10.0,18.0h-20.0z"/><path d="M1613.5,907.5l10.0,18.0h-20.0z"/></g>
<rect x="1027.70" y="782.20" width="600.20" height="482.10" fill="none" stroke="#000" stroke-width="2"/>
<path d="M1017.70,1264.28L1027.70,1264.28 M1022.20,1204.02L1027.70,1204.02 M1017.70,1143.76L1027.70,1143.76 M1022.20,1083.50L1027.70,1083.50 M1017.70,1023.24L1027.70,1023.24 M1022.20,962.98L1027.70,962.98 M1017.70,902.72L1027.70,902.72 M1022.20,842.46L1027.70,842.46 M1017.70,782.20L1027.70,782.20 M1068.30,1264.30L1068.30,1269.80 M1124.81,1264.30L1124.81,1269.80 M1164.90,1264.30L1164.90,1269.80 M1196.00,1264.30L1196.00,1269.80 M1221.41,1264.30L1221.41,1269.80 M1242.89,1264.30L1242.89,1269.80 M1261.50,1264.30L1261.50,1269.80 M1277.92,1264.30L1277.92,1269.80 M1292.60,1264.30L1292.60,1274.30 M1389.20,1264.30L1389.20,1269.80 M1445.71,1264.30L1445.71,1269.80 M1485.80,1264.30L1485.80,1269.80 M1516.90,1264.30L1516.90,1269.80 M1542.31,1264.30L1542.31,1269.80 M1563.79,1264.30L1563.79,1269.80 M1582.40,1264.30L1582.40,1269.80 M1598.82,1264.30L1598.82,1269.80 M1613.50,1264.30L1613.50,1274.30" stroke="#000" stroke-width="2" fill="none"/>
<text x="1012.0" y="1273.7" font-size="32.4" text-anchor="end" >2</text>
<text x="1012.0" y="1153.2" font-size="32.4" text-anchor="end" >4</text>
<text x="1012.0" y="1032.6" font-size="32.4" text-anchor="end" >6</text>
<text x="1012.0" y="912.1" font-size="32.4" text-anchor="end" >8</text>
<text x="1012.0" y="791.6" font-size="32.4" text-anchor="end" >10</text>
<text x="1292.6" y="1305.0" font-size="32.4" text-anchor="middle" >10</text>
<text x="1613.5" y="1305.0" font-size="32.4" text-anchor="middle" >100</text>
<text x="1327.8" y="1357.4" font-size="32.4" text-anchor="middle" >Temperature (K)</text>
<text transform="translate(943.8,1018.0) rotate(-90)" font-size="32.4" text-anchor="middle"><tspan font-style="italic" font-family="Liberation Serif, serif" font-size="48">ρ</tspan><tspan font-style="italic" font-size="22" dy="8">xx</tspan><tspan dy="-8"> (kΩ)</tspan></text>
<text x="1080.0" y="833.1" font-size="32.4" text-anchor="start" >9 T</text>
<text x="1058.5" y="892.8" font-size="32.4" text-anchor="start" ><tspan font-style="italic">V</tspan><tspan font-size="19.5" dy="10" dx="-1.2">G</tspan><tspan dy="-10" dx="-0.6">-</tspan><tspan font-style="italic" dx="-0.6">V</tspan><tspan font-size="19.5" dy="10" dx="-1.2">D</tspan><tspan dy="-10"> = 0 V</tspan></text>
</g>
<text x="2.0" y="51.0" font-size="40" text-anchor="start" letter-spacing="1.7">(a)</text>
<text x="861.5" y="48.2" font-size="40" text-anchor="start" letter-spacing="1.7">(b)</text>
<text x="3.5" y="746.3" font-size="40" text-anchor="start" letter-spacing="1.7">(c)</text>
<text x="861.0" y="748.2" font-size="40" text-anchor="start" letter-spacing="1.7">(d)</text>
</svg>
</body></html>
